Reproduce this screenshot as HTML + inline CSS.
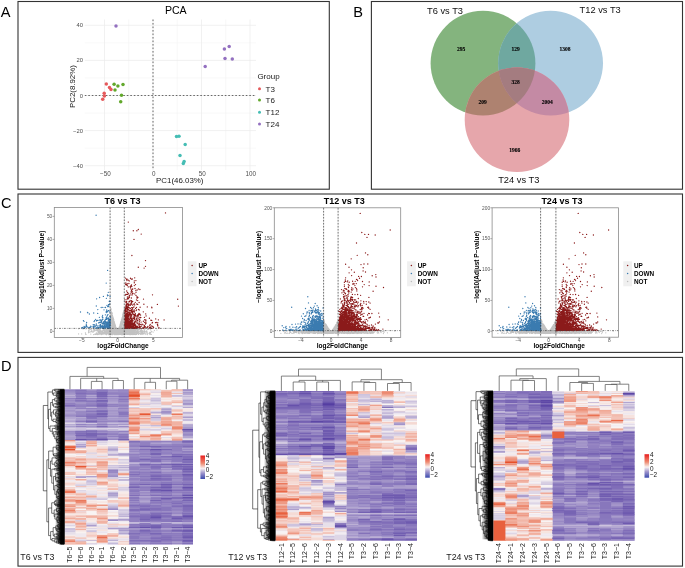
<!DOCTYPE html><html><head><meta charset="utf-8"><style>html,body{margin:0;padding:0;background:#fff;overflow:hidden}svg{display:block;will-change:transform}</style></head><body>
<svg width="685" height="568" viewBox="0 0 685 568">
<rect width="685" height="568" fill="#fff"/>
<line x1="128.75" y1="19.5" x2="128.75" y2="170" stroke="#F3F3F3" stroke-width="0.6"/>
<line x1="177.25" y1="19.5" x2="177.25" y2="170" stroke="#F3F3F3" stroke-width="0.6"/>
<line x1="225.75" y1="19.5" x2="225.75" y2="170" stroke="#F3F3F3" stroke-width="0.6"/>
<line x1="84.8" y1="148.15" x2="256" y2="148.15" stroke="#F3F3F3" stroke-width="0.6"/>
<line x1="84.8" y1="113.05" x2="256" y2="113.05" stroke="#F3F3F3" stroke-width="0.6"/>
<line x1="84.8" y1="77.95" x2="256" y2="77.95" stroke="#F3F3F3" stroke-width="0.6"/>
<line x1="84.8" y1="42.85" x2="256" y2="42.85" stroke="#F3F3F3" stroke-width="0.6"/>
<line x1="104.50" y1="19.5" x2="104.50" y2="170" stroke="#EBEBEB" stroke-width="0.7"/>
<line x1="153.00" y1="19.5" x2="153.00" y2="170" stroke="#EBEBEB" stroke-width="0.7"/>
<line x1="201.50" y1="19.5" x2="201.50" y2="170" stroke="#EBEBEB" stroke-width="0.7"/>
<line x1="250.00" y1="19.5" x2="250.00" y2="170" stroke="#EBEBEB" stroke-width="0.7"/>
<line x1="84.8" y1="165.70" x2="256" y2="165.70" stroke="#EBEBEB" stroke-width="0.7"/>
<line x1="84.8" y1="130.60" x2="256" y2="130.60" stroke="#EBEBEB" stroke-width="0.7"/>
<line x1="84.8" y1="95.50" x2="256" y2="95.50" stroke="#EBEBEB" stroke-width="0.7"/>
<line x1="84.8" y1="60.40" x2="256" y2="60.40" stroke="#EBEBEB" stroke-width="0.7"/>
<line x1="84.8" y1="25.30" x2="256" y2="25.30" stroke="#EBEBEB" stroke-width="0.7"/>
<line x1="153.00" y1="19.5" x2="153.00" y2="170" stroke="#444" stroke-width="0.8" stroke-dasharray="1.6,1.9"/>
<line x1="84.8" y1="95.50" x2="256" y2="95.50" stroke="#444" stroke-width="0.8" stroke-dasharray="1.6,1.9"/>
<text x="82.90" y="167.70" font-family="Liberation Sans" font-size="5.8" text-anchor="end" fill="#4D4D4D" >&#8722;40</text>
<text x="82.90" y="132.60" font-family="Liberation Sans" font-size="5.8" text-anchor="end" fill="#4D4D4D" >&#8722;20</text>
<text x="82.90" y="97.50" font-family="Liberation Sans" font-size="5.8" text-anchor="end" fill="#4D4D4D" >0</text>
<text x="82.90" y="62.40" font-family="Liberation Sans" font-size="5.8" text-anchor="end" fill="#4D4D4D" >20</text>
<text x="82.90" y="27.30" font-family="Liberation Sans" font-size="5.8" text-anchor="end" fill="#4D4D4D" >40</text>
<text x="105.30" y="176.10" font-family="Liberation Sans" font-size="6.3" text-anchor="middle" fill="#4D4D4D" >&#8722;50</text>
<text x="153.80" y="176.10" font-family="Liberation Sans" font-size="6.3" text-anchor="middle" fill="#4D4D4D" >0</text>
<text x="202.30" y="176.10" font-family="Liberation Sans" font-size="6.3" text-anchor="middle" fill="#4D4D4D" >50</text>
<text x="250.80" y="176.10" font-family="Liberation Sans" font-size="6.3" text-anchor="middle" fill="#4D4D4D" >100</text>
<text x="179.80" y="182.60" font-family="Liberation Sans" font-size="7.9" text-anchor="middle" fill="#1A1A1A" >PC1(46.03%)</text>
<text x="0" y="0" font-family="Liberation Sans" font-size="7.9" text-anchor="middle" fill="#1A1A1A" transform="translate(75.4,86.6) rotate(-90)">PC2(8.92%)</text>
<text x="175.80" y="13.60" font-family="Liberation Sans" font-size="10.6" text-anchor="middle" fill="#000" >PCA</text>
<circle cx="106.3" cy="84" r="1.75" fill="#E5595B"/>
<circle cx="109.5" cy="87.6" r="1.75" fill="#E5595B"/>
<circle cx="111" cy="89.5" r="1.75" fill="#E5595B"/>
<circle cx="104.2" cy="93.3" r="1.75" fill="#E5595B"/>
<circle cx="104.4" cy="96" r="1.75" fill="#E5595B"/>
<circle cx="102.7" cy="99.2" r="1.75" fill="#E5595B"/>
<circle cx="114.1" cy="84.2" r="1.75" fill="#62A82C"/>
<circle cx="117.9" cy="85.9" r="1.75" fill="#62A82C"/>
<circle cx="123" cy="84.4" r="1.75" fill="#62A82C"/>
<circle cx="115" cy="89.9" r="1.75" fill="#62A82C"/>
<circle cx="121.5" cy="95.2" r="1.75" fill="#62A82C"/>
<circle cx="120.7" cy="101.7" r="1.75" fill="#62A82C"/>
<circle cx="176.5" cy="136.6" r="1.75" fill="#45BDB4"/>
<circle cx="179" cy="136.2" r="1.75" fill="#45BDB4"/>
<circle cx="185.2" cy="144.5" r="1.75" fill="#45BDB4"/>
<circle cx="180" cy="155.5" r="1.75" fill="#45BDB4"/>
<circle cx="184.1" cy="161.6" r="1.75" fill="#45BDB4"/>
<circle cx="183.3" cy="163.5" r="1.75" fill="#45BDB4"/>
<circle cx="116" cy="26" r="1.75" fill="#9370C0"/>
<circle cx="224.4" cy="48.9" r="1.75" fill="#9370C0"/>
<circle cx="229.2" cy="46.4" r="1.75" fill="#9370C0"/>
<circle cx="225" cy="58.5" r="1.75" fill="#9370C0"/>
<circle cx="232.3" cy="59" r="1.75" fill="#9370C0"/>
<circle cx="205.2" cy="66.6" r="1.75" fill="#9370C0"/>
<text x="257.40" y="78.60" font-family="Liberation Sans" font-size="8.0" text-anchor="start" fill="#1A1A1A" >Group</text>
<circle cx="259.5" cy="88.7" r="1.5" fill="#E5595B"/>
<text x="265.60" y="91.60" font-family="Liberation Sans" font-size="8.0" text-anchor="start" fill="#1A1A1A" >T3</text>
<circle cx="259.5" cy="100.1" r="1.5" fill="#62A82C"/>
<text x="265.60" y="103.00" font-family="Liberation Sans" font-size="8.0" text-anchor="start" fill="#1A1A1A" >T6</text>
<circle cx="259.5" cy="112.3" r="1.5" fill="#45BDB4"/>
<text x="265.60" y="115.20" font-family="Liberation Sans" font-size="8.0" text-anchor="start" fill="#1A1A1A" >T12</text>
<circle cx="259.5" cy="124.1" r="1.5" fill="#9370C0"/>
<text x="265.60" y="127.00" font-family="Liberation Sans" font-size="8.0" text-anchor="start" fill="#1A1A1A" >T24</text>
<defs><clipPath id="cg"><circle cx="483" cy="63.2" r="52.4"/></clipPath><clipPath id="cb"><circle cx="550.6" cy="63.2" r="52.4"/></clipPath><clipPath id="cgb" clip-path="url(#cg)"><circle cx="550.6" cy="63.2" r="52.4"/></clipPath></defs>
<circle cx="483" cy="63.2" r="52.4" fill="#84B47E"/>
<circle cx="550.6" cy="63.2" r="52.4" fill="#AECDE1"/>
<circle cx="550.6" cy="63.2" r="52.4" fill="#6FA8A0" clip-path="url(#cg)"/>
<circle cx="517" cy="119.8" r="52.3" fill="#E6A6AB"/>
<circle cx="517" cy="119.8" r="52.3" fill="#AE8270" clip-path="url(#cg)"/>
<circle cx="517" cy="119.8" r="52.3" fill="#C48AA4" clip-path="url(#cb)"/>
<circle cx="517" cy="119.8" r="52.3" fill="#A47C80" clip-path="url(#cgb)"/>
<text x="461.20" y="51.40" font-family="Liberation Serif" font-size="5.5" text-anchor="middle" fill="#000" font-weight="bold" stroke="#000" stroke-width="0.12">295</text>
<text x="515.50" y="51.10" font-family="Liberation Serif" font-size="5.5" text-anchor="middle" fill="#000" font-weight="bold" stroke="#000" stroke-width="0.12">129</text>
<text x="565.00" y="51.10" font-family="Liberation Serif" font-size="5.5" text-anchor="middle" fill="#000" font-weight="bold" stroke="#000" stroke-width="0.12">1308</text>
<text x="515.70" y="84.00" font-family="Liberation Serif" font-size="5.5" text-anchor="middle" fill="#000" font-weight="bold" stroke="#000" stroke-width="0.12">328</text>
<text x="482.70" y="103.70" font-family="Liberation Serif" font-size="5.5" text-anchor="middle" fill="#000" font-weight="bold" stroke="#000" stroke-width="0.12">209</text>
<text x="547.30" y="103.70" font-family="Liberation Serif" font-size="5.5" text-anchor="middle" fill="#000" font-weight="bold" stroke="#000" stroke-width="0.12">2004</text>
<text x="514.80" y="151.50" font-family="Liberation Serif" font-size="5.5" text-anchor="middle" fill="#000" font-weight="bold" stroke="#000" stroke-width="0.12">1966</text>
<text x="427.00" y="13.90" font-family="Liberation Sans" font-size="9.3" text-anchor="start" fill="#111" >T6 vs T3</text>
<text x="579.60" y="12.90" font-family="Liberation Sans" font-size="9.3" text-anchor="start" fill="#111" >T12 vs T3</text>
<text x="498.20" y="182.90" font-family="Liberation Sans" font-size="9.3" text-anchor="start" fill="#111" >T24 vs T3</text>
<path d="M116.4 329.1h0M112.5 322.3h0M115.2 330.6h0M121.5 320.6h0M116.4 328.5h0M121 322.7h0M112.7 318.4h0M116.6 329.2h0M113.2 318.6h0M124 319.2h0M113.6 325.4h0M120.2 327.4h0M115.9 330.5h0M121.2 328.5h0M114.5 324.5h0M122.7 318h0M123.1 317.8h0M112.4 320.3h0M112 327.2h0M123.4 322.4h0M123 314.2h0M115.5 325.9h0M113.2 326.1h0M120.7 327.2h0M118.3 331h0M112.9 324.6h0M118.8 329.8h0M112.5 325.3h0M121.7 319.4h0M118.3 331.2h0M120.9 326.3h0M121.8 329.8h0M115.6 328.9h0M124.3 312.5h0M124.4 327.6h0M118.5 330h0M122.9 320.1h0M120.9 325h0M123.7 319.4h0M124.3 315.3h0M121.4 327.3h0M112.9 326.1h0M114.7 324.4h0M122.6 327.4h0M124.7 309.9h0M114.9 324.3h0M117.3 331h0M124.6 322.5h0M117.3 331.1h0M122.7 321.5h0M122 320.9h0M114.4 322.4h0M124.3 319.6h0M118.7 330.7h0M119.6 329.3h0M123.6 311.6h0M117.7 331.4h0M115.5 329.4h0M119 331.2h0M114.3 324.7h0M112.2 321.4h0M124.4 310.8h0M119.6 327.5h0M117.7 331.2h0M123.1 317.9h0M124.2 319.2h0M117.8 331.3h0M113 330.8h0M122.1 324.5h0M113.4 331h0M112.9 327h0M119.9 328.5h0M124.1 318.1h0M119.4 329.1h0M110.8 324.4h0M124.4 312.3h0M111.5 323.1h0M120.6 327.5h0M124.4 324.2h0M115.8 330.8h0M113.8 322h0M113.7 325h0M116.4 329.5h0M110.5 309.1h0M119.1 327.8h0M121.3 324h0M116.8 329.7h0M115.3 327.5h0M111.6 312.7h0M112.6 322.3h0M114.7 328.5h0M112.8 322.3h0M119.1 330.5h0M112.7 323.9h0M111.2 324.5h0M117.4 331.3h0M120 330.4h0M115.5 328.4h0M116.8 330.2h0M124.2 308.6h0M122.7 314.5h0M113 320.7h0M122.2 323.5h0M112.6 318.3h0M115.3 325.3h0M119.3 328.1h0M116.9 331h0M116.3 329.1h0M115.9 328.9h0M111.8 312.9h0M120.2 326h0M120.6 322.6h0M123 329.8h0M124.5 313.1h0M118.5 330.8h0M113.2 323.7h0M114.3 322.8h0M119.1 327.4h0M114.9 329h0M123.3 314.2h0M115.4 330.2h0M121.8 326.2h0M114.1 328.2h0M117.4 331.1h0M111.4 327.8h0M111.3 313.3h0M111.5 319h0M121 323.5h0M120.9 330h0M112.6 322.5h0M124.7 315.9h0M113.8 327h0M115.2 326.5h0M121.3 329.9h0M121.9 329.6h0M112.9 320.5h0M110.8 323.2h0M122 319h0M123.6 318.4h0M114 321.2h0M121.1 322h0M111.1 314.2h0M115.3 325h0M115.2 329.1h0M113.4 323.1h0M118.6 330.9h0M116.2 328.7h0M113.7 320.8h0M112.8 317.1h0M110.6 316.5h0M116.6 329.1h0M118 331h0M122.7 324h0M111.1 313.8h0M116.8 329.6h0M115.2 330.5h0M122.7 321.7h0M122.4 323.2h0M123.9 330h0M112.7 328.6h0M124.4 311h0M120 325h0M123.1 319.6h0M113.2 326.8h0M114.5 322.3h0M122.9 322.5h0M123.7 327.2h0M113.2 319.8h0M112.3 318.1h0M120.8 324.2h0M111.4 321.4h0M114.6 328.1h0M112.9 326.7h0M122.1 321.8h0M121.5 326.5h0M124.2 313.5h0M112.4 315.3h0M113.2 318.9h0M112.3 330.2h0M122.8 319.1h0M115 330.7h0M120.1 328.6h0M113 325.8h0M116.4 329.5h0M123.5 329.8h0M112 325.5h0M112.8 316.6h0M120.3 330.9h0M110.6 320.9h0M123.1 321h0M123.9 327.8h0M122.9 324.8h0M113.4 322.1h0M119.9 328.7h0M116.1 328.9h0M123.6 312h0M122.3 329.1h0M115.6 327.5h0M115.9 331.2h0M121.3 325.9h0M122.4 319.5h0M123.2 313.2h0M121.3 325.2h0M119.7 327.5h0M112.6 322.1h0M116.5 330.9h0M119.1 330.8h0M114.7 326h0M121.9 319.2h0M117.8 331.3h0M118.8 329.1h0M122.8 319.4h0M120.8 327.3h0M121.1 323.8h0M121.2 330.2h0M116.1 330.1h0M124.5 320.1h0M124.3 315.1h0M112.9 330.3h0M116.8 331.2h0M112.5 315.5h0M123.5 319.3h0M120.3 324.3h0M116.3 328.1h0M123 327.1h0M112.8 324.3h0M114.5 322.3h0M115.2 331.3h0M110.9 308.4h0M118.4 329.6h0M115.1 325.7h0M113.9 326h0M122 320.9h0M115.5 331.1h0M113.1 325.1h0M118.6 331.2h0M121.6 324.9h0M118.4 330.1h0M114.5 331h0M122.9 315.3h0M115.9 330.8h0M116.3 330.4h0M124.5 319.9h0M114.3 329.6h0M118.1 330.5h0M120.9 324h0M119.8 327.3h0M111.6 321h0M124 316.9h0M112 322.8h0M122.6 319.5h0M113.3 318.8h0M118.2 330.5h0M112.7 324.3h0M120.6 323.2h0M119.9 328.9h0M113.3 321.4h0M119.6 327.1h0M124.7 319.1h0M122.1 318.5h0M123.1 313.3h0M116.6 331h0M117.2 331.3h0M116.1 330h0M119.2 331.2h0M113.4 318.3h0M122.5 325.8h0M111.1 326.3h0M116.7 330.1h0M121.4 319.9h0M122.5 316.9h0M120.8 322.6h0M118.3 331h0M118.5 330.7h0M117.5 331.4h0M115 325.8h0M119 329.9h0M110.8 314.2h0M122.3 330.4h0M116.7 329.8h0M122.6 328.2h0M113.7 319.4h0M123.6 324.2h0M116 329h0M114.8 324.5h0M113.8 323.3h0M121.5 329.8h0M116.4 328.5h0M111.6 315.2h0M119 328.7h0M114 325h0M113.3 328.2h0M121 324h0M114.9 328.3h0M122.9 316h0M113.6 326.2h0M122.7 319.2h0M112 319.8h0M124.3 326.2h0M121.4 322.7h0M114.3 321.8h0M111 329h0M124.5 315.5h0M111.3 316h0M115.9 327.5h0M124.2 322.3h0M122.4 317.8h0M121.6 321.5h0M118.8 330.6h0M119 328.6h0M111.3 320h0M119.9 329.5h0M121.3 327.8h0M120.9 327.2h0M120.6 324.3h0M120.9 329.2h0M115.3 326.9h0M111.1 312.2h0M113.7 324.1h0M115.2 325.2h0M115.8 327.8h0M111.7 319.7h0M111.8 312.3h0M111.6 318.7h0M122.1 328.3h0M115 329.2h0M119.4 327.3h0M120.5 323.7h0M116.8 330.5h0M115.4 328.6h0M114.8 329.1h0M118.6 329.2h0M116.3 328.1h0M116.5 329h0M114.5 326.6h0M110.9 310.1h0M110.7 324.7h0M118.5 331.1h0M113.1 322.3h0M117.7 331.4h0M112.6 322.3h0M112.9 329.5h0M121.5 328.4h0M115.3 327.8h0M114 325h0M118 330.8h0M122.5 318.8h0M111.9 322.4h0M116.8 330.5h0M110.5 322.2h0M116.1 330.5h0M124.2 320.3h0M110.6 315.4h0M120.9 321.4h0M123.7 314.9h0M121.9 319.9h0M119.8 326.1h0M112.5 315.4h0M114.8 323.6h0M116.3 330.6h0M123.3 323.8h0M119.2 329.9h0M110.9 311.7h0M119.3 328.9h0M115 324.3h0M123.5 318.6h0M111.5 330.2h0M114.5 328.4h0M122.2 324.2h0M110.8 326.6h0M120 327.2h0M115.4 330.9h0M118.5 330.7h0M122.7 330.9h0M122.7 328.3h0M118.7 329.4h0M112.3 321.2h0M119.9 325h0M121.5 329h0M113.3 327.8h0M122 329.9h0M121.8 327.7h0M114.5 327.9h0M122.8 322.6h0M119.4 329.9h0M111.3 326.1h0M114.6 327.2h0M111.9 329.6h0M122.2 318.7h0M121.1 324.6h0M113.9 324.8h0M121.6 324.5h0M120.9 325.2h0M121.9 317.9h0M121.3 326.1h0M123.7 318h0M119.7 329.7h0M123.1 322.6h0M114.4 329.9h0M123.8 312.5h0M111.6 316.2h0M118.3 330.1h0M124.3 312.6h0M123.5 327.4h0M122.5 320.2h0M116 330.5h0M111.5 317.3h0M113.1 328.5h0M115.7 330.2h0M112.8 328.5h0M118.7 329.8h0M112.4 328.3h0M119.2 329.5h0M115.1 327.9h0M117.8 331h0M114.7 324.2h0M122.2 321.8h0M122.5 318.9h0M120.8 331.1h0M115.3 328.5h0M118.5 330.7h0M114.8 325.4h0M123.3 327.6h0M110.9 309h0M111 322h0M116.8 329.8h0M118.7 329h0M114.7 326.7h0M121.8 331.3h0M117.1 331.2h0M116.8 330.5h0M111.6 315.3h0M110.5 317.5h0M121 321.5h0M123.4 313.2h0M112.4 324.4h0M123.2 312.5h0M120.9 325.4h0M124.3 328.5h0M118.7 331.2h0M115.4 328.7h0M122.4 323.7h0M115.5 330h0M111.5 312.2h0M111.6 323.4h0M123.4 315.5h0M111.2 324.9h0M112.8 323.4h0M119.1 329.5h0M120.2 325.2h0M117.5 331.4h0M114.5 328.6h0M112.8 317.9h0M112.4 319.3h0M122.9 327.1h0M119.7 329.5h0M110.9 327.8h0M113.5 320.1h0M115.9 329.1h0M124.3 311.1h0M122.6 320.7h0M112.5 317.5h0M113 319.6h0M117.6 331.4h0M113.4 326.9h0M112.3 323h0M122.6 321.6h0M119.4 326.6h0M113.9 327.2h0M112.3 317.4h0M124.1 323.8h0M115.7 327.8h0M121.9 320.6h0M117 331.4h0M119.1 328.4h0M114.6 323.5h0M117.4 331.1h0M120.4 324h0M123.9 321.3h0M115.2 329.9h0M116.3 330h0M116.7 329.4h0M121.8 321.7h0M120.8 325.9h0M112.9 331.1h0M114.5 330.2h0M121.6 323.5h0M114.4 322.9h0M119.9 327h0M117.5 331.3h0M119.9 331.3h0M123.1 326.1h0M114.9 326h0M123.3 324.2h0M118 330.9h0M122.8 330.1h0M123.6 318.8h0M119.6 328.4h0M114.6 331h0M115.4 326.3h0M114.2 322.9h0M124.2 327.3h0M122.8 319.6h0M116.7 329.4h0M110.5 316.6h0M112.5 318.1h0M111.7 327.6h0M111.5 329.2h0M124.2 324.1h0M111.9 315.8h0M115.4 329.1h0M123.1 315.3h0M122.6 329.5h0M120.9 325.9h0M111.3 320.2h0M117.7 331.2h0M121.5 322.6h0M124 313.9h0M121.7 322.8h0M120.6 329.4h0M118.6 329.6h0M119.2 328.2h0M119.8 326.7h0M124.7 317.9h0M121.8 324.7h0M115.1 329.9h0M111.2 312.5h0M122.2 323.8h0M120 324.9h0M122.5 325.8h0M117.3 331.1h0M113.6 326h0M121.6 322.9h0M118.2 330h0M112.7 326.5h0M117.8 331.2h0M119.2 329.8h0M123.1 328.6h0M120.7 330.7h0M112.3 313.7h0M113.5 326h0M114 323h0M113.1 319.6h0M117.8 331.1h0M117.6 331.4h0M124.3 314.2h0M112.5 315.5h0M116 329.2h0M122.7 315.9h0M124.3 310.7h0M111.5 314.4h0M112.8 319.7h0M113.6 319.2h0M122.3 322.7h0M116.1 327.6h0M114.1 329.9h0M123.9 314.7h0M120.5 329.9h0M119.8 328.6h0M113.6 323.3h0M111.7 316.3h0M124 315.1h0M110.5 325h0M110.7 327.9h0M116.6 330.9h0M114.1 324h0M121.8 328h0M122.6 315.9h0M118.6 329.7h0M120.5 328.1h0M114.6 325.3h0M113 329.6h0M120.5 325.6h0M120.1 329.8h0M119.2 328.5h0M112.7 325.6h0M120.1 327h0M119.3 328h0M124.2 324.6h0M120.6 330.5h0M119.9 330h0M118.4 329.8h0M113.6 319.4h0M114.9 326.3h0M113.2 329.4h0M120.1 326.6h0M121.2 326.7h0M116.5 330.7h0M118.2 330.4h0M124.3 310.5h0M123 320.4h0M120.9 325h0M115.9 327.2h0M122.5 331.3h0M122.1 318.5h0M112.9 317.1h0M124.6 309.7h0M114.8 326.3h0M124.3 310.1h0M114.2 325.5h0M110.6 320.3h0M110.6 317.3h0M120.8 330.6h0M113.8 330.7h0M111.1 318.1h0M124.1 316.7h0M116.7 331.2h0M113.7 321.7h0M118.5 330.9h0M111.4 325.3h0M119.8 328h0M115 325.2h0M120.2 327.2h0M122.9 315.1h0M115 325.4h0M114.2 324.8h0M123.9 311.9h0M114.2 326.9h0M124.2 316.5h0M124.2 315.2h0M121.1 329.8h0M119.5 329.6h0M124.4 308.1h0M121.8 326.2h0M120.4 323.7h0M117 331.3h0M114 327.8h0M117.3 331.2h0M112.9 331.3h0M114.5 324.2h0M120 329.3h0M115.8 328.2h0M112 328.5h0M111.1 316.9h0M117.7 331.3h0M113.6 324.4h0M116.9 330.1h0M118 331.1h0M110.6 312.4h0M120.1 325.3h0M113.5 327.3h0M111.1 322.8h0M122.4 320.8h0M120.4 329.3h0M112.4 331.1h0M111.9 318.4h0M112.8 319.5h0M120.6 329.9h0M112 319.5h0M120.5 326.6h0M120.5 326.5h0M115.3 325.3h0M124.6 329.4h0M116.5 330.7h0M118.1 331.3h0M120 326.8h0M116.5 329.1h0M114.7 326.2h0M124.4 329.9h0M124.4 317.6h0M115.7 330.5h0M120 330.4h0M120.7 327.8h0M110.8 310.4h0M115.4 326.9h0M112 312.8h0M112.8 322.7h0M111.2 325.7h0M115.3 328.6h0M124.3 328.2h0M124.7 319.3h0M114.5 325.2h0M110.9 314.6h0M112.2 313.8h0M115.7 329.1h0M114.2 329.9h0M115.5 326.3h0M111.1 325.8h0M115.7 329.3h0M124 326.8h0M115.3 326.6h0M124.1 311.2h0M123.4 325.7h0M123 319.7h0M119.8 331.1h0M112.3 318.4h0M122.3 328.1h0M120.4 328.2h0M124.7 315.9h0M124.5 318.4h0M122.5 318.4h0M111 329.9h0M114.9 329.2h0M116.1 330.4h0M114.9 327.8h0M113.3 319.3h0M111.1 309.4h0M123.7 311.1h0M119.6 330h0M123.6 325.7h0M111.2 323.2h0M122 322.1h0M113.8 321.1h0M121.2 324.9h0M119.3 331.1h0M115.5 327.1h0M113.7 323.1h0M113.7 325.8h0M113.6 323.6h0M121.1 328h0M111.4 323.3h0M119 329h0M119.1 329.6h0M124.3 321.5h0M113.2 328.4h0M122.2 317.9h0M121.2 324.8h0M120.9 322.4h0M114.8 326h0M113.5 329.8h0M111.6 330h0M117.2 331.2h0M110.8 320.7h0M116 330.4h0M113.8 326.4h0M111.6 312.2h0M116.4 331.3h0M122.5 329.4h0M113 320.2h0M121.8 321h0M123.6 324.4h0M116.5 331h0M119.4 329.3h0M111 314.3h0M110.8 322.9h0M116.5 329.9h0M112.6 322.9h0M116.7 329.5h0M110.9 315.4h0M110.8 321.2h0M112.5 323.3h0M121.3 329.2h0M122.5 318.1h0M113.4 327.8h0M123.6 327.8h0M111.5 322.9h0M123.8 315.9h0M123.7 318.9h0M119.4 331.3h0M119.3 328.4h0M112.4 317.9h0M121.8 321h0M110.7 324.5h0M118.1 331.3h0M114.4 327.1h0M111.3 325.1h0M114.1 321.1h0M116.4 329.3h0M120.2 328.5h0M110.7 310.6h0M111.9 318.7h0M123.7 329.8h0M119.7 329.7h0M123.5 324.7h0M117.7 331.3h0M115.8 328h0M112.9 327.4h0M122.5 317.3h0M114.1 326.3h0M124.5 307.4h0M120.5 326h0M119.8 331.2h0M119.3 329.2h0M112.1 318h0M123.6 321h0M111.6 316.7h0M112.9 329.1h0M117.9 331.4h0M120.8 329.9h0M116.2 328.8h0M119.9 329.5h0M117.3 331h0M122.7 317.3h0M119.7 330.3h0M121.9 330h0M124.5 313.8h0M115.7 327.4h0M115.3 325.5h0M115.5 328.9h0M118.2 331.3h0M113.3 320.4h0M113.4 322.6h0M113.1 317.4h0M124.5 322h0M113.2 331.1h0M113 329.9h0M124 311.2h0M111.3 321.9h0M113.6 329.8h0M122.2 330.5h0M123.1 334.5h0M140.8 333.5h0M147.3 334h0M131.7 334.1h0M129.2 333h0M128.2 333h0M122.1 333.9h0M112.3 333.9h0M86 334.4h0M130.8 331.7h0M128.5 334.2h0M121.2 330.6h0M122.5 329h0M133.6 333.3h0M132.9 333.3h0M123.3 330h0M117.5 331.2h0M128.7 334.3h0M131.3 328.8h0M149.9 334.4h0M108.8 331.2h0M127.3 333.4h0M109.1 329.9h0M114.8 333.7h0M151.8 331.3h0M115.3 331.7h0M119.1 332h0M113.1 331.7h0M132.1 331.9h0M115.2 332.9h0M98.7 331.7h0M122.6 333.7h0M131.6 333.8h0M120.4 331.1h0M122.8 331.7h0M111.5 331h0M108.3 331.3h0M120.7 330.9h0M105.6 332.9h0M114.8 328.5h0M107.5 333h0M117.5 333.1h0M131.1 332.9h0M120.1 334.4h0M135.5 328.5h0M125.3 329.4h0M118.8 328.6h0M108.5 331.8h0M121.8 329.5h0M105.1 329.7h0M130.4 333.3h0M102.6 331.3h0M102 334.2h0M109.1 329.6h0M98.2 332.4h0M121.7 329.5h0M110.1 330.8h0M114.2 331.1h0M128.5 332.9h0M91.1 329.7h0M117 333.3h0M125 333.8h0M133.8 332.7h0M122 330.4h0M111.4 330.1h0M132.6 334.1h0M132.5 328.9h0M149.6 333.4h0M148.7 329.1h0M117.6 331.2h0M138.4 328.5h0M123.1 334.1h0M106.9 331h0M129.7 331.6h0M137.6 333.4h0M89.2 330h0M137.9 331.7h0M109.4 329.3h0M141.6 329.4h0M123.4 333.2h0M122.3 332.6h0M138.8 333h0M115.9 330h0M148 329.4h0M107.6 329.7h0M112.4 334.6h0M105.9 330.9h0M127.4 334.4h0M119.3 328.5h0M130.8 329.1h0M134.7 332.4h0M130.7 332.5h0M134.5 333.9h0M134.6 331.2h0M119 330.6h0M110.4 330.1h0M107.1 333.7h0M129.9 331.2h0M113 330.3h0M107.2 329.5h0M108.9 334.5h0M117.1 331.6h0M123 332.8h0M116.6 331.2h0M106.3 331.3h0M127 332.2h0M90.3 328.7h0M115.5 330.7h0M133.4 332.6h0M123.2 328.8h0M135.3 332.5h0M121 329.8h0M127.2 330h0M120.1 333.8h0M113.8 332.5h0M124.5 333.2h0M132.3 328.7h0M93.4 331.9h0M108.6 329.1h0M91.6 330.8h0M106.9 329.9h0M102.2 333.2h0M112.8 332.3h0M115.2 329.5h0M131.7 330.2h0M135.3 328.9h0M108.4 329.8h0M112.4 330.5h0M127.1 330.4h0M110.4 332.9h0M113.5 333.7h0M94.5 330.9h0M128.5 330.9h0M122.3 329.2h0M106.2 333.1h0M101.4 333.1h0M104.8 328.9h0M124.6 331.6h0M112.5 331.6h0M102.8 330.6h0M114.5 334.6h0M130.2 333.5h0M135.4 329h0M136.6 333.8h0M120.7 328.9h0M122.5 328.9h0M123 334.2h0M128 331.4h0M127 332.8h0M106.6 330.5h0M109.6 328.8h0M114.2 332.7h0M128.6 333.8h0M112.6 328.8h0M109.2 329.8h0M132.7 332.3h0M138.5 329.3h0M107.4 331.4h0M117.5 334h0M134.5 332.3h0M114.1 330h0M131.4 332.7h0M100.7 330.6h0M116.5 333.5h0M128 329.8h0M139.4 333.3h0M131.8 332.5h0M98.1 329.8h0M99.2 333.4h0M107.9 331.8h0M130.2 329.6h0M128.9 330.6h0M133.5 334.1h0M128.4 334h0M111.8 329.8h0M114.3 334.3h0M107.6 333.6h0M130.2 334.2h0M102.7 333.4h0M120.1 330.8h0M122.5 332.7h0M135.4 334.5h0M109.2 330.6h0M124.5 331h0M106.1 331.2h0M132.7 330.9h0M114.5 330.7h0M115.2 333.4h0M106.8 334.5h0M111.3 332.2h0M110.8 334.5h0M111.2 332h0M134.5 329.5h0M106.3 333.9h0M122.4 330.4h0M130.2 330.8h0M104.4 329.4h0M91.1 331.4h0M125.4 330.4h0M97.6 329.9h0M109.1 330.8h0M118 333.3h0M122.9 328.8h0M115.8 331.7h0M110.1 333.3h0M132.3 329.4h0M122.2 330.7h0M144.5 332.3h0M107.5 330h0M118.1 331.7h0M118.7 330.5h0M126.4 329.2h0M122.3 334.5h0M119.6 329.9h0M144.9 328.9h0M117.2 329.5h0M125.1 328.4h0M121.8 332h0M111.4 333.1h0M129.1 332.4h0M95 334.4h0M134.3 330.6h0M99 333.8h0M115.2 329.3h0M120.7 328.4h0M112.9 332h0M112.5 330h0M135 332.9h0M150.6 328.5h0M133 328.9h0M121.5 330.5h0M111.2 331.3h0M109.3 334.5h0M135.2 328.6h0M131 334.6h0M136.6 328.9h0M132.5 331.6h0M136.7 328.5h0M111.5 332.2h0M109.1 332.5h0M106.1 330.7h0M119 330.1h0M116.8 331h0M120.8 334.4h0M103.6 333.5h0M121.6 332.1h0M129.8 332.6h0M120.3 330.6h0M84.2 328.6h0M119 330.7h0M114.6 331h0M131.2 334.2h0M117.2 332.8h0M127.6 329.6h0M114.3 329.5h0M123.6 333.6h0M132 330.3h0M115.8 329.3h0M123.3 328.9h0M121.4 331.7h0M127.3 332.2h0M117.8 334.2h0M125.5 332.8h0M95.5 334.1h0M116.3 331.3h0M130 333.3h0M128 329.1h0M106.8 333.5h0M108.9 334.3h0M124.4 329h0M123.9 330.8h0M125.3 330.9h0M120.1 330.6h0M120.7 334.3h0M132.7 334.2h0M107.2 332.6h0M101.3 331.9h0M132.4 331.5h0M109.4 330.1h0M128.2 331h0M110.5 331.6h0M105 329.7h0M139.2 331.2h0M118.3 334.3h0M101 331.5h0M116.4 332.4h0M117 332.4h0M116.5 333.4h0M121.3 330.3h0M104.3 333.3h0M115.5 333.8h0M124.9 330.5h0M127.1 329.6h0M120.2 329h0M108.7 333.2h0M93.6 334.6h0M138 331.3h0M104.6 328.5h0M113.3 333.2h0M119.3 332.4h0M124.9 329h0M118.8 330.5h0M108.6 330.9h0M118.6 330.1h0M145.9 333.6h0M151.4 331.8h0M116.3 333.3h0M127.5 330.9h0M96.6 330.6h0M121.9 331.4h0M128.4 329.9h0M115.3 333.7h0M142.7 331.7h0M130.5 334.6h0M127.1 333.1h0M85.5 334h0M111.3 332.8h0M128.4 329h0M112.9 329h0M96.5 332.8h0M111.8 331.2h0M138.9 332.9h0M128 333.1h0M130.5 331.6h0M121.8 328.8h0M140.1 329h0M83.1 329.1h0M103.9 328.8h0M144.1 329.3h0M132.9 333.7h0M122.5 334.5h0M114.9 332.6h0M96 334.3h0M113.8 333.2h0M117.5 333.4h0M107.4 331.5h0M137.1 328.8h0M132.7 330.4h0M115.7 330.3h0M131 331.7h0M118.8 329.3h0M122.9 330.5h0M113.2 328.6h0M151.4 334.3h0M100 332.5h0M117.5 330.6h0M132.8 332.5h0M132.7 332.3h0M98.4 332.3h0M107.2 329.5h0M118.2 333.2h0M109.1 330.1h0M110.8 333.3h0M116.2 330.7h0M117.4 331h0M133.7 333.4h0M97.4 330.9h0M133.1 333.6h0M116.5 331.1h0M127 330.3h0M114.9 333h0M149.8 333.1h0M96.2 333h0M134.8 334.4h0M113.7 331.1h0M116.5 330.8h0M137.8 328.9h0M116.9 334h0M131.2 332.6h0M138.3 328.6h0M111.8 331.2h0M145.7 331.7h0M135.9 331.9h0M116.7 331.3h0M122.5 329.8h0M110.4 334.3h0M123.4 331.7h0M130.9 334.2h0M132.6 334h0M122.6 332.2h0M113 333.6h0M111.3 333.4h0M107.3 331.8h0M116 329.2h0M127.4 328.7h0M112.1 331.6h0M110.8 333.1h0M106 331.2h0M127 332.5h0M116.3 329.4h0M98.7 328.7h0M133.9 334.5h0M133.3 334.4h0M119.9 330.2h0M115.1 328.6h0M119.2 333h0M107.7 330.7h0M132.6 334.5h0M137.5 330h0M132.9 331.5h0M122.7 328.5h0M122.6 328.8h0M126.5 333.9h0M141.7 333.4h0M109.3 330.8h0M119.4 333.7h0M110.7 330.9h0M104 329.8h0M123.9 331.3h0M134.2 331.9h0M106 328.5h0M132.3 329.2h0M128.3 330h0M125.6 330.6h0M137.2 333.6h0M111.1 333.3h0M140.4 330.6h0M115 330h0M126.6 332.6h0M99.7 331.3h0M132.2 332.7h0M120 329.2h0M112.3 331.7h0M106.3 332.9h0M122.2 329.5h0M136.7 332.1h0M126.4 330h0M115.2 333.1h0M109.7 331h0M106 332.3h0M115.3 333.4h0M98.9 330.5h0M114.7 330h0M133.6 330.9h0M118.7 331.7h0M117.5 330h0M111.7 333.9h0M128.7 334.4h0M127.6 333.3h0M137.8 330.1h0M110.5 331.2h0M105.1 332.7h0M111.6 330.4h0M103.5 332.4h0M118.7 332.5h0M113.8 329.8h0M108.3 328.6h0M118.7 328.5h0M132.3 332.9h0M128.6 330.9h0M111.2 333.2h0M119.8 333.5h0M123.3 333.2h0M127.8 330.1h0M114.9 329.9h0M102.7 331.9h0M123.7 332.7h0M106.8 332.7h0M114.5 332.5h0M115.8 329.6h0M131.1 332.1h0M113.2 333.2h0M121.4 329.4h0M116.5 333.6h0M112.2 328.8h0M130.6 332.1h0M113.3 329.7h0M125.4 331.4h0M122.9 330.3h0M95.4 330.5h0M98 331h0M78.7 328.8h0M123 331.2h0M122.6 331.2h0M112.5 329.8h0M112.5 331.8h0M115.1 332.3h0M111.2 330.6h0M118.8 331.9h0M118.8 333.5h0M107.8 331h0M137.6 332.5h0M132.2 331.4h0M114 329.4h0M147.2 328.6h0M150.8 328.4h0M135.2 334.1h0M134.7 329h0M111.8 328.6h0M115.3 332h0M99 332.3h0M114 331.7h0M131.9 334h0M114.1 330.4h0M97.8 333.1h0M140 333.3h0M144.7 331.8h0M138.9 329.5h0M99.7 334.2h0M130 331.2h0M108.7 328.9h0M117.6 329.2h0M128.4 333.7h0M139.1 332.9h0M111.4 334.4h0M114.9 329.8h0M103.2 334.2h0M119.5 330.8h0M106.9 329.4h0M113 330.4h0M129.2 329.4h0M119.3 330.8h0M121 334.3h0M123.1 333.5h0M129.8 329.1h0M137.3 333.8h0M104.4 332.4h0M98.7 332h0M126.1 330.1h0M128.4 328.4h0M137.4 329.8h0M129.6 333.8h0M141.8 334.2h0M126.1 331.6h0M111.3 333.7h0M132.4 332.2h0M108 330.8h0M110.6 331.5h0M124.7 332.4h0M116.2 332.1h0M131.5 328.4h0M114.6 329.8h0M143.1 333.9h0M106.3 331.7h0M128.6 330.1h0M113.5 328.6h0M137.8 332.7h0M112.1 329.6h0M129.4 330h0M78.6 333.9h0M110 334.4h0M140.9 334.2h0M122.1 334h0M120.7 330.3h0M131.1 334.4h0M150.7 329.9h0M105.4 331h0M118.6 328.9h0M113.7 332.8h0M128.7 329.1h0M110.5 328.8h0M99.4 331.6h0M99.9 332.2h0M128.2 331.3h0M122.4 329.5h0M130.8 329.2h0M99 330.7h0M108 333.4h0M112.6 334.5h0M130.7 329.5h0M125.4 329.7h0M117.5 332.5h0M106.7 332.8h0M122.2 329.3h0M113.6 332.3h0M131.2 333.7h0M142.3 330.6h0M121.3 328.5h0M105.2 330.8h0M150.5 334.2h0M128 333.4h0M126.7 332.6h0M121.3 328.5h0M122 333.3h0M121 332.7h0M123.2 334.3h0M100.4 332.7h0M110.6 329.3h0M118.6 332.8h0M121.7 330h0M122.4 328.5h0M125.4 333.8h0M96.3 333h0M107.3 332.3h0M111.2 334.5h0M121.5 334.4h0M117.3 328.9h0M145.4 328.5h0M114.9 331.9h0M116.7 328.9h0M99.8 333.3h0M143.4 332.1h0M120.9 330.4h0M118.4 332.8h0M111.5 330.5h0M121 330.9h0M115.3 328.6h0M135.6 329.5h0M109.4 332.5h0M114.2 331h0M113 331.6h0M127.5 331.4h0M124.2 331.3h0M132.6 331.8h0M126.9 334.4h0M127.3 333.7h0M120.6 333.1h0M131.6 328.7h0M126.2 328.9h0M124.2 330.5h0M99.2 329h0M113.9 329.7h0M111 330.8h0M96.4 333h0M136.8 333.5h0M138.6 334.4h0M133.9 328.8h0M127.3 332.6h0M139.1 328.5h0M98.2 334.4h0M136.3 331.3h0M93.6 328.7h0M121.9 334.3h0M121.4 328.4h0M126.4 329.9h0M128.3 332.8h0M129 328.6h0M110.7 329.7h0M111 332.9h0M109 328.9h0M121.4 333.1h0M115.3 329.3h0M99.2 329.4h0M132.2 330.5h0M105 331.4h0M113.4 332.7h0M110.1 333.6h0M110.1 332h0M127.2 333.7h0M110.8 331.3h0M101.2 330.9h0M111.1 330h0M106.4 332.2h0M99.8 331.9h0M131.5 330.1h0M134.6 332.3h0M101.1 334h0M139.9 329.1h0M143.3 333.7h0M101.8 334.3h0M125.1 333.1h0M116.1 329.4h0M130.4 329.9h0M81.7 333.9h0M127.7 330.6h0M114.9 329.2h0M125.8 328.8h0M131.1 331.3h0M89.2 329.2h0M119 332.4h0M119.6 334.4h0M127.4 333.7h0M134.3 333h0M129.4 334.4h0M109.7 328.6h0M128.8 328.4h0M109.9 329.1h0M129.6 331.3h0M117.4 331.9h0M117.4 332.6h0M121.4 331.1h0M99.1 333.8h0M115.6 329.8h0M104.3 332.5h0M131.6 329.6h0M136.1 334h0M101 332.9h0M90.7 329.5h0M122.8 329.7h0M112.3 330.5h0M107.6 331.1h0M149.2 328.5h0M114.3 330.5h0M106.4 332.7h0M116.1 333.4h0M123.4 331.9h0M140 328.8h0M123.6 333.6h0M103.5 329.2h0M113.3 329.9h0M143.4 333.6h0M97.2 334.5h0M119.1 334.2h0M134.9 331.4h0M123.1 333.1h0M116.9 330.2h0M108.3 331.2h0M121.8 332.2h0M126.5 331.2h0M122.6 330.1h0M132.9 330.2h0M122.4 333.8h0M136.4 333h0M121.6 333.4h0M131.5 330.9h0M115.6 328.7h0M142.3 331.7h0M136 334.3h0M128.7 332.2h0M107 332.8h0M122.3 331.8h0M81.9 328.6h0M115.1 328.6h0M121.9 331.2h0M108.6 330.1h0M121.9 334.5h0M128.4 331h0M143.2 330.8h0M120.1 329.4h0M99.7 331.9h0M89.6 332h0M117.8 329.3h0M131.5 333.8h0M134.4 328.7h0M121.2 330.3h0M111.4 329.2h0M110.8 329.2h0M118.1 332.2h0M121.1 328.9h0M127.6 330.1h0M121.5 330.7h0M145.9 333.8h0M122 331.5h0M126.3 331.1h0M133.5 333.7h0M132.2 332.5h0M111.6 331.6h0M99.1 333.2h0M103.2 333.1h0M124.8 332.1h0M127.7 333.8h0M124.5 332.7h0M130.2 332.1h0M136.8 333h0M110.1 333.2h0M153.1 332h0M154.4 330.5h0M129.9 334.3h0M117.9 332.6h0M123.4 332.9h0M102 331h0M120.5 334h0M109.6 333.9h0M118.9 328.8h0M116 331.2h0M146.8 330.9h0M109 333.6h0M124.2 334.5h0M114.9 334.1h0M140.6 334.3h0M133.9 332.4h0M100.5 333.1h0M107.5 328.7h0M123.8 334.4h0M112.2 334.6h0M126 334.1h0M121.2 334.6h0M106.2 331.6h0M116.3 332.1h0M126.3 332.7h0M119.2 328.6h0M122 330h0M125 333.4h0M118.6 334h0M137.6 329.1h0M103.8 329.3h0M126.3 334.1h0M113.5 329.4h0M125.4 330.8h0M131.1 329.8h0M128.4 330.1h0M128.9 332.6h0M130 329.3h0M127.1 334.4h0M117.2 328.8h0M129.7 334.3h0M132.8 330.5h0M131.4 331.7h0M123.8 330.7h0M123.8 328.8h0M94.5 330.1h0M109.6 331.5h0M117.6 330.4h0M133.1 332.3h0M135.6 333.7h0M122 333.8h0M105.6 333h0M126.4 329h0M132.9 331.9h0M130 330.3h0M111.1 332.5h0M106.2 329.5h0M108.5 330.7h0M106.2 333.1h0M133 334.3h0M124.1 329.8h0M148 333.5h0M141.4 329.9h0M133.1 333.7h0M111.2 329.6h0M128.6 330.3h0M125.9 333.5h0M101.9 331.8h0M103.7 330.5h0M110.5 333.5h0M136.3 333.4h0M115 333.5h0M102.1 334.2h0M121.1 328.7h0M127.8 333.3h0M104.3 331.2h0M144.7 333.5h0M110.3 332.9h0M133.7 329.1h0M128.8 333.4h0M110.5 334.2h0M118.4 329.4h0M120.2 331.5h0M115.3 331.8h0M129.7 328.8h0M120.7 332.4h0M97.5 329.8h0M121.1 332.1h0M105 331.9h0M116.9 330.1h0M122.9 332.2h0M118.4 334.5h0M133.1 333h0M118.9 329.2h0M113.1 332.6h0M141.2 330.9h0M129.4 330.9h0M118.1 329.7h0M120 332.3h0M114.7 330.5h0M120.9 332.3h0M107.4 333h0M142.7 334.2h0M135.8 329.6h0M90.8 334.1h0M107.4 332.3h0M119.2 330.6h0M111.4 332.9h0M92.2 331.5h0M128.8 329.5h0M104.4 330h0M128.7 332.5h0M125.7 329h0M139.5 329.3h0M108.2 329.6h0M143.4 333.3h0M103.9 332.1h0M139.2 328.4h0M133.6 330.9h0M125.5 333.1h0M105.7 331.8h0M140.8 332.3h0M130.3 331.1h0M98.3 332.7h0M86.2 328.7h0M111.2 331.5h0M108.7 331.6h0M129.1 334.4h0M121.6 333.2h0M124 333.4h0M113.2 332h0M132.2 334.2h0M112.4 332.7h0M100.2 329.4h0M88.6 331.5h0M126.6 329h0M111.9 332.1h0M97.6 331h0M108.4 329.3h0M114.7 332.3h0M128.8 331.7h0M92.2 332h0M114.6 331.3h0M129.5 332.9h0M126.1 330.1h0M130.6 333.3h0M145.7 334.2h0M108.9 333.8h0M112.2 333.6h0M134 331.5h0M141.1 329.8h0M124.6 332h0M116 333.6h0M105.2 334h0M128.3 329.9h0M124.8 332.2h0M106.4 334.5h0M113.5 330.3h0M107.6 329.5h0M127.9 328.7h0M118.5 329.2h0M136.5 334.4h0M137.9 330.4h0M124.7 331.1h0M135.9 332.3h0M134.1 333.9h0M140 333.7h0M114.4 329.8h0M128.8 332.6h0M144.6 330.7h0M129.3 331h0M115.3 330.1h0M124 330.2h0M150.6 332.3h0M115.8 333.7h0M112.7 331.5h0M132.7 333h0M116 330h0M100.5 331.1h0M100.4 331h0M121.1 330.1h0M112.8 330.2h0M140 331.7h0M113.1 329.5h0M102.9 329.8h0M110.9 329.7h0M104.9 334h0M136.2 329.7h0M110.8 331.2h0M140.6 331.7h0M128.4 329.8h0M147.5 329.2h0M119.7 329.5h0M132 334.3h0M93.8 329.2h0M114.9 333.5h0M111.3 331.2h0M136.1 328.9h0M119.4 333.3h0M129.8 330.4h0M111.7 332.5h0M104.2 333.6h0M120 329.3h0M138.1 329.7h0M120.4 328.9h0M141.6 334.2h0M116.8 333.4h0M116.5 334.1h0M116.5 334.2h0M117.7 331.6h0M112.1 329.5h0M118 329.5h0M110.5 334.6h0M107.6 332.6h0M141 332.6h0M132.6 328.7h0M117.2 332.9h0M113.2 329.9h0M100.7 333.6h0M128.8 333.4h0M112.3 330.6h0M146.3 331.1h0M98.4 331.1h0M125.6 333.6h0M137 329.4h0M114.2 329.4h0M147.7 333.1h0M134.3 331.1h0M134.1 332.6h0M110 333.4h0M134.6 328.8h0M134.4 331.2h0M123 334h0M144.8 331.9h0M125.7 333h0M91.7 328.6h0M125.8 332.9h0M144.2 331.7h0M113.4 332.6h0M131.1 333.9h0M113 329.1h0M121.3 330.2h0M85.9 328.9h0M97.7 329.3h0M117.4 330.9h0M113.7 331h0M96.8 330.3h0M130.5 332.2h0M125.8 330.1h0M109.7 333.8h0M94.1 331h0M128.7 330.3h0M114.6 333.8h0M130.6 334.3h0M135.8 332.1h0M116.4 329.8h0M117.9 332.7h0M130.8 333.6h0M117.4 330.3h0M94.8 330.1h0M128.6 332.9h0M124.7 333.6h0M113 331.9h0M127.2 333.5h0M115.4 334.5h0M114.9 329.5h0M130.7 331.4h0M102.1 333.5h0M98.9 332.8h0M118.1 332.6h0M102.7 331.9h0M131.3 328.8h0M110.3 329.6h0M97.3 333.9h0M114.7 330.2h0M90.7 331.8h0M137.9 333h0M119.6 334.2h0M128.9 330.7h0M126.7 328.6h0M122.6 334.4h0M106.3 329h0M130.2 329.3h0M115.6 332.6h0M109.9 330.2h0M93.2 330.2h0M136.7 330.3h0M116.8 330.7h0M114.5 329.6h0M94.9 329.3h0M132.2 333.1h0M118.5 331.5h0M133.2 329h0M119.5 334h0M108.8 331.2h0M127.4 329.7h0M99.4 329h0M99.6 330.5h0M119 331.4h0M129.7 331.5h0M134.5 333h0M118.7 332.5h0M118.4 330.3h0M122.6 329.1h0M117.2 328.7h0M113.4 328.9h0M126.5 333h0M113.3 333.1h0M117.1 334.1h0M135.6 329h0M122.8 331.1h0M113.2 332.6h0M129 330.6h0M118.1 329.5h0M128.8 330.1h0M108.7 333.4h0M109.8 331.1h0M101.3 334.5h0M134.6 332.9h0M138.2 331.1h0M135.4 330.6h0M124.5 333.3h0M122.5 330.4h0M116.8 332.4h0M127.5 334.2h0M117.5 328.5h0M106.7 331.1h0M132.8 330.9h0M131.5 333.6h0M126.7 329.9h0M119 334.2h0M114.9 333.6h0M121 329.4h0M122.5 329.9h0M104.7 331.9h0M113.9 333.6h0M106.1 331.6h0M134.2 332.9h0M102.3 332.3h0M104.1 333.5h0M108.3 329h0M121.8 329.5h0M107.7 328.5h0M142.4 332.5h0M129.2 331.9h0M88.7 330.4h0M122.6 328.9h0M124.2 333.8h0M103.3 333.8h0M118.5 334.2h0M120.7 334.3h0M111.3 333.3h0M118.3 332.8h0M124 331.8h0M113 330.4h0M118.8 330h0M104 329h0M127.7 329.7h0M111.3 332.7h0M135.3 328.5h0M146.2 332.5h0M141.3 333.8h0M113.6 329.1h0M125.1 328.9h0M116.2 332h0M125.5 333.4h0M108.8 332.7h0M106.4 328.8h0M118.9 334h0M109.2 330.1h0M135.4 334.4h0M128.9 330.6h0M123.9 329.6h0M117.6 330.9h0M117.3 334.6h0M132.1 334.2h0M120.5 331.6h0M119.7 329.9h0M143.8 333.8h0M121.4 332.2h0M116.2 328.7h0M116.6 334.6h0M136.1 328.5h0M113.2 333.4h0M113.4 333.4h0M133.8 329.3h0M134.7 328.6h0M137.8 330h0M108.5 334.6h0M125.3 333.6h0M112.3 328.6h0M125 331.2h0M99.2 329.7h0M117.1 329.6h0M133.6 331.1h0M122.3 333.2h0M88.5 332.7h0M132.6 329.3h0M124.4 328.6h0M116.2 333.3h0M119.6 330.4h0M115.5 329.8h0M134.6 333.5h0M119.3 331h0M99 330.5h0M108.7 332.2h0M140.8 332.3h0M134.3 332.6h0M130.1 330h0M109.5 329.1h0M126.8 330.9h0M133.1 334h0M121.1 330h0M129.2 332.3h0M134.5 328.9h0M133.2 331.8h0M125.7 330.9h0M125.9 330.9h0M103.9 329.1h0M116.1 330.4h0M130.7 331.2h0M142 331h0M122.3 330.8h0M134 330.2h0M120.1 328.9h0M107.4 332.1h0M125.5 331.6h0M125.9 330h0M108.4 329.2h0M108.8 329.5h0M120.6 330.2h0M113.4 331h0M126.5 333.8h0M102.4 334.2h0M130.5 333.9h0M112 329.9h0M124.5 334.3h0M99.8 333.2h0M132.1 330.6h0M122.6 332.1h0M147.3 334.5h0M98.5 328.7h0M96.3 329.2h0M129.3 334.6h0M131.5 331h0M96.9 328.9h0M126.9 333.9h0M132.1 331.6h0M138.2 332.3h0M121.7 328.4h0M100 334.2h0M94.9 334.2h0M147.1 331.9h0M125.3 331.7h0M132.7 332.2h0M115.8 330.9h0M117 332.9h0M117.3 330h0M107.9 331.9h0M116.2 328.5h0M105.6 334.1h0M114.6 330.7h0M134.4 333.4h0M120.3 330.7h0M111.3 331.3h0M142.4 333h0M136.9 332.2h0M120.6 331.4h0M97.5 330.7h0M136.8 329h0M137 331h0M112.4 329.1h0M138.5 331h0M109.3 331.1h0M116.6 333.7h0M114.1 330.4h0M122.4 328.4h0M118.3 333.3h0M138.6 329.6h0M115.5 330.8h0M125.8 334.1h0M120.6 333.2h0M123.2 331.6h0M109.4 333.9h0M119.6 334.1h0M138 332.3h0M130.7 328.6h0M104.9 333h0M114.8 328.6h0M107 333.5h0M110.7 332.1h0M111.7 329.2h0M104.2 332.1h0M126 329.2h0M131.8 331.1h0M122 331h0M113.9 329.6h0M122.1 329.8h0M110.2 333.8h0M133.5 331.2h0M150.3 328.8h0M85.4 332.8h0M125 333.7h0M120.7 328.9h0M122.6 330.5h0M116.5 329.8h0M100.6 330.7h0M119 333.9h0M114.8 329h0M118.1 333.3h0M119.4 329.4h0M113.5 331.5h0M149.6 332.3h0M103.9 333.2h0M115 329h0M103.5 329.4h0M117.9 333.7h0M140 328.6h0M119.4 333.4h0M109.2 328.6h0M102.8 330.8h0M127 331.4h0M110.8 330h0M128.1 329.4h0M111 332.1h0M113.1 329.3h0M119.2 329.2h0M98.8 332h0M135.5 330h0M105.2 330.7h0M121.9 331h0M125.7 331h0M150.4 333.6h0M126.1 329.3h0M130.8 330.5h0M113.4 334h0M118.1 331.3h0M119.8 333.3h0M133.7 331.8h0M107.1 329.9h0M125.2 334.3h0M156.9 330h0M107.5 332.1h0M96.2 334h0M113.2 334h0M118.2 328.6h0M141.5 332h0M126.3 332.9h0M134.8 329.9h0M110.8 334.6h0M119.5 328.7h0M123.8 331.2h0M109.1 334.2h0M123.7 331.1h0M116.4 329.3h0" stroke="#C2C2C2" stroke-width="1.25" stroke-linecap="round" fill="none"/>
<path d="M109.3 324.2h0M105.4 328.1h0M108.4 328.3h0M104.4 324.6h0M102.6 315.3h0M94.1 321.5h0M108.3 323.3h0M87.5 312.3h0M104.5 326.6h0M107.5 314.8h0M104.2 326.3h0M100.1 327.6h0M109.5 327.9h0M107.7 327.1h0M108.7 322.1h0M110.2 317.2h0M110.1 324.9h0M110.4 325.3h0M103.6 322h0M100.4 325.4h0M97.4 327.9h0M109.8 312h0M108.8 324.2h0M106.3 325.1h0M104.4 323h0M109.6 322.8h0M108.2 320.8h0M104.7 327.1h0M100.6 326.3h0M108.6 325.1h0M108.7 305.3h0M107.9 323.1h0M106 326.7h0M105.3 322h0M107.5 294.8h0M103.6 328.2h0M107.5 295.7h0M108.8 323.8h0M106.7 309.9h0M97.7 320.4h0M108.2 326.1h0M110.3 325.1h0M109.7 325.7h0M109 327.9h0M106.7 319h0M106.2 317.6h0M96.3 306h0M103.4 328.4h0M109.7 326.9h0M106.9 327.3h0M110.3 323.9h0M109.9 316.2h0M101.9 325.8h0M108.7 324.1h0M110.1 322.3h0M106.7 311.1h0M108.1 318.5h0M98.9 328.1h0M107.8 327.1h0M108.5 326.1h0M106.1 322.9h0M107.8 322.8h0M108.3 326.3h0M107.2 325.4h0M100.7 328.1h0M107.6 311.8h0M108.4 325.5h0M105.6 323.1h0M107.3 322.5h0M104.7 320.3h0M109.4 322h0M96.3 323.9h0M105.5 321.1h0M108.6 328.2h0M102.8 307.4h0M97.2 328h0M106.7 322.8h0M107.3 325.9h0M97.8 309.6h0M109.8 327.8h0M103.7 326h0M108.9 327.8h0M107.2 327.4h0M106.7 322.7h0M89.4 314h0M102.9 317.7h0M105.5 319.6h0M107.5 325.7h0M109.2 328.1h0M103.4 322.5h0M108.9 319.9h0M107.1 318.1h0M100.6 324.7h0M102.1 319.6h0M104.5 326h0M105.7 326.8h0M108.9 328.4h0M108 328.3h0M83.4 320.6h0M110.4 323.5h0M110.2 327.7h0M106.9 323.8h0M108.9 325.6h0M106.2 311.6h0M101.1 326.1h0M109.3 301.5h0M106.7 319.4h0M110.2 322h0M94.3 324.6h0M106 318.1h0M109.8 303.8h0M105.8 327.3h0M103.4 326.9h0M108.7 324.2h0M109 321.2h0M101.9 320.1h0M107.8 325.8h0M106.5 317.8h0M110.4 320.6h0M107.7 325.7h0M98.7 322.9h0M93.2 324.7h0M104.6 325h0M108.7 310.7h0M107.6 306.6h0M100.2 324.6h0M110.1 320.3h0M106.8 322.9h0M86.6 322.5h0M105.1 307.4h0M100.2 319.6h0M102.2 325.9h0M105.8 324.2h0M106.8 316.6h0M104 324.2h0M102.7 319.5h0M97.7 313.4h0M107.5 324.7h0M101.5 321.6h0M106.4 322.3h0M104.3 321.4h0M93.5 327.5h0M106.9 323.7h0M102.8 319.5h0M108.7 326.7h0M94 326.9h0M109.4 319.2h0M109 324.7h0M107 305.4h0M109.8 327.2h0M100.1 326.9h0M108.3 318.5h0M102.6 323.9h0M108.5 304.6h0M98 320.4h0M106.3 319h0M98.8 322.9h0M101.8 321.1h0M108.4 325.3h0M101.2 307.5h0M102.8 323.7h0M108.4 306.5h0M109.9 316.1h0M107.5 326.8h0M109.8 321.8h0M108.4 317.9h0M106.6 326.6h0M100 320.5h0M109.3 324h0M109.2 304.4h0M106.7 324h0M103 326.9h0M101 321h0M95.5 319.3h0M107.4 327.9h0M103.7 323.4h0M107.1 326h0M106.6 322.2h0M107.3 315.6h0M100.2 322.3h0M105.7 327h0M102.5 317.4h0M109.2 328.2h0M106.6 312.1h0M96.5 320.9h0M105.5 322.5h0M109.7 322.4h0M108 325.2h0M105.4 314.8h0M94 327.5h0M107.2 322h0M102.3 327.5h0M104.7 323.2h0M106.5 325.9h0M109.2 325h0M110.1 319.4h0M109.6 326.9h0M108.1 295.4h0M109.2 321.1h0M107.5 328.2h0M101.9 322.8h0M103.4 326.8h0M109 328.1h0M110.1 327.4h0M110.2 323.2h0M108.3 326h0M109.8 326h0M107.7 325.5h0M108.1 324.5h0M109.1 323.7h0M104.9 325h0M99.9 319.8h0M107.6 323.5h0M110.2 326.1h0M109.7 319.8h0M107.4 328.2h0M108.5 324.3h0M107.5 322.1h0M105.5 321.2h0M109.5 325.4h0M109.9 325.9h0M109.1 321.3h0M104.5 325.1h0M98.1 325.8h0M80.5 312h0M109.2 327h0M87.8 312.7h0M106.9 327.2h0M98.8 328.1h0M108.2 319h0M102.4 325.7h0M109.8 323.7h0M110.2 320.4h0M99.4 317.3h0M105.7 322.4h0M101 322.7h0M110.3 317.5h0M103.1 323.1h0M100.9 325.7h0M107.1 327.3h0M101.2 326.5h0M109.3 327.5h0M106.2 312.6h0M108.1 323.6h0M109.5 325.2h0M108.9 323.1h0M99.5 322.3h0M109.5 328h0M109.5 323.9h0M102.3 316.7h0M109.6 323.9h0M93.7 313h0M99.2 327.8h0M110 326.1h0M102.9 317.8h0M95.3 326.2h0M106.4 325.5h0M108 314.6h0M110.4 319.4h0M108.5 324.4h0M96 328.1h0M98.6 327.8h0M89.4 327.5h0M94.2 325.8h0M100.6 327.1h0M84.3 328.1h0M105.8 325.9h0M85.9 326.1h0M85.2 327.4h0M103.9 324.1h0M105.7 326.1h0M90.4 327.3h0M92 326.8h0M102 327.7h0M95.6 328.1h0M103.8 328.3h0M96.1 327.8h0M93.4 326.7h0M84.4 326.9h0M97 328.3h0M102.3 326.3h0M83 328.2h0M90.7 326.2h0M102.9 328.1h0M104.7 326.8h0M96.9 327.6h0M100.3 327.8h0M97.2 326.1h0M99.6 325.8h0M84 321.3h0M86.4 326.7h0M89.9 327.3h0M104 328h0M86.9 326.5h0M96.5 320.5h0M85 327.5h0M104.9 328.2h0M102.6 328.3h0M103 327.2h0M86.3 324.2h0M83 328h0M88 327.5h0M98.7 327.4h0M104.9 327.8h0M82.7 327.3h0M102 327.1h0M86.5 325.3h0M94.7 320.6h0M97.9 327.6h0M96.2 325.2h0M107 311.5h0M108.8 306.3h0M99.6 297.5h0M105.5 307.5h0M110.1 296.4h0M108.2 310.6h0M109.4 301.2h0M104 309.8h0M110 301.4h0M106.4 298.3h0M103.4 296.4h0M96.6 298.8h0M96.1 215.2h0M107.6 270.4h0M106.2 283.1h0M84 326.3h0M81.8 327.7h0M108.3 292.3h0" stroke="#3A7BB0" stroke-width="1.35" stroke-linecap="round" fill="none"/>
<path d="M128.8 323.1h0M136.2 310.5h0M127.6 318.7h0M131.5 309.9h0M132.6 327.3h0M139.3 326.6h0M132.2 320.6h0M127.3 325.4h0M133.1 310.9h0M128.1 316.9h0M126.1 301.9h0M130.5 321.2h0M124.9 319.5h0M127.1 284.2h0M125.2 312.6h0M133.6 323.8h0M126.4 315.8h0M132.4 311h0M131.4 319.5h0M127.9 320.6h0M130.3 327.3h0M135.1 315.7h0M126.5 328h0M125 310.1h0M131.3 323.6h0M137.6 326.3h0M131.9 320.6h0M134.1 319h0M131.8 319.2h0M125 311.9h0M127.7 324.5h0M127.1 327.6h0M130.3 308.5h0M131.7 327.8h0M131.1 320.7h0M135 326.9h0M128 321.5h0M136.5 307.4h0M125.1 326.1h0M130.9 303.5h0M125.8 326h0M125.4 325h0M136.8 327.4h0M127.6 321.6h0M129.8 321.4h0M144.2 326.2h0M126.8 323.2h0M139.4 321.6h0M126.3 311.2h0M128.6 315.4h0M126.4 326h0M130.1 326.6h0M127.8 319.7h0M127 327.2h0M128 326.9h0M137.1 317.1h0M145.3 326.6h0M127.1 323.7h0M137 323.1h0M126.2 324.2h0M131.7 315h0M127.7 320.1h0M129.5 314.6h0M128.8 326.8h0M127.2 325.6h0M124.8 319.2h0M132.9 328.3h0M131.6 324.9h0M137 296.7h0M134.5 323.8h0M126.5 325.1h0M127 307.6h0M126.8 315h0M129.8 308h0M124.9 318.8h0M129.7 327.8h0M131.6 318.7h0M126.4 327.6h0M132.7 309h0M145.5 324h0M130.5 325.4h0M131.5 328.1h0M129.6 328.4h0M125.2 321.9h0M135.4 315.6h0M129.2 322.9h0M131.8 309.5h0M130.1 322.4h0M129.1 325.4h0M128 318.5h0M130.5 325.3h0M131.6 323.2h0M133.6 325.5h0M126.4 322.8h0M126.8 308.5h0M126.8 322.4h0M126.1 325.6h0M128.9 309.9h0M128.7 321.5h0M141.6 326.1h0M131 321h0M125.2 317h0M134.4 323.6h0M129.9 314.4h0M129 316.9h0M130.2 326.5h0M131.9 323.9h0M132.9 293.5h0M125.7 319.8h0M140.5 324.3h0M126.9 325.2h0M127.1 327.1h0M129.1 322h0M129.5 328.2h0M126.5 323.1h0M125.2 320.6h0M133.1 320.7h0M128.6 316.2h0M127.7 327.3h0M129.3 320.8h0M127.2 316.2h0M131.5 311.2h0M125.2 325.3h0M127.9 314.8h0M134.3 324.6h0M127.2 328.3h0M134 306.9h0M134.7 318.1h0M132.6 313.3h0M133 328h0M124.8 325.2h0M131.7 316h0M130.4 316.7h0M139 313.5h0M131.1 321.5h0M125.5 317.9h0M130.3 325.7h0M131.7 324.4h0M124.9 315.5h0M129.9 323.5h0M129.4 319.3h0M130.9 317.3h0M135.8 315.3h0M130 318.5h0M125.7 322.8h0M138.9 327.5h0M127.6 307.2h0M127 324.9h0M126.5 325.9h0M125.1 325.1h0M126.9 313.8h0M127.8 310.2h0M129.3 325.8h0M130.6 325.4h0M125.4 309.2h0M127.5 322.5h0M124.9 326.1h0M130.9 327.4h0M139.9 320.6h0M129.4 324.4h0M126.3 316.9h0M128.5 327h0M133.3 324h0M126.3 321.1h0M126.1 321h0M128 324.2h0M133.9 328.3h0M129.5 314.3h0M130.3 323.1h0M131.3 323.2h0M136.6 327.3h0M128.4 321.5h0M126.8 294.4h0M131.5 324.2h0M134.7 304.9h0M130.4 326.5h0M127.8 325.5h0M137.9 323.2h0M124.8 313.8h0M128.8 311.9h0M128.2 322.9h0M125.2 321.3h0M127.1 326.8h0M130.9 310.9h0M130.1 325.7h0M132.7 312.5h0M126.8 328.4h0M141.1 322.1h0M134.3 310h0M126.8 320.6h0M129.2 312.4h0M131.8 323.5h0M126.7 323.3h0M139.6 319.4h0M130.8 320.9h0M130.7 325h0M130.4 324.7h0M130.3 317.2h0M130.4 326.7h0M131.4 298h0M126.2 318.7h0M127.8 325.8h0M128.5 316h0M138.2 324.8h0M136.5 318.7h0M128.2 316.8h0M127.6 325.8h0M129.2 322.4h0M128.5 305.1h0M129.4 319.4h0M125.4 308.9h0M128.4 327h0M132.6 324.4h0M126.5 318.3h0M128 314.3h0M136.8 321.9h0M126.3 308h0M125.2 318.9h0M133.9 304.5h0M127.1 317.6h0M134.8 325.2h0M127.1 323.3h0M130.8 318.4h0M127.5 323.4h0M140.5 326.9h0M127.9 321.2h0M124.9 312h0M125.7 325.6h0M132.4 324h0M127.9 322.8h0M132.4 326.5h0M126.4 325.4h0M132.5 326h0M133.9 311.1h0M129.7 307.9h0M132.9 320.8h0M129.1 328.2h0M125.5 327.4h0M127.2 308.8h0M128.3 323.4h0M130.1 321.3h0M134.8 323.2h0M130.3 326.1h0M127.5 303.6h0M129.6 310.7h0M132.5 312.7h0M129.8 328.4h0M125.8 307.5h0M130.3 310.3h0M126.3 326.9h0M132.9 323.2h0M134.7 327.6h0M128.2 326.6h0M128.5 323h0M125.5 326.2h0M126.3 328.1h0M125 318.9h0M131.7 321h0M134.9 319.5h0M125.1 301.8h0M127.1 321.1h0M135.3 324.6h0M128.6 314.4h0M125.9 322.3h0M126.1 320.8h0M130.3 326.8h0M135 288.5h0M126.8 317.3h0M125.3 323.3h0M134.5 322h0M135 327.7h0M127.9 322.8h0M127.3 318.2h0M137 318.2h0M126.7 302.1h0M131.7 323.5h0M129.4 321.5h0M129.4 323.6h0M125.3 318.1h0M126 327.9h0M125.8 326.1h0M140.6 315.1h0M136.6 309.8h0M125.6 325.9h0M125.9 317.1h0M125.6 321.5h0M131.6 324.2h0M132.9 325.5h0M126.2 322h0M125 326.3h0M125 328.1h0M125 310.8h0M130.5 318.3h0M126.7 324.8h0M129.2 327.1h0M131.8 311.9h0M125.5 320.6h0M130.3 327.8h0M139.7 314.6h0M125.9 306.5h0M128.9 322.4h0M138.7 318.1h0M130.2 320.6h0M136.7 319.8h0M135.4 313.7h0M129.3 321.2h0M128 316.3h0M139.9 317.5h0M128.2 298.8h0M136 295.4h0M128.5 327.6h0M131.3 327.9h0M127.1 326.2h0M127.3 326.5h0M128.3 323.5h0M128.6 305.8h0M147.3 327.2h0M130.1 327.4h0M125.5 325h0M149.6 327.5h0M136 328h0M139.9 314.1h0M124.8 323.9h0M129.5 319.1h0M135.3 325.7h0M135.4 328h0M126.3 303.1h0M133.3 327.7h0M133.4 325.3h0M133 314.2h0M127.2 324.5h0M129.7 322.9h0M127.7 323.6h0M132.2 322.7h0M140.8 317.5h0M125.6 324.2h0M140.2 328.2h0M126 328.4h0M126.5 323.4h0M139.2 310h0M129.3 325.2h0M128.4 326.3h0M133.5 323.8h0M129.1 322.3h0M130.7 315.1h0M144.5 322.3h0M125.7 318.7h0M126 322.4h0M130.2 323.4h0M126.3 327.9h0M126.7 307h0M126.4 327.6h0M144.4 317.3h0M138.5 315h0M128.1 327.1h0M130.9 322.6h0M134.1 325.8h0M136 326.6h0M125.7 310.6h0M129.4 313.3h0M127.5 327.4h0M134.3 314.3h0M129 323.5h0M128 328.3h0M125.2 316.2h0M125.9 319.5h0M126.7 315.9h0M132.6 319.9h0M126.5 327.1h0M127.1 324.8h0M129.2 304.6h0M127.5 323.7h0M129.6 328.2h0M139.7 327.5h0M126.8 319.7h0M129.7 327h0M126.7 305.7h0M129.5 328.2h0M126 326.1h0M125.6 327.3h0M131.1 317.2h0M132.3 327.5h0M125.8 283h0M125.5 325.6h0M125.3 310.4h0M126.5 320.8h0M150.2 324.4h0M125.5 327h0M135.7 325h0M125.2 308.7h0M135.4 326.9h0M126.2 328.2h0M136 316.2h0M127.3 306.1h0M146.1 315.9h0M134 316.7h0M132.1 320.8h0M129.9 324.7h0M125.4 327.7h0M127.4 307.1h0M132.3 323.5h0M125.9 315.3h0M128.2 322.3h0M126 328.1h0M131.1 321.3h0M145.8 320h0M127.9 317.2h0M131.1 324.8h0M126.9 320.5h0M129.6 301.5h0M125.6 322h0M134.2 315.1h0M131.1 301.8h0M151.7 307.2h0M134.7 324.9h0M128.9 322h0M134.7 317.6h0M130.1 300.3h0M129.1 326.8h0M135.3 302.3h0M125 320.2h0M125 319.4h0M128.8 301.9h0M129.9 322.2h0M129.8 322.3h0M128.5 322.8h0M134.7 317.7h0M131.3 324.7h0M129.8 326.7h0M145.7 313.9h0M129.9 308.3h0M131.8 320.3h0M130.8 314.5h0M125.2 316.6h0M125.5 327h0M125.6 322.6h0M128.5 318.4h0M131.6 307.6h0M137.8 320.3h0M124.8 312h0M127.7 318.8h0M145.8 322.2h0M150.4 327.9h0M133.3 326.3h0M149.6 327.9h0M127.1 322.1h0M125.3 327.2h0M128.3 307.2h0M130.4 325.7h0M137.1 290h0M133.7 325h0M130.5 327.3h0M128.9 327.1h0M129 323.7h0M125.2 316.1h0M126.1 319.3h0M126.7 325.9h0M133.4 326.2h0M132.7 328h0M129.1 325.7h0M125.3 326h0M129.1 326.8h0M138 320h0M133.5 317.9h0M132.5 305.1h0M127.3 326.5h0M126.3 313.4h0M130.6 320.4h0M136.9 297.9h0M128 327.1h0M131.4 311.3h0M137.4 315.2h0M126.4 325.9h0M127.8 308.5h0M125.2 324.6h0M126 322.1h0M124.9 326.3h0M128.1 317.8h0M135.3 314.9h0M131.2 326.1h0M129.6 319.3h0M131.2 325.6h0M125.3 314.2h0M130.7 304.8h0M126.7 312.8h0M126.7 328h0M128 325.5h0M126.1 320.3h0M129 324.2h0M147.3 306.9h0M129.2 325.9h0M127.4 323.4h0M131.5 328h0M130.5 321.9h0M124.9 323.1h0M147.9 326.5h0M128.5 312.7h0M125.4 326.1h0M133.4 318.2h0M132.7 320.3h0M149 328.1h0M125.3 325.5h0M138 316.4h0M134.8 327.4h0M125.5 327.6h0M139.3 323.7h0M127.1 325.9h0M125.6 315.8h0M131.6 319.2h0M125.2 323.3h0M128.8 320.1h0M128.6 325.5h0M131.7 304h0M129.7 314.1h0M130.5 314.7h0M124.8 324.7h0M127.7 323.8h0M128.1 319.4h0M129.6 325h0M127.1 327.8h0M142.1 324.1h0M127.4 322.3h0M130.5 313.8h0M132.8 313.2h0M130 315.4h0M125.8 322.8h0M127.4 313.7h0M130 313.2h0M126.4 322.5h0M132.5 322.6h0M129.7 326.8h0M129.6 321.8h0M125.3 322.6h0M128 325h0M127.2 328.2h0M132.3 324.1h0M126.7 328h0M127.6 321.9h0M127.4 311.7h0M134.1 315.9h0M125.9 326.2h0M126.6 301.5h0M125.6 326.6h0M132.3 318.1h0M126 322.4h0M129.2 323.6h0M133.2 314.2h0M125.4 325.8h0M130 324.4h0M130.1 328.3h0M127.5 323.7h0M134.6 312h0M127.8 317.6h0M136.8 304h0M150.3 327.1h0M137.2 320.8h0M125.3 316.8h0M131.7 312h0M131.6 323.4h0M127.1 318.9h0M127.7 321.8h0M127.2 304.4h0M125 327.2h0M131.2 312.1h0M128.2 326.1h0M139.3 327.3h0M133.6 323.5h0M127.1 326h0M126.1 302h0M132.5 327h0M128.4 322.3h0M124.9 328.3h0M126.2 325.2h0M126.1 327.3h0M126.9 313.2h0M131.3 314.2h0M133 293.5h0M137.7 327.9h0M127.4 292.3h0M132.7 301.5h0M129.2 325.5h0M126.6 307.6h0M130.5 327.1h0M132.5 324h0M128.1 324.1h0M127.4 315.8h0M125.6 324.8h0M125.7 328.1h0M127.2 326.3h0M126.8 305.5h0M130.1 321.1h0M128.7 324.7h0M128.5 326.2h0M131 323.3h0M126.4 326.8h0M127.1 313.9h0M132.3 307.9h0M125.2 320.2h0M131.7 326.5h0M126 318h0M133.2 307.3h0M144.7 319.7h0M126.8 317.6h0M131.1 320.6h0M128.8 297h0M132.6 321h0M125.3 328.2h0M129.8 321.6h0M131.2 324h0M131.3 327.7h0M125.3 325.9h0M137.6 327.5h0M128.5 314.6h0M138 315.9h0M130.2 312.9h0M126.3 328.3h0M126.1 310h0M128.1 328.1h0M124.8 326.3h0M130.1 305.4h0M127.2 322.4h0M132.2 321.6h0M126.2 325.1h0M127.4 312.8h0M125.2 320.2h0M126 314.1h0M128.2 328.1h0M127.2 321.3h0M125.9 308.4h0M126.3 322.9h0M128.5 322.2h0M125.2 321.3h0M139.6 325h0M127.9 303.8h0M135.6 308.4h0M128.9 324.8h0M133.6 326.2h0M130.5 325.2h0M135.1 322h0M134.9 324.6h0M131.4 302.4h0M125.5 295h0M131.5 284.8h0M138.3 314.3h0M131.9 292.3h0M127.2 283.6h0M130.3 293.9h0M137.7 300.6h0M129.5 297.2h0M129.3 295.7h0M132.2 291.5h0M143.3 311.8h0M131 285.4h0M127.8 294.3h0M137.7 304.4h0M134.3 280.9h0M136.5 299.9h0M131 286.1h0M134.2 303.7h0M125.9 294.4h0M128.5 307.6h0M126.4 304.5h0M139.1 302.5h0M138.5 309.3h0M131.9 286.6h0M137.3 298h0M132.3 301.8h0M128 293.1h0M127.4 306.1h0M127.4 298.5h0M128.3 293.7h0M131 291.9h0M143.5 299.1h0M130.5 287.3h0M134.3 282.7h0M127.1 279.2h0M132.1 294h0M126.5 279.1h0M128.3 280.1h0M131.5 290.5h0M127.2 309.7h0M126.7 291h0M132 295.1h0M130.7 288.8h0M130.5 304.6h0M125.5 278.1h0M126.7 301.9h0M134.7 277.8h0M157.4 304.4h0M127.4 297h0M139.9 289.5h0M125.8 305.1h0M126.9 299.6h0M135.8 290.3h0M128.3 286.9h0M129.3 280.9h0M126.8 294.3h0M126.5 279.2h0M143.9 304.2h0M136 292.2h0M130.1 286.7h0M125.8 311.5h0M127.4 285.6h0M125.7 284.5h0M134.8 293.9h0M126.9 280.6h0M138.5 288.9h0M131.6 301.1h0M126.4 284.9h0M129.8 295.5h0M132 289.5h0M130.5 278.2h0M132.7 289h0M131.3 286h0M135.5 284.6h0M140.1 307.2h0M128.1 313.2h0M133.1 311.8h0M137.9 297.5h0M131.3 279.1h0M128.6 298.2h0M135.9 280.6h0M128.7 303.8h0M128.1 309.4h0M125 299.7h0M128.9 283.5h0M132.3 279h0M152.5 294.8h0M131.4 300.6h0M134.3 285.6h0M142.6 327.9h0M139.1 327.1h0M152.1 328.3h0M132.8 320.5h0M152.7 312.8h0M157.8 325.9h0M133.4 326.7h0M152.8 326.4h0M131.1 319.7h0M134 317.6h0M138.8 324.8h0M159.1 327.9h0M132 328.3h0M143.5 328.2h0M143.1 324.8h0M135.5 321.7h0M158.4 319.8h0M137.2 327.4h0M156.3 322.5h0M146 323.2h0M150.9 320.2h0M151.7 320.4h0M149.8 325.5h0M153.6 327.3h0M155.7 318.9h0M134.5 327.2h0M133 328.3h0M143.4 321.2h0M133.5 327.7h0M147.4 327.2h0M157.4 324.3h0M145.2 327.6h0M135.3 320.8h0M133.8 325.8h0M145.7 323.6h0M151.7 325.9h0M153.5 327.6h0M152.1 323h0M143.8 327.4h0M155.5 322.6h0M145.9 320.8h0M150 327.2h0M130.5 318.1h0M144.5 325.3h0M133 326.4h0M136.5 327.3h0M139.1 324.6h0M146.9 327.4h0M132.7 327.7h0M150.8 327.1h0M141.8 324.6h0M136.7 328.3h0M157.8 322.7h0M149.4 318.2h0M140.1 326.3h0M134 323h0M144.5 327h0M152.5 322.4h0M145.1 326.9h0M139.3 321.9h0M133.7 326.2h0M136.9 326.5h0M153.1 326.8h0M135 328.4h0M158.5 327.9h0M151.3 328.2h0M142 328.3h0M135.9 325.8h0M143.8 328.1h0M157.7 324.9h0M165.5 212.9h0M128.3 222.1h0M133.3 230.7h0M136.9 230.7h0M138.3 229.5h0M141.2 234.1h0M134 239.4h0M131.9 255.5h0M145.5 260.6h0M138.3 267.2h0M144.1 268.1h0M145.5 266.3h0M177.7 299.2h0M178.4 306.1h0M164.1 319.9h0M151.9 307.7h0" stroke="#8B1A1A" stroke-width="1.35" stroke-linecap="round" fill="none"/>
<line x1="110.1" y1="207.4" x2="110.1" y2="337.4" stroke="#333" stroke-width="0.7" stroke-dasharray="1.8,1.2"/>
<line x1="124.3" y1="207.4" x2="124.3" y2="337.4" stroke="#333" stroke-width="0.7" stroke-dasharray="1.8,1.2"/>
<line x1="54.3" y1="328.4" x2="182.5" y2="328.4" stroke="#444" stroke-width="0.7" stroke-dasharray="1.8,1.2,0.6,1.2"/>
<rect x="54.3" y="207.4" width="128.20" height="130.00" fill="none" stroke="#8A8A8A" stroke-width="0.8"/>
<line x1="52.5" y1="331.40" x2="54.3" y2="331.40" stroke="#777" stroke-width="0.6"/>
<text x="52.30" y="333.10" font-family="Liberation Sans" font-size="4.8" text-anchor="end" fill="#555" >0</text>
<line x1="52.5" y1="308.40" x2="54.3" y2="308.40" stroke="#777" stroke-width="0.6"/>
<text x="52.30" y="310.10" font-family="Liberation Sans" font-size="4.8" text-anchor="end" fill="#555" >10</text>
<line x1="52.5" y1="285.40" x2="54.3" y2="285.40" stroke="#777" stroke-width="0.6"/>
<text x="52.30" y="287.10" font-family="Liberation Sans" font-size="4.8" text-anchor="end" fill="#555" >20</text>
<line x1="52.5" y1="262.40" x2="54.3" y2="262.40" stroke="#777" stroke-width="0.6"/>
<text x="52.30" y="264.10" font-family="Liberation Sans" font-size="4.8" text-anchor="end" fill="#555" >30</text>
<line x1="52.5" y1="239.40" x2="54.3" y2="239.40" stroke="#777" stroke-width="0.6"/>
<text x="52.30" y="241.10" font-family="Liberation Sans" font-size="4.8" text-anchor="end" fill="#555" >40</text>
<line x1="52.5" y1="216.40" x2="54.3" y2="216.40" stroke="#777" stroke-width="0.6"/>
<text x="52.30" y="218.10" font-family="Liberation Sans" font-size="4.8" text-anchor="end" fill="#555" >50</text>
<line x1="81.85" y1="337.4" x2="81.85" y2="339.2" stroke="#777" stroke-width="0.6"/>
<text x="81.85" y="342.40" font-family="Liberation Sans" font-size="4.8" text-anchor="middle" fill="#555" >&#8722;5</text>
<line x1="117.60" y1="337.4" x2="117.60" y2="339.2" stroke="#777" stroke-width="0.6"/>
<text x="117.60" y="342.40" font-family="Liberation Sans" font-size="4.8" text-anchor="middle" fill="#555" >0</text>
<line x1="153.35" y1="337.4" x2="153.35" y2="339.2" stroke="#777" stroke-width="0.6"/>
<text x="153.35" y="342.40" font-family="Liberation Sans" font-size="4.8" text-anchor="middle" fill="#555" >5</text>
<text x="122.60" y="204.20" font-family="Liberation Sans" font-size="9.0" text-anchor="middle" fill="#000" font-weight="bold" >T6 vs T3</text>
<text x="123.00" y="347.60" font-family="Liberation Sans" font-size="6.55" text-anchor="middle" fill="#000" font-weight="bold" >log2FoldChange</text>
<text x="0" y="0" font-family="Liberation Sans" font-size="6.5" font-weight="bold" text-anchor="middle" fill="#000" transform="translate(43.8,266.60) rotate(-90)">&#8722;log10(Adjust P&#8722;value)</text>
<rect x="187.8" y="261.3" width="8.7" height="25" fill="#F0F0F0"/>
<circle cx="192.10000000000002" cy="265.40" r="0.75" fill="#8B1A1A"/>
<text x="198.40" y="267.70" font-family="Liberation Sans" font-size="6.4" text-anchor="start" fill="#000" font-weight="bold" >UP</text>
<circle cx="192.10000000000002" cy="273.50" r="0.75" fill="#3A7BB0"/>
<text x="198.40" y="275.80" font-family="Liberation Sans" font-size="6.4" text-anchor="start" fill="#000" font-weight="bold" >DOWN</text>
<circle cx="192.10000000000002" cy="281.60" r="0.75" fill="#BDBDBD"/>
<text x="198.40" y="283.90" font-family="Liberation Sans" font-size="6.4" text-anchor="start" fill="#000" font-weight="bold" >NOT</text>
<path d="M329.8 330.4h0M334.4 328.2h0M335.2 329.7h0M336.7 322.7h0M328.2 328.9h0M328.9 330h0M334.3 328h0M334.5 329.2h0M329.9 330.6h0M331.5 331h0M326.8 327.5h0M331.3 331.2h0M338 322.1h0M335 327h0M336.8 326.2h0M336 326.4h0M327.5 327.6h0M323.6 327.6h0M332.8 329.7h0M324.8 326.5h0M334 328.1h0M330.7 331.2h0M324.6 325.6h0M324.3 329.9h0M337.9 321.3h0M325.5 328.1h0M325.4 328.4h0M326.9 326h0M335.2 326.7h0M328 329.7h0M337.9 331.1h0M334.2 328.9h0M324.8 326.4h0M328 327.6h0M328.7 330h0M324.6 326.5h0M327.2 329.9h0M324.7 329.2h0M337.2 326.6h0M329.4 331.2h0M336.4 324.4h0M337 322.1h0M326.8 329.6h0M325.4 324.5h0M336.7 326.2h0M334.7 327.6h0M327.2 327.5h0M323.9 321.8h0M334.2 327.2h0M329.5 330.8h0M325.6 323.8h0M329.7 330.8h0M324 327.9h0M336.4 329.2h0M323.8 321.4h0M331.7 330.8h0M328.6 329.6h0M336.7 327.7h0M334.4 329.5h0M323.8 330.8h0M335.4 325.6h0M325.3 326.6h0M332.4 330.7h0M334.9 328.6h0M324.4 321.2h0M328.2 328.6h0M331.9 330.9h0M331.4 331.2h0M338.3 329h0M326.6 329.6h0M328.7 328.6h0M323.7 319.7h0M329.9 330.5h0M337.9 325.4h0M328.1 330.1h0M334.2 327.8h0M334.7 329.3h0M332.7 330.8h0M326.2 327.2h0M326.5 325h0M327.6 328.9h0M329.6 330.3h0M327.7 329h0M337.8 326.1h0M332.7 330h0M327.7 328.7h0M336.8 322.8h0M332.1 331h0M324.3 321.1h0M333.3 330.1h0M334 327.8h0M334.2 330.7h0M330.2 331.3h0M335.4 329.8h0M331.6 331h0M326.6 326.2h0M334.7 328.4h0M338.5 328h0M329 329.1h0M325.2 329.3h0M326.3 325.6h0M329.9 331.2h0M326.6 331h0M332.4 330.1h0M337.5 322.3h0M326.3 325.3h0M331.8 330.6h0M325.7 329.9h0M326.8 328.8h0M336.4 327.2h0M337.9 326.4h0M334.4 327.4h0M324 325.9h0M333.6 328.8h0M323.8 323.1h0M332.5 329.7h0M327.1 326.8h0M334.2 329.4h0M332.3 330.4h0M325.2 328.9h0M332.8 331.1h0M326.5 330.3h0M327 329.3h0M338.1 329.2h0M335.8 327h0M326.3 326.7h0M330 330.7h0M328.5 331h0M329.8 330.2h0M337.1 324.2h0M329.5 329.8h0M328.6 329h0M329.3 331.2h0M325.3 330.3h0M326.9 328.7h0M326.3 325h0M332.2 330.7h0M334.6 329.9h0M324.2 325.7h0M335.8 328.5h0M337.6 326h0M334 329h0M337.1 325.8h0M325.7 327.2h0M324.1 329.2h0M333.4 330.5h0M333.3 328.8h0M328.5 329.7h0M335 327.9h0M326.8 327.3h0M331.9 330.7h0M334.7 328.6h0M333 329.8h0M330.3 330.7h0M337.8 323.2h0M328.9 329.9h0M327.7 329.8h0M324.1 320.6h0M328.3 328.6h0M337 324h0M324.4 322.9h0M333.2 329.9h0M330.1 331.1h0M333.2 328.9h0M328.2 328.9h0M325.4 329.9h0M336.2 325.3h0M327.7 330.8h0M330.4 331.2h0M333.6 330.3h0M333.9 331h0M332.6 330.7h0M327.3 326.6h0M333.1 329.5h0M334.1 327.8h0M327 327.3h0M330.4 331h0M327.1 326.2h0M335.6 325.7h0M337.1 324.3h0M327.8 328.4h0M329 329.5h0M334 329.4h0M329.9 330.4h0M325.4 324.3h0M327.1 328.8h0M337.9 326.9h0M328.6 329.7h0M336.9 326h0M325.1 328h0M334.6 328.3h0M330.1 330.5h0M323.5 325.5h0M324.2 322.9h0M324.8 328.8h0M337.5 324.2h0M337.1 323.8h0M328.1 329.6h0M334.6 329.6h0M323.9 321.1h0M334.2 327.8h0M326.9 327.2h0M326.5 328.5h0M335.8 324.5h0M336.7 327.3h0M335.5 325.7h0M336.2 330.7h0M329.7 330.1h0M328.4 329.4h0M335.2 328.6h0M325.2 323.9h0M329.1 330.4h0M337.5 322.2h0M335.1 330.1h0M326.8 330.8h0M330 330.8h0M334.7 329.1h0M332.8 330.3h0M335 326.7h0M324.7 326.1h0M324.5 324.6h0M334.1 328.6h0M323.8 322.9h0M336 330.3h0M327.3 329.3h0M324.7 326h0M326.1 324.9h0M337.4 324h0M326.2 326.3h0M326.6 328.4h0M337.9 327.7h0M335.8 329h0M337.3 328.7h0M335.6 329.2h0M324.9 323.5h0M324.5 328.1h0M336.2 327.1h0M327.4 328.5h0M334.4 330.4h0M327.1 326.8h0M338 320.4h0M328 329.4h0M324.6 328h0M325.8 324.8h0M329.5 330.3h0M336.7 324.1h0M331.1 331.2h0M330.5 331h0M337.1 325.5h0M329.2 329.8h0M326.6 327.2h0M326.5 328.9h0M326.4 325.5h0M330.8 331.2h0M335.9 326.4h0M337.7 321.6h0M334.6 328h0M327.2 330.9h0M327.5 327.2h0M335.7 325.2h0M335.6 325.9h0M333.7 328.3h0M334.7 330.5h0M327.6 328h0M329.2 330.4h0M334.4 327.7h0M325.3 325.2h0M324.1 322.1h0M323.6 323.1h0M325.9 328.3h0M326.1 328.5h0M328 327.9h0M338.4 324.6h0M324.4 324h0M325.7 324.1h0M325 326.9h0M334.9 330.6h0M334.8 327.7h0M332.3 330.3h0M336.6 327.8h0M333.2 329.9h0M327.1 329.2h0M335.6 327.2h0M326.2 331.1h0M331.8 330.7h0M327.5 330.5h0M324.8 329.9h0M333.2 330.4h0M336.4 324.5h0M327.9 327.7h0M333.4 328.6h0M323.6 326.5h0M336.3 326.9h0M332 331.1h0M326.6 329.4h0M326.3 325.7h0M337.3 330h0M326.3 330.5h0M328 328h0M324.6 325.8h0M334.3 329h0M334.7 327.9h0M338.5 327h0M331.6 330.9h0M327.7 327.3h0M337.1 323.5h0M334 330.2h0M336 328.3h0M328.1 330.5h0M327.9 329.7h0M325.9 325.3h0M327.1 326.2h0M336.8 324.3h0M327.5 329.7h0M326.4 326.8h0M333.5 331.1h0M328.3 330.1h0M337.4 322.9h0M335.5 326h0M324.3 322.1h0M326.6 328.4h0M336.1 326.6h0M325.8 330.2h0M337.1 323.4h0M334.6 328.1h0M337.2 325.2h0M328.6 329.7h0M332.2 330.9h0M337.7 321.5h0M328.5 330.4h0M336.4 324.9h0M338.4 320.3h0M328.7 329.6h0M335.5 328.3h0M332.9 329.8h0M328.6 329.4h0M327 326.3h0M329.7 330.1h0M335.7 327.7h0M338.1 326.5h0M337 325.9h0M325.3 325.8h0M324.6 326.7h0M338.5 321.1h0M328.9 329h0M336 328.4h0M336.4 325.2h0M327.6 327.1h0M327.4 329.2h0M334 327.8h0M334 329.7h0M329.9 330.7h0M325.4 325.2h0M327.4 327.5h0M330.5 331h0M330.1 330.9h0M332.8 329.8h0M327.6 328.3h0M329.2 330h0M326.1 326h0M325.9 324.3h0M335.3 328.4h0M338.1 326.8h0M337.6 324h0M333.7 328.4h0M327.9 329.2h0M336.8 323.2h0M329.4 329.7h0M337.3 322.2h0M329.6 330h0M335 329.1h0M333.1 331.1h0M330 330.8h0M327.5 331h0M324.6 324.8h0M326.2 324.5h0M335.1 328.9h0M335 326.2h0M334 329.2h0M326.8 328h0M320.8 332.4h0M343.4 332.5h0M328.5 332.9h0M333.3 330.8h0M373.1 331.6h0M387.4 332.8h0M289.7 332.5h0M312 331.5h0M341.1 330.5h0M332.1 330.9h0M306.9 331.9h0M328 332.7h0M316.7 332.6h0M331.1 330.6h0M341.8 333.3h0M350.2 332.7h0M312.3 332.2h0M320.5 332.9h0M325.3 332.6h0M377.1 332h0M343.7 333.1h0M353.3 332.8h0M361.8 331.4h0M331.7 332.7h0M310.5 331.9h0M335.7 332.4h0M358.2 333.3h0M344.4 332.2h0M295.1 331.2h0M329.9 331.6h0M369.9 332.4h0M319.6 333.1h0M333.6 331.2h0M346.2 332.1h0M280.9 333.3h0M354.7 332.5h0M334.4 332.3h0M339.7 332h0M330.8 331.9h0M342.3 332.5h0M344.3 332.3h0M338 333h0M317.2 332.9h0M337.5 330.6h0M327.5 332.1h0M343.3 331.7h0M306.3 331.9h0M325.1 332.4h0M348.3 331.7h0M317 333.1h0M352.2 333.3h0M321.6 332.4h0M305.4 330.5h0M316.9 331.5h0M319.8 332.1h0M337.1 332.5h0M328.5 331.2h0M309.9 330.7h0M344.8 333.1h0M337.3 333.4h0M306.5 331.5h0M345.8 332.7h0M337.9 332.8h0M331.8 332.9h0M321 331.1h0M311.9 331.5h0M379.7 330.8h0M324 333.4h0M331.5 331.5h0M351.1 332.9h0M329.2 331.7h0M347.7 333.2h0M309.4 331.7h0M313.8 330.6h0M341.2 330.7h0M308.4 331.5h0M321.3 330.8h0M305.7 331.1h0M308.6 332h0M335.3 331.9h0M369.5 330.8h0M338.3 333h0M305 330.6h0M343.4 332.9h0M329.5 332.2h0M345.8 330.6h0M320 333.3h0M297.7 330.9h0M365.6 331.5h0M323.7 332.6h0M345.2 332h0M330.1 333.3h0M323.9 332.9h0M329.1 331.4h0M344.7 331.2h0M342.2 330.8h0M337.8 330.6h0M333.3 332.9h0M349 331.3h0M285.2 332.1h0M325.4 331.7h0M328.7 331.9h0M319.4 330.9h0M301.9 331.9h0M328 331h0M325 332.1h0M346.7 332.4h0M330.8 332.8h0M342.8 332.6h0M359.9 333.2h0M314.8 333.3h0M310.5 332.5h0M343.4 332.4h0M321.8 333.4h0M339.6 332.9h0M344.1 330.6h0M343.1 331.6h0M332.1 332.3h0M306.8 331.4h0M348.4 333.4h0M339.9 331.5h0M329.8 332.5h0M332.6 332h0M348.9 331.9h0M333.4 333.2h0M341.6 331.4h0M380.8 331.7h0M301.8 332.1h0M328 331h0M318 331.8h0M314.4 330.9h0M336.5 333.3h0M358.1 332.2h0M331.3 330.7h0M349.4 333.2h0M333.2 331.5h0M327.9 331.2h0M330.6 332.8h0M373.3 333.1h0M328.4 331.7h0M307.1 332.1h0M324.8 331.3h0M340.7 330.6h0M351.1 332.5h0M321.1 333.3h0M338.7 330.7h0M308.9 331.4h0M322.3 331.7h0M352 331.1h0M370.5 333.4h0M319.3 331.5h0M343.6 331.5h0M295.6 331h0M321.4 332.2h0M304.7 330.7h0M318.8 330.6h0M346.7 331.8h0M303.1 333.3h0M357.4 333.1h0M349.9 330.7h0M366.2 331h0M342.4 331h0M323.5 331.7h0M337.5 333h0M321.2 333.2h0M338 331.7h0M359 331.9h0M338.7 330.8h0M350.2 331.6h0M360.3 332.3h0M328.8 330.6h0M362.1 333.1h0M357.8 331.1h0M333.6 333h0M345.1 331h0M344.9 330.7h0M331.3 331.5h0M336.5 331h0M312 333h0M319.4 331.5h0M336 330.7h0M310.4 330.8h0M337.5 331h0M358 332.8h0M309.7 331.6h0M353.7 332.6h0M302.1 330.9h0M344.4 331.4h0M310.9 332h0M338.7 330.6h0M331.1 332h0M354.8 332.9h0M349.6 331.5h0M341.8 330.7h0M317 331.2h0M309.2 331.2h0M347.1 332.4h0M342.8 331.6h0M354.1 331h0M359.1 330.6h0M317.7 331.5h0M361.6 330.7h0M367 330.6h0M331.3 332.4h0M334.5 330.7h0M360.6 331.1h0M322.3 330.6h0M313.2 332.2h0M337.3 333.4h0M331.3 330.7h0M317.8 333.4h0M326.8 332.8h0M315.5 331h0M329.4 332h0M380.6 331.7h0M334.3 332.8h0M356 331.8h0M338.6 333.4h0M342.5 332.3h0M371.8 333.3h0M318.7 332.5h0M301.1 333h0M326.2 333.4h0M292.8 333.4h0M330.4 332.6h0M327.4 331.6h0M305.5 332.7h0M347 332.7h0M355.8 332.1h0M333.4 330.8h0M346.2 331.4h0M357.5 332.1h0M372.8 332.6h0M345.2 330.9h0M291.4 333.1h0M366.5 333h0M309.5 331.2h0M299.2 330.7h0M327.6 333.5h0M360.4 331.8h0M344.8 330.6h0M302.6 330.9h0M317.5 331.4h0M360.5 331.6h0M354.4 331h0M343.8 331.6h0M319.1 332.6h0M311.9 333.1h0M368 333.3h0M338.4 331h0M354.6 332.6h0M332.8 332.7h0M331.6 333.1h0M296.7 332.5h0M340.6 332h0M351.8 331.4h0M331.4 332.5h0M321 331.7h0M324.9 332.2h0M337.3 331.1h0M336.6 332.4h0M325.9 330.5h0M322.3 332.9h0M329.7 332.1h0M347.3 332.3h0M333.4 333h0M318.6 331.6h0M346.2 330.6h0M320.9 332.8h0M348.1 330.8h0M335.8 332.8h0M346.7 333.2h0M316.7 331.4h0M351.2 332.4h0M355.2 333.2h0M338.9 332.9h0M325.2 330.8h0M296.3 332h0M328.7 333.3h0M321.7 330.8h0M349.4 333.1h0M339.7 330.8h0M328.2 333h0M333.5 331.3h0M326.7 331.1h0M349.3 331.5h0M329.5 333.4h0M306 331h0M338.7 331.2h0M317.2 333h0M326 332.5h0M382.3 331.4h0M331.6 330.5h0M345.7 330.5h0M331.6 330.5h0M347.8 331.5h0M326.6 330.6h0M366.5 332.8h0M347.7 331.5h0M364.2 333.1h0M332 332.6h0M345.6 331.6h0M337.6 330.5h0M304.3 332.3h0M352.2 330.8h0M319.4 330.7h0M334.7 331.1h0M334.2 330.7h0M337.8 331.9h0M339.6 331.5h0M351.1 331.2h0M356.7 333.3h0M335.6 332h0M335.1 330.8h0M321 331h0M325.9 333.4h0M351.6 332.8h0M349.4 332.7h0M308.3 331.4h0M330.8 332.8h0M331.3 331.4h0M355.6 333.1h0M320.3 330.6h0M319.1 330.6h0M349.6 332.2h0M331.2 332.8h0M319.7 332.3h0M328.4 331.7h0M351.8 332.8h0M326.6 331.9h0M310 332.9h0M336.3 331.1h0M301.8 331.7h0M346.7 333.3h0M328.6 332.9h0M315.3 332.7h0M321.2 332.5h0M333.9 330.6h0M361.2 333.1h0M303.8 331.9h0M351.1 330.9h0M348 333.4h0M327.1 330.8h0M361.7 333.2h0M360.3 331.2h0M334.1 331h0M333.3 332.9h0M345.6 330.9h0M339.3 330.9h0M367.1 330.8h0M317.7 330.8h0M339.2 332.7h0M357.3 331.9h0M317.4 332.9h0M346.1 332.9h0M320.8 332.7h0M344.6 333.4h0M346.3 331.1h0M329.8 332.3h0M358.5 331.6h0M343 331.2h0M354.3 333h0M340.2 331.8h0M315.6 330.8h0M323.4 332.4h0M346.9 332.4h0M335.5 330.5h0M333.6 331.8h0M332.5 331.9h0M383.9 331.7h0M299.9 330.7h0M338.3 332.2h0M289.2 333.3h0M298.8 333h0M338.2 330.5h0M337.5 332.1h0M334.2 333.1h0M336.1 331.8h0M336.5 331.2h0M324.8 332.8h0M349 331.8h0M299.2 333.5h0M357.8 330.8h0M347.7 330.8h0M318 331.5h0M328.2 330.5h0M361.1 332.4h0M308 330.6h0M307.5 331h0M341.4 330.9h0M342.5 332.5h0M327.6 332.6h0M352.6 332.5h0M339.1 330.9h0M312.2 332.3h0M354.4 331.1h0M348.5 333.2h0M293.5 332.7h0M336.4 330.6h0M349.5 332.1h0M289.9 331.4h0M304.1 331.2h0M348.5 333.4h0M314.8 331h0M318.4 332.5h0M330.3 333.1h0M323.5 330.9h0M326.5 330.7h0M346.4 331.2h0M348.6 331.9h0M363.3 332h0M333.5 331.3h0M365.4 332.1h0M283.7 331.4h0M320.5 331.4h0M336.7 333.3h0M310.6 332.5h0M319.6 331.6h0M314.7 332.9h0M348.6 333.2h0M342.2 332h0M328.7 333.4h0M314.6 331.5h0M316.1 331.8h0M308.4 331.6h0M361.4 331.1h0M325 333.2h0M340.7 331.4h0M352.7 333h0M320.5 332.3h0M305.5 333h0M329.6 331.6h0M319.3 332.6h0M309.1 332.8h0M378.3 332h0M314.4 332.6h0M353.1 332.7h0M346.1 330.8h0M367 332h0M328.2 332.7h0M318.3 331.7h0M346.2 331.8h0M316.9 331.4h0M334.7 331.8h0M342.3 333.1h0M321.6 333.3h0M346 331.3h0M308.8 331.8h0M318.9 331.9h0M383.7 331.6h0M354.7 330.9h0M301.1 331.6h0M320.6 331.4h0M304.7 333.4h0M294.2 332.9h0M343.1 332.2h0M342.6 333.1h0M302.7 331h0M284.4 333.1h0M339.6 332.4h0M331.2 331h0M377.5 331.4h0M298.5 332.1h0M333.1 333.1h0M323.5 332.4h0M325.6 333.1h0M333.9 330.9h0M322.2 331.5h0M329.9 333.4h0M327 332.1h0M330 331.6h0M331.3 332.1h0M340.2 332h0M316.4 332.1h0M330.4 331.3h0M298.3 331.9h0M321.2 330.8h0M317.2 330.7h0M330.4 331.3h0M330 333.1h0M346.8 333.4h0M353.9 331.9h0M308.8 332.1h0M331.3 332.4h0M357.3 333.2h0M346.2 331.5h0M302.3 333.5h0M341.1 331.6h0M338.8 333h0M341.2 332.9h0M304.4 331.2h0M293 331.3h0M363 332.4h0M339.6 332h0M374.8 330.8h0M324.9 333h0M321.5 331.1h0M342 332.1h0M321.6 332.5h0M318.7 333h0M340 332h0M336.9 333h0M338.8 330.9h0M333.6 331.2h0M342.4 331.6h0M369.6 331.9h0M347.5 332.7h0M322.9 332.8h0M308 331.3h0M311.9 332.5h0M351.9 331.2h0M336.3 331h0M334 332.1h0M335.8 331.2h0M351.7 332.7h0M328.3 332.8h0M330.7 332.5h0M353.8 333h0M332.5 331.2h0M337 331.6h0M315.1 332.5h0M333.2 332.2h0M347.1 332.3h0M322.6 331.5h0M334.5 330.7h0M317.2 332.7h0M321.2 332.7h0M331.4 330.8h0M343.9 333.4h0M337.7 332.6h0M354.1 331.3h0M348.3 330.8h0M366.2 333.1h0M329.5 333.2h0M321.9 332.4h0M302.7 332.5h0M329 333.3h0M293.9 331.8h0M365.6 333.2h0M325.6 331.8h0M310.4 330.7h0M355.1 330.9h0M355.7 331.9h0M336.9 331h0M351.6 332.9h0M372.4 331.9h0M341.6 332.7h0M328.8 330.9h0M308.5 333.2h0M357.8 330.6h0M312 330.7h0M338.9 331.9h0M336.8 333.4h0M358.5 331.7h0M346.5 332.7h0M325.3 330.7h0M341.1 330.9h0M327.1 331.1h0M331.3 332h0M361.4 330.6h0M303.1 332.5h0M317.5 332.5h0M330.6 330.7h0M346.1 330.7h0M320 331.4h0M359.3 332.9h0M348.1 333.1h0M327 330.6h0M308.6 332.8h0M348.7 332.1h0M299.1 330.9h0M336.1 330.8h0M336.5 332.9h0M339.1 332.3h0M307.2 330.9h0M295.6 331.9h0M358 333.3h0M357 333.5h0M340.2 331.9h0M324.2 333.3h0M332.6 332.9h0M322.3 331.4h0M350.7 333.4h0M352.3 330.5h0M326.4 333h0M333.8 332.2h0M334.2 332.8h0M338 331.4h0M314.8 332.6h0M349 331.8h0M347.4 331.1h0M359.1 332.7h0M344.3 332.8h0M367.4 333.3h0M325.4 331.7h0M325.2 331.8h0M337.4 331.2h0M363.6 331.8h0M363.9 330.6h0M348.5 333.3h0M358.2 332.3h0M347.4 330.6h0M356.9 331.7h0M320.5 332.6h0M312.3 330.5h0M341.9 331.3h0M346.5 333.2h0M331.5 331.7h0M330.7 330.7h0M344.1 332.8h0M318.3 332h0M294.8 332.3h0M335.8 332.6h0M327.4 331.8h0M337.1 332.7h0M340.1 332.9h0M370.2 332.8h0M347 332h0M319.7 332.2h0M332.5 331.6h0M353.8 331h0M323.9 332.8h0M334.2 330.6h0M332.8 333.4h0M315.4 333.4h0M345.7 333h0M371.7 332.2h0M350.6 333.3h0M319.5 331.6h0M327 333.1h0M337.8 331.1h0M342 332.7h0M333.7 331.3h0M327 331.4h0M310.8 332.2h0M352.8 333.1h0M323.9 331.4h0M359 330.8h0M331.6 331.1h0M341.9 330.5h0M347.8 332.5h0M344.7 331.9h0M359 333h0M340.7 331.1h0M340.4 332.6h0M364.9 333.1h0M359 331h0M320.1 330.9h0M296.7 331.4h0M343.2 332.7h0M335.3 332.8h0M342.6 332h0M333.3 331.6h0M329 332.4h0M290.5 332.4h0M315 333.1h0M317.8 332.5h0M358.1 332.8h0M336.8 331.2h0M356.4 331.2h0M361.5 331.4h0M310.5 331.8h0M313.8 333.3h0M324.9 332.6h0M370 333.4h0M361.5 331.5h0M324.4 331.5h0M334.9 332.9h0M349.2 331.9h0M362.8 332.4h0M349.9 331.2h0M316.2 332.3h0M340.7 332.9h0M383.9 332.2h0M361.5 332.6h0M325.6 331.3h0M330.5 332.3h0M298.2 330.8h0M331.2 331.6h0M371.4 331.1h0M331.6 331.6h0M348.8 331.4h0M358 332.1h0M368.2 331h0M351.7 331h0M341.7 333.2h0M319.6 331.8h0M330.6 331.5h0M326.2 332h0M308.4 330.8h0M314.7 332.5h0M318 332h0M323 332.4h0M325.3 332.7h0M348.9 333h0M328.8 331.1h0M303.1 331.5h0M334.6 331.9h0M374.3 332h0M346.9 332.9h0M331.2 333.4h0M342.1 330.7h0M330.2 330.6h0M331.2 331h0M309.4 333.2h0M347.3 333.1h0M323.3 330.6h0M334.1 333.2h0M343.7 331.8h0M336.7 331.7h0M328.9 331.7h0M351.7 332.7h0M340.8 332.7h0M346.8 332.1h0M356.6 331.3h0M345.7 332.4h0M327.5 332.9h0M333.8 331.5h0M345.6 331.5h0M342.1 331.5h0M307.7 331.8h0M346.4 330.7h0M331.9 332.6h0M317.1 333h0M308.7 333.4h0M374.8 331.3h0M300 332.6h0M361.2 331.5h0M366.5 331.4h0M346.7 333.2h0M325.2 332.7h0M312.3 331.4h0M357 332.3h0M347.3 333.5h0M354.3 331.9h0M328.3 332.6h0M314.7 333.3h0M343.7 333h0M330.9 331.6h0M348.7 332.2h0M330.8 332.9h0M314.4 332.4h0M307.5 331h0M335 331.2h0M338.6 332.1h0M319 332.4h0M342.4 331.3h0M342.4 331.2h0M327.7 331h0M319.7 332.7h0M306.8 332.9h0M356.7 330.9h0M308.2 331.7h0M341.3 332.6h0M358.7 332.6h0M362.1 330.6h0M340.9 331.2h0M342.8 332.9h0M303.8 332.5h0M347.4 333.3h0M323.4 333.2h0M299.9 331.8h0M324.5 332.9h0M323 331h0M326.8 332h0M336 331.6h0M354.3 332.2h0M312.9 331.3h0M311.6 331.4h0M343.1 332.3h0M331.5 331.8h0M378.4 332.2h0M295.4 331.1h0M308.9 331.3h0M319 332.8h0M344.6 330.8h0M317.5 333.3h0M368.7 332.9h0M352.2 332.6h0M327.7 331.6h0M355.2 332h0M324.7 332.4h0M357.3 331.2h0M336.2 333.3h0M357.8 333.3h0M375.4 330.7h0M345.9 332.8h0M311.9 330.7h0M309 331.9h0M314.5 331h0M279.6 330.8h0M362.7 330.9h0M343.4 332.6h0M332.8 333.2h0M329.2 332.5h0M313.1 331.9h0M331 330.8h0M374.6 330.8h0M331.1 331.3h0M338 331.8h0M343.1 331.9h0M367.5 331.1h0M321.5 333.4h0M350.9 332h0M346.1 330.8h0M298.6 332.3h0M326.6 331.9h0M360.7 333.2h0M332.6 333.4h0M343.4 330.8h0M357.3 331.6h0M330.6 332h0M330.2 330.7h0M343.7 330.7h0M349.9 333.5h0M332.8 332.5h0M311.7 331.5h0M339.5 332.3h0M327.8 332.5h0M305.7 330.8h0M338.7 333.1h0M320.9 331.1h0M320.6 332.2h0M357 332.4h0M318.3 331.7h0M361.5 331.1h0M313.2 330.7h0M366.5 332.8h0M306.1 332.9h0M332.1 331.2h0M352.6 331.9h0M345.3 332.8h0M366.6 330.8h0M318.6 331.6h0M315.2 331.7h0M356.2 331.7h0M350.5 331.9h0M363 332.6h0M333.1 331h0M306.3 333h0M324 330.5h0M314.8 331.5h0M326.3 331.8h0M340.2 332.5h0M349.7 332.9h0M343.5 332.6h0M316.5 332.4h0M319.3 330.6h0M336.3 331.6h0M316.9 332.1h0M305.5 331h0M348.6 330.5h0M338.5 333.2h0M309.6 333.3h0M346.6 333.3h0M342 331.8h0M327.3 330.5h0M347.6 333.2h0M342.2 331.2h0M372.4 333.2h0M333.4 333.3h0M321.9 330.7h0M303.4 332.6h0M316.9 331.2h0M323.3 332.4h0M329.2 332.8h0M321.2 332.6h0M373.9 332.3h0M377.4 333h0M327.3 331.1h0M363.9 332.8h0M353.6 333.1h0M318.5 332.4h0M341.5 333.3h0M317.8 332.7h0M367.7 330.8h0M325.5 333.4h0M307.5 332.9h0M352.3 332.3h0M333 332.2h0M298.4 332.8h0M320.6 330.7h0M317.6 332.4h0M354.8 332.6h0M302.3 332.4h0M317.7 333.4h0M314.8 330.9h0M324.7 331.8h0M384 332.3h0M337.4 332.6h0M363.5 331.4h0M335.8 332.5h0M347.4 333h0M314.8 331.2h0M308.9 332.4h0M339.2 330.5h0M350.5 332.9h0M298.2 333h0M350.3 333.1h0M329.6 331h0M339.2 333.3h0M365.9 331.8h0M360.4 331.8h0M323.7 331.1h0M337.3 330.6h0M343.4 333.1h0M363.6 331.3h0M315.9 330.8h0M356.1 332.2h0M316.6 332.5h0M344.6 331.7h0M359.2 331.9h0M336.4 332.8h0M336.3 331h0M352.9 332.7h0M321.1 332.6h0M285.3 332.6h0M347.1 331.6h0M369 330.8h0M349.1 332.1h0M333.3 330.5h0M361.7 332.6h0M316.9 332.9h0M321.2 332h0M308.2 332.9h0M341.4 331.6h0M330.2 330.6h0M341.5 331.7h0M323.2 331.5h0M308.7 330.5h0M357.4 332.5h0M289.4 333.3h0M333.7 331.2h0M350.7 333.1h0M327.8 331.2h0M351.7 332.5h0M298.5 332.3h0M367 331.3h0M326.5 333.1h0M342.3 331.6h0M325.5 332.4h0M351.1 331h0M372.5 331h0M316.6 331.3h0M351.7 331.9h0M330.8 331.2h0M325.1 330.7h0M339.8 333.1h0M335.3 332.2h0M347.6 331.4h0M323 330.5h0M358.8 332.7h0M304.7 333.3h0M349.8 330.9h0M328.3 331.3h0M301.7 332.3h0M311 330.8h0M329.1 330.6h0M306.1 333h0M353.4 332.3h0M355.7 332.2h0M356.9 331.6h0M350.5 333.3h0M371 332.5h0M340.5 331h0M335.8 332.8h0M371.8 330.5h0M325.3 333.2h0M315.3 332.2h0M310 331.9h0M340 331.3h0M347.8 330.7h0M335.3 333.3h0M360 331.2h0M338.1 332.7h0M322.8 332.9h0M356.2 331.6h0M333 333.2h0M346.8 331.6h0M329.3 330.8h0M348.4 331h0M368.1 333.2h0M322.9 331.8h0M353.6 332.3h0M353.8 333.4h0M334.4 330.6h0M318.5 331.1h0M341 331.9h0M340.9 331.2h0M360.4 332.9h0M360 331.3h0M334.2 331.7h0M318.1 331.9h0M346.6 330.9h0M302.3 332.9h0M349.5 331.8h0M332.3 333.3h0M315.5 331.5h0M368.2 333.2h0M381.1 332.5h0M317.9 331.7h0M286.8 331.5h0M354.4 331h0M294.6 331.5h0M356.3 332.8h0M313.5 332h0M338.8 333.4h0M323.7 331.4h0M321.9 332.2h0M328.6 331.1h0M334 332.6h0M364 333.3h0M351.5 333.1h0M326.7 333.3h0M326.1 332.7h0M356.5 331.6h0M344.9 331.7h0M356.4 332.8h0M336.9 331h0M331.8 331.3h0M364.3 331.7h0M338.5 332.4h0M337.8 330.6h0M331.1 333.4h0M335.2 330.8h0M328.5 330.8h0M331.6 333.3h0M314.5 332.2h0M346.9 333.4h0M326.9 331.6h0M315 333.1h0M330.5 333.3h0M342 331.6h0M313.6 333.4h0M326.4 331.4h0M336.3 332.1h0M332.1 331.4h0M339.3 332.7h0M286.2 333.4h0M333.8 332.9h0M342.5 331.5h0M328.3 330.7h0M353.4 333.4h0M320.6 330.6h0M309.9 333.2h0M347.8 331.3h0M328.4 333.3h0M331.2 331.8h0M370.2 331.6h0M332 331.1h0M302.6 332.3h0M324.7 332.2h0M325.9 331.6h0M348.3 332.4h0M342.1 331h0M351.8 331.9h0M300 331.2h0M323.4 332.9h0M317.5 331.3h0M338 333.3h0M345.3 330.5h0M318.6 331.3h0M372 332.2h0M322.3 332.7h0M354.4 331.5h0M349.8 331h0M359.3 332.3h0M328.9 331.1h0M319.9 333.3h0M361.3 333.4h0M352.4 333.3h0M335.3 333.1h0M335.9 332h0M306.4 331.2h0M314.4 331.3h0M353.4 330.8h0M305.8 332.7h0M302 331.2h0M327.9 331.9h0M332.9 332.6h0M350.8 332.2h0M309.6 333.1h0M326.5 331.1h0M354.7 330.7h0M330.1 332h0M324.8 332.3h0M342.7 332.7h0M320 332.1h0M313.2 332.1h0M325.5 332.9h0M367.6 332.6h0M332.5 331.2h0M336.3 331.6h0M328.3 332.8h0M338.4 332.7h0M337.2 332.6h0M348.4 332.7h0M359.4 331.4h0M330.1 331.4h0M319.2 330.6h0M368.7 331h0M332.2 331.4h0M353.5 331.7h0M317.3 332.1h0M339.7 331.1h0M325.7 332.9h0M348.8 332.1h0M312.2 333.3h0M303.2 331.6h0M324.8 331.5h0M351 332.8h0M331.8 331.9h0M350.4 332.2h0M341.6 333.2h0M318.5 333.3h0M305.4 332.2h0M333.1 330.9h0M313.4 332.6h0M359 333.1h0M333.3 331.9h0M344.9 332.3h0M287.7 333.2h0M318.1 332.1h0M336.9 331.7h0M313.6 331h0M335.9 332.5h0M333.1 332.8h0M322.4 331.2h0M335.4 332.5h0M332 331.8h0M383.4 333.5h0M380.1 330.9h0M316.1 332.2h0M356.9 331.9h0M313.3 330.7h0M342.5 332.1h0M327.9 332.7h0M361.6 331.5h0M348.7 332.8h0M344.9 331.4h0M326.7 332.2h0M346.7 332.9h0M332.9 332.2h0M337.9 333.3h0M352.8 332.2h0M344.3 332.7h0M317.7 333.2h0M350.5 331h0M343.6 330.9h0M353.7 332.3h0M330.2 332.2h0M332.3 332.1h0M309.7 332.2h0M344.5 330.9h0M328.5 331.2h0M364.2 330.7h0M339.2 331.4h0M329.1 333h0M326.9 330.9h0M323.3 333.3h0M329.2 332h0M319.7 330.9h0M320.4 332.9h0M360 331.2h0M311.7 330.8h0M325.5 332.3h0M338.4 332.1h0M335.6 331h0M322.1 332.5h0M321.4 330.5h0M308.3 332.4h0M350.3 332h0M331.5 332.1h0M301.2 331.5h0M328.8 331.5h0M371.5 332.3h0M308.9 333.1h0M330.1 333.2h0M332.6 333.4h0M293 333.3h0M340 333.1h0M320.1 331.8h0M352.1 330.6h0M345.2 332.8h0M294.3 331h0M351.4 331.2h0M345.9 331.8h0M333.2 331.5h0M351.3 331.4h0M296.3 332.6h0M332.4 332.6h0M317.3 331.8h0M350.3 331.6h0M341.9 331.8h0M321.3 332h0M341.1 333.1h0M362.1 331.4h0M360.8 332.4h0M357.8 331.9h0M343.1 330.9h0M343.8 333.4h0M352.3 331.3h0M327.6 333h0M313.9 331.3h0M347 331.6h0M373 332.1h0M318.4 331.6h0M341.6 332.6h0M351.4 331.9h0M344.6 331h0M344.2 330.8h0M335.2 332.8h0M327.5 331.3h0M309.9 332.7h0M338.5 331.5h0M332.9 333.2h0M324.7 331.4h0M329.6 331.2h0M354.8 333h0M295.7 332.4h0M322.9 331.7h0M324.9 332.2h0M338.3 330.6h0M319.7 332.6h0M314.3 332h0M333.3 331.9h0M350.8 331.7h0M325.5 330.5h0M363.3 332.3h0M341.6 330.7h0M332.9 331.6h0M341.2 330.6h0M321.6 332.5h0M340.8 331.2h0M360.5 333.1h0M329.8 331.3h0M302.6 333.3h0M361.2 332h0M328.6 332.3h0M345.7 332.9h0M343.6 333.2h0M352.2 332.8h0M318.9 332.8h0M333.7 331.6h0M356 331.7h0M337.2 332.4h0M310.9 330.7h0M359.9 331h0M322.5 330.9h0M360.1 332.7h0M394.8 331.1h0M340.2 331.3h0M319.4 331.4h0M330.1 331.1h0M312 330.9h0M307.6 333.3h0M342.2 331.8h0M344.6 333.3h0M342.6 330.5h0M324.8 331.4h0M355.3 333.2h0M321.6 332.5h0M302.5 332.7h0M353.6 333.1h0M364.2 331.8h0M365.3 330.9h0M312.2 331h0M314.9 332.7h0M378.8 333h0M315.7 330.9h0M323.2 332.1h0M327.5 332.7h0M303.8 331.4h0M345.3 332.5h0M327.7 333h0M358.7 331.9h0M350.1 331.9h0M315.1 332.6h0M331.1 332.7h0M341.2 331.7h0M355.7 331.6h0M352.8 332.2h0M327.2 333.1h0M327.3 330.9h0M355.4 332.3h0M328.3 333.2h0M336.9 332h0M318.5 330.9h0M335 332.6h0M319.1 331.3h0M334.5 331.4h0M341.6 333h0M295.2 331.3h0M342.1 332.4h0M316.4 331.6h0M350.9 333.1h0M317.7 333.5h0M323.5 333.3h0" stroke="#C2C2C2" stroke-width="1.25" stroke-linecap="round" fill="none"/>
<path d="M319.8 325.1h0M316.1 326.1h0M323.4 329.5h0M318.7 328.7h0M301.5 321.8h0M316.6 329h0M314.7 324.6h0M317.3 324.9h0M319.4 329.3h0M320.3 330.1h0M321.9 329.4h0M323.3 325.4h0M319.8 329h0M315.7 322.8h0M319.1 326.4h0M313.5 329.8h0M316.5 322.2h0M318 318h0M319.7 316.3h0M309.9 326.8h0M322 326.2h0M313 318.9h0M320 328.5h0M308 326h0M315.9 322.3h0M312.9 330.1h0M320.7 328h0M321.7 328.4h0M321.2 326.9h0M320.4 326.5h0M318.5 327.6h0M311.3 325.8h0M323.2 329.9h0M320.9 325h0M318.4 328.4h0M319.3 321.8h0M322.7 314.9h0M308.4 324.7h0M305.6 329.8h0M315.1 325.9h0M317.3 328.3h0M319.6 319.7h0M315.1 320.7h0M311.3 330.3h0M319.1 329.6h0M313.8 327.7h0M312 324.7h0M322.5 327.6h0M320.5 322.4h0M321 322.4h0M310.9 330.5h0M322.1 327.3h0M311.4 324.7h0M321.9 327.1h0M311.1 321h0M321.6 329.2h0M318.5 325.3h0M314.8 329.1h0M322.4 329.1h0M298.2 328.2h0M316.7 316.1h0M302.5 326.9h0M314.7 322.8h0M313 326h0M312.2 321h0M314.1 329.2h0M314.9 322.5h0M306.9 327.8h0M321.2 327.8h0M319.4 323.9h0M317.8 328.5h0M317.5 329.8h0M318.9 325.5h0M317.8 329.8h0M317.8 327.9h0M313.8 324.8h0M318.6 321.1h0M320.8 330h0M322.9 322.1h0M318.4 325.9h0M307.1 325.4h0M308.6 319h0M316.4 328.3h0M320.4 330.1h0M318.8 328.7h0M312.8 320h0M308.7 324.1h0M307.1 328.2h0M318.6 326.4h0M313.2 317.1h0M320.8 329.2h0M312.5 316.4h0M320.2 327h0M317.1 305.7h0M321.5 330.1h0M320 325.3h0M322.5 329.7h0M323.4 328.8h0M320.2 328.3h0M315.7 329.4h0M314.9 324.2h0M318.5 327.6h0M315.9 324.9h0M303.2 321.9h0M312.8 323.8h0M315 322.9h0M302.9 326.2h0M321.8 329.8h0M318.6 325h0M321.4 330.4h0M315.6 327.1h0M318.6 330.2h0M316 324h0M320.1 327.1h0M322.6 330.4h0M317.9 327.6h0M319.5 324.8h0M319.3 312.4h0M316.4 323.2h0M322 324.5h0M318.6 330.3h0M321.9 322.9h0M301.5 316.1h0M317.6 330.3h0M321.8 328.4h0M322.1 327.1h0M311.8 312.8h0M319.1 325h0M310.4 329.3h0M316.1 329.3h0M321.1 329.8h0M320.7 311h0M311.8 329.1h0M318.3 307.4h0M321.3 325.2h0M319.3 323.4h0M313.4 320.4h0M320.8 327.9h0M322.6 325.1h0M317.4 327.8h0M308.2 328.9h0M317.6 328.3h0M318.4 325.3h0M320.6 330.1h0M303.8 329.5h0M322.8 327h0M300.3 323.9h0M314.5 311.1h0M323.2 329.9h0M314 322h0M321 329.6h0M319.2 324.8h0M322 326.9h0M321.8 325.3h0M322.1 325.5h0M313.9 323.1h0M319 327.2h0M322 329.9h0M319.1 330.1h0M315.6 329.5h0M309 316.4h0M319.7 328.5h0M318.5 321.5h0M304.7 328h0M320.7 325.9h0M318.9 324.7h0M315.1 327.6h0M318.5 326.3h0M319.6 329.3h0M323.4 330.2h0M322.5 327.1h0M308.3 319.2h0M321.7 330.1h0M311 323.4h0M295.5 324.1h0M315.7 325.5h0M296.5 327h0M318.3 312.7h0M307.8 319h0M317.1 316.6h0M303.3 327.5h0M319.2 321.5h0M318.1 326.4h0M317.3 330.1h0M320.2 328.2h0M307.4 323.5h0M320.2 327.2h0M320.2 329.8h0M322.6 320.8h0M319.7 328.7h0M317.1 329.4h0M322.9 329.2h0M321.1 330.4h0M314.1 324h0M322.2 322.3h0M314.9 328.1h0M316.2 329.7h0M319.2 329.2h0M322.7 324.2h0M307.5 328.7h0M310.2 327.9h0M301.3 322.6h0M316.2 313.6h0M317.2 323.6h0M323.1 316.9h0M318.2 328.1h0M312.6 329.4h0M299.3 327.5h0M321.4 323.6h0M315.6 329.1h0M322.1 322.7h0M313.9 325.6h0M314.7 330h0M318.3 325.1h0M315.1 329.3h0M319.3 326.6h0M321.4 329.4h0M318.8 319h0M321.8 323.3h0M318.7 327.9h0M312.4 329.5h0M319.7 329.5h0M321.8 328.1h0M319.9 328.5h0M313.7 329.9h0M322.7 330.4h0M318.7 327.2h0M309.2 327.5h0M323.2 325.9h0M321.1 328.2h0M319.4 323.3h0M313.6 324h0M320.1 326.9h0M313.8 324.8h0M321.5 329.9h0M316.3 322.9h0M318.1 330.1h0M322.5 330.4h0M321.7 324h0M308.1 325.5h0M319.7 328.2h0M314.5 328.8h0M322.2 326.7h0M313.4 328.6h0M306.8 312.1h0M308.4 321.6h0M321.7 325.9h0M322.5 326.3h0M321.1 329.7h0M313.8 329.9h0M305.2 324.9h0M316.5 329.7h0M321.4 328.4h0M313.8 325.4h0M317.7 328.8h0M311.3 313.4h0M323 325.7h0M320.6 329.4h0M314.1 328.6h0M317.8 319.3h0M320.2 328.5h0M322.2 327.8h0M322.1 324.3h0M319 320.3h0M321.6 326.7h0M314.1 325.3h0M316.8 329.7h0M320.7 314.3h0M317.7 328.8h0M321 325.7h0M323.3 323.3h0M309.8 325.6h0M316.1 324.2h0M319 317.3h0M318.1 330.1h0M314 326h0M311 325.3h0M315.1 325.6h0M313.7 326.9h0M316.8 325.8h0M315.2 328.1h0M322.4 323.5h0M314.8 324.5h0M322.1 330h0M308.2 322.4h0M322.9 328.9h0M319.5 330h0M319 329.1h0M311.4 320.5h0M321.3 329.1h0M313.5 307.7h0M322.9 328.7h0M311.1 330.4h0M317.6 326.7h0M318.8 325.9h0M319.3 328.3h0M320.6 330.1h0M316.2 328.2h0M318.9 330.5h0M321.7 327.7h0M314.1 330.1h0M321 326.8h0M321.7 327.6h0M308 330.2h0M310 323.9h0M310.6 328h0M311.9 326.2h0M318.6 328.2h0M321.3 320.3h0M320.4 326.2h0M319.2 329.1h0M313.2 329.5h0M318.9 329.6h0M318.8 329.7h0M318 329.7h0M322.7 329.7h0M316 330.4h0M320.7 325.1h0M308.2 328.6h0M305.6 328.9h0M319.7 327.2h0M320.4 322.8h0M318.4 313.9h0M317 323h0M321.2 328h0M316.7 330.1h0M314.4 330.5h0M312.2 323.5h0M312.2 327.3h0M318.7 322h0M316.8 328.7h0M313.8 330.3h0M321.2 327.1h0M320.2 326.5h0M314.8 311.7h0M315.1 328.2h0M314 321.9h0M318.8 320.8h0M320.6 327.9h0M317 327.9h0M319.3 330.4h0M310.7 325.5h0M315.4 328.2h0M320.3 326.7h0M304.8 316.4h0M316.6 330.1h0M318.8 312.2h0M318.6 328.8h0M320.4 329.5h0M317.8 326.7h0M314.5 318.9h0M313.7 329.1h0M318.4 327.6h0M321.2 329.9h0M320.3 329.7h0M316 316.7h0M319.7 316h0M321.2 325.6h0M316.5 312.4h0M317.6 329h0M310.7 310.8h0M316.9 310.2h0M305.3 326.7h0M321.1 330.4h0M319 319.3h0M320.2 319.6h0M320.7 318.4h0M322.2 324.2h0M319.3 325.1h0M320.3 330.1h0M318 318.4h0M311.8 327.3h0M313.9 326.6h0M309.4 315.5h0M309.8 327.4h0M299.6 327.1h0M323.5 330.4h0M315.1 323.7h0M320.2 325.2h0M314.9 316.3h0M316 326.9h0M319.6 313.9h0M320 329.2h0M319.5 323.2h0M313.5 329.5h0M315.7 327.3h0M314.5 321.2h0M322.2 330.5h0M315 327.9h0M321.4 329.5h0M319.4 327.4h0M319.9 329.1h0M319.1 329.9h0M321.1 323.3h0M311.9 330.1h0M321.2 327.4h0M321.9 329.1h0M291.7 307.2h0M315.2 317.5h0M310.4 317.5h0M313 328h0M318.2 328.6h0M304.5 326.5h0M317.5 329.4h0M308.6 329.1h0M319.8 330.4h0M321.2 326.8h0M321.8 315.1h0M318.4 329.9h0M313.6 327.2h0M321.4 327.2h0M317.6 322h0M317.2 330.4h0M310.6 307.5h0M320.9 328.8h0M316.7 318.6h0M319.6 326.5h0M317 325.2h0M316.2 330.3h0M302.2 328.1h0M309.5 326h0M314.9 327.8h0M310.6 328.1h0M317 315.8h0M322.4 327.8h0M321.6 328.3h0M321.3 329.6h0M315.5 328.4h0M305.3 324.3h0M315.8 329h0M321.5 329.6h0M313.7 330.2h0M322.3 328.9h0M320.3 319.4h0M319.2 329.2h0M311.7 324.9h0M322.5 330.2h0M322 324.7h0M317.1 329.1h0M312 329.4h0M318.3 330.2h0M315.8 321.3h0M315 323.4h0M322.7 329.3h0M319.5 323.4h0M322.7 327.1h0M321 330.4h0M313.3 319.5h0M320.5 326.9h0M307 328.6h0M311.9 322.1h0M314.2 329.6h0M318.6 322.8h0M320.6 319.1h0M319.2 326.4h0M314.8 328h0M316.9 328.4h0M314.3 328.9h0M318.7 329.2h0M317.5 328h0M322.1 330.1h0M318.5 329.9h0M307.8 312h0M321.2 329.3h0M320.8 328.4h0M319 327.9h0M310.3 330.4h0M321.7 327.2h0M308 329.6h0M311.1 324.8h0M305.6 323.1h0M314.5 325.5h0M312.9 329.6h0M320.1 329.4h0M317.6 328h0M306.8 313.8h0M312.7 311.5h0M309.3 320.6h0M318.3 330h0M321.4 326.4h0M304.7 326.1h0M309.2 319.5h0M317 317h0M320.2 324.3h0M318.5 319.5h0M301.1 324.3h0M314.3 329.7h0M310.2 330h0M312.1 330.3h0M302.3 328.1h0M320.4 330.5h0M316.8 329.7h0M312.2 317.8h0M321.8 330.5h0M322.6 323h0M315.9 329.2h0M321.6 329.4h0M305.9 315.7h0M320.5 328.4h0M320 321.2h0M320.6 317.9h0M320 323.8h0M314.2 326.3h0M317.1 329.7h0M320.2 326.5h0M320.3 329.5h0M322.3 329.7h0M314.7 326.8h0M320.4 317.1h0M310.8 326.8h0M309.4 330.5h0M316.3 326.8h0M314.8 329.6h0M320.4 322.2h0M320.2 330h0M319.2 314.5h0M319.8 325.8h0M311.1 324.9h0M319.6 330.2h0M310.5 321.8h0M318 329.8h0M314.7 327h0M320.4 320.3h0M320.5 330h0M311.9 312.3h0M319.1 328.8h0M315.6 327.3h0M321.9 322.7h0M320.6 327.2h0M315.8 319.6h0M317.6 324.3h0M320.2 329.6h0M320.9 328.9h0M312.8 316.8h0M314.3 319.5h0M316 327.6h0M321.9 327.9h0M315.7 330.2h0M321.5 322.5h0M318.5 326.2h0M304.3 319.5h0M319.9 326.4h0M319.9 328.7h0M317.9 329h0M321.3 329.1h0M319.8 328.8h0M321.6 329.4h0M317.9 329.7h0M318.6 329.3h0M318.3 328.9h0M321.7 329.1h0M310.5 323.8h0M318.7 329.4h0M318.8 330h0M316.5 327.1h0M316.2 324.7h0M317 325.8h0M322.7 330.2h0M319.1 326h0M319.6 329h0M322.5 326.7h0M319.7 327.7h0M315.2 327.4h0M306.4 329.1h0M318.8 326.8h0M320.4 330h0M320.3 327.2h0M314.9 327h0M321.3 330.3h0M320.9 326.2h0M316 322.1h0M323.1 330.5h0M321.3 328.9h0M317 320.9h0M318.1 323.3h0M319.2 328.3h0M313.9 322.2h0M323.1 328.2h0M316.2 329.8h0M308.3 329.2h0M315 330.3h0M320 329.8h0M322.5 326.5h0M319.2 321.6h0M308.6 318.1h0M312.1 326.2h0M311.9 318.7h0M319.7 327.8h0M309.4 312.3h0M303.4 326.3h0M317.5 328.6h0M320.5 328.5h0M318.8 322.6h0M317.9 311.9h0M317.5 330.3h0M320.1 327.2h0M315.1 323.4h0M319.5 321h0M307.3 328.4h0M317.5 311.6h0M318.5 326.6h0M322.6 325.7h0M306.6 327.5h0M316.1 330.1h0M319.3 322.3h0M316.1 310.7h0M313.7 326.7h0M316.3 323.1h0M322.4 327.2h0M322.7 326.1h0M315.7 328.7h0M318 316.4h0M317.4 321.7h0M311.8 324.6h0M315.1 319.6h0M322 330h0M312.6 319.8h0M320.6 329.4h0M319.1 326.1h0M322.9 318.6h0M317.6 330.4h0M321.2 321.8h0M310.4 328.4h0M323 313.4h0M320.5 320.5h0M322.5 329h0M303.3 313.7h0M319.1 326.9h0M323 318.4h0M312.8 322.2h0M319.9 329.6h0M317.8 325.9h0M315.7 325.8h0M320.5 329.4h0M320.4 330h0M316.7 322.5h0M319.2 328.9h0M322.3 320.7h0M315.3 325.7h0M323.1 329.5h0M316.5 322h0M320.4 323.9h0M322.3 324.9h0M322 329.6h0M317.3 324.4h0M322.5 324.4h0M318.2 329.7h0M322.1 327.2h0M313.9 327h0M321 315.7h0M323.3 323.2h0M319.2 328.8h0M316.2 327.5h0M315.4 325.3h0M319.6 323.7h0M322.3 326.7h0M310 326.5h0M320.5 323.2h0M321.9 328.4h0M310.9 327.6h0M319.8 330h0M318.4 311.9h0M316.1 326.8h0M314.8 321.9h0M315.6 327.2h0M315.5 325.1h0M322.5 322h0M309.1 324.6h0M313.8 329.5h0M319.2 316.9h0M308.6 319.6h0M309 319.3h0M321.3 329.6h0M320.4 327.1h0M316.3 326.8h0M318.4 313.2h0M321.3 327h0M312.1 321.6h0M317.9 326.4h0M316.7 316.8h0M319.8 327.9h0M311.1 328.1h0M308.9 328.2h0M308.7 326.4h0M319.5 318.1h0M307.1 328.4h0M322.2 326.9h0M322.9 330.4h0M320.1 330.4h0M322.1 329.1h0M322.4 328.1h0M318.7 327.3h0M314.8 330.3h0M323.2 320.9h0M310.6 321.9h0M314.3 329.9h0M310.3 328.9h0M319.2 328.5h0M321.8 326.4h0M322.4 327.5h0M316.8 329.7h0M318.6 323.6h0M317.9 328.5h0M314.3 306.1h0M313.5 318.8h0M306.3 326.4h0M315 320.6h0M306.5 325.2h0M317.5 330.4h0M311.4 322.8h0M318.4 327.7h0M318 328.4h0M317.5 321.3h0M316.9 328.4h0M320.3 323.4h0M322.6 328.9h0M317.8 327.1h0M319.6 328.9h0M317.7 326.1h0M320.1 327.6h0M316.8 319.8h0M319.1 329.4h0M322.1 329.8h0M317.9 329h0M318 326.1h0M318.6 329.3h0M318.5 327.5h0M317.2 330.4h0M322.1 330.1h0M323.2 330.3h0M319.1 325.4h0M316.8 328.7h0M309.4 313.7h0M316.5 330.1h0M319.5 325.3h0M320.4 327h0M314.1 325.8h0M322 329.6h0M314.1 321h0M318.9 327.6h0M309 325.8h0M308.2 322.2h0M311.2 313.9h0M307.5 328.6h0M312.8 312.2h0M310.9 328.2h0M318.1 330.1h0M317.2 329.4h0M318.8 327.9h0M314.6 327.9h0M315.1 329.9h0M321.3 326.2h0M313.4 327.8h0M321.7 330.1h0M310.5 327.5h0M319.3 330.1h0M319.4 327.3h0M307 328.8h0M317.6 329.7h0M320.3 325.2h0M316.1 326.3h0M304.2 320.6h0M313 309.9h0M315.6 323h0M317.8 319.6h0M303 325.7h0M323.2 329.7h0M317.2 322.9h0M322.5 330.3h0M312.2 327.5h0M319.2 329.8h0M319.7 322.3h0M318.1 326.4h0M319.2 313.6h0M310.2 323.4h0M320 327.4h0M318 328h0M319.2 321.1h0M323.1 325.9h0M311.5 322.2h0M313.8 321.4h0M321.5 325h0M321.1 324.6h0M323.1 322h0M321.6 329.2h0M322.1 329.6h0M318.9 330.3h0M320.4 323.3h0M321.2 330.3h0M322.2 322.5h0M314 328h0M322.1 329.7h0M321.7 328.7h0M319.9 326.1h0M318.7 323.7h0M316 315.7h0M317.6 327.7h0M321.1 329.2h0M322.2 329.1h0M320.7 330.5h0M316.9 326.2h0M317.1 329.2h0M309.2 328.3h0M315.3 327.1h0M313 317.1h0M317.7 328.3h0M320 323.9h0M321.6 328.3h0M315.4 327.5h0M317.2 329.2h0M318.9 322.4h0M313.8 326.6h0M316.6 320.5h0M300.4 326.5h0M311.7 318.9h0M323.3 330.3h0M316.8 328.6h0M322.5 324.4h0M322.9 327h0M314.8 320.4h0M317.5 330.2h0M317.9 330.5h0M317.7 328.1h0M315.3 322h0M317.7 325.5h0M319 322.3h0M315 327h0M313.1 326.4h0M320.1 325.9h0M317.4 321.5h0M319.7 328.3h0M317.2 328.5h0M322.3 329.3h0M319.7 327.3h0M308.9 329.6h0M322.3 325.1h0M318.5 309.1h0M321.3 313.4h0M311.7 308.3h0M318.4 328.2h0M314.2 327h0M303.9 330.1h0M319.3 328h0M319.1 327.5h0M321.9 327.1h0M304.8 322.4h0M312 325.6h0M322.3 328.9h0M318.8 324.1h0M317.2 329.7h0M320.6 325.5h0M312.8 325.3h0M306.1 320.5h0M313.4 328.3h0M318 324.8h0M320.6 327.6h0M317.8 324.3h0M303.1 325.9h0M319.3 328.1h0M321.4 322.9h0M318.2 327.8h0M316.9 328.4h0M322.1 329.9h0M314.2 324.6h0M312.4 320.2h0M319.4 330.4h0M317.6 326.7h0M320.3 320.2h0M319.6 329.2h0M318.7 325.6h0M321.5 328.9h0M309.5 327.9h0M316.9 324.7h0M322.9 329.7h0M322.2 330.3h0M319.5 328.6h0M321.4 330.2h0M316.2 324.6h0M315.6 324.1h0M319.2 328.2h0M314.5 329.8h0M321.7 328.8h0M323 308h0M323.4 323.9h0M312 328.4h0M322.7 327.2h0M313.8 319.9h0M316.4 320.1h0M321.2 321h0M317.3 324.3h0M319 317.8h0M315.8 324.1h0M307.3 328.1h0M319 323.1h0M312.7 319.8h0M319.4 316.2h0M313.2 324.8h0M322.8 329.2h0M312.6 320.7h0M322.1 329.2h0M283.4 330.3h0M311.1 330h0M299 330.4h0M290.5 329.4h0M313.9 329.8h0M296.7 330.2h0M312.6 330.2h0M303.8 330.1h0M315.2 330h0M290.7 330h0M292.4 329.9h0M286.7 328.6h0M283.1 330.3h0M285.8 330.1h0M290.4 329.9h0M302.7 329.9h0M289.7 330.3h0M304.3 326.8h0M293.2 329.8h0M308.7 329.3h0M296.1 328.9h0M292.9 327.2h0M295.1 327.3h0M315.2 329.7h0M291.5 330h0M292.5 330.1h0M309.8 329.7h0M289.1 330.3h0M304.2 329.5h0M299.9 329.9h0M307.9 330.1h0M285.7 327.7h0M295.1 330h0M303.4 330.4h0M305.7 330.4h0M293 330.4h0M290.1 330.5h0M308.8 329h0M296.6 326.7h0M286.2 330.4h0M305.9 330h0M304 330h0M289.1 329.5h0M300.2 330.4h0M308.2 327.9h0M282.8 329.8h0M298.2 330.3h0M297 330h0M293.1 329.8h0M309 330.2h0M314.1 330.1h0M290 330.2h0M291 329.1h0M300.2 330.4h0M306.3 330.3h0M300.2 329.9h0M307.1 330.1h0M292.7 330.4h0M303.4 329.6h0M303.2 330.3h0M319.8 317.1h0M309.2 318.9h0M315.3 310.5h0M312.8 310.7h0M311.6 310.4h0M318.9 310.6h0M313.3 315.5h0M317.8 309.7h0M315.5 308.8h0M318.7 318.9h0M317.8 312.8h0M315.6 309.6h0M315.3 312.6h0M302.6 318.5h0M315.8 312.5h0M317.9 311.9h0M309.1 310.3h0M316.8 316.8h0M307.8 296.7h0M308.5 302.9h0M315.2 303.5h0M305.5 308.5h0M311.5 312.2h0M282.2 325.7h0M286 326.4h0M292 324.5h0M298 323.9h0M289.8 327h0M283.8 327.6h0" stroke="#3A7BB0" stroke-width="1.35" stroke-linecap="round" fill="none"/>
<path d="M348.6 327.9h0M344.5 325.9h0M347.7 316.5h0M351.7 323h0M351 317.4h0M346.7 317.2h0M343.2 330.1h0M342 327.7h0M341.4 329.7h0M343.2 330.3h0M343.2 308.8h0M341.8 329.4h0M339.8 328.2h0M355.9 328.3h0M344.5 329.1h0M340.6 329.9h0M342.6 327.3h0M365.7 323.3h0M348.7 315.2h0M342 317.2h0M352.9 328.8h0M346.7 328.4h0M363.2 325.5h0M340.2 319.4h0M353 312.7h0M342.8 327.9h0M339.3 326.7h0M339.2 328.9h0M342.1 313.5h0M345.5 327.2h0M344.3 326.8h0M344.2 317.6h0M354.5 306.5h0M369.4 313.6h0M342 318.5h0M339.8 329.4h0M340.9 325.6h0M349.1 272.8h0M342.9 315.8h0M344 326.2h0M339.1 325.3h0M342.3 328.6h0M340.5 327.5h0M338.5 323.8h0M359.8 319.2h0M350.8 297.7h0M339.5 329.4h0M342.5 330.4h0M341.3 317.3h0M342.4 321.6h0M341.3 328.1h0M353.1 283.5h0M345 316.3h0M342.1 313.7h0M342.2 329.3h0M339.6 328.5h0M342.8 326.1h0M345.9 327.1h0M347.8 310.1h0M342 317.9h0M362.1 322.9h0M341.8 325.9h0M356.3 321.8h0M351.8 318.3h0M349.2 328.3h0M351 327.2h0M345.7 317.2h0M344.7 327.1h0M354.2 299.6h0M339.9 325.2h0M346.7 314h0M339.7 328.8h0M375.4 324.1h0M345.2 315.1h0M342.7 327.4h0M345.8 328.1h0M342.7 329.9h0M347.2 321.1h0M347.3 326.1h0M356.2 323.4h0M344.6 327.1h0M340.3 328.2h0M339.4 327.5h0M339.8 325.3h0M345.5 323.3h0M338.9 328.3h0M351.3 319.1h0M342.3 317.4h0M352 326.1h0M346.5 311.2h0M341.3 330.4h0M350.8 328.7h0M343.1 325.6h0M351.4 323.4h0M343.6 325.5h0M345.7 311.9h0M342.3 326.7h0M339 330.4h0M339.2 329.6h0M342.6 329.7h0M341.1 329.5h0M349.4 322h0M340.6 330.2h0M345.5 329.1h0M343.9 323.4h0M344.5 328.3h0M340.9 324.7h0M344.5 322.4h0M355.1 323.1h0M346.1 323.5h0M352.8 327.6h0M346.6 330.3h0M354.1 317.3h0M349.7 322.9h0M351.1 319.1h0M342.5 322.9h0M342.7 329.4h0M340.3 323.6h0M341.8 319.6h0M347.3 329.8h0M346.5 322.7h0M360.9 300.8h0M353 318.5h0M354 324.2h0M343.5 330h0M344.7 328.6h0M350 327.4h0M340.2 327.3h0M341 321.6h0M338.8 330.4h0M347.5 326.8h0M346.9 321.5h0M351.2 292.1h0M349.2 282.2h0M340.1 330.3h0M342 327.8h0M358.2 319.6h0M358.5 318.4h0M344.5 322.5h0M341.8 329.5h0M357.3 315.6h0M339.9 329.5h0M351 296.9h0M340.8 325.4h0M356.9 328.1h0M345.5 325.8h0M342.9 330.3h0M340.8 325.2h0M367.6 315h0M349.1 309.1h0M352.2 308.3h0M349.9 321h0M342.3 326h0M338.5 323.9h0M341.1 329.6h0M344.3 325.8h0M342.4 329.5h0M346 310.2h0M341.4 329.5h0M346.4 319.7h0M344 322.1h0M345.5 330.1h0M342.5 329h0M360.5 317.7h0M341.3 329.1h0M338.7 325.9h0M345 326.7h0M341.2 326h0M346.9 327.7h0M347.3 329.8h0M344.2 327.4h0M340.3 329.1h0M345.6 325.9h0M341.7 323.1h0M341.6 326h0M350.6 328.4h0M348.8 322.3h0M346.1 328.9h0M338.9 327.9h0M345.3 313.9h0M350.9 319.6h0M340.8 328.6h0M345.2 330h0M339.8 328.3h0M349.2 324h0M339.9 329h0M343.2 326.1h0M356 310h0M340.1 322.9h0M352.8 328.8h0M341.4 327.3h0M345.3 312.4h0M339.5 327.3h0M348.9 318.3h0M347.3 317.7h0M347.7 325.9h0M349.5 321.7h0M340.5 324.8h0M344.8 325.4h0M350.9 328.7h0M342.2 330.5h0M339.2 328.8h0M344.6 329.6h0M352 290.3h0M388.2 319.8h0M340.1 325h0M347 327.8h0M340.8 329.9h0M346.5 325.8h0M351.2 327.1h0M355.2 328.9h0M349.9 323.5h0M350.2 318h0M373.1 291.2h0M358.6 323.9h0M359.2 318.1h0M348.1 325.5h0M339.9 329.5h0M347.7 315.7h0M343.5 319.2h0M343 321.3h0M355.1 317.9h0M348.9 319.2h0M342.7 329.1h0M346.4 324.3h0M344.3 328.4h0M348.9 325.1h0M340.7 329.2h0M362.8 328.7h0M347.2 330.1h0M350.3 328.5h0M345.6 328.4h0M339.2 326h0M361.2 330.4h0M341.7 327.3h0M346.4 322.3h0M348.8 323.3h0M345.3 308.5h0M342.9 330.4h0M349.2 291.2h0M339.7 330h0M348.1 294.7h0M349.1 323.5h0M342.2 313.3h0M346.3 326.8h0M353.3 317h0M346.2 329.8h0M341.1 319.2h0M352.1 325.6h0M343.8 320.9h0M341.9 328.5h0M342.8 329.8h0M340.2 326.8h0M341.8 329.7h0M342.8 327.8h0M352.4 327.1h0M351.3 324.1h0M339.5 327.2h0M343.1 328.5h0M352.1 330.3h0M341.7 329.9h0M352.9 289h0M379.4 321.9h0M339.3 329.2h0M340.2 317.1h0M341.9 316.3h0M344.8 320.3h0M338.9 326.1h0M349.8 330.1h0M351.9 313.3h0M351.4 324.5h0M341.4 329.5h0M359.5 318.5h0M352 330.2h0M348.8 325.4h0M355 324.4h0M341.6 325.3h0M345.6 319.9h0M348.2 326.5h0M353.7 320.4h0M346 329.7h0M346.1 314.8h0M349.9 322.4h0M355 320.9h0M339.6 327.3h0M348.8 325.3h0M339.9 327.7h0M353.1 319.2h0M345.3 326.2h0M359.9 328.3h0M340.9 322.7h0M349.2 324.7h0M341.9 327.2h0M352.3 327.7h0M351.1 330.3h0M340.6 323.4h0M344.6 321h0M339.2 329.8h0M342.2 329.7h0M357 322.4h0M348.1 322.6h0M340.1 328.2h0M342.9 307h0M340.8 329.6h0M344.8 319.2h0M353.4 312.7h0M344 327.4h0M349.6 322.6h0M340.7 328.2h0M343.4 330h0M341.1 327.8h0M341 322.8h0M339.6 329.9h0M341.2 328.4h0M347.6 325.5h0M338.8 324.5h0M350.9 329.5h0M352.8 326h0M350.2 312.7h0M353 284.4h0M340.8 324.8h0M375.8 274.6h0M340.8 323.9h0M343.3 321.8h0M344.4 316.1h0M339.7 324.9h0M348 328.1h0M349.7 307.8h0M354.7 315.9h0M339.4 327.4h0M340.5 316h0M341.3 323.8h0M364 323.3h0M351.4 314.2h0M356.6 301.4h0M351.2 315.1h0M349.2 322.8h0M343.8 324.7h0M339.7 330.4h0M342 324.2h0M350.1 315.3h0M343.7 326.1h0M352.6 297.6h0M359.3 326.5h0M348.4 322.5h0M343.9 320.7h0M354.7 322.8h0M340.2 328.4h0M345.1 329.8h0M341.6 329.4h0M349.1 327.1h0M341.4 329.3h0M352.4 329.6h0M347.4 330h0M347.4 319.1h0M344.1 325.8h0M348.8 322.7h0M340 325.3h0M339.6 327.4h0M346 328.2h0M340.9 327.3h0M343.6 319.6h0M340 330h0M342.2 327.8h0M345.9 329.5h0M351 319h0M340.9 329.4h0M345.3 328.9h0M356.7 326.8h0M350.1 321.4h0M341.8 329.6h0M348.2 323.5h0M341.5 326.4h0M347.2 329.1h0M344.2 319.2h0M341.2 313.9h0M348.7 311.3h0M344.7 325.8h0M341.4 318.7h0M339.7 324.8h0M343.1 323h0M360 320.5h0M351.1 307.5h0M348.2 321.9h0M339.9 324.9h0M340.3 326.7h0M353 303.9h0M340 325.8h0M340 328h0M345.7 309.6h0M349.9 324.7h0M342.5 318.2h0M354.3 272.2h0M342.4 300.9h0M340 320.5h0M340.3 330h0M343.2 321.7h0M349 267.2h0M341.1 330.4h0M343.9 329.4h0M347.2 329.6h0M348.4 327.6h0M339.6 320h0M347.4 324.7h0M344.4 330.5h0M341.3 330.2h0M349 327.2h0M339.6 327.5h0M346.3 324.7h0M342.1 329.9h0M342.3 322.5h0M340.9 328h0M342.2 308.7h0M342.5 316.9h0M345.9 320.6h0M341 328.7h0M340 328.7h0M346.5 315.1h0M344.8 320.8h0M342.2 329.3h0M341.2 325.8h0M368.8 302h0M343.3 328.8h0M340.7 321.3h0M344.8 325.7h0M344 323.3h0M349.7 307.8h0M349.9 320.7h0M342.6 327.6h0M348.2 323.9h0M350.2 327.7h0M344.8 325.6h0M351.5 269.8h0M338.6 328.2h0M341.7 326.5h0M345.2 325.2h0M352.5 325.3h0M340.8 326.6h0M339.8 309.3h0M342.5 330.2h0M359.9 329.2h0M343.7 313.9h0M338.8 328.6h0M341.4 328.4h0M339.6 327.4h0M343.2 317.5h0M341.6 330.2h0M356.3 283.6h0M341.6 328.9h0M340.3 329.6h0M347.5 323.8h0M353.6 315.9h0M356.2 329.9h0M341.1 316.7h0M346.3 307.7h0M360.8 303.5h0M345.9 328.7h0M341.2 323.7h0M355 309.6h0M340.2 319.3h0M347.7 309.5h0M348.3 322.7h0M353 315.6h0M352.2 315.9h0M342.2 325.5h0M340.1 327.5h0M346.8 321.3h0M339.9 327.8h0M349.2 325.8h0M357.9 323.2h0M348.9 322.2h0M344.4 311.2h0M342.7 324.5h0M340.6 330.2h0M341.7 325.6h0M344 320.9h0M347.3 329.1h0M339 324.5h0M345.4 324.1h0M346 329.1h0M356.5 322.1h0M341.7 329.9h0M342.4 329h0M345.4 327.3h0M343.5 322.5h0M346.4 322.7h0M351.6 306.5h0M363 329.3h0M344.9 318h0M354.3 316.7h0M342.8 328.7h0M343.6 330.4h0M340.6 328.5h0M344.6 323.5h0M345.1 327.1h0M355.4 287.6h0M346.6 327.2h0M345.4 326.3h0M340.1 330h0M352.8 326.6h0M344.3 325.9h0M338.7 325.6h0M356.9 317.3h0M351.9 316.7h0M345 320.3h0M342.4 325.5h0M350 328.3h0M342.1 330.3h0M350.4 329.9h0M339.8 330h0M346.3 329.7h0M344.5 326.5h0M350.5 318.9h0M339.9 328.7h0M346.2 321.8h0M340.5 327.7h0M345.2 327.9h0M340.8 327.4h0M345.5 311.4h0M359 312.7h0M344.6 323h0M342.5 324.3h0M343.5 330h0M347.6 327.5h0M345.1 310.4h0M341.6 330h0M338.9 327h0M339.2 327.4h0M341.5 327.6h0M358.9 311.5h0M342.4 327.8h0M345.1 326.8h0M353.9 319.7h0M344.8 326.2h0M351.7 318.1h0M344.6 320.6h0M347.1 324.4h0M340.6 328.8h0M339.6 327h0M361.4 314.3h0M346.9 323.9h0M350.7 330.3h0M340.2 329.2h0M347.6 325.8h0M349.1 312.2h0M349.9 314.2h0M342 329.9h0M340.2 320.6h0M360.7 321.4h0M339.4 330.3h0M343.1 329.7h0M346.6 325.3h0M341.8 317.8h0M344.1 329.1h0M344 326h0M347.6 294.8h0M346.2 323.8h0M354.9 304.9h0M360.2 325.8h0M351.2 319.1h0M340.5 330.4h0M348.4 313.5h0M348.6 328.3h0M343.6 328.8h0M342.8 330.5h0M354.8 324.7h0M348.2 322.3h0M345.6 329.8h0M344.8 323.1h0M349 312.3h0M354.8 316.4h0M342.9 324.8h0M339.4 320.3h0M340 328h0M355.9 327.8h0M345 329.4h0M344.5 326.6h0M347.8 324.6h0M341.6 330.1h0M350.1 315.2h0M339.1 328.6h0M338.8 311.2h0M339.1 328.1h0M353.1 327h0M346.5 319.1h0M350.4 319.1h0M340.1 327.2h0M339.3 329.7h0M346.9 320.1h0M347.1 297.5h0M370.1 303.1h0M347.6 324.4h0M345.2 327.4h0M343 326.4h0M345.5 326.7h0M354.9 315h0M356.7 323.7h0M340.7 330.4h0M341.6 326.5h0M345.1 317.8h0M354.4 323h0M342.6 327.2h0M344.4 315.7h0M355.2 281.3h0M350.5 323.5h0M347.3 328.4h0M344.2 327.7h0M352.7 327.5h0M346.9 329.3h0M350.3 330h0M339.1 328.9h0M341.6 329.9h0M340 322.1h0M355.3 302.2h0M339.5 322.7h0M343.5 319.2h0M344.4 327.7h0M339.7 326.8h0M349.9 327.4h0M344.5 325.1h0M339.7 328.4h0M347.8 319.5h0M340.5 325.7h0M351.8 296.9h0M358.3 328.8h0M339.3 329.3h0M345.7 314.5h0M348.2 327.2h0M349 321.9h0M342.2 326.4h0M355.8 328.7h0M347.1 308.4h0M343.7 328h0M345.2 323.1h0M351.7 313.5h0M345.7 328h0M349.5 325.6h0M340.7 327.9h0M340.5 327.9h0M341.3 330.4h0M338.7 330.4h0M355 316.5h0M339.7 329.2h0M366.6 319.4h0M351.4 330.3h0M342 329.4h0M345.9 329.6h0M342 328.5h0M341.2 323h0M342 321.5h0M339.6 324.3h0M361.4 276.5h0M342.4 327.7h0M342.2 325.4h0M346.4 313.1h0M350.3 317.5h0M350.7 324.2h0M352.4 322.8h0M354.4 325.2h0M349.5 327.2h0M345.9 321.4h0M349.4 328.6h0M344.6 312.7h0M343 322.6h0M342.4 318.1h0M354.9 322.2h0M340.1 322.8h0M339.5 322.2h0M344.3 330h0M352.7 323.7h0M347.5 302.8h0M347.2 322.2h0M368.5 307.1h0M344 305.6h0M348.2 313.2h0M348.1 328.8h0M343.7 329.8h0M364.2 284.6h0M342.7 319.8h0M343.9 307.1h0M350.8 318.5h0M342.8 328.7h0M343.6 324h0M340.7 327.9h0M352.5 315.8h0M357.9 321.1h0M342.7 321h0M341.1 327h0M353.8 313.4h0M344.5 320.1h0M360.6 295.3h0M344.8 324.7h0M339.5 328.1h0M340.4 312.3h0M343 324.4h0M344.8 329.9h0M347.3 329.6h0M349 320.7h0M345.6 328.1h0M356.5 288.3h0M339.5 329.4h0M342.9 330.2h0M341.6 328.6h0M348.2 330.5h0M340.2 327.5h0M349.8 322.3h0M356.9 326.6h0M358.8 325h0M352.6 327.7h0M348 317.4h0M344.6 329.4h0M341.7 320.7h0M340.7 322.1h0M342 326.7h0M347.3 325.2h0M340.8 323.1h0M343.7 328.8h0M346.5 328.6h0M344.9 318.5h0M342.7 326.9h0M342.6 325.1h0M342.3 329.2h0M345.5 329.9h0M352.4 317.7h0M346.5 329.3h0M347 325.3h0M344.1 316.7h0M342.1 323.6h0M340.6 315.7h0M348.8 326.9h0M347.2 329.8h0M344.3 321.2h0M349.2 330h0M352.8 329.7h0M345.5 328.1h0M360.4 327.2h0M353.7 318.5h0M347.5 324.2h0M351.6 303.9h0M348 301h0M353.3 326.9h0M357.5 326.7h0M356.8 289.3h0M342.1 328.8h0M341.8 328.5h0M338.6 328.8h0M341.3 321h0M350.5 321.2h0M354.1 313.2h0M344.4 315.4h0M355.5 306.8h0M343.4 326.6h0M342.7 328.6h0M343.3 291.9h0M357 323.9h0M342.1 320.7h0M339.2 328h0M340.2 329.3h0M339.9 330.2h0M342.2 329.4h0M347.1 329.6h0M343.2 323h0M341.4 326.3h0M343.2 325.6h0M347 326h0M344 329.4h0M348.5 326.5h0M346.5 327.7h0M348.8 293h0M341.6 327.3h0M344.1 321.8h0M342.5 322.1h0M342.9 324.7h0M340.6 324.7h0M354.3 283.8h0M349.9 325.1h0M353.1 304.6h0M352.1 326.6h0M340 325.9h0M352.2 306.6h0M343.5 325.8h0M338.7 329h0M344.5 329.7h0M348.4 318.7h0M351.3 316.2h0M346.7 289.4h0M357.2 328.8h0M355.6 326h0M343.9 329h0M342 318.8h0M346.1 315.8h0M346.4 319.6h0M343.3 327h0M344.2 318h0M340.9 328.7h0M339.3 327h0M342.6 330.2h0M348 319.2h0M344.8 329.2h0M342.3 325.2h0M343.6 330.3h0M361.7 311.1h0M347.4 300.9h0M359.7 321h0M358.3 322.3h0M344.5 326.9h0M349.8 324.3h0M345.6 311.4h0M341.8 327.7h0M343 329.1h0M344.4 329.9h0M347.8 328.4h0M347 328.9h0M342.8 321.4h0M339.2 329.9h0M341.5 330.3h0M344.7 312h0M350.3 312.6h0M342 318.7h0M339.6 321.5h0M349.4 329.8h0M353 316.1h0M342.1 328.2h0M340.8 325.4h0M348.4 329.7h0M357.6 294.5h0M345.5 327.1h0M351.5 327.8h0M342.6 325.6h0M340.9 329.8h0M351.6 323.2h0M347.4 323.6h0M341.4 327.6h0M350.9 310.7h0M350.3 330.4h0M340.8 328.9h0M344.7 320.6h0M340.1 320.2h0M344.1 322.2h0M343.9 322.9h0M339.6 329.7h0M343.6 329.1h0M338.6 328.6h0M342.6 328.5h0M349.6 317.7h0M343.4 327.6h0M339.3 330.2h0M357.6 325.1h0M351.8 313h0M351.8 330h0M345.5 329.8h0M350.4 325.5h0M347.4 324.7h0M341.6 318.9h0M345 328.4h0M340.2 330.2h0M352.6 325.6h0M340.9 326.8h0M342.2 327.8h0M350.9 323.5h0M345.6 319.8h0M341.2 328.6h0M361.3 328.1h0M341.2 327.8h0M339.6 330.4h0M345.8 323.6h0M342.9 320.9h0M339.4 317.6h0M352.8 306.8h0M348.4 317.8h0M343.5 327.2h0M347.5 325.5h0M346.6 329.1h0M343.9 324.1h0M339.6 317.8h0M364.2 322.4h0M358.6 276.4h0M346.2 328.6h0M342.1 329.8h0M342.5 320.4h0M348.1 317.9h0M341.1 310.9h0M344.6 316.5h0M343.1 319.6h0M342.8 317.1h0M360.3 304.5h0M344.7 322.4h0M345.8 329.2h0M359 323.6h0M343.4 312.2h0M343.9 297.8h0M342.6 330.1h0M344.1 327h0M339.1 330.5h0M350.4 329.6h0M350 324.8h0M348.7 326h0M345.2 322.9h0M355.6 320.9h0M339.2 330.5h0M350.8 298.1h0M347.9 322.6h0M347.4 306h0M360.7 329.7h0M340.5 314.4h0M344.6 321.3h0M357.9 306.7h0M370.1 309.3h0M347.8 326.9h0M339.6 328.4h0M342.4 320h0M340.8 329.9h0M340.9 328.6h0M374.7 327.8h0M355 294.6h0M343.6 311.7h0M349.7 326.3h0M341.5 329h0M349.6 329.5h0M343.2 325.6h0M344.4 327.4h0M362 309.5h0M341.5 328h0M344.4 323.7h0M342.1 327.1h0M339.3 329.9h0M339.6 329.6h0M347.9 324.4h0M346 327.2h0M345.9 322.5h0M345.2 321.3h0M341.3 329.1h0M352.7 317.4h0M347.6 298.8h0M344.7 328.2h0M341.6 328h0M339.7 328.4h0M341 329.8h0M344.5 316.4h0M341.2 322.8h0M345.3 330.4h0M342.3 321.8h0M345.3 322.7h0M344.1 325.3h0M347.4 299.9h0M346.5 320.3h0M341.4 322.6h0M342.2 323.6h0M363.2 321.3h0M341.1 327.6h0M358.3 298.5h0M357 323.6h0M344.8 328.9h0M345.2 325.3h0M342.6 328.6h0M340.1 330.5h0M344.1 320.1h0M341.8 314.3h0M354.3 314.1h0M339.4 326.9h0M340.5 320.9h0M349.4 302.3h0M344.2 317.3h0M342.3 330.4h0M340.4 327.4h0M340.7 320.8h0M343.8 323.6h0M348.4 290.3h0M348.6 327h0M341.2 328.8h0M343.6 328.3h0M344.2 326.8h0M347.1 319.2h0M351.3 314.1h0M352.5 319.9h0M351.6 275.6h0M343 317.9h0M346.3 328.5h0M351.1 315.1h0M354.1 314.6h0M356 324.2h0M344.3 315.3h0M344 330.4h0M364 322.4h0M344.2 329.5h0M338.6 320.6h0M338.8 327.4h0M357.8 322.3h0M340.2 329.5h0M338.7 329.9h0M346.3 311.9h0M342.4 327.5h0M342.4 329.2h0M342.7 312.4h0M338.6 330.1h0M347.4 328.7h0M349.1 329.1h0M341 325.1h0M346.9 326.3h0M342.3 323.7h0M338.7 330.5h0M361 311.9h0M349.1 285.5h0M341.4 327.4h0M349.3 329h0M361.7 308.1h0M345.7 321.7h0M340.7 330.1h0M342.6 328.2h0M350.3 307.9h0M342.8 325.6h0M363.8 321.9h0M347.5 328.9h0M369.5 327.3h0M342 328.1h0M346.1 321h0M345.5 324h0M348 330.4h0M346.3 302.7h0M340.8 321.4h0M343 322h0M345 327.2h0M352.1 314.1h0M340.3 323.3h0M362.1 305.5h0M362.1 322.1h0M345.5 330.4h0M348.9 327.3h0M357.9 321.1h0M344.8 328.5h0M348.8 316.8h0M351.3 312.3h0M349.4 318.6h0M341.8 325.1h0M340.8 328.7h0M352.4 322.8h0M357.6 325.2h0M339.8 326.8h0M344.6 300h0M342.4 320.2h0M339.9 326.3h0M350 316.3h0M341.3 326.4h0M349.1 326.3h0M349.6 328.6h0M346.2 321h0M344.6 303.8h0M345.1 307.7h0M345.1 322.5h0M338.7 330.3h0M341.1 329.6h0M342.6 315.6h0M339.7 329.9h0M343.6 318.4h0M357.3 329.7h0M343.5 323.7h0M341.4 319.7h0M347.1 326.2h0M345.5 315.2h0M342.5 321.8h0M350.1 327.9h0M341.9 320.6h0M339.2 327.6h0M339.9 329.3h0M343.9 325.2h0M342.1 327.3h0M339.3 323.9h0M348.8 328.9h0M342.3 327.7h0M342.8 317.2h0M340.4 314.2h0M341.6 330.4h0M353.8 321.8h0M351.6 299.6h0M350 311.3h0M353.9 325.8h0M347 317.7h0M350.8 329.8h0M345.5 322.5h0M343.5 328.5h0M344.5 313.7h0M343.1 325.1h0M342.1 321.6h0M345.3 328.5h0M341.6 323.4h0M342.3 321.6h0M344.9 329.7h0M338.8 328.4h0M339.3 325.9h0M343.9 326.6h0M356.3 330.2h0M355.2 324.9h0M343.9 328.9h0M342.7 330.3h0M364 313.3h0M344.7 320.5h0M343.5 329.3h0M362.5 314.1h0M346.1 327.2h0M365.5 326.1h0M343.4 325.7h0M350.7 306.9h0M349.9 327.8h0M343.9 325.7h0M342.8 326.8h0M351.8 319.5h0M348.5 330.5h0M343.9 327.6h0M345.3 318.7h0M359.2 329h0M347.5 325.5h0M340.1 326.3h0M363.7 301.5h0M361.7 325.8h0M343.4 327.8h0M352.8 324.9h0M345.9 327.5h0M342.3 328.5h0M341.1 312.9h0M348.9 327.7h0M344.6 326.9h0M347.2 330.1h0M343.3 314.8h0M344.9 327.3h0M342.6 326.7h0M341.2 318.3h0M344.5 329.7h0M342.5 329.9h0M343.6 311.8h0M343.1 312.8h0M341.1 330h0M356.5 314.8h0M339.4 327.4h0M346 327.7h0M346.7 325.1h0M339.6 325.6h0M339.5 328.8h0M348.5 307.2h0M345.1 327.8h0M342.1 319.1h0M352.5 316.9h0M345.3 330.1h0M339 325.9h0M355.5 324.8h0M351 318.3h0M345.5 330.2h0M342 329.2h0M340.6 328.1h0M342.6 319.9h0M354.3 318.8h0M343.8 325.8h0M340.3 328.5h0M358.6 305.6h0M342.6 327.4h0M351.4 324.3h0M342.2 328.9h0M341.2 324.6h0M343.2 328h0M341.4 327.6h0M346.3 328.9h0M340.7 326.1h0M346.3 319h0M341.8 325.5h0M340.6 312.4h0M352.6 313.2h0M353.1 324.5h0M348 321.6h0M352 321.8h0M343.3 325.4h0M340 323.9h0M346.2 309.2h0M345.4 322.9h0M340.1 328.7h0M346.7 328.4h0M346.3 318.8h0M339.4 328.7h0M343.7 328.3h0M348.2 325.7h0M347.4 328.2h0M341.8 325h0M343.9 330.4h0M349.9 327.8h0M345.3 329.6h0M357.5 327.6h0M349.7 328.5h0M347.3 310.3h0M344 319.7h0M347.3 281.8h0M343.8 321h0M343.4 325.3h0M342.8 318.3h0M339.4 325.2h0M339.2 329.5h0M342.4 326.3h0M344.9 310.5h0M342.5 327.2h0M341 328.9h0M354.9 285.6h0M348.2 316h0M347.1 305.4h0M352.3 329.6h0M339.9 324.1h0M341.2 319.9h0M339 329h0M350.7 330.1h0M343.6 326.1h0M349.3 323.1h0M343.5 327.2h0M345.2 326.4h0M347.4 320.2h0M350.1 316.3h0M349.8 310.7h0M343.5 329.1h0M350.4 324.6h0M355.9 317.8h0M343.2 314.3h0M339.8 328.8h0M344.3 327.9h0M346 330h0M342.3 327.3h0M354.1 329.4h0M350 324.7h0M356.8 305.5h0M357.1 317.8h0M340.4 328h0M358.1 302.2h0M344.8 326.1h0M352.3 310.9h0M361.1 319.1h0M368.6 313.3h0M340.2 329.4h0M344.7 328.1h0M357.2 320.6h0M340.3 327.5h0M351.1 319.4h0M339.6 328.9h0M346.7 316.9h0M340.4 329h0M342.2 322.2h0M369.2 327.3h0M346 329.8h0M360.2 327.2h0M342.9 329h0M341.7 329.2h0M365.7 326.3h0M343.9 328.4h0M339 329.6h0M353.3 314.8h0M340 329.6h0M362.7 307.7h0M344.9 325.2h0M342.7 305.2h0M346.4 324.8h0M343.7 313h0M341.5 330h0M344.4 302.2h0M347.3 321.5h0M343.2 317.4h0M339.3 330.3h0M352.6 324.7h0M342.8 326.4h0M340.3 321.1h0M343.2 325.8h0M350.9 320.8h0M354.5 320.6h0M341.6 328.8h0M351.8 297.6h0M347.8 328h0M355.8 321.5h0M348.7 324.3h0M367.7 320.8h0M349.1 315.4h0M344.6 327.2h0M341.1 326.9h0M345.7 325.7h0M342.5 324.7h0M352.4 319.1h0M356.5 302.2h0M354.2 326.2h0M344.2 300.5h0M343.7 329.1h0M340.9 326.7h0M350.7 327.8h0M343.3 327.3h0M342.7 330.4h0M344 325h0M343 324.2h0M340 330.3h0M352.5 330.1h0M347.1 329.4h0M354.8 328.1h0M339.8 324.8h0M362.1 329.2h0M347.4 319.2h0M342.3 329.6h0M341.6 326.5h0M347.9 323.5h0M341.3 328.6h0M345.8 323.5h0M340.9 330.4h0M360.5 305.7h0M349 327.8h0M344.3 319.6h0M347.2 322.2h0M343 329.5h0M345.1 329.9h0M342.2 323.2h0M344.8 316.6h0M340 317.8h0M344.9 319.9h0M338.7 328.7h0M351.6 328.1h0M349.4 310.4h0M347.8 324.2h0M352.9 303.3h0M341.5 325.7h0M355 305.4h0M352.9 328.4h0M341.3 315.4h0M345 327.3h0M346.7 325.1h0M345.5 328.9h0M341.3 322.8h0M341.4 323.9h0M355.4 320.4h0M346.6 318.4h0M352 320.6h0M340.7 327.3h0M354.7 324.3h0M341.1 330.4h0M341.5 327.1h0M345.9 319.7h0M353.2 326.9h0M341.5 328.2h0M349.9 314.5h0M346.7 327.9h0M341.7 328.2h0M344.6 329.4h0M341.8 317.6h0M346.4 327.2h0M342.5 330.4h0M346 326.8h0M344.7 328.6h0M357.4 318.7h0M359.3 325h0M350.1 326.9h0M342.1 325.6h0M342 329.5h0M346.1 325.4h0M342.2 326.4h0M348.7 315.4h0M347.8 316h0M345.6 317h0M344.7 292.7h0M343 326.8h0M351.8 287.6h0M354.1 324.3h0M352.5 330.3h0M370.4 317.2h0M355.2 329h0M345.3 324h0M344.6 319.6h0M343.3 329.6h0M356.8 290.9h0M345 325h0M354.6 316.3h0M339.6 328.3h0M342.4 326.2h0M344.9 321.3h0M339.6 330.3h0M340.7 329.5h0M350.6 328.8h0M347.7 328.7h0M339.9 326.6h0M351.6 330.5h0M346.5 327.2h0M341.1 320.6h0M345.3 326.5h0M339.4 328.7h0M341.9 323.8h0M341.6 322.7h0M353.9 325.1h0M345.6 326.8h0M341.2 329.3h0M339.8 326.4h0M353.6 327.2h0M346.1 310.4h0M347.2 318.2h0M340.5 329.2h0M345 327.2h0M338.9 329.9h0M340.8 324.9h0M356.7 329.9h0M350.9 328.3h0M339.8 330h0M344.8 330.3h0M346.3 316.9h0M344.6 318.7h0M379.5 316.9h0M339.9 326.8h0M344.9 296h0M345.7 325h0M345.4 293.7h0M348.6 327.9h0M355.9 326.2h0M347.6 325.4h0M340.3 328.9h0M358.3 330.3h0M356.4 315.9h0M344.4 304.6h0M345.5 327.4h0M341.6 329.8h0M344.2 324.4h0M340.3 325.5h0M350 329.7h0M353.9 316.2h0M344.8 329.7h0M338.8 328.4h0M360.6 315.1h0M353.1 330h0M346.8 324.3h0M345.2 329.3h0M348.2 325.2h0M356.6 329.1h0M346.2 310h0M348 312h0M346 323.4h0M341.6 321.9h0M343.6 325.9h0M356.4 314.5h0M338.8 326.5h0M345.2 324.2h0M350.9 303.9h0M345.3 330.1h0M351.3 319.4h0M341.1 323.2h0M344.2 328.5h0M346.5 327.8h0M339.4 328.8h0M362.5 281.5h0M363.9 303.1h0M356 316.5h0M339.2 326.3h0M350.1 327.9h0M340.8 322.6h0M347.6 329.2h0M342 330.2h0M342.3 329.4h0M345 323.5h0M344 318.1h0M372.6 327.6h0M347.2 319.8h0M344 330.4h0M341.7 319h0M349.6 329.7h0M341.4 329.2h0M352.8 323.9h0M341.1 329.9h0M343.2 316.2h0M351.7 328.3h0M339.4 322.8h0M351.2 258.8h0M345.5 293.6h0M354.2 328.6h0M370 317.5h0M343.7 322.7h0M357.5 328.9h0M348.1 320.6h0M340.7 328.7h0M348 312.8h0M351.1 325.9h0M364.3 326.4h0M346 327h0M339.9 325h0M340 326.8h0M348.4 287h0M345.2 314.4h0M348 291.2h0M345.3 328.6h0M340.8 325.9h0M354.8 330h0M344.7 329.7h0M339.9 329.3h0M339.3 330.3h0M362.3 329.1h0M347.1 325.1h0M345.4 317.5h0M346.5 328.7h0M349.6 326.4h0M347 327.1h0M352 329.6h0M350.6 326.1h0M349.8 327h0M348.6 326.3h0M350.8 329.2h0M342.3 324.6h0M339.8 329.2h0M349.4 317.8h0M353.1 328.4h0M360.2 330.4h0M353.3 329.9h0M373.4 330.2h0M343.8 329.3h0M343.3 329h0M357.8 325.8h0M348.8 326.8h0M361.7 328.2h0M365.8 328.2h0M338.8 329.3h0M342.5 329.3h0M339.7 326.4h0M351.2 325h0M355.3 330h0M347.8 322.2h0M355.9 328.6h0M355.7 329.4h0M355 329.4h0M342.6 325.6h0M348 329.7h0M357.2 329.7h0M339.8 330.5h0M349.7 329h0M348.5 328.7h0M348.6 330.3h0M351 330.2h0M355.4 330.5h0M348.8 328.7h0M368.7 330.3h0M346.8 328.7h0M351 328.1h0M339.5 328.8h0M343.3 329.4h0M347.4 329h0M340 329.4h0M364.9 330h0M347.2 327.9h0M339.4 328.5h0M342.5 328.3h0M354.4 330.3h0M355.9 330.5h0M365.9 327.2h0M348.8 329.8h0M374.9 329h0M344.4 330.3h0M348.6 330.5h0M342.1 330.1h0M341.8 329.5h0M342.8 329h0M377.3 330.4h0M362.7 329.2h0M338.6 330.3h0M340.9 329.2h0M352.1 326.4h0M364.8 330.1h0M340.3 329.3h0M371.5 325h0M346.2 328.1h0M346 329.7h0M347.7 327h0M345.4 330h0M347.4 329.6h0M346.5 328.8h0M342.4 327h0M347.6 330.4h0M358.3 330.1h0M360.5 327.9h0M340.2 329.7h0M347.7 328.8h0M354.3 330.1h0M363.1 330.1h0M356.6 323.9h0M355 330.3h0M358.4 327.3h0M344.1 329.3h0M343.1 327.7h0M352.1 329h0M339.4 327.6h0M356.5 329.7h0M338.8 329.8h0M366.2 329.9h0M366.3 330.2h0M342.1 330.2h0M365.4 322.2h0M346 330.2h0M341.7 329.3h0M338.7 329.2h0M339.3 330.2h0M351.3 329.1h0M365.4 327h0M353.2 328h0M374.8 330.2h0M350.4 329.5h0M342.8 326.5h0M347.4 329.6h0M344.9 328.4h0M367.3 326.1h0M342.8 328.4h0M358.4 328.9h0M364.7 329.3h0M342.6 327.6h0M374 329.7h0M346.3 329h0M362.3 328.8h0M342.7 326.6h0M360.3 329.9h0M371.5 330.4h0M361.1 330.1h0M349.9 327.9h0M355.2 330.3h0M343.2 330.2h0M369.9 327.3h0M374.9 327.3h0M365.4 327h0M354.6 322h0M358.8 330.1h0M342.4 328.8h0M347.6 330.4h0M351 329.9h0M353.8 329h0M362.5 324.7h0M360.5 330.2h0M355.1 323h0M352 327.6h0M362.3 330.3h0M352.4 330.3h0M350.1 330.4h0M358.8 329h0M363.6 329.7h0M370.7 330.2h0M365.7 329.9h0M370.9 329.6h0M351.9 329.6h0M354.8 329.5h0M372.8 328.7h0M340.6 330.4h0M350.9 327.6h0M339.5 325.9h0M351.7 324.1h0M352.2 330.2h0M342.3 328.7h0M371.7 330.1h0M339.9 327.7h0M351.5 328.9h0M342.5 330.1h0M345.8 330.1h0M370.8 329.8h0M339.8 326.9h0M342.5 330.4h0M341.6 328.9h0M358.3 329.2h0M359.9 328.7h0M355.3 329h0M362 328.1h0M351.2 326.7h0M364.2 330.2h0M356.3 329.9h0M378.6 329.6h0M339.1 326.7h0M355.1 326.9h0M360.9 328.7h0M341.6 328.7h0M353.6 329.4h0M341.3 330.1h0M342 326.1h0M346.8 330.3h0M345.6 327.9h0M353.5 328.8h0M346 330h0M356.4 330.4h0M351.3 330.4h0M341.4 328.9h0M340.5 327.9h0M345.6 328.7h0M367.2 325.8h0M362.5 329.7h0M338.8 329.5h0M343.2 329.2h0M373 327h0M349.8 330.1h0M357.5 329.6h0M366.5 326.9h0M371.8 327.4h0M339 327.2h0M352.4 327.1h0M353.7 328.2h0M343.1 328.7h0M364.9 330.4h0M351.5 327.1h0M370.9 330h0M354.4 329.6h0M344 330.3h0M339.1 328.8h0M348.7 329.7h0M359.4 330.4h0M365.1 329.7h0M350 329.6h0M357.1 327.1h0M346.4 329.7h0M351.8 330.2h0M357.8 329.9h0M361.7 328.5h0M374.8 329.9h0M345.2 330.2h0M355.4 330.2h0M365 325.6h0M349.4 330.4h0M356.2 329.3h0M339.5 329.8h0M350.7 326.8h0M352.2 329.8h0M366.1 329.9h0M352.4 330.3h0M340.1 330h0M367.8 327.6h0M370.5 329.2h0M343.4 327.6h0M356.5 330.4h0M350.6 325.9h0M367 328.4h0M344.5 329.9h0M355.3 326.1h0M338.8 328.2h0M369.1 325.3h0M361.2 329.6h0M348.1 329.5h0M361.3 322.4h0M341.7 330.1h0M356.6 328.3h0M364.8 328.8h0M369.6 330.3h0M374 329.1h0M357.6 330.1h0M364.3 329.6h0M358.4 329.3h0M358.6 329.9h0M349.7 329.8h0M343.8 328.5h0M347.5 329.8h0M360.3 325.2h0M338.9 330.4h0M351.7 329.4h0M340.1 328.1h0M338.8 329.6h0M347.4 330.2h0M361.5 329.2h0M340.1 326.1h0M343.3 327.7h0M354.6 329.4h0M350.3 330.3h0M376.8 329.4h0M355.2 329.2h0M353.7 330.3h0M340.5 319.1h0M343.4 329.8h0M345.7 328.4h0M358 329.7h0M363.9 328.7h0M338.5 329.9h0M349.3 330.1h0M366.1 329.9h0M341 326.8h0M361.5 330.3h0M361.4 325.5h0M371.7 328.9h0M342.1 327.8h0M354.5 330.3h0M340.1 329.7h0M373.1 325.9h0M363.9 327.6h0M371.4 329.7h0M351 330.4h0M348.4 330.2h0M343.6 328.6h0M352 330.2h0M360.4 330.1h0M359.8 329.6h0M341.5 330.3h0M339.3 329h0M358.4 330.5h0M358.5 330.4h0M346.6 326.4h0M339.2 330.1h0M358.1 329.5h0M351.3 329.1h0M340.2 327.6h0M339 325.2h0M356.3 329.7h0M358 329.9h0M345.9 330.3h0M344 321.6h0M346.2 330.4h0M369.6 328.8h0M348.2 328.4h0M341.4 329.8h0M353.3 330h0M367.1 324.4h0M358.6 328.2h0M352.8 329.8h0M368.5 328.6h0M355.8 328h0M354.4 328h0M350.3 328.4h0M349.4 327.8h0M358.5 329h0M357.8 329.5h0M339.2 329.9h0M358.1 329.8h0M343.2 329.1h0M350.8 330h0M354.8 330.4h0M359.9 329.8h0M365.4 329.1h0M382.9 329.1h0M340.5 329.2h0M365.2 325.9h0M369.3 328.2h0M341.4 328h0M338.7 329.7h0M341.9 330.1h0M358.5 325.8h0M344.5 329.5h0M339.1 328.6h0M339.2 327.1h0M346.4 329.7h0M342.8 328.3h0M346.8 329.5h0M354.6 329.9h0M348.1 329.5h0M358.1 330.3h0M343.3 330.3h0M343.2 330.1h0M351.4 328.9h0M361.3 327.9h0M366 329.7h0M341 329.8h0M356.4 328.1h0M353.8 329.8h0M377.2 330.4h0M365.1 328.6h0M339.6 330.4h0M349.6 329.9h0M347.5 329.6h0M357.9 325.9h0M363.2 326.9h0M341 327.4h0M379 330.4h0M350.3 330.1h0M350.5 330.4h0M344 329.6h0M368.6 327.5h0M367.8 328.3h0M374.9 329.1h0M350.4 329h0M352.1 326.5h0M345.9 329.4h0M345.5 329.1h0M377.7 322.9h0M339.1 328.1h0M363.1 329.2h0M339.3 323.8h0M362.4 330h0M345.1 330.2h0M370.6 329.2h0M348.8 330.4h0M339.8 329.7h0M341.2 328.9h0M341.1 325.6h0M343.1 330.1h0M366 328.8h0M375.8 330.4h0M343.9 325.9h0M358.3 329.9h0M354.2 330.5h0M339.3 325.3h0M353.9 329.4h0M346 329.1h0M358.2 330.2h0M347.2 329.5h0M353.4 330.2h0M351.5 289.2h0M357.6 280.6h0M352.6 281.2h0M356.5 279.3h0M348.3 284.3h0M344.4 290.8h0M348.5 287.5h0M345.4 288.9h0M369.1 285.6h0M343.3 290.2h0M347.1 303.3h0M347.7 280.8h0M346.3 301.8h0M346.2 288.6h0M341.5 289.6h0M344.4 286.3h0M344 296.8h0M344.8 288.3h0M345.6 277.8h0M348.5 306.6h0M343.5 294.6h0M348.1 291.5h0M345.6 264.2h0M344.4 282.2h0M345.3 280h0M352.4 294.4h0M366.2 301.6h0M349 300.5h0M368.9 297.4h0M357 279.6h0M345.6 281.4h0M341.9 292.8h0M344.4 284.8h0M352.5 300.4h0M363.1 270.9h0M342 307.3h0M341.2 318.1h0M341 308.3h0M340.4 298.9h0M347.1 316.2h0M343.8 307h0M342.3 307h0M349.6 318.3h0M345 325h0M345.7 308.3h0M356.9 316.7h0M344.4 325.1h0M351.3 305.4h0M340.2 324.2h0M343.1 305.7h0M348.9 315.2h0M357.6 312.2h0M353.1 310.3h0M360.4 319.4h0M344.3 298.5h0M354.2 323.8h0M351 306.9h0M358.5 316.6h0M355.6 299.9h0M345 309.5h0M347.1 321h0M343.3 305.6h0M358.9 313.4h0M340.2 323h0M347.5 320.4h0M344.9 319.2h0M351.5 314.4h0M360.5 313h0M350.8 310h0M345.5 312.6h0M349.2 325.2h0M359.1 319.2h0M347.3 314.2h0M352.5 321.1h0M363.1 316.2h0M346.5 319.4h0M352.6 317.1h0M348.1 296.3h0M351.9 303.6h0M362.3 307.7h0M347.1 324.5h0M349.2 310.8h0M357.2 315h0M345.1 310.3h0M346.3 301.5h0M343.8 312.9h0M345.8 323.2h0M339.4 319h0M345.2 323.8h0M357.3 314.5h0M349.1 317.5h0M354 319.9h0M349.8 309.3h0M342.2 323h0M360.2 309.6h0M352 312.4h0M350.1 303.9h0M349.6 317h0M346.2 302.7h0M351.8 314.6h0M342.4 323.8h0M343.3 309.3h0M349.6 310.5h0M354.4 300h0M343.8 322.3h0M347.8 306.5h0M345.6 316.7h0M346.2 305.4h0M340 316.1h0M355.7 306.6h0M343.9 322.6h0M350.5 320.2h0M353.8 308.2h0M350.6 299h0M350.5 308.1h0M354.5 308.1h0M354.1 302.7h0M346 314.3h0M347.5 306.6h0M348.1 317.4h0M341.4 313.7h0M343.5 296.7h0M365 319.8h0M342 322.8h0M356.9 312.7h0M351.5 309.9h0M346.4 313.8h0M343.6 318.6h0M348.2 304.5h0M339.8 318.9h0M348.5 301.2h0M345 310.8h0M342 314.5h0M346.6 318.7h0M365.4 321.9h0M359.5 312.8h0M344.2 317.1h0M352.8 320.5h0M356.3 316h0M348.1 310.4h0M344.1 305.6h0M360.8 315h0M349.1 323.6h0M346.6 310.2h0M378.5 323h0M345.1 316.2h0M353 323.7h0M352.1 313.2h0M345.6 307.6h0M346.8 305.5h0M351.2 312.9h0M341.6 311.4h0M342.9 304.3h0M347.2 309.8h0M355.1 312h0M342.7 322.8h0M344.9 317.1h0M345.2 317.6h0M343.7 316.3h0M346.1 298.3h0M347.6 304.8h0M341 316.5h0M355.5 323.3h0M349.4 302.7h0M345.2 308.1h0M349.3 318.6h0M342.7 317.4h0M354.3 318.9h0M368.9 318h0M342.4 320.8h0M378.7 313.1h0M346.6 314.9h0M357.3 314.2h0M349.1 313.6h0M342.9 317.3h0M343.6 324.4h0M339.8 323.9h0M346.7 314.4h0M349.2 318.6h0M350.4 325.1h0M356 319.2h0M349.7 317.4h0M351.8 323.6h0M345 319.1h0M361.3 319.4h0M340.1 323h0M340.9 322.9h0M339.5 323.6h0M367.7 307.3h0M357.2 311.2h0M339.9 311.7h0M343.8 309.3h0M340.8 324.5h0M342.1 310.2h0M350.8 325.9h0M365.8 323.6h0M348.7 307.4h0M345.8 316.5h0M350.2 299.9h0M348.1 323.3h0M344.9 308.3h0M342.9 322.7h0M356.1 322.4h0M353.6 301.7h0M348.2 318h0M349.4 322.9h0M342.7 314.4h0M343.7 316.5h0M340 322h0M341.1 302.9h0M341.5 301.5h0M341.7 320.5h0M347.2 315.8h0M356.2 306h0M346.5 322.8h0M352.2 300.5h0M341.2 315.6h0M346.1 319.6h0M349.2 308.7h0M347.8 321h0M350.3 312.3h0M345.3 313.2h0M352 318.2h0M348.3 309.1h0M341.9 311.5h0M342.2 325.1h0M357.4 320.1h0M351.9 313.9h0M342.7 308.3h0M343.8 320.8h0M342.3 311.8h0M351.8 314.5h0M341.3 317.3h0M341.8 319.6h0M352.8 318.8h0M348.9 317.7h0M353.1 312.1h0M347 321.4h0M363 308.2h0M355.6 317.8h0M345.9 310.8h0M348.7 312.9h0M344.2 321.6h0M344.1 306.2h0M346.8 310.5h0M361.8 307.4h0M345.9 321.2h0M349.3 312.3h0M351.2 311.1h0M342.7 318.4h0M351.8 325.7h0M344.3 299.5h0M344.5 303.2h0M349.2 319.6h0M344.9 319.3h0M351.8 322.1h0M355.1 325.2h0M346.3 295.7h0M347.9 317.7h0M344.1 320.3h0M347.5 325.7h0M347.1 314.6h0M347.3 320.1h0M350.4 300.2h0M339.8 317.3h0M355.2 322.5h0M352.5 299.5h0M341.7 307.8h0M363.6 316.4h0M354.6 323h0M344.1 315h0M348.3 317.4h0M343.8 319h0M342.7 318.4h0M352 304h0M357.6 303.8h0M344 305.6h0M346.8 314.7h0M344.7 315.8h0M350.8 301.4h0M346 318.8h0M343.4 323.1h0M351 325.1h0M344.5 313.1h0M339.5 314.2h0M350 313.3h0M350.9 312.5h0M341.9 314h0M356.5 319.4h0M353.8 315.4h0M350.1 319.4h0M366.3 304.2h0M343.8 309.6h0M345.6 311.2h0M346.7 312.7h0M348.6 318.8h0M347.5 309.1h0M344.2 318.2h0M350.3 321.2h0M368.8 308.2h0M343.7 314.5h0M361.3 308.9h0M352.6 319.1h0M371.9 313.5h0M347 317.4h0M358.7 321.8h0M346.8 313.6h0M342.7 303.8h0M350.5 326.6h0M346 314.5h0M356.5 322.3h0M350.3 325.7h0M345.2 300.2h0M356.5 317.9h0M342.6 320h0M360.2 213.4h0M390.2 230h0M361.8 232.5h0M364.8 234.4h0M368.5 234.4h0M367 237.4h0M375.2 235h0M356.5 243h0M357.2 255.3h0M365.5 252.9h0M367.8 254.7h0M364 264h0M361 264.6h0M367.8 264h0M363.2 267.7h0M365.5 272h0M376 277h0M376 286.2h0M383.5 287.5h0M369.2 281.9h0M362.5 286.8h0M359.5 278.2h0M372.2 275.7h0" stroke="#8B1A1A" stroke-width="1.35" stroke-linecap="round" fill="none"/>
<line x1="323.6" y1="207.8" x2="323.6" y2="337.4" stroke="#333" stroke-width="0.7" stroke-dasharray="1.8,1.2"/>
<line x1="338.1" y1="207.8" x2="338.1" y2="337.4" stroke="#333" stroke-width="0.7" stroke-dasharray="1.8,1.2"/>
<line x1="274.3" y1="330.6" x2="400.7" y2="330.6" stroke="#444" stroke-width="0.7" stroke-dasharray="1.8,1.2,0.6,1.2"/>
<rect x="274.3" y="207.8" width="126.40" height="129.60" fill="none" stroke="#8A8A8A" stroke-width="0.8"/>
<line x1="272.5" y1="331.30" x2="274.3" y2="331.30" stroke="#777" stroke-width="0.6"/>
<text x="272.30" y="333.00" font-family="Liberation Sans" font-size="4.8" text-anchor="end" fill="#555" >0</text>
<line x1="272.5" y1="300.43" x2="274.3" y2="300.43" stroke="#777" stroke-width="0.6"/>
<text x="272.30" y="302.12" font-family="Liberation Sans" font-size="4.8" text-anchor="end" fill="#555" >50</text>
<line x1="272.5" y1="269.55" x2="274.3" y2="269.55" stroke="#777" stroke-width="0.6"/>
<text x="272.30" y="271.25" font-family="Liberation Sans" font-size="4.8" text-anchor="end" fill="#555" >100</text>
<line x1="272.5" y1="238.68" x2="274.3" y2="238.68" stroke="#777" stroke-width="0.6"/>
<text x="272.30" y="240.38" font-family="Liberation Sans" font-size="4.8" text-anchor="end" fill="#555" >150</text>
<line x1="272.5" y1="207.80" x2="274.3" y2="207.80" stroke="#777" stroke-width="0.6"/>
<text x="272.30" y="209.50" font-family="Liberation Sans" font-size="4.8" text-anchor="end" fill="#555" >200</text>
<line x1="301.00" y1="337.4" x2="301.00" y2="339.2" stroke="#777" stroke-width="0.6"/>
<text x="301.00" y="342.40" font-family="Liberation Sans" font-size="4.8" text-anchor="middle" fill="#555" >&#8722;4</text>
<line x1="331.00" y1="337.4" x2="331.00" y2="339.2" stroke="#777" stroke-width="0.6"/>
<text x="331.00" y="342.40" font-family="Liberation Sans" font-size="4.8" text-anchor="middle" fill="#555" >0</text>
<line x1="361.00" y1="337.4" x2="361.00" y2="339.2" stroke="#777" stroke-width="0.6"/>
<text x="361.00" y="342.40" font-family="Liberation Sans" font-size="4.8" text-anchor="middle" fill="#555" >4</text>
<line x1="391.00" y1="337.4" x2="391.00" y2="339.2" stroke="#777" stroke-width="0.6"/>
<text x="391.00" y="342.40" font-family="Liberation Sans" font-size="4.8" text-anchor="middle" fill="#555" >8</text>
<text x="344.30" y="204.20" font-family="Liberation Sans" font-size="9.0" text-anchor="middle" fill="#000" font-weight="bold" >T12 vs T3</text>
<text x="342.30" y="347.60" font-family="Liberation Sans" font-size="6.55" text-anchor="middle" fill="#000" font-weight="bold" >log2FoldChange</text>
<text x="0" y="0" font-family="Liberation Sans" font-size="6.5" font-weight="bold" text-anchor="middle" fill="#000" transform="translate(261.2,266.80) rotate(-90)">&#8722;log10(Adjust P&#8722;value)</text>
<rect x="407.1" y="261.3" width="8.7" height="25" fill="#F0F0F0"/>
<circle cx="411.40000000000003" cy="265.40" r="0.75" fill="#8B1A1A"/>
<text x="417.70" y="267.70" font-family="Liberation Sans" font-size="6.4" text-anchor="start" fill="#000" font-weight="bold" >UP</text>
<circle cx="411.40000000000003" cy="273.50" r="0.75" fill="#3A7BB0"/>
<text x="417.70" y="275.80" font-family="Liberation Sans" font-size="6.4" text-anchor="start" fill="#000" font-weight="bold" >DOWN</text>
<circle cx="411.40000000000003" cy="281.60" r="0.75" fill="#BDBDBD"/>
<text x="417.70" y="283.90" font-family="Liberation Sans" font-size="6.4" text-anchor="start" fill="#000" font-weight="bold" >NOT</text>
<path d="M547.4 330.4h0M552.1 328.2h0M552.9 329.7h0M554.4 322.7h0M545.8 328.9h0M546.5 330h0M551.9 328h0M552.2 329.2h0M547.4 330.6h0M549.1 331h0M544.3 327.5h0M548.9 331.2h0M555.6 322.1h0M552.6 327h0M554.4 326.2h0M553.7 326.4h0M545 327.6h0M541.1 327.6h0M550.4 329.7h0M542.3 326.5h0M551.6 328.1h0M548.3 331.2h0M542.1 325.6h0M541.8 329.9h0M555.6 321.3h0M543 328.1h0M542.9 328.4h0M544.5 326h0M552.9 326.7h0M545.6 329.7h0M555.6 331.1h0M551.9 328.9h0M542.3 326.4h0M545.6 327.6h0M546.2 330h0M542.1 326.5h0M544.7 329.9h0M542.2 329.2h0M554.9 326.6h0M547 331.2h0M554 324.4h0M554.7 322.1h0M544.3 329.6h0M543 324.5h0M554.3 326.2h0M552.3 327.6h0M544.8 327.5h0M541.4 321.8h0M551.9 327.2h0M547.1 330.8h0M543.1 323.8h0M547.3 330.8h0M541.5 327.9h0M554 329.2h0M541.3 321.4h0M549.3 330.8h0M546.1 329.6h0M554.4 327.7h0M552 329.5h0M541.3 330.8h0M553 325.6h0M542.8 326.6h0M550 330.7h0M552.6 328.6h0M542 321.2h0M545.7 328.6h0M549.5 330.9h0M549 331.2h0M556 329h0M544.1 329.6h0M546.2 328.6h0M541.2 319.7h0M547.4 330.5h0M555.6 325.4h0M545.6 330.1h0M551.8 327.8h0M552.3 329.3h0M550.3 330.8h0M543.7 327.2h0M544 325h0M545.2 328.9h0M547.2 330.3h0M545.3 329h0M555.5 326.1h0M550.3 330h0M545.3 328.7h0M554.5 322.8h0M549.7 331h0M541.8 321.1h0M551 330.1h0M551.6 327.8h0M551.8 330.7h0M547.8 331.3h0M553 329.8h0M549.2 331h0M544.1 326.2h0M552.4 328.4h0M556.2 328h0M546.5 329.1h0M542.8 329.3h0M543.8 325.6h0M547.5 331.2h0M544.1 331h0M550 330.1h0M555.1 322.3h0M543.8 325.3h0M549.4 330.6h0M543.2 329.9h0M544.3 328.8h0M554.1 327.2h0M555.6 326.4h0M552 327.4h0M541.5 325.9h0M551.2 328.8h0M541.3 323.1h0M550.2 329.7h0M544.6 326.8h0M551.9 329.4h0M549.9 330.4h0M542.7 328.9h0M550.4 331.1h0M544 330.3h0M544.6 329.3h0M555.8 329.2h0M553.4 327h0M543.9 326.7h0M547.6 330.7h0M546.1 331h0M547.4 330.2h0M554.8 324.2h0M547.1 329.8h0M546.2 329h0M546.8 331.2h0M542.8 330.3h0M544.4 328.7h0M543.9 325h0M549.8 330.7h0M552.3 329.9h0M541.7 325.7h0M553.5 328.5h0M555.3 326h0M551.6 329h0M554.8 325.8h0M543.2 327.2h0M541.6 329.2h0M551.1 330.5h0M550.9 328.8h0M546 329.7h0M552.6 327.9h0M544.3 327.3h0M549.5 330.7h0M552.4 328.6h0M550.6 329.8h0M547.8 330.7h0M555.5 323.2h0M546.5 329.9h0M545.3 329.8h0M541.6 320.6h0M545.9 328.6h0M554.7 324h0M541.9 322.9h0M550.8 329.9h0M547.7 331.1h0M550.9 328.9h0M545.8 328.9h0M542.9 329.9h0M553.8 325.3h0M545.3 330.8h0M547.9 331.2h0M551.3 330.3h0M551.5 331h0M550.2 330.7h0M544.9 326.6h0M550.7 329.5h0M551.7 327.8h0M544.5 327.3h0M548 331h0M544.7 326.2h0M553.2 325.7h0M554.8 324.3h0M545.3 328.4h0M546.6 329.5h0M551.7 329.4h0M547.5 330.4h0M542.9 324.3h0M544.6 328.8h0M555.6 326.9h0M546.2 329.7h0M554.5 326h0M542.6 328h0M552.3 328.3h0M547.6 330.5h0M541 325.5h0M541.7 322.9h0M542.3 328.8h0M555.2 324.2h0M554.8 323.8h0M545.6 329.6h0M552.3 329.6h0M541.4 321.1h0M551.8 327.8h0M544.5 327.2h0M544 328.5h0M553.5 324.5h0M554.3 327.3h0M553.2 325.7h0M553.9 330.7h0M547.2 330.1h0M546 329.4h0M552.8 328.6h0M542.7 323.9h0M546.7 330.4h0M555.2 322.2h0M552.8 330.1h0M544.3 330.8h0M547.6 330.8h0M552.3 329.1h0M550.4 330.3h0M552.6 326.7h0M542.2 326.1h0M542 324.6h0M551.7 328.6h0M541.3 322.9h0M553.6 330.3h0M544.9 329.3h0M542.2 326h0M543.6 324.9h0M555.1 324h0M543.8 326.3h0M544.1 328.4h0M555.6 327.7h0M553.5 329h0M555 328.7h0M553.2 329.2h0M542.4 323.5h0M542 328.1h0M553.9 327.1h0M544.9 328.5h0M552 330.4h0M544.7 326.8h0M555.7 320.4h0M545.6 329.4h0M542.1 328h0M543.3 324.8h0M547.1 330.3h0M554.4 324.1h0M548.7 331.2h0M548.1 331h0M554.8 325.5h0M546.8 329.8h0M544.1 327.2h0M544 328.9h0M543.9 325.5h0M548.4 331.2h0M553.5 326.4h0M555.4 321.6h0M552.2 328h0M544.7 330.9h0M545.1 327.2h0M553.3 325.2h0M553.3 325.9h0M551.4 328.3h0M552.4 330.5h0M545.1 328h0M546.8 330.4h0M552 327.7h0M542.9 325.2h0M541.6 322.1h0M541.1 323.1h0M543.4 328.3h0M543.6 328.5h0M545.5 327.9h0M556.1 324.6h0M541.9 324h0M543.2 324.1h0M542.5 326.9h0M552.6 330.6h0M552.4 327.7h0M549.9 330.3h0M554.3 327.8h0M550.8 329.9h0M544.7 329.2h0M553.2 327.2h0M543.7 331.1h0M549.4 330.7h0M545.1 330.5h0M542.4 329.9h0M550.8 330.4h0M554.1 324.5h0M545.4 327.7h0M551 328.6h0M541.1 326.5h0M554 326.9h0M549.6 331.1h0M544.2 329.4h0M543.8 325.7h0M555 330h0M543.9 330.5h0M545.5 328h0M542.1 325.8h0M551.9 329h0M552.3 327.9h0M556.2 327h0M549.2 330.9h0M545.2 327.3h0M554.8 323.5h0M551.7 330.2h0M553.7 328.3h0M545.7 330.5h0M545.5 329.7h0M543.4 325.3h0M544.6 326.2h0M554.5 324.3h0M545 329.7h0M543.9 326.8h0M551.1 331.1h0M545.8 330.1h0M555.1 322.9h0M553.2 326h0M541.8 322.1h0M544.1 328.4h0M553.8 326.6h0M543.3 330.2h0M554.8 323.4h0M552.2 328.1h0M554.9 325.2h0M546.1 329.7h0M549.8 330.9h0M555.4 321.5h0M546.1 330.4h0M554.1 324.9h0M556.1 320.3h0M546.3 329.6h0M553.2 328.3h0M550.5 329.8h0M546.1 329.4h0M544.5 326.3h0M547.3 330.1h0M553.4 327.7h0M555.8 326.5h0M554.7 325.9h0M542.9 325.8h0M542.1 326.7h0M556.2 321.1h0M546.4 329h0M553.6 328.4h0M554.1 325.2h0M545.1 327.1h0M545 329.2h0M551.6 327.8h0M551.6 329.7h0M547.4 330.7h0M542.9 325.2h0M544.9 327.5h0M548.1 331h0M547.7 330.9h0M550.4 329.8h0M545.1 328.3h0M546.7 330h0M543.6 326h0M543.4 324.3h0M553 328.4h0M555.8 326.8h0M555.3 324h0M551.3 328.4h0M545.5 329.2h0M554.5 323.2h0M546.9 329.7h0M555 322.2h0M547.2 330h0M552.7 329.1h0M550.7 331.1h0M547.6 330.8h0M545.1 331h0M542.1 324.8h0M543.7 324.5h0M552.7 328.9h0M552.7 326.2h0M551.6 329.2h0M544.4 328h0M538.3 332.4h0M561.2 332.5h0M546.1 332.9h0M550.9 330.8h0M591.3 331.6h0M605.8 332.8h0M506.7 332.5h0M529.3 331.5h0M558.8 330.5h0M549.7 330.9h0M524.2 331.9h0M545.6 332.7h0M534.1 332.6h0M548.7 330.6h0M559.5 333.3h0M568.1 332.7h0M529.7 332.2h0M538 332.9h0M542.8 332.6h0M595.3 332h0M561.5 333.1h0M571.1 332.8h0M579.8 331.4h0M549.3 332.7h0M527.8 331.9h0M553.3 332.4h0M576.2 333.3h0M562.2 332.2h0M512.3 331.2h0M547.5 331.6h0M588 332.4h0M537 333.1h0M551.2 331.2h0M564 332.1h0M497.9 333.3h0M572.6 332.5h0M552.1 332.3h0M557.4 332h0M548.4 331.9h0M560.1 332.5h0M562.1 332.3h0M555.7 333h0M534.6 332.9h0M555.2 330.6h0M545.1 332.1h0M561.1 331.7h0M523.5 331.9h0M542.7 332.4h0M566.1 331.7h0M534.4 333.1h0M570 333.3h0M539.1 332.4h0M522.7 330.5h0M534.4 331.5h0M537.2 332.1h0M554.8 332.5h0M546.1 331.2h0M527.3 330.7h0M562.6 333.1h0M555 333.4h0M523.7 331.5h0M563.6 332.7h0M555.6 332.8h0M549.4 332.9h0M538.4 331.1h0M529.2 331.5h0M598 330.8h0M541.5 333.4h0M549.1 331.5h0M568.9 332.9h0M546.7 331.7h0M565.5 333.2h0M526.7 331.7h0M531.1 330.6h0M559 330.7h0M525.7 331.5h0M538.8 330.8h0M523 331.1h0M525.9 332h0M552.9 331.9h0M587.6 330.8h0M556 333h0M522.3 330.6h0M561.1 332.9h0M547.1 332.2h0M563.6 330.6h0M537.4 333.3h0M514.9 330.9h0M583.7 331.5h0M541.2 332.6h0M563 332h0M547.7 333.3h0M541.4 332.9h0M546.7 331.4h0M562.5 331.2h0M560 330.8h0M555.5 330.6h0M550.9 332.9h0M566.8 331.3h0M502.2 332.1h0M542.9 331.7h0M546.3 331.9h0M536.8 330.9h0M519.1 331.9h0M545.5 331h0M542.5 332.1h0M564.5 332.4h0M548.4 332.8h0M560.5 332.6h0M577.9 333.2h0M532.1 333.3h0M527.9 332.5h0M561.1 332.4h0M539.3 333.4h0M557.3 332.9h0M561.9 330.6h0M560.8 331.6h0M549.7 332.3h0M524.1 331.4h0M566.2 333.4h0M557.6 331.5h0M547.4 332.5h0M550.3 332h0M566.8 331.9h0M551.1 333.2h0M559.4 331.4h0M599 331.7h0M519 332.1h0M545.5 331h0M535.4 331.8h0M531.8 330.9h0M554.2 333.3h0M576 332.2h0M548.9 330.7h0M567.2 333.2h0M550.8 331.5h0M545.5 331.2h0M548.2 332.8h0M591.5 333.1h0M545.9 331.7h0M524.4 332.1h0M542.3 331.3h0M558.5 330.6h0M569 332.5h0M538.6 333.3h0M556.4 330.7h0M526.2 331.4h0M539.7 331.7h0M569.8 331.1h0M588.6 333.4h0M536.8 331.5h0M561.4 331.5h0M512.7 331h0M538.9 332.2h0M521.9 330.7h0M536.2 330.6h0M564.6 331.8h0M520.3 333.3h0M575.3 333.1h0M567.7 330.7h0M584.3 331h0M560.2 331h0M541 331.7h0M555.1 333h0M538.6 333.2h0M555.6 331.7h0M576.9 331.9h0M556.4 330.8h0M568 331.6h0M578.3 332.3h0M546.4 330.6h0M580.1 333.1h0M575.7 331.1h0M551.2 333h0M562.9 331h0M562.7 330.7h0M548.9 331.5h0M554.2 331h0M529.3 333h0M536.8 331.5h0M553.7 330.7h0M527.7 330.8h0M555.2 331h0M576 332.8h0M527 331.6h0M571.6 332.6h0M519.3 330.9h0M562.2 331.4h0M528.3 332h0M556.4 330.6h0M548.7 332h0M572.7 332.9h0M567.4 331.5h0M559.5 330.7h0M534.4 331.2h0M526.5 331.2h0M564.9 332.4h0M560.6 331.6h0M572 331h0M577.1 330.6h0M535.1 331.5h0M579.6 330.7h0M585.1 330.6h0M548.9 332.4h0M552.2 330.7h0M578.6 331.1h0M539.8 330.6h0M530.6 332.2h0M554.9 333.4h0M548.9 330.7h0M535.3 333.4h0M544.4 332.8h0M532.9 331h0M547 332h0M598.9 331.7h0M552 332.8h0M574 331.8h0M556.3 333.4h0M560.3 332.3h0M590 333.3h0M536.1 332.5h0M518.3 333h0M543.7 333.4h0M509.9 333.4h0M547.9 332.6h0M545 331.6h0M522.8 332.7h0M564.8 332.7h0M573.7 332.1h0M551 330.8h0M564 331.4h0M575.4 332.1h0M591 332.6h0M563 330.9h0M508.5 333.1h0M584.6 333h0M526.8 331.2h0M516.4 330.7h0M545.2 333.5h0M578.4 331.8h0M562.6 330.6h0M519.8 330.9h0M534.9 331.4h0M578.5 331.6h0M572.3 331h0M561.5 331.6h0M536.5 332.6h0M529.3 333.1h0M586.1 333.3h0M556.1 331h0M572.6 332.6h0M550.4 332.7h0M549.2 333.1h0M513.8 332.5h0M558.4 332h0M569.6 331.4h0M549 332.5h0M538.5 331.7h0M542.4 332.2h0M555 331.1h0M554.3 332.4h0M543.4 330.5h0M539.7 332.9h0M547.3 332.1h0M565.1 332.3h0M551.1 333h0M536.1 331.6h0M564 330.6h0M538.3 332.8h0M565.9 330.8h0M553.5 332.8h0M564.5 333.2h0M534.1 331.4h0M569 332.4h0M573.2 333.2h0M556.6 332.9h0M542.8 330.8h0M513.4 332h0M546.2 333.3h0M539.1 330.8h0M567.3 333.1h0M557.4 330.8h0M545.7 333h0M551.1 331.3h0M544.2 331.1h0M567.2 331.5h0M547.1 333.4h0M523.2 331h0M556.4 331.2h0M534.6 333h0M543.5 332.5h0M600.6 331.4h0M549.2 330.5h0M563.5 330.5h0M549.2 330.5h0M565.7 331.5h0M544.1 330.6h0M584.6 332.8h0M565.5 331.5h0M582.2 333.1h0M549.6 332.6h0M563.3 331.6h0M555.3 330.5h0M521.6 332.3h0M570.1 330.8h0M536.9 330.7h0M552.3 331.1h0M551.9 330.7h0M555.5 331.9h0M557.3 331.5h0M568.9 331.2h0M574.6 333.3h0M553.3 332h0M552.7 330.8h0M538.4 331h0M543.5 333.4h0M569.5 332.8h0M567.2 332.7h0M525.6 331.4h0M548.4 332.8h0M548.9 331.4h0M573.6 333.1h0M537.8 330.6h0M536.5 330.6h0M567.4 332.2h0M548.8 332.8h0M537.2 332.3h0M545.9 331.7h0M569.7 332.8h0M544.1 331.9h0M527.3 332.9h0M554 331.1h0M519 331.7h0M564.5 333.3h0M546.1 332.9h0M532.7 332.7h0M538.6 332.5h0M551.6 330.6h0M579.2 333.1h0M521 331.9h0M569 330.9h0M565.8 333.4h0M544.6 330.8h0M579.7 333.2h0M578.3 331.2h0M551.8 331h0M550.9 332.9h0M563.4 330.9h0M557 330.9h0M585.2 330.8h0M535.1 330.8h0M556.9 332.7h0M575.2 331.9h0M534.8 332.9h0M563.9 332.9h0M538.3 332.7h0M562.4 333.4h0M564.1 331.1h0M547.4 332.3h0M576.4 331.6h0M560.7 331.2h0M572.2 333h0M557.9 331.8h0M533 330.8h0M540.9 332.4h0M564.7 332.4h0M553.1 330.5h0M551.2 331.8h0M550.1 331.9h0M602.2 331.7h0M517.1 330.7h0M556 332.2h0M506.2 333.3h0M516 333h0M555.9 330.5h0M555.2 332.1h0M551.8 333.1h0M553.8 331.8h0M554.1 331.2h0M542.4 332.8h0M566.8 331.8h0M516.4 333.5h0M575.8 330.8h0M565.5 330.8h0M535.4 331.5h0M545.7 330.5h0M579.1 332.4h0M525.3 330.6h0M524.8 331h0M559.2 330.9h0M560.3 332.5h0M545.2 332.6h0M570.5 332.5h0M556.8 330.9h0M529.6 332.3h0M572.3 331.1h0M566.4 333.2h0M510.6 332.7h0M554.1 330.6h0M567.3 332.1h0M507 331.4h0M521.4 331.2h0M566.3 333.4h0M532.2 331h0M535.9 332.5h0M547.9 333.1h0M541 330.9h0M544.1 330.7h0M564.2 331.2h0M566.4 331.9h0M581.3 332h0M551.1 331.3h0M583.4 332.1h0M500.7 331.4h0M538 331.4h0M554.4 333.3h0M527.9 332.5h0M537.1 331.6h0M532.1 332.9h0M566.5 333.2h0M560 332h0M546.3 333.4h0M532 331.5h0M533.5 331.8h0M525.7 331.6h0M579.4 331.1h0M542.5 333.2h0M558.5 331.4h0M570.5 333h0M538 332.3h0M522.8 333h0M547.2 331.6h0M536.8 332.6h0M526.4 332.8h0M596.5 332h0M531.7 332.6h0M571 332.7h0M563.9 330.8h0M585.1 332h0M545.8 332.7h0M535.8 331.7h0M564 331.8h0M534.3 331.4h0M552.3 331.8h0M560.1 333.1h0M539.1 333.3h0M563.8 331.3h0M526.1 331.8h0M536.4 331.9h0M602 331.6h0M572.6 330.9h0M518.3 331.6h0M538.1 331.4h0M521.9 333.4h0M511.3 332.9h0M560.9 332.2h0M560.3 333.1h0M519.9 331h0M501.4 333.1h0M557.3 332.4h0M548.8 331h0M595.8 331.4h0M515.6 332.1h0M550.8 333.1h0M541 332.4h0M543.2 333.1h0M551.5 330.9h0M539.7 331.5h0M547.5 333.4h0M544.6 332.1h0M547.6 331.6h0M548.9 332.1h0M558 332h0M533.8 332.1h0M548 331.3h0M515.5 331.9h0M538.7 330.8h0M534.6 330.7h0M548 331.3h0M547.6 333.1h0M564.6 333.4h0M571.8 331.9h0M526.1 332.1h0M548.9 332.4h0M575.2 333.2h0M564 331.5h0M519.5 333.5h0M558.8 331.6h0M556.5 333h0M558.9 332.9h0M521.7 331.2h0M510.1 331.3h0M581.1 332.4h0M557.4 332h0M592.9 330.8h0M542.4 333h0M539 331.1h0M559.7 332.1h0M539.1 332.5h0M536.1 333h0M557.7 332h0M554.6 333h0M556.5 330.9h0M551.2 331.2h0M560.1 331.6h0M587.7 331.9h0M565.4 332.7h0M540.4 332.8h0M525.3 331.3h0M529.2 332.5h0M569.7 331.2h0M554 331h0M551.7 332.1h0M553.4 331.2h0M569.6 332.7h0M545.9 332.8h0M548.3 332.5h0M571.7 333h0M550.1 331.2h0M554.7 331.6h0M532.5 332.5h0M550.8 332.2h0M565 332.3h0M540.1 331.5h0M552.1 330.7h0M534.6 332.7h0M538.7 332.7h0M549 330.8h0M561.7 333.4h0M555.4 332.6h0M572 331.3h0M566.1 330.8h0M584.3 333.1h0M547.1 333.2h0M539.4 332.4h0M519.9 332.5h0M546.6 333.3h0M511 331.8h0M583.7 333.2h0M543.1 331.8h0M527.7 330.7h0M573 330.9h0M573.6 331.9h0M554.6 331h0M569.5 332.9h0M590.6 331.9h0M559.3 332.7h0M546.3 330.9h0M525.8 333.2h0M575.7 330.6h0M529.3 330.7h0M556.6 331.9h0M554.5 333.4h0M576.5 331.7h0M564.3 332.7h0M542.8 330.7h0M558.8 330.9h0M544.6 331.1h0M548.9 332h0M579.4 330.6h0M520.3 332.5h0M534.9 332.5h0M548.2 330.7h0M563.9 330.7h0M537.4 331.4h0M577.2 332.9h0M565.9 333.1h0M544.5 330.6h0M525.9 332.8h0M566.6 332.1h0M516.3 330.9h0M553.8 330.8h0M554.2 332.9h0M556.8 332.3h0M524.5 330.9h0M512.7 331.9h0M576 333.3h0M574.9 333.5h0M558 331.9h0M541.7 333.3h0M550.3 332.9h0M539.8 331.4h0M568.5 333.4h0M570.2 330.5h0M544 333h0M551.5 332.2h0M551.8 332.8h0M555.7 331.4h0M532.2 332.6h0M566.9 331.8h0M565.2 331.1h0M577.1 332.7h0M562.1 332.8h0M585.5 333.3h0M543 331.7h0M542.7 331.8h0M555.1 331.2h0M581.7 331.8h0M581.9 330.6h0M566.3 333.3h0M576.2 332.3h0M565.2 330.6h0M574.8 331.7h0M537.9 332.6h0M529.7 330.5h0M559.7 331.3h0M564.3 333.2h0M549.1 331.7h0M548.3 330.7h0M561.9 332.8h0M535.7 332h0M511.9 332.3h0M553.5 332.6h0M545 331.8h0M554.7 332.7h0M557.8 332.9h0M588.3 332.8h0M564.8 332h0M537.1 332.2h0M550.1 331.6h0M571.7 331h0M541.4 332.8h0M551.9 330.6h0M550.4 333.4h0M532.8 333.4h0M563.5 333h0M589.8 332.2h0M568.5 333.3h0M536.9 331.6h0M544.6 333.1h0M555.5 331.1h0M559.8 332.7h0M551.4 331.3h0M544.5 331.4h0M528.1 332.2h0M570.7 333.1h0M541.4 331.4h0M577 330.8h0M549.2 331.1h0M559.6 330.5h0M565.6 332.5h0M562.5 331.9h0M576.9 333h0M558.4 331.1h0M558.1 332.6h0M583 333.1h0M576.9 331h0M537.5 330.9h0M513.8 331.4h0M561 332.7h0M552.9 332.8h0M560.3 332h0M551 331.6h0M546.6 332.4h0M507.6 332.4h0M532.4 333.1h0M535.2 332.5h0M576.1 332.8h0M554.5 331.2h0M574.3 331.2h0M579.5 331.4h0M527.8 331.8h0M531.2 333.3h0M542.4 332.6h0M588.2 333.4h0M579.5 331.5h0M541.9 331.5h0M552.6 332.9h0M567 331.9h0M580.8 332.4h0M567.8 331.2h0M533.6 332.3h0M558.4 332.9h0M602.2 332.2h0M579.5 332.6h0M543.1 331.3h0M548.1 332.3h0M515.4 330.8h0M548.8 331.6h0M589.6 331.1h0M549.2 331.6h0M566.6 331.4h0M575.9 332.1h0M586.3 331h0M569.6 331h0M559.5 333.2h0M537.1 331.8h0M548.2 331.5h0M543.7 332h0M525.7 330.8h0M532.1 332.5h0M535.4 332h0M540.5 332.4h0M542.8 332.7h0M566.8 333h0M546.3 331.1h0M520.3 331.5h0M552.2 331.9h0M592.4 332h0M564.7 332.9h0M548.8 333.4h0M559.9 330.7h0M547.7 330.6h0M548.8 331h0M526.7 333.2h0M565.1 333.1h0M540.8 330.6h0M551.7 333.2h0M561.5 331.8h0M554.4 331.7h0M546.5 331.7h0M569.6 332.7h0M558.6 332.7h0M564.6 332.1h0M574.5 331.3h0M563.5 332.4h0M545.1 332.9h0M551.5 331.5h0M563.4 331.5h0M559.9 331.5h0M525 331.8h0M564.2 330.7h0M549.5 332.6h0M534.5 333h0M526 333.4h0M592.9 331.3h0M517.2 332.6h0M579.2 331.5h0M584.6 331.4h0M564.5 333.2h0M542.8 332.7h0M529.6 331.4h0M574.9 332.3h0M565.1 333.5h0M572.2 331.9h0M545.9 332.6h0M532.1 333.3h0M561.4 333h0M548.5 331.6h0M566.6 332.2h0M548.4 332.9h0M531.8 332.4h0M524.8 331h0M552.7 331.2h0M556.3 332.1h0M536.4 332.4h0M560.2 331.3h0M560.2 331.2h0M545.3 331h0M537.2 332.7h0M524 332.9h0M574.6 330.9h0M525.5 331.7h0M559 332.6h0M576.7 332.6h0M580.1 330.6h0M558.7 331.2h0M560.6 332.9h0M521 332.5h0M565.2 333.3h0M540.9 333.2h0M517.1 331.8h0M542 332.9h0M540.5 331h0M544.3 332h0M553.6 331.6h0M572.3 332.2h0M530.3 331.3h0M529 331.4h0M560.8 332.3h0M549.1 331.8h0M596.7 332.2h0M512.5 331.1h0M526.2 331.3h0M536.4 332.8h0M562.4 330.8h0M535 333.3h0M586.8 332.9h0M570.1 332.6h0M545.2 331.6h0M573.1 332h0M542.2 332.4h0M575.3 331.2h0M553.9 333.3h0M575.8 333.3h0M593.6 330.7h0M563.7 332.8h0M529.2 330.7h0M526.3 331.9h0M531.9 331h0M496.5 330.8h0M580.8 330.9h0M561.2 332.6h0M550.5 333.2h0M546.8 332.5h0M530.4 331.9h0M548.6 330.8h0M592.8 330.8h0M548.7 331.3h0M555.7 331.8h0M560.9 331.9h0M585.6 331.1h0M539 333.4h0M568.7 332h0M563.9 330.8h0M515.7 332.3h0M544.1 331.9h0M578.7 333.2h0M550.2 333.4h0M561.1 330.8h0M575.3 331.6h0M548.2 332h0M547.8 330.7h0M561.5 330.7h0M567.7 333.5h0M550.4 332.5h0M529 331.5h0M557.2 332.3h0M545.3 332.5h0M523 330.8h0M556.4 333.1h0M538.4 331.1h0M538.1 332.2h0M574.9 332.4h0M535.8 331.7h0M579.5 331.1h0M530.6 330.7h0M584.6 332.8h0M523.4 332.9h0M549.7 331.2h0M570.5 331.9h0M563.1 332.8h0M584.6 330.8h0M536.1 331.6h0M532.6 331.7h0M574.1 331.7h0M568.4 331.9h0M581 332.6h0M550.8 331h0M523.6 333h0M541.5 330.5h0M532.2 331.5h0M543.9 331.8h0M557.9 332.5h0M567.6 332.9h0M561.3 332.6h0M533.9 332.4h0M536.8 330.6h0M554 331.6h0M534.3 332.1h0M522.8 331h0M566.5 330.5h0M556.2 333.2h0M526.9 333.3h0M564.4 333.3h0M559.8 331.8h0M544.9 330.5h0M565.4 333.2h0M560 331.2h0M590.5 333.2h0M551 333.3h0M539.4 330.7h0M520.7 332.6h0M534.3 331.2h0M540.8 332.4h0M546.8 332.8h0M538.7 332.6h0M592.1 332.3h0M595.6 333h0M544.9 331.1h0M581.9 332.8h0M571.5 333.1h0M535.9 332.4h0M559.2 333.3h0M535.3 332.7h0M585.7 330.8h0M543 333.4h0M524.8 332.9h0M570.2 332.3h0M550.6 332.2h0M515.5 332.8h0M538.1 330.7h0M535 332.4h0M572.7 332.6h0M519.6 332.4h0M535.1 333.4h0M532.2 330.9h0M542.3 331.8h0M602.3 332.3h0M555.1 332.6h0M581.6 331.4h0M553.5 332.5h0M565.2 333h0M532.2 331.2h0M526.2 332.4h0M556.9 330.5h0M568.4 332.9h0M515.4 333h0M568.1 333.1h0M547.1 331h0M556.9 333.3h0M584 331.8h0M578.4 331.8h0M541.2 331.1h0M554.9 330.6h0M561.2 333.1h0M581.6 331.3h0M533.3 330.8h0M574.1 332.2h0M534 332.5h0M562.4 331.7h0M577.1 331.9h0M554 332.8h0M554 331h0M570.8 332.7h0M538.6 332.6h0M502.3 332.6h0M564.9 331.6h0M587.1 330.8h0M566.9 332.1h0M550.9 330.5h0M579.7 332.6h0M534.3 332.9h0M538.7 332h0M525.5 332.9h0M559.1 331.6h0M547.8 330.6h0M559.2 331.7h0M540.7 331.5h0M526 330.5h0M575.3 332.5h0M506.4 333.3h0M551.4 331.2h0M568.5 333.1h0M545.3 331.2h0M569.5 332.5h0M515.7 332.3h0M585 331.3h0M544.1 333.1h0M560 331.6h0M543.1 332.4h0M569 331h0M590.6 331h0M534 331.3h0M569.6 331.9h0M548.4 331.2h0M542.7 330.7h0M557.6 333.1h0M552.9 332.2h0M565.5 331.4h0M540.5 330.5h0M576.8 332.7h0M521.9 333.3h0M567.6 330.9h0M545.8 331.3h0M518.9 332.3h0M528.3 330.8h0M546.7 330.6h0M523.3 333h0M571.3 332.3h0M573.6 332.2h0M574.8 331.6h0M568.4 333.3h0M589.2 332.5h0M558.3 331h0M553.5 332.8h0M589.9 330.5h0M542.8 333.2h0M532.7 332.2h0M527.3 331.9h0M557.7 331.3h0M565.7 330.7h0M552.9 333.3h0M578 331.2h0M555.8 332.7h0M540.3 332.9h0M574.1 331.6h0M550.6 333.2h0M564.6 331.6h0M546.8 330.8h0M566.2 331h0M586.2 333.2h0M540.4 331.8h0M571.6 332.3h0M571.7 333.4h0M552 330.6h0M536 331.1h0M558.8 331.9h0M558.6 331.2h0M578.4 332.9h0M578 331.3h0M551.8 331.7h0M535.5 331.9h0M564.4 330.9h0M519.5 332.9h0M567.4 331.8h0M549.9 333.3h0M532.9 331.5h0M586.3 333.2h0M599.3 332.5h0M535.3 331.7h0M503.8 331.5h0M572.3 331h0M511.7 331.5h0M574.3 332.8h0M530.8 332h0M556.5 333.4h0M541.2 331.4h0M539.4 332.2h0M546.2 331.1h0M551.7 332.6h0M582 333.3h0M569.3 333.1h0M544.3 333.3h0M543.6 332.7h0M574.4 331.6h0M562.7 331.7h0M574.4 332.8h0M554.5 331h0M549.4 331.3h0M582.3 331.7h0M556.2 332.4h0M555.5 330.6h0M548.7 333.4h0M552.9 330.8h0M546.1 330.8h0M549.2 333.3h0M531.9 332.2h0M564.7 333.4h0M544.4 331.6h0M532.4 333.1h0M548.1 333.3h0M559.7 331.6h0M531 333.4h0M543.9 331.4h0M554 332.1h0M549.7 331.4h0M557 332.7h0M503.2 333.4h0M551.4 332.9h0M560.2 331.5h0M545.8 330.7h0M571.3 333.4h0M538.1 330.6h0M527.2 333.2h0M565.6 331.3h0M546 333.3h0M548.8 331.8h0M588.3 331.6h0M549.6 331.1h0M519.9 332.3h0M542.2 332.2h0M543.4 331.6h0M566.1 332.4h0M559.8 331h0M569.7 331.9h0M517.2 331.2h0M540.9 332.9h0M535 331.3h0M555.7 333.3h0M563.1 330.5h0M536.1 331.3h0M590.1 332.2h0M539.8 332.7h0M572.3 331.5h0M567.6 331h0M577.3 332.3h0M546.5 331.1h0M537.4 333.3h0M579.3 333.4h0M570.2 333.3h0M552.9 333.1h0M553.6 332h0M523.6 331.2h0M531.8 331.3h0M571.3 330.8h0M523.1 332.7h0M519.2 331.2h0M545.5 331.9h0M550.5 332.6h0M568.6 332.2h0M526.9 333.1h0M544 331.1h0M572.7 330.7h0M547.7 332h0M542.3 332.3h0M560.5 332.7h0M537.4 332.1h0M530.6 332.1h0M543 332.9h0M585.6 332.6h0M550.1 331.2h0M554 331.6h0M545.8 332.8h0M556.1 332.7h0M554.9 332.6h0M566.3 332.7h0M577.3 331.4h0M547.7 331.4h0M536.6 330.6h0M586.8 331h0M549.9 331.4h0M571.4 331.7h0M534.7 332.1h0M557.4 331.1h0M543.2 332.9h0M566.6 332.1h0M529.6 333.3h0M520.5 331.6h0M542.3 331.5h0M568.8 332.8h0M549.4 331.9h0M568.3 332.2h0M559.3 333.2h0M536 333.3h0M522.7 332.2h0M550.7 330.9h0M530.8 332.6h0M577 333.1h0M550.9 331.9h0M562.7 332.3h0M504.7 333.2h0M535.5 332.1h0M554.5 331.7h0M530.9 331h0M553.5 332.5h0M550.7 332.8h0M539.9 331.2h0M553 332.5h0M549.7 331.8h0M601.7 333.5h0M598.4 330.9h0M533.5 332.2h0M574.8 331.9h0M530.6 330.7h0M560.2 332.1h0M545.5 332.7h0M579.6 331.5h0M566.5 332.8h0M562.7 331.4h0M544.3 332.2h0M564.6 332.9h0M550.5 332.2h0M555.6 333.3h0M570.7 332.2h0M562.1 332.7h0M535.2 333.2h0M568.4 331h0M561.4 330.9h0M571.6 332.3h0M547.8 332.2h0M549.9 332.1h0M527 332.2h0M562.2 330.9h0M546.1 331.2h0M582.2 330.7h0M556.9 331.4h0M546.6 333h0M544.5 330.9h0M540.8 333.3h0M546.8 332h0M537.1 330.9h0M537.9 332.9h0M578 331.2h0M529.1 330.8h0M543.1 332.3h0M556.1 332.1h0M553.2 331h0M539.5 332.5h0M538.9 330.5h0M525.6 332.4h0M568.1 332h0M549.1 332.1h0M518.4 331.5h0M546.4 331.5h0M589.7 332.3h0M526.2 333.1h0M547.7 333.2h0M550.3 333.4h0M510.1 333.3h0M557.7 333.1h0M537.5 331.8h0M570 330.6h0M563 332.8h0M511.5 331h0M569.3 331.2h0M563.7 331.8h0M550.8 331.5h0M569.2 331.4h0M513.5 332.6h0M550 332.6h0M534.7 331.8h0M568.2 331.6h0M559.6 331.8h0M538.7 332h0M558.8 333.1h0M580.1 331.4h0M578.8 332.4h0M575.7 331.9h0M560.9 330.9h0M561.6 333.4h0M570.2 331.3h0M545.1 333h0M531.3 331.3h0M564.9 331.6h0M591.2 332.1h0M535.8 331.6h0M559.3 332.6h0M569.2 331.9h0M562.4 331h0M562 330.8h0M552.9 332.8h0M545 331.3h0M527.3 332.7h0M556.2 331.5h0M550.5 333.2h0M542.2 331.4h0M547.2 331.2h0M572.7 333h0M512.8 332.4h0M540.4 331.7h0M542.5 332.2h0M556 330.6h0M537.1 332.6h0M531.7 332h0M550.9 331.9h0M568.7 331.7h0M543 330.5h0M581.3 332.3h0M559.3 330.7h0M550.5 331.6h0M559 330.6h0M539.1 332.5h0M558.6 331.2h0M578.5 333.1h0M547.4 331.3h0M519.8 333.3h0M579.2 332h0M546.1 332.3h0M563.5 332.9h0M561.4 333.2h0M570.1 332.8h0M536.3 332.8h0M551.3 331.6h0M573.9 331.7h0M554.9 332.4h0M528.3 330.7h0M577.9 331h0M539.9 330.9h0M578.1 332.7h0M613.2 331.1h0M558 331.3h0M536.8 331.4h0M547.7 331.1h0M529.3 330.9h0M524.9 333.3h0M560 331.8h0M562.4 333.3h0M560.4 330.5h0M542.3 331.4h0M573.3 333.2h0M539.1 332.5h0M519.7 332.7h0M571.5 333.1h0M582.3 331.8h0M583.3 330.9h0M529.6 331h0M532.3 332.7h0M597 333h0M533.1 330.9h0M540.7 332.1h0M545.1 332.7h0M521.1 331.4h0M563.1 332.5h0M545.3 333h0M576.7 331.9h0M568 331.9h0M532.5 332.6h0M548.7 332.7h0M559 331.7h0M573.6 331.6h0M570.7 332.2h0M544.7 333.1h0M544.9 330.9h0M573.4 332.3h0M545.8 333.2h0M554.6 332h0M535.9 330.9h0M552.6 332.6h0M536.6 331.3h0M552.2 331.4h0M559.3 333h0M512.3 331.3h0M559.8 332.4h0M533.8 331.6h0M568.7 333.1h0M535.1 333.5h0M541 333.3h0" stroke="#C2C2C2" stroke-width="1.25" stroke-linecap="round" fill="none"/>
<path d="M537.2 325.1h0M533.5 326.1h0M540.9 329.5h0M536.2 328.7h0M518.7 321.8h0M534 329h0M532.1 324.6h0M534.7 324.9h0M536.8 329.3h0M537.8 330.1h0M539.4 329.4h0M540.8 325.4h0M537.2 329h0M533.1 322.8h0M536.5 326.4h0M530.9 329.8h0M533.9 322.2h0M535.5 318h0M537.1 316.3h0M527.2 326.8h0M539.5 326.2h0M530.4 318.9h0M537.4 328.5h0M525.3 326h0M533.3 322.3h0M530.2 330.1h0M538.1 328h0M539.1 328.4h0M538.6 326.9h0M537.9 326.5h0M535.9 327.6h0M528.7 325.8h0M540.7 329.9h0M538.4 325h0M535.8 328.4h0M536.7 321.8h0M540.2 314.9h0M525.7 324.7h0M522.9 329.8h0M532.5 325.9h0M534.7 328.3h0M537 319.7h0M532.5 320.7h0M528.7 330.3h0M536.5 329.6h0M531.2 327.7h0M529.4 324.7h0M540 327.6h0M537.9 322.4h0M538.4 322.4h0M528.2 330.5h0M539.5 327.3h0M528.7 324.7h0M539.4 327.1h0M528.4 321h0M539.1 329.2h0M536 325.3h0M532.2 329.1h0M539.9 329.1h0M515.4 328.2h0M534.1 316.1h0M519.7 326.9h0M532.1 322.8h0M530.3 326h0M529.5 321h0M531.5 329.2h0M532.3 322.5h0M524.2 327.8h0M538.7 327.8h0M536.8 323.9h0M535.3 328.5h0M534.9 329.8h0M536.4 325.5h0M535.2 329.8h0M535.2 327.9h0M531.2 324.8h0M536 321.1h0M538.2 330h0M540.4 322.1h0M535.9 325.9h0M524.4 325.4h0M525.9 319h0M533.8 328.3h0M537.8 330.1h0M536.3 328.7h0M530.2 320h0M526 324.1h0M524.4 328.2h0M536 326.4h0M530.6 317.1h0M538.3 329.2h0M529.8 316.4h0M537.7 327h0M534.5 305.7h0M539 330.1h0M537.4 325.3h0M540 329.7h0M540.9 328.8h0M537.7 328.3h0M533.1 329.4h0M532.2 324.2h0M535.9 327.6h0M533.3 324.9h0M520.5 321.9h0M530.2 323.8h0M532.4 322.9h0M520.1 326.2h0M539.3 329.8h0M536 325h0M538.8 330.4h0M533 327.1h0M536 330.2h0M533.4 324h0M537.5 327.1h0M540.1 330.4h0M535.4 327.6h0M537 324.8h0M536.8 312.4h0M533.9 323.2h0M539.5 324.5h0M536 330.3h0M539.4 322.9h0M518.7 316.1h0M535 330.3h0M539.3 328.4h0M539.6 327.1h0M529.2 312.8h0M536.6 325h0M527.8 329.3h0M533.5 329.3h0M538.5 329.8h0M538.2 311h0M529.2 329.1h0M535.8 307.4h0M538.7 325.2h0M536.7 323.4h0M530.8 320.4h0M538.2 327.9h0M540.1 325.1h0M534.8 327.8h0M525.5 328.9h0M535.1 328.3h0M535.8 325.3h0M538.1 330.1h0M521 329.5h0M540.3 327h0M517.5 323.9h0M531.9 311.1h0M540.7 329.9h0M531.4 322h0M538.5 329.6h0M536.7 324.8h0M539.4 326.9h0M539.3 325.3h0M539.6 325.5h0M531.2 323.1h0M536.4 327.2h0M539.5 329.9h0M536.5 330.1h0M533 329.5h0M526.3 316.4h0M537.2 328.5h0M536 321.5h0M521.9 328h0M538.2 325.9h0M536.3 324.7h0M532.5 327.6h0M535.9 326.3h0M537.1 329.3h0M540.9 330.2h0M539.9 327.1h0M525.6 319.2h0M539.2 330.1h0M528.3 323.4h0M512.7 324.1h0M533.1 325.5h0M513.7 327h0M535.8 312.7h0M525.1 319h0M534.5 316.6h0M520.5 327.5h0M536.6 321.5h0M535.5 326.4h0M534.8 330.1h0M537.6 328.2h0M524.7 323.5h0M537.6 327.2h0M537.7 329.8h0M540.1 320.8h0M537.1 328.7h0M534.5 329.4h0M540.4 329.2h0M538.6 330.4h0M531.5 324h0M539.7 322.3h0M532.3 328.1h0M533.6 329.7h0M536.6 329.2h0M540.2 324.2h0M524.8 328.7h0M527.5 327.9h0M518.5 322.6h0M533.6 313.6h0M534.6 323.6h0M540.6 316.9h0M535.7 328.1h0M529.9 329.4h0M516.5 327.5h0M538.9 323.6h0M533 329.1h0M539.6 322.7h0M531.2 325.6h0M532.1 330h0M535.7 325.1h0M532.5 329.3h0M536.7 326.6h0M538.9 329.4h0M536.3 319h0M539.3 323.3h0M536.1 327.9h0M529.8 329.5h0M537.1 329.5h0M539.2 328.1h0M537.4 328.5h0M531.1 329.9h0M540.2 330.4h0M536.1 327.2h0M526.5 327.5h0M540.7 325.9h0M538.6 328.2h0M536.8 323.3h0M531 324h0M537.6 326.9h0M531.2 324.8h0M538.9 329.9h0M533.7 322.9h0M535.5 330.1h0M539.9 330.4h0M539.1 324h0M525.4 325.5h0M537.1 328.2h0M531.9 328.8h0M539.7 326.7h0M530.7 328.6h0M524.1 312.1h0M525.7 321.6h0M539.2 325.9h0M540 326.3h0M538.6 329.7h0M531.2 329.9h0M522.5 324.9h0M533.9 329.7h0M538.9 328.4h0M531.1 325.4h0M535.1 328.8h0M528.7 313.4h0M540.5 325.7h0M538 329.4h0M531.5 328.6h0M535.2 319.3h0M537.6 328.5h0M539.7 327.8h0M539.6 324.3h0M536.4 320.3h0M539.1 326.7h0M531.4 325.3h0M534.2 329.7h0M538.2 314.3h0M535.1 328.8h0M538.5 325.7h0M540.8 323.3h0M527.1 325.6h0M533.5 324.2h0M536.4 317.3h0M535.5 330.1h0M531.4 326h0M528.3 325.3h0M532.5 325.6h0M531 326.9h0M534.2 325.8h0M532.6 328.1h0M539.9 323.5h0M532.2 324.5h0M539.6 330h0M525.5 322.4h0M540.4 328.9h0M537 330h0M536.4 329.1h0M528.7 320.5h0M538.8 329.1h0M530.8 307.7h0M540.4 328.7h0M528.5 330.4h0M535 326.7h0M536.2 325.9h0M536.7 328.3h0M538.1 330.1h0M533.6 328.2h0M536.3 330.5h0M539.1 327.7h0M531.5 330.1h0M538.5 326.8h0M539.2 327.6h0M525.3 330.2h0M527.3 323.9h0M527.9 328h0M529.3 326.2h0M536 328.2h0M538.8 320.3h0M537.8 326.2h0M536.7 329.1h0M530.5 329.5h0M536.3 329.6h0M536.3 329.7h0M535.4 329.7h0M540.2 329.7h0M533.4 330.4h0M538.1 325.1h0M525.5 328.6h0M522.9 328.9h0M537.1 327.2h0M537.9 322.8h0M535.9 313.9h0M534.4 323h0M538.7 328h0M534.1 330.1h0M531.8 330.5h0M529.6 323.5h0M529.5 327.3h0M536.1 322h0M534.2 328.7h0M531.2 330.3h0M538.6 327.1h0M537.6 326.5h0M532.2 311.7h0M532.5 328.2h0M531.4 321.9h0M536.2 320.8h0M538.1 327.9h0M534.5 327.9h0M536.8 330.4h0M528 325.5h0M532.8 328.2h0M537.8 326.7h0M522.1 316.4h0M534 330.1h0M536.2 312.2h0M536 328.8h0M537.8 329.5h0M535.2 326.7h0M531.9 318.9h0M531.1 329.1h0M535.8 327.6h0M538.7 329.9h0M537.8 329.7h0M533.4 316.7h0M537.2 316h0M538.7 325.6h0M533.9 312.4h0M535 329h0M528 310.8h0M534.3 310.2h0M522.6 326.7h0M538.5 330.4h0M536.5 319.3h0M537.6 319.6h0M538.1 318.4h0M539.6 324.2h0M536.8 325.1h0M537.8 330.1h0M535.4 318.4h0M529.2 327.3h0M531.2 326.6h0M526.7 315.5h0M527.2 327.4h0M516.8 327.1h0M541 330.4h0M532.5 323.7h0M537.7 325.2h0M532.3 316.3h0M533.4 326.9h0M537 313.9h0M537.5 329.2h0M536.9 323.2h0M530.9 329.5h0M533.1 327.3h0M531.9 321.2h0M539.7 330.5h0M532.4 327.9h0M538.9 329.5h0M536.9 327.4h0M537.4 329.1h0M536.5 329.9h0M538.5 323.3h0M529.3 330.1h0M538.7 327.4h0M539.4 329.1h0M508.8 307.2h0M532.5 317.5h0M527.7 317.5h0M530.4 328h0M535.6 328.6h0M521.8 326.5h0M534.9 329.4h0M525.9 329.1h0M537.2 330.4h0M538.6 326.8h0M539.3 315.1h0M535.8 329.9h0M530.9 327.2h0M538.8 327.2h0M535 322h0M534.6 330.4h0M527.9 307.5h0M538.4 328.8h0M534.1 318.6h0M537 326.5h0M534.4 325.2h0M533.6 330.3h0M519.4 328.1h0M526.8 326h0M532.3 327.8h0M527.9 328.1h0M534.4 315.8h0M539.8 327.8h0M539 328.3h0M538.8 329.6h0M532.9 328.4h0M522.6 324.3h0M533.2 329h0M539 329.6h0M531.1 330.2h0M539.8 328.9h0M537.8 319.4h0M536.7 329.2h0M529.1 324.9h0M540 330.2h0M539.4 324.7h0M534.5 329.1h0M529.4 329.4h0M535.8 330.2h0M533.2 321.3h0M532.3 323.4h0M540.2 329.3h0M536.9 323.4h0M540.2 327.1h0M538.5 330.4h0M530.7 319.5h0M538 326.9h0M524.3 328.6h0M529.3 322.1h0M531.6 329.6h0M536.1 322.8h0M538.1 319.1h0M536.6 326.4h0M532.2 328h0M534.3 328.4h0M531.7 328.9h0M536.1 329.2h0M534.9 328h0M539.6 330.1h0M535.9 329.9h0M525 312h0M538.7 329.3h0M538.2 328.4h0M536.4 327.9h0M527.7 330.4h0M539.2 327.2h0M525.3 329.6h0M528.4 324.8h0M522.8 323.1h0M531.8 325.5h0M530.2 329.6h0M537.5 329.4h0M535 328h0M524.1 313.8h0M530 311.5h0M526.6 320.6h0M535.8 330h0M538.8 326.4h0M521.9 326.1h0M526.5 319.5h0M534.4 317h0M537.6 324.3h0M535.9 319.5h0M518.3 324.3h0M531.7 329.7h0M527.5 330h0M529.4 330.3h0M519.5 328.1h0M537.9 330.5h0M534.2 329.7h0M529.6 317.8h0M539.3 330.5h0M540.1 323h0M533.3 329.2h0M539.1 329.4h0M523.2 315.7h0M537.9 328.4h0M537.5 321.2h0M538 317.9h0M537.4 323.8h0M531.6 326.3h0M534.5 329.7h0M537.7 326.5h0M537.7 329.5h0M539.8 329.7h0M532.1 326.8h0M537.9 317.1h0M528.2 326.8h0M526.7 330.5h0M533.7 326.8h0M532.2 329.6h0M537.8 322.2h0M537.7 330h0M536.7 314.5h0M537.2 325.8h0M528.4 324.9h0M537.1 330.2h0M527.8 321.8h0M535.4 329.8h0M532.1 327h0M537.8 320.3h0M537.9 330h0M529.3 312.3h0M536.6 328.8h0M533 327.3h0M539.3 322.7h0M538.1 327.2h0M533.2 319.6h0M535 324.3h0M537.6 329.6h0M538.3 328.9h0M530.2 316.8h0M531.7 319.5h0M533.4 327.6h0M539.4 327.9h0M533.1 330.2h0M539 322.5h0M535.9 326.2h0M521.5 319.5h0M537.3 326.4h0M537.3 328.7h0M535.3 329h0M538.8 329.1h0M537.2 328.8h0M539.1 329.4h0M535.4 329.7h0M536 329.3h0M535.7 328.9h0M539.2 329.1h0M527.8 323.8h0M536.2 329.4h0M536.3 330h0M533.9 327.1h0M533.6 324.7h0M534.4 325.8h0M540.2 330.2h0M536.6 326h0M537.1 329h0M540 326.7h0M537.2 327.7h0M532.6 327.4h0M523.7 329.1h0M536.2 326.8h0M537.8 330h0M537.8 327.2h0M532.3 327h0M538.8 330.3h0M538.4 326.2h0M533.4 322.1h0M540.6 330.5h0M538.8 328.9h0M534.4 320.9h0M535.5 323.3h0M536.7 328.3h0M531.3 322.2h0M540.5 328.2h0M533.6 329.8h0M525.6 329.2h0M532.4 330.3h0M537.4 329.8h0M540 326.5h0M536.6 321.6h0M525.9 318.1h0M529.4 326.2h0M529.3 318.7h0M537.2 327.8h0M526.8 312.3h0M520.7 326.3h0M535 328.6h0M538 328.5h0M536.2 322.6h0M535.3 311.9h0M534.9 330.3h0M537.5 327.2h0M532.5 323.4h0M537 321h0M524.6 328.4h0M534.9 311.6h0M535.9 326.6h0M540.1 325.7h0M523.9 327.5h0M533.5 330.1h0M536.7 322.3h0M533.5 310.7h0M531.1 326.7h0M533.7 323.1h0M539.9 327.2h0M540.2 326.1h0M533.1 328.7h0M535.4 316.4h0M534.8 321.7h0M529.1 324.6h0M532.5 319.6h0M539.5 330h0M530 319.8h0M538 329.4h0M536.6 326.1h0M540.4 318.6h0M535 330.4h0M538.7 321.8h0M527.8 328.4h0M540.5 313.4h0M538 320.5h0M540 329h0M520.5 313.7h0M536.5 326.9h0M540.5 318.4h0M530.1 322.2h0M537.4 329.6h0M535.2 325.9h0M533.1 325.8h0M538 329.4h0M537.9 330h0M534.2 322.5h0M536.6 328.9h0M539.8 320.7h0M532.7 325.7h0M540.6 329.5h0M533.9 322h0M537.8 323.9h0M539.8 324.9h0M539.5 329.6h0M534.7 324.4h0M540 324.4h0M535.6 329.7h0M539.5 327.2h0M531.3 327h0M538.5 315.7h0M540.7 323.2h0M536.7 328.8h0M533.6 327.5h0M532.8 325.3h0M537 323.7h0M539.7 326.7h0M527.3 326.5h0M538 323.2h0M539.4 328.4h0M528.2 327.6h0M537.2 330h0M535.9 311.9h0M533.5 326.8h0M532.1 321.9h0M533 327.2h0M532.9 325.1h0M540 322h0M526.4 324.6h0M531.1 329.5h0M536.7 316.9h0M525.9 319.6h0M526.3 319.3h0M538.8 329.6h0M537.8 327.1h0M533.7 326.8h0M535.8 313.2h0M538.8 327h0M529.5 321.6h0M535.3 326.4h0M534.1 316.8h0M537.2 327.9h0M528.5 328.1h0M526.2 328.2h0M526 326.4h0M536.9 318.1h0M524.3 328.4h0M539.7 326.9h0M540.4 330.4h0M537.6 330.4h0M539.6 329.1h0M539.8 328.1h0M536.1 327.3h0M532.2 330.3h0M540.7 320.9h0M527.9 321.9h0M531.7 329.9h0M527.6 328.9h0M536.6 328.5h0M539.3 326.4h0M539.9 327.5h0M534.2 329.7h0M536 323.6h0M535.3 328.5h0M531.7 306.1h0M530.9 318.8h0M523.6 326.4h0M532.4 320.6h0M523.8 325.2h0M534.9 330.4h0M528.7 322.8h0M535.8 327.7h0M535.4 328.4h0M534.9 321.3h0M534.3 328.4h0M537.8 323.4h0M540.1 328.9h0M535.2 327.1h0M537 328.9h0M535.1 326.1h0M537.5 327.6h0M534.2 319.8h0M536.5 329.4h0M539.6 329.8h0M535.3 329h0M535.4 326.1h0M536 329.3h0M535.9 327.5h0M534.6 330.4h0M539.6 330.1h0M540.7 330.3h0M536.5 325.4h0M534.2 328.7h0M526.7 313.7h0M533.9 330.1h0M537 325.3h0M537.9 327h0M531.4 325.8h0M539.5 329.6h0M531.5 321h0M536.4 327.6h0M526.3 325.8h0M525.5 322.2h0M528.5 313.9h0M524.8 328.6h0M530.2 312.2h0M528.2 328.2h0M535.6 330.1h0M534.6 329.4h0M536.3 327.9h0M531.9 327.9h0M532.5 329.9h0M538.8 326.2h0M530.7 327.8h0M539.1 330.1h0M527.9 327.5h0M536.8 330.1h0M536.8 327.3h0M524.2 328.8h0M535 329.7h0M537.7 325.2h0M533.5 326.3h0M521.4 320.6h0M530.4 309.9h0M533 323h0M535.2 319.6h0M520.2 325.7h0M540.7 329.7h0M534.6 322.9h0M540 330.3h0M529.6 327.5h0M536.6 329.8h0M537.1 322.3h0M535.6 326.4h0M536.6 313.6h0M527.5 323.4h0M537.4 327.4h0M535.5 328h0M536.6 321.1h0M540.6 325.9h0M528.9 322.2h0M531.2 321.4h0M539 325h0M538.5 324.6h0M540.5 322h0M539 329.2h0M539.5 329.6h0M536.4 330.3h0M537.8 323.3h0M538.7 330.3h0M539.7 322.5h0M531.4 328h0M539.6 329.7h0M539.2 328.7h0M537.3 326.1h0M536.1 323.7h0M533.4 315.7h0M535 327.7h0M538.5 329.2h0M539.7 329.1h0M538.2 330.5h0M534.3 326.2h0M534.6 329.2h0M526.5 328.3h0M532.7 327.1h0M530.3 317.1h0M535.1 328.3h0M537.4 323.9h0M539.1 328.3h0M532.8 327.5h0M534.6 329.2h0M536.3 322.4h0M531.2 326.6h0M534.1 320.5h0M517.5 326.5h0M529.1 318.9h0M540.8 330.3h0M534.2 328.6h0M540 324.4h0M540.4 327h0M532.2 320.4h0M534.9 330.2h0M535.3 330.5h0M535.1 328.1h0M532.7 322h0M535.1 325.5h0M536.5 322.3h0M532.4 327h0M530.4 326.4h0M537.5 325.9h0M534.8 321.5h0M537.1 328.3h0M534.6 328.5h0M539.7 329.3h0M537.2 327.3h0M526.2 329.6h0M539.8 325.1h0M535.9 309.1h0M538.8 313.4h0M529 308.3h0M535.8 328.2h0M531.6 327h0M521.1 330.1h0M536.7 328h0M536.5 327.5h0M539.3 327.1h0M522.1 322.4h0M529.4 325.6h0M539.8 328.9h0M536.3 324.1h0M534.7 329.7h0M538 325.5h0M530.2 325.3h0M523.4 320.5h0M530.7 328.3h0M535.4 324.8h0M538.1 327.6h0M535.2 324.3h0M520.4 325.9h0M536.8 328.1h0M538.8 322.9h0M535.6 327.8h0M534.3 328.4h0M539.6 329.9h0M531.6 324.6h0M529.7 320.2h0M536.8 330.4h0M535 326.7h0M537.8 320.2h0M537 329.2h0M536.1 325.6h0M539 328.9h0M526.8 327.9h0M534.3 324.7h0M540.4 329.7h0M539.7 330.3h0M536.9 328.6h0M538.9 330.2h0M533.6 324.6h0M533 324.1h0M536.7 328.2h0M531.9 329.8h0M539.1 328.8h0M540.5 308h0M540.9 323.9h0M529.4 328.4h0M540.2 327.2h0M531.2 319.9h0M533.9 320.1h0M538.7 321h0M534.7 324.3h0M536.5 317.8h0M533.2 324.1h0M524.6 328.1h0M536.5 323.1h0M530.1 319.8h0M536.8 316.2h0M530.6 324.8h0M540.3 329.2h0M530 320.7h0M539.6 329.2h0M500.3 330.3h0M528.4 330h0M516.2 330.4h0M507.6 329.4h0M531.3 329.8h0M513.8 330.2h0M530 330.2h0M521 330.1h0M532.6 330h0M507.7 330h0M509.5 329.9h0M503.7 328.6h0M500.1 330.3h0M502.8 330.1h0M507.4 329.9h0M520 329.9h0M506.8 330.3h0M521.5 326.8h0M510.3 329.8h0M526 329.3h0M513.3 328.9h0M510 327.2h0M512.3 327.3h0M532.6 329.7h0M508.6 330h0M509.6 330.1h0M527.2 329.7h0M506.1 330.3h0M521.4 329.5h0M517.1 329.9h0M525.2 330.1h0M502.7 327.7h0M512.2 330h0M520.6 330.4h0M522.9 330.4h0M510.1 330.4h0M507.2 330.5h0M526.1 329h0M513.8 326.7h0M503.2 330.4h0M523.1 330h0M521.2 330h0M506.1 329.5h0M517.4 330.4h0M525.5 327.9h0M499.7 329.8h0M515.3 330.3h0M514.2 330h0M510.2 329.8h0M526.3 330.2h0M531.5 330.1h0M507 330.2h0M508 329.1h0M517.4 330.4h0M523.6 330.3h0M517.3 329.9h0M524.4 330.1h0M509.8 330.4h0M520.6 329.6h0M520.4 330.3h0M537.3 317.1h0M526.5 318.9h0M532.7 310.5h0M530.2 310.7h0M528.9 310.4h0M536.4 310.6h0M530.6 315.5h0M535.3 309.7h0M532.9 308.8h0M536.1 318.9h0M535.3 312.8h0M533 309.6h0M532.7 312.6h0M519.8 318.5h0M533.2 312.5h0M535.3 311.9h0M526.4 310.3h0M534.2 316.8h0M525 296.7h0M525.8 302.9h0M532.6 303.5h0M522.8 308.5h0M528.8 312.2h0M499.2 325.7h0M503 326.4h0M509.1 324.5h0M515.2 323.9h0M506.8 327h0M500.7 327.6h0" stroke="#3A7BB0" stroke-width="1.35" stroke-linecap="round" fill="none"/>
<path d="M566.4 327.9h0M562.2 325.9h0M565.5 316.5h0M569.6 323h0M568.9 317.4h0M564.5 317.2h0M560.9 330.1h0M559.7 327.7h0M559.2 329.7h0M560.9 330.3h0M561 308.8h0M559.6 329.4h0M557.5 328.2h0M573.9 328.3h0M562.3 329.1h0M558.3 329.9h0M560.4 327.3h0M583.7 323.3h0M566.6 315.2h0M559.7 317.2h0M570.8 328.8h0M564.5 328.4h0M581.2 325.5h0M557.9 319.4h0M570.9 312.7h0M560.5 327.9h0M557 326.7h0M556.9 328.9h0M559.8 313.5h0M563.3 327.2h0M562.1 326.8h0M562 317.6h0M572.4 306.5h0M587.5 313.6h0M559.7 318.5h0M557.6 329.4h0M558.7 325.6h0M566.9 272.8h0M560.7 315.8h0M561.8 326.2h0M556.8 325.3h0M560 328.6h0M558.2 327.5h0M556.2 323.8h0M577.8 319.2h0M568.6 297.7h0M557.2 329.4h0M560.3 330.4h0M559 317.3h0M560.2 321.6h0M559 328.1h0M571 283.5h0M562.7 316.3h0M559.9 313.7h0M559.9 329.3h0M557.3 328.5h0M560.5 326.1h0M563.7 327.1h0M565.6 310.1h0M559.7 317.9h0M580.1 322.9h0M559.6 325.9h0M574.2 321.8h0M569.7 318.3h0M567.1 328.3h0M568.9 327.2h0M563.5 317.2h0M562.4 327.1h0M572.1 299.6h0M557.7 325.2h0M564.5 314h0M557.5 328.8h0M593.6 324.1h0M563 315.1h0M560.4 327.4h0M563.6 328.1h0M560.4 329.9h0M565 321.1h0M565.2 326.1h0M574.1 323.4h0M562.3 327.1h0M558 328.2h0M557.1 327.5h0M557.5 325.3h0M563.3 323.3h0M556.6 328.3h0M569.2 319.1h0M560 317.4h0M569.9 326.1h0M564.3 311.2h0M559 330.4h0M568.7 328.7h0M560.8 325.6h0M569.3 323.4h0M561.4 325.5h0M563.5 311.9h0M560 326.7h0M556.7 330.4h0M556.9 329.6h0M560.4 329.7h0M558.8 329.5h0M567.2 322h0M558.3 330.2h0M563.3 329.1h0M561.7 323.4h0M562.3 328.3h0M558.6 324.7h0M562.3 322.4h0M573 323.1h0M563.9 323.5h0M570.7 327.6h0M564.5 330.3h0M572 317.3h0M567.6 322.9h0M569 319.1h0M560.3 322.9h0M560.5 329.4h0M558 323.6h0M559.6 319.6h0M565.1 329.8h0M564.3 322.7h0M578.9 300.8h0M570.9 318.5h0M571.9 324.2h0M561.3 330h0M562.5 328.6h0M567.8 327.4h0M557.9 327.3h0M558.7 321.6h0M556.5 330.4h0M565.3 326.8h0M564.7 321.5h0M569.1 292.1h0M567.1 282.2h0M557.8 330.3h0M559.7 327.8h0M576.1 319.6h0M576.5 318.4h0M562.2 322.5h0M559.5 329.5h0M575.3 315.6h0M557.6 329.5h0M568.9 296.9h0M558.5 325.4h0M574.8 328.1h0M563.3 325.8h0M560.6 330.3h0M558.6 325.2h0M585.6 315h0M566.9 309.1h0M570.1 308.3h0M567.7 321h0M560.1 326h0M556.2 323.9h0M558.9 329.6h0M562.1 325.8h0M560.1 329.5h0M563.8 310.2h0M559.1 329.5h0M564.2 319.7h0M561.8 322.1h0M563.3 330.1h0M560.3 329h0M578.5 317.7h0M559 329.1h0M556.4 325.9h0M562.8 326.7h0M559 326h0M564.7 327.7h0M565.1 329.8h0M561.9 327.4h0M558.1 329.1h0M563.4 325.9h0M559.4 323.1h0M559.4 326h0M568.5 328.4h0M566.6 322.3h0M563.9 328.9h0M556.6 327.9h0M563.1 313.9h0M568.8 319.6h0M558.6 328.6h0M563 330h0M557.5 328.3h0M567.1 324h0M557.6 329h0M561 326.1h0M573.9 310h0M557.8 322.9h0M570.7 328.8h0M559.1 327.3h0M563.1 312.4h0M557.2 327.3h0M566.7 318.3h0M565.1 317.7h0M565.5 325.9h0M567.3 321.7h0M558.2 324.8h0M562.6 325.4h0M568.8 328.7h0M559.9 330.5h0M556.9 328.8h0M562.4 329.6h0M569.9 290.3h0M606.5 319.8h0M557.8 325h0M564.8 327.8h0M558.5 329.9h0M564.3 325.8h0M569 327.1h0M573.2 328.9h0M567.8 323.5h0M568.1 318h0M591.3 291.2h0M576.6 323.9h0M577.2 318.1h0M566 325.5h0M557.7 329.5h0M565.6 315.7h0M561.2 319.2h0M560.8 321.3h0M573 317.9h0M566.7 319.2h0M560.4 329.1h0M564.2 324.3h0M562.1 328.4h0M566.7 325.1h0M558.5 329.2h0M580.8 328.7h0M565 330.1h0M568.2 328.5h0M563.4 328.4h0M557 326h0M579.2 330.4h0M559.5 327.3h0M564.2 322.3h0M566.6 323.3h0M563.1 308.5h0M560.7 330.4h0M567.1 291.2h0M557.4 330h0M566 294.7h0M567 323.5h0M559.9 313.3h0M564.1 326.8h0M571.2 317h0M564 329.8h0M558.8 319.2h0M570 325.6h0M561.6 320.9h0M559.6 328.5h0M560.5 329.8h0M558 326.8h0M559.6 329.7h0M560.5 327.8h0M570.3 327.1h0M569.2 324.1h0M557.2 327.2h0M560.8 328.5h0M570 330.3h0M559.5 329.9h0M570.8 289h0M597.7 321.9h0M557 329.2h0M557.9 317.1h0M559.7 316.3h0M562.6 320.3h0M556.6 326.1h0M567.7 330.1h0M569.8 313.3h0M569.3 324.5h0M559.1 329.5h0M577.5 318.5h0M569.8 330.2h0M566.7 325.4h0M572.9 324.4h0M559.3 325.3h0M563.4 319.9h0M566 326.5h0M571.6 320.4h0M563.8 329.7h0M563.9 314.8h0M567.7 322.4h0M572.9 320.9h0M557.3 327.3h0M566.7 325.3h0M557.6 327.7h0M571 319.2h0M563.1 326.2h0M577.9 328.3h0M558.6 322.7h0M567 324.7h0M559.6 327.2h0M570.2 327.7h0M568.9 330.3h0M558.4 323.4h0M562.4 321h0M556.9 329.8h0M560 329.7h0M574.9 322.4h0M566 322.6h0M557.8 328.2h0M560.6 307h0M558.5 329.6h0M562.5 319.2h0M571.3 312.7h0M561.7 327.4h0M567.4 322.6h0M558.4 328.2h0M561.2 330h0M558.9 327.8h0M558.8 322.8h0M557.3 329.9h0M559 328.4h0M565.5 325.5h0M556.5 324.5h0M568.8 329.5h0M570.7 326h0M568 312.7h0M570.9 284.4h0M558.5 324.8h0M594 274.6h0M558.5 323.9h0M561 321.8h0M562.2 316.1h0M557.4 324.9h0M565.8 328.1h0M567.6 307.8h0M572.7 315.9h0M557.1 327.4h0M558.2 316h0M559.1 323.8h0M582 323.3h0M569.3 314.2h0M574.6 301.4h0M569 315.1h0M567 322.8h0M561.6 324.7h0M557.4 330.4h0M559.8 324.2h0M568 315.3h0M561.5 326.1h0M570.5 297.6h0M577.3 326.5h0M566.3 322.5h0M561.6 320.7h0M572.6 322.8h0M557.9 328.4h0M562.9 329.8h0M559.3 329.4h0M567 327.1h0M559.1 329.3h0M570.3 329.6h0M565.2 330h0M565.2 319.1h0M561.9 325.8h0M566.6 322.7h0M557.7 325.3h0M557.3 327.4h0M563.8 328.2h0M558.6 327.3h0M561.4 319.6h0M557.7 330h0M560 327.8h0M563.7 329.5h0M568.9 319h0M558.6 329.4h0M563.1 328.9h0M574.6 326.8h0M567.9 321.4h0M559.6 329.6h0M566.1 323.5h0M559.3 326.4h0M565.1 329.1h0M562 319.2h0M558.9 313.9h0M566.5 311.3h0M562.5 325.8h0M559.2 318.7h0M557.5 324.8h0M560.9 323h0M578 320.5h0M569 307.5h0M566 321.9h0M557.6 324.9h0M558 326.7h0M570.9 303.9h0M557.8 325.8h0M557.8 328h0M563.5 309.6h0M567.8 324.7h0M560.3 318.2h0M572.2 272.2h0M560.1 300.9h0M557.7 320.5h0M558 330h0M561 321.7h0M566.9 267.2h0M558.8 330.4h0M561.6 329.4h0M565.1 329.6h0M566.3 327.6h0M557.3 320h0M565.2 324.7h0M562.2 330.5h0M559 330.2h0M566.8 327.2h0M557.4 327.5h0M564.1 324.7h0M559.9 329.9h0M560.1 322.5h0M558.6 328h0M559.9 308.7h0M560.3 316.9h0M563.7 320.6h0M558.7 328.7h0M557.8 328.7h0M564.3 315.1h0M562.6 320.8h0M559.9 329.3h0M558.9 325.8h0M586.9 302h0M561 328.8h0M558.4 321.3h0M562.6 325.7h0M561.8 323.3h0M567.5 307.8h0M567.8 320.7h0M560.3 327.6h0M566 323.9h0M568 327.7h0M562.6 325.6h0M569.4 269.8h0M556.3 328.2h0M559.5 326.5h0M563 325.2h0M570.4 325.3h0M558.5 326.6h0M557.5 309.3h0M560.3 330.2h0M577.9 329.2h0M561.4 313.9h0M556.5 328.6h0M559.1 328.4h0M557.3 327.4h0M561 317.5h0M559.3 330.2h0M574.2 283.6h0M559.4 328.9h0M558.1 329.6h0M565.4 323.8h0M571.5 315.9h0M574.2 329.9h0M558.8 316.7h0M564.1 307.7h0M578.8 303.5h0M563.7 328.7h0M559 323.7h0M572.9 309.6h0M557.9 319.3h0M565.5 309.5h0M566.1 322.7h0M570.9 315.6h0M570.1 315.9h0M559.9 325.5h0M557.8 327.5h0M564.7 321.3h0M557.6 327.8h0M567.1 325.8h0M575.8 323.2h0M566.7 322.2h0M562.2 311.2h0M560.5 324.5h0M558.3 330.2h0M559.4 325.6h0M561.7 320.9h0M565.1 329.1h0M556.7 324.5h0M563.2 324.1h0M563.8 329.1h0M574.4 322.1h0M559.4 329.9h0M560.2 329h0M563.2 327.3h0M561.2 322.5h0M564.2 322.7h0M569.5 306.5h0M581.1 329.3h0M562.7 318h0M572.2 316.7h0M560.6 328.7h0M561.4 330.4h0M558.3 328.5h0M562.4 323.5h0M562.9 327.1h0M573.4 287.6h0M564.4 327.2h0M563.2 326.3h0M557.8 330h0M570.7 326.6h0M562.1 325.9h0M556.4 325.6h0M574.8 317.3h0M569.8 316.7h0M562.8 320.3h0M560.1 325.5h0M567.8 328.3h0M559.9 330.3h0M568.2 329.9h0M557.5 330h0M564.1 329.7h0M562.3 326.5h0M568.3 318.9h0M557.6 328.7h0M564 321.8h0M558.2 327.7h0M563 327.9h0M558.5 327.4h0M563.3 311.4h0M577 312.7h0M562.3 323h0M560.2 324.3h0M561.3 330h0M565.4 327.5h0M562.8 310.4h0M559.3 330h0M556.6 327h0M556.9 327.4h0M559.2 327.6h0M576.9 311.5h0M560.2 327.8h0M562.8 326.8h0M571.8 319.7h0M562.6 326.2h0M569.6 318.1h0M562.4 320.6h0M564.9 324.4h0M558.3 328.8h0M557.3 327h0M579.4 314.3h0M564.7 323.9h0M568.5 330.3h0M557.9 329.2h0M565.4 325.8h0M567 312.2h0M567.7 314.2h0M559.8 329.9h0M557.9 320.6h0M578.7 321.4h0M557.1 330.3h0M560.9 329.7h0M564.4 325.3h0M559.6 317.8h0M561.9 329.1h0M561.8 326h0M565.4 294.8h0M564 323.8h0M572.9 304.9h0M578.2 325.8h0M569.1 319.1h0M558.3 330.4h0M566.3 313.5h0M566.5 328.3h0M561.4 328.8h0M560.6 330.5h0M572.7 324.7h0M566 322.3h0M563.4 329.8h0M562.6 323.1h0M566.8 312.3h0M572.7 316.4h0M560.7 324.8h0M557.1 320.3h0M557.7 328h0M573.8 327.8h0M562.8 329.4h0M562.3 326.6h0M565.6 324.6h0M559.4 330.1h0M567.9 315.2h0M556.8 328.6h0M556.5 311.2h0M556.8 328.1h0M571 327h0M564.3 319.1h0M568.3 319.1h0M557.9 327.2h0M557 329.7h0M564.7 320.1h0M565 297.5h0M588.2 303.1h0M565.4 324.4h0M563 327.4h0M560.8 326.4h0M563.3 326.7h0M572.8 315h0M574.7 323.7h0M558.4 330.4h0M559.3 326.5h0M562.9 317.8h0M572.3 323h0M560.4 327.2h0M562.2 315.7h0M573.1 281.3h0M568.3 323.5h0M565.1 328.4h0M562 327.7h0M570.5 327.5h0M564.7 329.3h0M568.2 330h0M556.8 328.9h0M559.3 329.9h0M557.7 322.1h0M573.2 302.2h0M557.2 322.7h0M561.3 319.2h0M562.2 327.7h0M557.4 326.8h0M567.8 327.4h0M562.3 325.1h0M557.4 328.4h0M565.6 319.5h0M558.2 325.7h0M569.6 296.9h0M576.3 328.8h0M557 329.3h0M563.5 314.5h0M566 327.2h0M566.8 321.9h0M560 326.4h0M573.8 328.7h0M564.9 308.4h0M561.5 328h0M563 323.1h0M569.5 313.5h0M563.5 328h0M567.3 325.6h0M558.5 327.9h0M558.2 327.9h0M559.1 330.4h0M556.4 330.4h0M572.9 316.5h0M557.4 329.2h0M584.7 319.4h0M569.2 330.3h0M559.7 329.4h0M563.7 329.6h0M559.7 328.5h0M559 323h0M559.8 321.5h0M557.3 324.3h0M579.4 276.5h0M560.2 327.7h0M560 325.4h0M564.2 313.1h0M568.2 317.5h0M568.6 324.2h0M570.3 322.8h0M572.3 325.2h0M567.3 327.2h0M563.7 321.4h0M567.2 328.6h0M562.4 312.7h0M560.7 322.6h0M560.1 318.1h0M572.8 322.2h0M557.8 322.8h0M557.2 322.2h0M562.1 330h0M570.6 323.7h0M565.3 302.8h0M565 322.2h0M586.6 307.1h0M561.7 305.6h0M566.1 313.2h0M565.9 328.8h0M561.5 329.8h0M582.2 284.6h0M560.4 319.8h0M561.7 307.1h0M568.7 318.5h0M560.5 328.7h0M561.4 324h0M558.5 327.9h0M570.4 315.8h0M575.8 321.1h0M560.4 321h0M558.9 327h0M571.7 313.4h0M562.3 320.1h0M578.6 295.3h0M562.6 324.7h0M557.3 328.1h0M558.1 312.3h0M560.8 324.4h0M562.5 329.9h0M565.1 329.6h0M566.9 320.7h0M563.4 328.1h0M574.5 288.3h0M557.2 329.4h0M560.7 330.2h0M559.3 328.6h0M566 330.5h0M557.9 327.5h0M567.6 322.3h0M574.8 326.6h0M576.7 325h0M570.5 327.7h0M565.8 317.4h0M562.3 329.4h0M559.4 320.7h0M558.5 322.1h0M559.8 326.7h0M565.1 325.2h0M558.5 323.1h0M561.5 328.8h0M564.3 328.6h0M562.7 318.5h0M560.5 326.9h0M560.4 325.1h0M560.1 329.2h0M563.3 329.9h0M570.3 317.7h0M564.3 329.3h0M564.8 325.3h0M561.9 316.7h0M559.8 323.6h0M558.4 315.7h0M566.6 326.9h0M565 329.8h0M562.1 321.2h0M567 330h0M570.7 329.7h0M563.3 328.1h0M578.4 327.2h0M571.6 318.5h0M565.4 324.2h0M569.5 303.9h0M565.8 301h0M571.2 326.9h0M575.4 326.7h0M574.8 289.3h0M559.8 328.8h0M559.6 328.5h0M556.3 328.8h0M559.1 321h0M568.3 321.2h0M572 313.2h0M562.2 315.4h0M573.4 306.8h0M561.2 326.6h0M560.4 328.6h0M561.1 291.9h0M575 323.9h0M559.9 320.7h0M556.9 328h0M557.9 329.3h0M557.6 330.2h0M560 329.4h0M564.9 329.6h0M560.9 323h0M559.2 326.3h0M561 325.6h0M564.8 326h0M561.7 329.4h0M566.3 326.5h0M564.3 327.7h0M566.6 293h0M559.3 327.3h0M561.8 321.8h0M560.3 322.1h0M560.7 324.7h0M558.3 324.7h0M572.3 283.8h0M567.8 325.1h0M571 304.6h0M570 326.6h0M557.8 325.9h0M570 306.6h0M561.3 325.8h0M556.4 329h0M562.2 329.7h0M566.2 318.7h0M569.1 316.2h0M564.5 289.4h0M575.1 328.8h0M573.5 326h0M561.7 329h0M559.8 318.8h0M563.9 315.8h0M564.3 319.6h0M561 327h0M561.9 318h0M558.7 328.7h0M557 327h0M560.4 330.2h0M565.8 319.2h0M562.6 329.2h0M560.1 325.2h0M561.4 330.3h0M579.7 311.1h0M565.2 300.9h0M577.7 321h0M576.2 322.3h0M562.3 326.9h0M567.7 324.3h0M563.4 311.4h0M559.6 327.7h0M560.8 329.1h0M562.1 329.9h0M565.6 328.4h0M564.8 328.9h0M560.5 321.4h0M556.9 329.9h0M559.2 330.3h0M562.5 312h0M568.2 312.6h0M559.8 318.7h0M557.4 321.5h0M567.3 329.8h0M570.9 316.1h0M559.9 328.2h0M558.5 325.4h0M566.3 329.7h0M575.6 294.5h0M563.3 327.1h0M569.4 327.8h0M560.3 325.6h0M558.6 329.8h0M569.5 323.2h0M565.2 323.6h0M559.2 327.6h0M568.7 310.7h0M568.2 330.4h0M558.5 328.9h0M562.5 320.6h0M557.8 320.2h0M561.9 322.2h0M561.7 322.9h0M557.3 329.7h0M561.3 329.1h0M556.3 328.6h0M560.3 328.5h0M567.4 317.7h0M561.2 327.6h0M557 330.2h0M575.5 325.1h0M569.7 313h0M569.7 330h0M563.3 329.8h0M568.3 325.5h0M565.2 324.7h0M559.3 318.9h0M562.7 328.4h0M557.9 330.2h0M570.5 325.6h0M558.6 326.8h0M560 327.8h0M568.7 323.5h0M563.4 319.8h0M558.9 328.6h0M579.4 328.1h0M559 327.8h0M557.3 330.4h0M563.6 323.6h0M560.7 320.9h0M557.2 317.6h0M570.6 306.8h0M566.2 317.8h0M561.2 327.2h0M565.3 325.5h0M564.4 329.1h0M561.6 324.1h0M557.4 317.8h0M582.2 322.4h0M576.6 276.4h0M564 328.6h0M559.8 329.8h0M560.2 320.4h0M566 317.9h0M558.8 310.9h0M562.4 316.5h0M560.8 319.6h0M560.5 317.1h0M578.3 304.5h0M562.5 322.4h0M563.6 329.2h0M577 323.6h0M561.1 312.2h0M561.6 297.8h0M560.4 330.1h0M561.8 327h0M556.8 330.5h0M568.2 329.6h0M567.9 324.8h0M566.5 326h0M562.9 322.9h0M573.5 320.9h0M556.9 330.5h0M568.7 298.1h0M565.7 322.6h0M565.2 306h0M578.7 329.7h0M558.2 314.4h0M562.4 321.3h0M575.9 306.7h0M588.2 309.3h0M565.6 326.9h0M557.3 328.4h0M560.1 320h0M558.5 329.9h0M558.6 328.6h0M592.9 327.8h0M573 294.6h0M561.3 311.7h0M567.6 326.3h0M559.3 329h0M567.5 329.5h0M561 325.6h0M562.2 327.4h0M580 309.5h0M559.2 328h0M562.2 323.7h0M559.8 327.1h0M557 329.9h0M557.3 329.6h0M565.7 324.4h0M563.8 327.2h0M563.7 322.5h0M563 321.3h0M559.1 329.1h0M570.6 317.4h0M565.4 298.8h0M562.5 328.2h0M559.3 328h0M557.4 328.4h0M558.7 329.8h0M562.3 316.4h0M558.9 322.8h0M563.1 330.4h0M560 321.8h0M563.1 322.7h0M561.8 325.3h0M565.2 299.9h0M564.4 320.3h0M559.1 322.6h0M560 323.6h0M581.2 321.3h0M558.8 327.6h0M576.3 298.5h0M575 323.6h0M562.6 328.9h0M563 325.3h0M560.3 328.6h0M557.9 330.5h0M561.9 320.1h0M559.5 314.3h0M572.2 314.1h0M557.1 326.9h0M558.3 320.9h0M567.2 302.3h0M562 317.3h0M560 330.4h0M558.1 327.4h0M558.4 320.8h0M561.6 323.6h0M566.3 290.3h0M566.4 327h0M558.9 328.8h0M561.3 328.3h0M561.9 326.8h0M564.9 319.2h0M569.2 314.1h0M570.4 319.9h0M569.5 275.6h0M560.7 317.9h0M564.1 328.5h0M568.9 315.1h0M572 314.6h0M573.9 324.2h0M562.1 315.3h0M561.8 330.4h0M582 322.4h0M562 329.5h0M556.3 320.6h0M556.5 327.4h0M575.7 322.3h0M557.9 329.5h0M556.4 329.9h0M564.1 311.9h0M560.1 327.5h0M560.2 329.2h0M560.4 312.4h0M556.3 330.1h0M565.2 328.7h0M567 329.1h0M558.8 325.1h0M564.7 326.3h0M560 323.7h0M556.4 330.5h0M579 311.9h0M566.9 285.5h0M559.1 327.4h0M567.1 329h0M579.7 308.1h0M563.5 321.7h0M558.4 330.1h0M560.4 328.2h0M568.2 307.9h0M560.6 325.6h0M581.8 321.9h0M565.3 328.9h0M587.6 327.3h0M559.8 328.1h0M563.9 321h0M563.3 324h0M565.8 330.4h0M564.1 302.7h0M558.5 321.4h0M560.7 322h0M562.8 327.2h0M570 314.1h0M558 323.3h0M580.1 305.5h0M580.1 322.1h0M563.3 330.4h0M566.7 327.3h0M575.8 321.1h0M562.6 328.5h0M566.6 316.8h0M569.1 312.3h0M567.3 318.6h0M559.5 325.1h0M558.5 328.7h0M570.3 322.8h0M575.5 325.2h0M557.5 326.8h0M562.3 300h0M560.1 320.2h0M557.6 326.3h0M567.8 316.3h0M559 326.4h0M567 326.3h0M567.4 328.6h0M564 321h0M562.4 303.8h0M562.9 307.7h0M562.8 322.5h0M556.4 330.3h0M558.8 329.6h0M560.3 315.6h0M557.4 329.9h0M561.4 318.4h0M575.3 329.7h0M561.3 323.7h0M559.1 319.7h0M564.9 326.2h0M563.2 315.2h0M560.3 321.8h0M568 327.9h0M559.7 320.6h0M556.9 327.6h0M557.6 329.3h0M561.7 325.2h0M559.9 327.3h0M557 323.9h0M566.7 328.9h0M560.1 327.7h0M560.5 317.2h0M558.1 314.2h0M559.3 330.4h0M571.7 321.8h0M569.4 299.6h0M567.8 311.3h0M571.8 325.8h0M564.9 317.7h0M568.6 329.8h0M563.2 322.5h0M561.3 328.5h0M562.3 313.7h0M560.8 325.1h0M559.8 321.6h0M563.1 328.5h0M559.3 323.4h0M560 321.6h0M562.7 329.7h0M556.5 328.4h0M557 325.9h0M561.7 326.6h0M574.2 330.2h0M573.1 324.9h0M561.7 328.9h0M560.5 330.3h0M582.1 313.3h0M562.5 320.5h0M561.3 329.3h0M580.5 314.1h0M563.9 327.2h0M583.5 326.1h0M561.2 325.7h0M568.6 306.9h0M567.7 327.8h0M561.7 325.7h0M560.5 326.8h0M569.7 319.5h0M566.3 330.5h0M561.7 327.6h0M563.1 318.7h0M577.2 329h0M565.3 325.5h0M557.9 326.3h0M581.7 301.5h0M579.8 325.8h0M561.1 327.8h0M570.7 324.9h0M563.7 327.5h0M560 328.5h0M558.8 312.9h0M566.7 327.7h0M562.3 326.9h0M565 330.1h0M561.1 314.8h0M562.7 327.3h0M560.3 326.7h0M558.9 318.3h0M562.2 329.7h0M560.2 329.9h0M561.4 311.8h0M560.9 312.8h0M558.9 330h0M574.4 314.8h0M557.1 327.4h0M563.8 327.7h0M564.5 325.1h0M557.3 325.6h0M557.2 328.8h0M566.3 307.2h0M562.8 327.8h0M559.9 319.1h0M570.4 316.9h0M563.1 330.1h0M556.7 325.9h0M573.4 324.8h0M568.9 318.3h0M563.3 330.2h0M559.7 329.2h0M558.3 328.1h0M560.3 319.9h0M572.2 318.8h0M561.6 325.8h0M558.1 328.5h0M576.6 305.6h0M560.4 327.4h0M569.3 324.3h0M559.9 328.9h0M558.9 324.6h0M561 328h0M559.2 327.6h0M564.1 328.9h0M558.4 326.1h0M564.1 319h0M559.5 325.5h0M558.3 312.4h0M570.5 313.2h0M571 324.5h0M565.8 321.6h0M569.9 321.8h0M561 325.4h0M557.7 323.9h0M564 309.2h0M563.2 322.9h0M557.8 328.7h0M564.6 328.4h0M564.1 318.8h0M557.1 328.7h0M561.4 328.3h0M566 325.7h0M565.2 328.2h0M559.6 325h0M561.7 330.4h0M567.8 327.8h0M563.1 329.6h0M575.5 327.6h0M567.5 328.5h0M565.2 310.3h0M561.7 319.7h0M565.1 281.8h0M561.5 321h0M561.2 325.3h0M560.6 318.3h0M557.1 325.2h0M556.9 329.5h0M560.2 326.3h0M562.7 310.5h0M560.3 327.2h0M558.8 328.9h0M572.8 285.6h0M566 316h0M565 305.4h0M570.2 329.6h0M557.7 324.1h0M559 319.9h0M556.7 329h0M568.6 330.1h0M561.4 326.1h0M567.1 323.1h0M561.3 327.2h0M563 326.4h0M565.2 320.2h0M567.9 316.3h0M567.6 310.7h0M561.2 329.1h0M568.3 324.6h0M573.9 317.8h0M561 314.3h0M557.5 328.8h0M562.1 327.9h0M563.8 330h0M560 327.3h0M572 329.4h0M567.9 324.7h0M574.8 305.5h0M575.1 317.8h0M558.1 328h0M576.1 302.2h0M562.6 326.1h0M570.1 310.9h0M579.1 319.1h0M586.7 313.3h0M557.9 329.4h0M562.5 328.1h0M575.2 320.6h0M558 327.5h0M569 319.4h0M557.3 328.9h0M564.5 316.9h0M558.1 329h0M560 322.2h0M587.3 327.3h0M563.8 329.8h0M578.2 327.2h0M560.6 329h0M559.4 329.2h0M583.7 326.3h0M561.7 328.4h0M556.7 329.6h0M571.2 314.8h0M557.7 329.6h0M580.7 307.7h0M562.6 325.2h0M560.5 305.2h0M564.2 324.8h0M561.5 313h0M559.3 330h0M562.1 302.2h0M565.1 321.5h0M561 317.4h0M557 330.3h0M570.5 324.7h0M560.6 326.4h0M558 321.1h0M560.9 325.8h0M568.8 320.8h0M572.4 320.6h0M559.3 328.8h0M569.7 297.6h0M565.6 328h0M573.8 321.5h0M566.5 324.3h0M585.8 320.8h0M567 315.4h0M562.4 327.2h0M558.9 326.9h0M563.5 325.7h0M560.2 324.7h0M570.3 319.1h0M574.4 302.2h0M572.1 326.2h0M561.9 300.5h0M561.4 329.1h0M558.6 326.7h0M568.6 327.8h0M561.1 327.3h0M560.4 330.4h0M561.8 325h0M560.7 324.2h0M557.8 330.3h0M570.4 330.1h0M564.9 329.4h0M572.7 328.1h0M557.5 324.8h0M580.1 329.2h0M565.2 319.2h0M560.1 329.6h0M559.3 326.5h0M565.8 323.5h0M559 328.6h0M563.6 323.5h0M558.6 330.4h0M578.5 305.7h0M566.8 327.8h0M562.1 319.6h0M565 322.2h0M560.8 329.5h0M562.9 329.9h0M559.9 323.2h0M562.6 316.6h0M557.7 317.8h0M562.7 319.9h0M556.4 328.7h0M569.5 328.1h0M567.2 310.4h0M565.6 324.2h0M570.8 303.3h0M559.2 325.7h0M572.9 305.4h0M570.8 328.4h0M559.1 315.4h0M562.7 327.3h0M564.5 325.1h0M563.3 328.9h0M559.1 322.8h0M559.2 323.9h0M573.3 320.4h0M564.4 318.4h0M569.9 320.6h0M558.4 327.3h0M572.6 324.3h0M558.8 330.4h0M559.3 327.1h0M563.7 319.7h0M571.1 326.9h0M559.3 328.2h0M567.7 314.5h0M564.6 327.9h0M559.4 328.2h0M562.4 329.4h0M559.6 317.6h0M564.2 327.2h0M560.3 330.4h0M563.8 326.8h0M562.4 328.6h0M575.4 318.7h0M577.3 325h0M568 326.9h0M559.9 325.6h0M559.7 329.5h0M564 325.4h0M560 326.4h0M566.6 315.4h0M565.6 316h0M563.4 317h0M562.5 292.7h0M560.7 326.8h0M569.7 287.6h0M572.1 324.3h0M570.4 330.3h0M588.5 317.2h0M573.2 329h0M563.1 324h0M562.4 319.6h0M561.1 329.6h0M574.8 290.9h0M562.8 325h0M572.5 316.3h0M557.3 328.3h0M560.1 326.2h0M562.7 321.3h0M557.3 330.3h0M558.5 329.5h0M568.5 328.8h0M565.5 328.7h0M557.7 326.6h0M569.5 330.5h0M564.3 327.2h0M558.9 320.6h0M563.1 326.5h0M557.2 328.7h0M559.6 323.8h0M559.3 322.7h0M571.8 325.1h0M563.3 326.8h0M558.9 329.3h0M557.5 326.4h0M571.5 327.2h0M563.9 310.4h0M565.1 318.2h0M558.3 329.2h0M562.8 327.2h0M556.6 329.9h0M558.5 324.9h0M574.6 329.9h0M568.8 328.3h0M557.5 330h0M562.6 330.3h0M564.1 316.9h0M562.4 318.7h0M597.7 316.9h0M557.6 326.8h0M562.7 296h0M563.5 325h0M563.1 293.7h0M566.4 327.9h0M573.9 326.2h0M565.5 325.4h0M558 328.9h0M576.3 330.3h0M574.4 315.9h0M562.2 304.6h0M563.3 327.4h0M559.4 329.8h0M562 324.4h0M558 325.5h0M567.9 329.7h0M571.8 316.2h0M562.6 329.7h0M556.5 328.4h0M578.6 315.1h0M571 330h0M564.6 324.3h0M563 329.3h0M566 325.2h0M574.6 329.1h0M564 310h0M565.9 312h0M563.8 323.4h0M559.3 321.9h0M561.4 325.9h0M574.3 314.5h0M556.5 326.5h0M563 324.2h0M568.8 303.9h0M563.1 330.1h0M569.2 319.4h0M558.9 323.2h0M561.9 328.5h0M564.3 327.8h0M557.1 328.8h0M580.5 281.5h0M581.9 303.1h0M573.9 316.5h0M556.9 326.3h0M568 327.9h0M558.5 322.6h0M565.4 329.2h0M559.8 330.2h0M560 329.4h0M562.7 323.5h0M561.8 318.1h0M590.8 327.6h0M565.1 319.8h0M561.8 330.4h0M559.4 319h0M567.5 329.7h0M559.1 329.2h0M570.7 323.9h0M558.9 329.9h0M561 316.2h0M569.5 328.3h0M557.1 322.8h0M569 258.8h0M563.3 293.6h0M572.1 328.6h0M588.2 317.5h0M561.5 322.7h0M575.4 328.9h0M566 320.6h0M558.4 328.7h0M565.8 312.8h0M569 325.9h0M582.3 326.4h0M563.8 327h0M557.7 325h0M557.7 326.8h0M566.3 287h0M563 314.4h0M565.9 291.2h0M563.1 328.6h0M558.5 325.9h0M572.7 330h0M562.5 329.7h0M557.6 329.3h0M557 330.3h0M580.3 329.1h0M564.9 325.1h0M563.2 317.5h0M564.3 328.7h0M567.5 326.4h0M564.8 327.1h0M569.9 329.6h0M568.5 326.1h0M567.7 327h0M566.4 326.3h0M568.6 329.2h0M560.1 324.6h0M557.5 329.2h0M567.2 317.8h0M571 328.4h0M578.2 330.4h0M571.2 329.9h0M591.6 330.2h0M561.6 329.3h0M561.1 329h0M575.8 325.8h0M566.7 326.8h0M579.7 328.2h0M583.8 328.2h0M556.5 329.3h0M560.3 329.3h0M557.5 326.4h0M569.1 325h0M573.2 330h0M565.6 322.2h0M573.8 328.6h0M573.7 329.4h0M572.9 329.4h0M560.3 325.6h0M565.8 329.7h0M575.1 329.7h0M557.5 330.5h0M567.6 329h0M566.3 328.7h0M566.5 330.3h0M568.8 330.2h0M573.3 330.5h0M566.6 328.7h0M586.8 330.3h0M564.6 328.7h0M568.8 328.1h0M557.2 328.8h0M561.1 329.4h0M565.2 329h0M557.7 329.4h0M582.9 330h0M565 327.9h0M557.1 328.5h0M560.3 328.3h0M572.4 330.3h0M573.8 330.5h0M584 327.2h0M566.6 329.8h0M593.1 329h0M562.2 330.3h0M566.5 330.5h0M559.8 330.1h0M559.6 329.5h0M560.6 329h0M595.5 330.4h0M580.7 329.2h0M556.3 330.3h0M558.6 329.2h0M570 326.4h0M582.8 330.1h0M558 329.3h0M589.6 325h0M564 328.1h0M563.8 329.7h0M565.5 327h0M563.2 330h0M565.2 329.6h0M564.3 328.8h0M560.2 327h0M565.5 330.4h0M576.2 330.1h0M578.5 327.9h0M557.9 329.7h0M565.6 328.8h0M572.2 330.1h0M581.1 330.1h0M574.6 323.9h0M572.9 330.3h0M576.4 327.3h0M561.9 329.3h0M560.8 327.7h0M570 329h0M557.1 327.6h0M574.4 329.7h0M556.5 329.8h0M584.3 329.9h0M584.4 330.2h0M559.8 330.2h0M583.5 322.2h0M563.8 330.2h0M559.4 329.3h0M556.4 329.2h0M557 330.2h0M569.1 329.1h0M583.5 327h0M571.1 328h0M593 330.2h0M568.3 329.5h0M560.6 326.5h0M565.2 329.6h0M562.7 328.4h0M585.3 326.1h0M560.6 328.4h0M576.4 328.9h0M582.8 329.3h0M560.4 327.6h0M592.1 329.7h0M564.1 329h0M580.3 328.8h0M560.5 326.6h0M578.3 329.9h0M589.6 330.4h0M579.1 330.1h0M567.7 327.9h0M573.1 330.3h0M561 330.2h0M588 327.3h0M593.1 327.3h0M583.5 327h0M572.5 322h0M576.7 330.1h0M560.2 328.8h0M565.5 330.4h0M568.9 329.9h0M571.8 329h0M580.5 324.7h0M578.5 330.2h0M573 323h0M569.9 327.6h0M580.4 330.3h0M570.3 330.3h0M568 330.4h0M576.7 329h0M581.7 329.7h0M588.8 330.2h0M583.8 329.9h0M589 329.6h0M569.8 329.6h0M572.8 329.5h0M590.9 328.7h0M558.3 330.4h0M568.7 327.6h0M557.2 325.9h0M569.6 324.1h0M570.1 330.2h0M560.1 328.7h0M589.8 330.1h0M557.6 327.7h0M569.4 328.9h0M560.3 330.1h0M563.6 330.1h0M588.9 329.8h0M557.5 326.9h0M560.2 330.4h0M559.4 328.9h0M576.3 329.2h0M577.9 328.7h0M573.3 329h0M580 328.1h0M569.1 326.7h0M582.3 330.2h0M574.2 329.9h0M596.8 329.6h0M556.8 326.7h0M573 326.9h0M578.9 328.7h0M559.4 328.7h0M571.5 329.4h0M559 330.1h0M559.7 326.1h0M564.6 330.3h0M563.4 327.9h0M571.4 328.8h0M563.8 330h0M574.3 330.4h0M569.2 330.4h0M559.1 328.9h0M558.2 327.9h0M563.4 328.7h0M585.3 325.8h0M580.5 329.7h0M556.5 329.5h0M561 329.2h0M591.2 327h0M567.7 330.1h0M575.4 329.6h0M584.6 326.9h0M589.9 327.4h0M556.7 327.2h0M570.3 327.1h0M571.7 328.2h0M560.8 328.7h0M582.9 330.4h0M569.4 327.1h0M589.1 330h0M572.3 329.6h0M561.8 330.3h0M556.8 328.8h0M566.5 329.7h0M577.4 330.4h0M583.1 329.7h0M567.9 329.6h0M575 327.1h0M564.2 329.7h0M569.7 330.2h0M575.8 329.9h0M579.7 328.5h0M593 329.9h0M563 330.2h0M573.3 330.2h0M583 325.6h0M567.2 330.4h0M574.1 329.3h0M557.2 329.8h0M568.5 326.8h0M570.1 329.8h0M584.2 329.9h0M570.2 330.3h0M557.8 330h0M585.9 327.6h0M588.6 329.2h0M561.2 327.6h0M574.4 330.4h0M568.5 325.9h0M585.1 328.4h0M562.3 329.9h0M573.2 326.1h0M556.5 328.2h0M587.2 325.3h0M579.2 329.6h0M565.9 329.5h0M579.3 322.4h0M559.4 330.1h0M574.5 328.3h0M582.9 328.8h0M587.7 330.3h0M592.2 329.1h0M575.5 330.1h0M582.4 329.6h0M576.4 329.3h0M576.6 329.9h0M567.6 329.8h0M561.6 328.5h0M565.3 329.8h0M578.3 325.2h0M556.6 330.4h0M569.5 329.4h0M557.8 328.1h0M556.5 329.6h0M565.2 330.2h0M579.5 329.2h0M557.9 326.1h0M561.1 327.7h0M572.5 329.4h0M568.1 330.3h0M595 329.4h0M573.2 329.2h0M571.6 330.3h0M558.2 319.1h0M561.2 329.8h0M563.5 328.4h0M576 329.7h0M582 328.7h0M556.2 329.9h0M567.1 330.1h0M584.2 329.9h0M558.7 326.8h0M579.5 330.3h0M579.4 325.5h0M589.9 328.9h0M559.8 327.8h0M572.4 330.3h0M557.8 329.7h0M591.3 325.9h0M582 327.6h0M589.5 329.7h0M568.9 330.4h0M566.2 330.2h0M561.4 328.6h0M569.9 330.2h0M578.4 330.1h0M577.8 329.6h0M559.3 330.3h0M557 329h0M576.4 330.5h0M576.5 330.4h0M564.4 326.4h0M556.9 330.1h0M576 329.5h0M569.2 329.1h0M557.9 327.6h0M556.7 325.2h0M574.2 329.7h0M575.9 329.9h0M563.7 330.3h0M561.8 321.6h0M564 330.4h0M587.7 328.8h0M566 328.4h0M559.1 329.8h0M571.2 330h0M585.2 324.4h0M576.6 328.2h0M570.7 329.8h0M586.6 328.6h0M573.8 328h0M572.3 328h0M568.2 328.4h0M567.3 327.8h0M576.4 329h0M575.8 329.5h0M556.9 329.9h0M576.1 329.8h0M561 329.1h0M568.7 330h0M572.7 330.4h0M577.8 329.8h0M583.5 329.1h0M601.2 329.1h0M558.2 329.2h0M583.3 325.9h0M587.4 328.2h0M559.2 328h0M556.4 329.7h0M559.6 330.1h0M576.5 325.8h0M562.2 329.5h0M556.8 328.6h0M556.9 327.1h0M564.2 329.7h0M560.5 328.3h0M564.6 329.5h0M572.5 329.9h0M566 329.5h0M576.1 330.3h0M561 330.3h0M561 330.1h0M569.2 328.9h0M579.3 327.9h0M584.1 329.7h0M558.7 329.8h0M574.3 328.1h0M571.7 329.8h0M595.4 330.4h0M583.1 328.6h0M557.3 330.4h0M567.5 329.9h0M565.3 329.6h0M575.9 325.9h0M581.3 326.9h0M558.7 327.4h0M597.3 330.4h0M568.2 330.1h0M568.4 330.4h0M561.7 329.6h0M586.7 327.5h0M585.9 328.3h0M593.1 329.1h0M568.2 329h0M570 326.5h0M563.7 329.4h0M563.3 329.1h0M596 322.9h0M556.9 328.1h0M581.1 329.2h0M557 323.8h0M580.4 330h0M562.9 330.2h0M588.7 329.2h0M566.6 330.4h0M557.6 329.7h0M558.9 328.9h0M558.8 325.6h0M560.9 330.1h0M584 328.8h0M594 330.4h0M561.7 325.9h0M576.3 329.9h0M572.1 330.5h0M557 325.3h0M571.8 329.4h0M563.8 329.1h0M576.1 330.2h0M565 329.5h0M571.3 330.2h0M569.3 289.2h0M575.5 280.6h0M570.5 281.2h0M574.5 279.3h0M566.2 284.3h0M562.2 290.8h0M566.3 287.5h0M563.2 288.9h0M587.2 285.6h0M561 290.2h0M564.9 303.3h0M565.5 280.8h0M564.1 301.8h0M564 288.6h0M559.3 289.6h0M562.2 286.3h0M561.8 296.8h0M562.6 288.3h0M563.4 277.8h0M566.3 306.6h0M561.3 294.6h0M565.9 291.5h0M563.4 264.2h0M562.2 282.2h0M563.1 280h0M570.3 294.4h0M584.3 301.6h0M566.9 300.5h0M587.1 297.4h0M575 279.6h0M563.4 281.4h0M559.7 292.8h0M562.2 284.8h0M570.4 300.4h0M581.1 270.9h0M559.8 307.3h0M559 318.1h0M558.7 308.3h0M558.1 298.9h0M564.9 316.2h0M561.6 307h0M560 307h0M567.4 318.3h0M562.8 325h0M563.5 308.3h0M574.8 316.7h0M562.2 325.1h0M569.1 305.4h0M557.9 324.2h0M560.8 305.7h0M566.7 315.2h0M575.5 312.2h0M571 310.3h0M578.4 319.4h0M562 298.5h0M572.1 323.8h0M568.8 306.9h0M576.5 316.6h0M573.5 299.9h0M562.8 309.5h0M564.9 321h0M561.1 305.6h0M576.9 313.4h0M557.9 323h0M565.3 320.4h0M562.7 319.2h0M569.3 314.4h0M578.5 313h0M568.7 310h0M563.3 312.6h0M567 325.2h0M577.1 319.2h0M565.2 314.2h0M570.4 321.1h0M581.1 316.2h0M564.3 319.4h0M570.5 317.1h0M566 296.3h0M569.8 303.6h0M580.3 307.7h0M564.9 324.5h0M567.1 310.8h0M575.1 315h0M562.9 310.3h0M564.1 301.5h0M561.6 312.9h0M563.6 323.2h0M557.1 319h0M563 323.8h0M575.2 314.5h0M567 317.5h0M571.9 319.9h0M567.7 309.3h0M560 323h0M578.2 309.6h0M569.8 312.4h0M567.9 303.9h0M567.5 317h0M564 302.7h0M569.7 314.6h0M560.2 323.8h0M561.1 309.3h0M567.4 310.5h0M572.3 300h0M561.6 322.3h0M565.6 306.5h0M563.4 316.7h0M564 305.4h0M557.8 316.1h0M573.6 306.6h0M561.6 322.6h0M568.4 320.2h0M571.7 308.2h0M568.5 299h0M568.3 308.1h0M572.5 308.1h0M572 302.7h0M563.8 314.3h0M565.3 306.6h0M565.9 317.4h0M559.1 313.7h0M561.3 296.7h0M583.1 319.8h0M559.7 322.8h0M574.9 312.7h0M569.4 309.9h0M564.2 313.8h0M561.3 318.6h0M566.1 304.5h0M557.5 318.9h0M566.3 301.2h0M562.8 310.8h0M559.8 314.5h0M564.4 318.7h0M583.5 321.9h0M577.4 312.8h0M562 317.1h0M570.7 320.5h0M574.3 316h0M566 310.4h0M561.8 305.6h0M578.8 315h0M566.9 323.6h0M564.5 310.2h0M596.8 323h0M562.9 316.2h0M570.9 323.7h0M570 313.2h0M563.4 307.6h0M564.7 305.5h0M569.1 312.9h0M559.3 311.4h0M560.6 304.3h0M565 309.8h0M573 312h0M560.5 322.8h0M562.7 317.1h0M562.9 317.6h0M561.5 316.3h0M563.9 298.3h0M565.4 304.8h0M558.7 316.5h0M573.5 323.3h0M567.2 302.7h0M562.9 308.1h0M567.1 318.6h0M560.4 317.4h0M572.2 318.9h0M587 318h0M560.1 320.8h0M596.9 313.1h0M564.4 314.9h0M575.3 314.2h0M566.9 313.6h0M560.7 317.3h0M561.4 324.4h0M557.5 323.9h0M564.5 314.4h0M567.1 318.6h0M568.3 325.1h0M573.9 319.2h0M567.6 317.4h0M569.6 323.6h0M562.8 319.1h0M579.3 319.4h0M557.8 323h0M558.6 322.9h0M557.2 323.6h0M585.8 307.3h0M575.1 311.2h0M557.6 311.7h0M561.6 309.3h0M558.5 324.5h0M559.8 310.2h0M568.6 325.9h0M583.9 323.6h0M566.5 307.4h0M563.6 316.5h0M568.1 299.9h0M565.9 323.3h0M562.7 308.3h0M560.7 322.7h0M574 322.4h0M571.6 301.7h0M566 318h0M567.3 322.9h0M560.4 314.4h0M561.5 316.5h0M557.7 322h0M558.8 302.9h0M559.3 301.5h0M559.4 320.5h0M565 315.8h0M574.2 306h0M564.3 322.8h0M570.1 300.5h0M559 315.6h0M563.9 319.6h0M567.1 308.7h0M565.6 321h0M568.2 312.3h0M563.1 313.2h0M569.9 318.2h0M566.2 309.1h0M559.7 311.5h0M560 325.1h0M575.4 320.1h0M569.8 313.9h0M560.4 308.3h0M561.6 320.8h0M560.1 311.8h0M569.7 314.5h0M559.1 317.3h0M559.6 319.6h0M570.7 318.8h0M566.7 317.7h0M571 312.1h0M564.8 321.4h0M581 308.2h0M573.5 317.8h0M563.7 310.8h0M566.6 312.9h0M562 321.6h0M561.9 306.2h0M564.6 310.5h0M579.8 307.4h0M563.7 321.2h0M567.1 312.3h0M569 311.1h0M560.5 318.4h0M569.7 325.7h0M562.1 299.5h0M562.3 303.2h0M567 319.6h0M562.7 319.3h0M569.7 322.1h0M573 325.2h0M564.1 295.7h0M565.8 317.7h0M561.9 320.3h0M565.3 325.7h0M564.9 314.6h0M565.1 320.1h0M568.3 300.2h0M557.6 317.3h0M573.1 322.5h0M570.4 299.5h0M559.5 307.8h0M581.7 316.4h0M572.5 323h0M561.9 315h0M566.1 317.4h0M561.6 319h0M560.4 318.4h0M569.9 304h0M575.6 303.8h0M561.8 305.6h0M564.6 314.7h0M562.5 315.8h0M568.6 301.4h0M563.8 318.8h0M561.2 323.1h0M568.8 325.1h0M562.3 313.1h0M557.2 314.2h0M567.9 313.3h0M568.8 312.5h0M559.6 314h0M574.5 319.4h0M571.7 315.4h0M567.9 319.4h0M584.4 304.2h0M561.5 309.6h0M563.4 311.2h0M564.5 312.7h0M566.4 318.8h0M565.3 309.1h0M562 318.2h0M568.2 321.2h0M586.9 308.2h0M561.4 314.5h0M579.3 308.9h0M570.4 319.1h0M590.1 313.5h0M564.8 317.4h0M576.7 321.8h0M564.6 313.6h0M560.5 303.8h0M568.3 326.6h0M563.8 314.5h0M574.5 322.3h0M568.1 325.7h0M563 300.2h0M574.4 317.9h0M560.4 320h0M578.2 213.4h0M608.6 230h0M579.8 232.5h0M582.8 234.4h0M586.6 234.4h0M585.1 237.4h0M593.4 235h0M574.4 243h0M575.2 255.3h0M583.6 252.9h0M585.8 254.7h0M582 264h0M579 264.6h0M585.8 264h0M581.3 267.7h0M583.6 272h0M594.2 277h0M594.2 286.2h0M601.8 287.5h0M587.4 281.9h0M580.5 286.8h0M577.5 278.2h0M590.4 275.7h0" stroke="#8B1A1A" stroke-width="1.35" stroke-linecap="round" fill="none"/>
<line x1="540.6" y1="207.8" x2="540.6" y2="337.2" stroke="#333" stroke-width="0.7" stroke-dasharray="1.8,1.2"/>
<line x1="555.9" y1="207.8" x2="555.9" y2="337.2" stroke="#333" stroke-width="0.7" stroke-dasharray="1.8,1.2"/>
<line x1="492.1" y1="330.6" x2="618.4" y2="330.6" stroke="#444" stroke-width="0.7" stroke-dasharray="1.8,1.2,0.6,1.2"/>
<rect x="492.1" y="207.8" width="126.30" height="129.40" fill="none" stroke="#8A8A8A" stroke-width="0.8"/>
<line x1="490.3" y1="331.30" x2="492.1" y2="331.30" stroke="#777" stroke-width="0.6"/>
<text x="490.10" y="333.00" font-family="Liberation Sans" font-size="4.8" text-anchor="end" fill="#555" >0</text>
<line x1="490.3" y1="300.43" x2="492.1" y2="300.43" stroke="#777" stroke-width="0.6"/>
<text x="490.10" y="302.12" font-family="Liberation Sans" font-size="4.8" text-anchor="end" fill="#555" >50</text>
<line x1="490.3" y1="269.55" x2="492.1" y2="269.55" stroke="#777" stroke-width="0.6"/>
<text x="490.10" y="271.25" font-family="Liberation Sans" font-size="4.8" text-anchor="end" fill="#555" >100</text>
<line x1="490.3" y1="238.68" x2="492.1" y2="238.68" stroke="#777" stroke-width="0.6"/>
<text x="490.10" y="240.38" font-family="Liberation Sans" font-size="4.8" text-anchor="end" fill="#555" >150</text>
<line x1="490.3" y1="207.80" x2="492.1" y2="207.80" stroke="#777" stroke-width="0.6"/>
<text x="490.10" y="209.50" font-family="Liberation Sans" font-size="4.8" text-anchor="end" fill="#555" >200</text>
<line x1="518.20" y1="337.2" x2="518.20" y2="339.0" stroke="#777" stroke-width="0.6"/>
<text x="518.20" y="342.20" font-family="Liberation Sans" font-size="4.8" text-anchor="middle" fill="#555" >&#8722;4</text>
<line x1="548.60" y1="337.2" x2="548.60" y2="339.0" stroke="#777" stroke-width="0.6"/>
<text x="548.60" y="342.20" font-family="Liberation Sans" font-size="4.8" text-anchor="middle" fill="#555" >0</text>
<line x1="579.00" y1="337.2" x2="579.00" y2="339.0" stroke="#777" stroke-width="0.6"/>
<text x="579.00" y="342.20" font-family="Liberation Sans" font-size="4.8" text-anchor="middle" fill="#555" >4</text>
<line x1="609.40" y1="337.2" x2="609.40" y2="339.0" stroke="#777" stroke-width="0.6"/>
<text x="609.40" y="342.20" font-family="Liberation Sans" font-size="4.8" text-anchor="middle" fill="#555" >8</text>
<text x="561.90" y="204.20" font-family="Liberation Sans" font-size="9.0" text-anchor="middle" fill="#000" font-weight="bold" >T24 vs T3</text>
<text x="559.20" y="347.60" font-family="Liberation Sans" font-size="6.55" text-anchor="middle" fill="#000" font-weight="bold" >log2FoldChange</text>
<text x="0" y="0" font-family="Liberation Sans" font-size="6.5" font-weight="bold" text-anchor="middle" fill="#000" transform="translate(478.7,266.70) rotate(-90)">&#8722;log10(Adjust P&#8722;value)</text>
<rect x="623.3" y="261.3" width="8.7" height="25" fill="#F0F0F0"/>
<circle cx="627.5999999999999" cy="265.40" r="0.75" fill="#8B1A1A"/>
<text x="633.90" y="267.70" font-family="Liberation Sans" font-size="6.4" text-anchor="start" fill="#000" font-weight="bold" >UP</text>
<circle cx="627.5999999999999" cy="273.50" r="0.75" fill="#3A7BB0"/>
<text x="633.90" y="275.80" font-family="Liberation Sans" font-size="6.4" text-anchor="start" fill="#000" font-weight="bold" >DOWN</text>
<circle cx="627.5999999999999" cy="281.60" r="0.75" fill="#BDBDBD"/>
<text x="633.90" y="283.90" font-family="Liberation Sans" font-size="6.4" text-anchor="start" fill="#000" font-weight="bold" >NOT</text>
<path fill="#998ac4" d="M64.6 389.2h11.05v1.46h-11.05zM64.6 391.42h11.05v1.46h-11.05zM64.6 399.18h11.05v1.46h-11.05zM64.6 401.39h11.05v1.46h-11.05zM64.6 403.61h11.05v1.46h-11.05zM64.6 408.05h11.05v1.46h-11.05zM64.6 411.37h11.05v1.46h-11.05zM64.6 414.7h11.05v1.46h-11.05zM64.6 430.22h11.05v1.46h-11.05zM64.6 432.43h11.05v1.46h-11.05zM64.6 439.09h11.05v1.46h-11.05zM75.3 396.96h11.05v1.46h-11.05zM75.3 403.61h11.05v1.46h-11.05zM75.3 410.26h11.05v4.78h-11.05zM75.3 419.13h11.05v1.46h-11.05zM75.3 445.74h11.05v1.46h-11.05zM86 395.85h11.05v1.46h-11.05zM86 399.18h11.05v1.46h-11.05zM86 402.5h11.05v1.46h-11.05zM86 405.83h11.05v1.46h-11.05zM86 409.15h11.05v1.46h-11.05zM86 423.57h11.05v1.46h-11.05zM86 425.78h11.05v1.46h-11.05zM96.7 396.96h11.05v1.46h-11.05zM96.7 409.15h11.05v1.46h-11.05zM96.7 418.02h11.05v2.57h-11.05zM96.7 434.65h11.05v1.46h-11.05zM107.4 389.2h11.05v1.46h-11.05zM107.4 391.42h11.05v1.46h-11.05zM107.4 400.29h11.05v1.46h-11.05zM107.4 404.72h11.05v1.46h-11.05zM107.4 408.05h11.05v1.46h-11.05zM107.4 411.37h11.05v1.46h-11.05zM107.4 415.81h11.05v1.46h-11.05zM107.4 419.13h11.05v1.46h-11.05zM107.4 423.57h11.05v1.46h-11.05zM107.4 432.43h11.05v1.46h-11.05zM107.4 471.23h11.05v1.46h-11.05zM107.4 494.51h11.05v1.46h-11.05zM107.4 508.93h11.05v1.46h-11.05zM107.4 518.9h11.05v2.57h-11.05zM118.1 391.42h11.05v1.46h-11.05zM118.1 394.74h11.05v1.46h-11.05zM118.1 403.61h11.05v1.46h-11.05zM118.1 405.83h11.05v1.46h-11.05zM118.1 409.15h11.05v1.46h-11.05zM118.1 414.7h11.05v1.46h-11.05zM118.1 419.13h11.05v1.46h-11.05zM118.1 423.57h11.05v1.46h-11.05zM118.1 431.33h11.05v1.46h-11.05zM118.1 518.9h11.05v1.46h-11.05zM118.1 533.31h11.05v1.46h-11.05zM128.8 442.41h11.05v2.57h-11.05zM128.8 450.17h11.05v2.57h-11.05zM128.8 454.61h11.05v2.57h-11.05zM128.8 463.47h11.05v1.46h-11.05zM128.8 465.69h11.05v1.46h-11.05zM128.8 470.13h11.05v1.46h-11.05zM128.8 484.54h11.05v1.46h-11.05zM128.8 498.95h11.05v1.46h-11.05zM128.8 507.82h11.05v1.46h-11.05zM128.8 512.25h11.05v1.46h-11.05zM128.8 531.1h11.05v1.46h-11.05zM128.8 538.86h11.05v1.46h-11.05zM128.8 541.07h11.05v1.46h-11.05zM139.5 447.95h11.05v1.46h-11.05zM139.5 470.13h11.05v2.57h-11.05zM139.5 474.56h11.05v1.46h-11.05zM139.5 476.78h11.05v1.46h-11.05zM139.5 485.65h11.05v1.46h-11.05zM139.5 497.84h11.05v1.46h-11.05zM139.5 502.27h11.05v1.46h-11.05zM139.5 511.14h11.05v1.46h-11.05zM139.5 535.53h11.05v2.57h-11.05zM139.5 538.86h11.05v1.46h-11.05zM139.5 541.07h11.05v1.46h-11.05zM150.2 443.52h11.05v1.46h-11.05zM150.2 454.61h11.05v1.46h-11.05zM150.2 470.13h11.05v1.46h-11.05zM150.2 481.21h11.05v1.46h-11.05zM150.2 484.54h11.05v2.57h-11.05zM150.2 528.88h11.05v1.46h-11.05zM160.9 408.05h11.05v1.46h-11.05zM160.9 412.48h11.05v1.46h-11.05zM160.9 440.19h11.05v1.46h-11.05zM160.9 443.52h11.05v2.57h-11.05zM160.9 446.85h11.05v2.57h-11.05zM160.9 457.93h11.05v1.46h-11.05zM160.9 464.58h11.05v1.46h-11.05zM160.9 469.02h11.05v1.46h-11.05zM160.9 471.23h11.05v1.46h-11.05zM160.9 476.78h11.05v1.46h-11.05zM160.9 495.62h11.05v2.57h-11.05zM160.9 504.49h11.05v2.57h-11.05zM160.9 517.79h11.05v1.46h-11.05zM160.9 531.1h11.05v1.46h-11.05zM171.6 442.41h11.05v1.46h-11.05zM171.6 472.34h11.05v1.46h-11.05zM171.6 480.1h11.05v2.57h-11.05zM171.6 485.65h11.05v1.46h-11.05zM171.6 493.41h11.05v1.46h-11.05zM171.6 507.82h11.05v1.46h-11.05zM171.6 510.03h11.05v1.46h-11.05zM171.6 525.55h11.05v1.46h-11.05zM171.6 532.21h11.05v1.46h-11.05zM171.6 542.18h11.05v2.22h-11.05zM182.3 391.42h10.7v1.46h-10.7zM182.3 403.61h10.7v1.46h-10.7zM182.3 433.54h10.7v2.57h-10.7zM182.3 446.85h10.7v1.46h-10.7zM182.3 472.34h10.7v1.46h-10.7zM182.3 527.77h10.7v1.46h-10.7z"/>
<path fill="#8877bc" d="M64.6 390.31h11.05v1.46h-11.05zM75.3 393.63h11.05v1.46h-11.05zM75.3 395.85h11.05v1.46h-11.05zM75.3 415.81h11.05v1.46h-11.05zM75.3 423.57h11.05v1.46h-11.05zM75.3 425.78h11.05v1.46h-11.05zM75.3 430.22h11.05v1.46h-11.05zM75.3 433.54h11.05v1.46h-11.05zM75.3 435.76h11.05v1.46h-11.05zM86 392.53h11.05v2.57h-11.05zM86 400.29h11.05v2.57h-11.05zM86 404.72h11.05v1.46h-11.05zM86 410.26h11.05v2.57h-11.05zM86 413.59h11.05v2.57h-11.05zM86 416.91h11.05v2.57h-11.05zM86 436.87h11.05v1.46h-11.05zM96.7 389.2h11.05v1.46h-11.05zM96.7 402.5h11.05v1.46h-11.05zM96.7 408.05h11.05v1.46h-11.05zM96.7 411.37h11.05v1.46h-11.05zM96.7 414.7h11.05v1.46h-11.05zM96.7 432.43h11.05v1.46h-11.05zM96.7 436.87h11.05v1.46h-11.05zM107.4 395.85h11.05v1.46h-11.05zM107.4 421.35h11.05v1.46h-11.05zM107.4 435.76h11.05v1.46h-11.05zM107.4 439.09h11.05v1.46h-11.05zM107.4 475.67h11.05v1.46h-11.05zM118.1 390.31h11.05v1.46h-11.05zM118.1 398.07h11.05v2.57h-11.05zM118.1 411.37h11.05v3.68h-11.05zM118.1 420.24h11.05v2.57h-11.05zM118.1 425.78h11.05v1.46h-11.05zM118.1 430.22h11.05v1.46h-11.05zM118.1 433.54h11.05v1.46h-11.05zM118.1 435.76h11.05v2.57h-11.05zM128.8 445.74h11.05v1.46h-11.05zM128.8 459.04h11.05v3.68h-11.05zM128.8 475.67h11.05v1.46h-11.05zM128.8 482.32h11.05v1.46h-11.05zM128.8 485.65h11.05v1.46h-11.05zM128.8 488.97h11.05v3.68h-11.05zM128.8 496.73h11.05v2.57h-11.05zM128.8 500.06h11.05v1.46h-11.05zM128.8 503.38h11.05v1.46h-11.05zM128.8 505.6h11.05v1.46h-11.05zM128.8 511.14h11.05v1.46h-11.05zM128.8 516.69h11.05v1.46h-11.05zM128.8 523.34h11.05v2.57h-11.05zM128.8 529.99h11.05v1.46h-11.05zM128.8 535.53h11.05v3.68h-11.05zM128.8 542.18h11.05v1.46h-11.05zM139.5 440.19h11.05v1.46h-11.05zM139.5 451.28h11.05v1.46h-11.05zM139.5 461.26h11.05v1.46h-11.05zM139.5 464.58h11.05v1.46h-11.05zM139.5 469.02h11.05v1.46h-11.05zM139.5 475.67h11.05v1.46h-11.05zM139.5 478.99h11.05v2.57h-11.05zM139.5 486.75h11.05v1.46h-11.05zM139.5 490.08h11.05v1.46h-11.05zM139.5 504.49h11.05v1.46h-11.05zM139.5 513.36h11.05v2.57h-11.05zM139.5 520.01h11.05v2.57h-11.05zM139.5 525.55h11.05v1.46h-11.05zM139.5 531.1h11.05v2.57h-11.05zM139.5 543.29h11.05v1.11h-11.05zM150.2 451.28h11.05v1.46h-11.05zM150.2 456.82h11.05v1.46h-11.05zM150.2 467.91h11.05v1.46h-11.05zM150.2 480.1h11.05v1.46h-11.05zM150.2 482.32h11.05v1.46h-11.05zM150.2 492.3h11.05v1.46h-11.05zM150.2 497.84h11.05v1.46h-11.05zM150.2 504.49h11.05v2.57h-11.05zM150.2 511.14h11.05v1.46h-11.05zM150.2 520.01h11.05v1.46h-11.05zM150.2 523.34h11.05v1.46h-11.05zM150.2 527.77h11.05v1.46h-11.05zM150.2 529.99h11.05v2.57h-11.05zM150.2 536.64h11.05v1.46h-11.05zM150.2 542.18h11.05v1.46h-11.05zM160.9 441.3h11.05v1.46h-11.05zM160.9 445.74h11.05v1.46h-11.05zM160.9 451.28h11.05v1.46h-11.05zM160.9 453.5h11.05v1.46h-11.05zM160.9 459.04h11.05v1.46h-11.05zM160.9 461.26h11.05v1.46h-11.05zM160.9 466.8h11.05v1.46h-11.05zM160.9 473.45h11.05v2.57h-11.05zM160.9 481.21h11.05v2.57h-11.05zM160.9 487.86h11.05v1.46h-11.05zM160.9 498.95h11.05v1.46h-11.05zM160.9 506.71h11.05v4.78h-11.05zM160.9 514.47h11.05v1.46h-11.05zM160.9 516.69h11.05v1.46h-11.05zM160.9 518.9h11.05v3.68h-11.05zM160.9 524.45h11.05v1.46h-11.05zM160.9 529.99h11.05v1.46h-11.05zM160.9 534.42h11.05v2.57h-11.05zM160.9 537.75h11.05v1.46h-11.05zM160.9 539.97h11.05v1.46h-11.05zM160.9 542.18h11.05v1.46h-11.05zM171.6 445.74h11.05v1.46h-11.05zM171.6 451.28h11.05v1.46h-11.05zM171.6 457.93h11.05v2.57h-11.05zM171.6 464.58h11.05v1.46h-11.05zM171.6 466.8h11.05v1.46h-11.05zM171.6 469.02h11.05v1.46h-11.05zM171.6 473.45h11.05v1.46h-11.05zM171.6 482.32h11.05v1.46h-11.05zM171.6 500.06h11.05v2.57h-11.05zM171.6 512.25h11.05v1.46h-11.05zM171.6 518.9h11.05v2.57h-11.05zM171.6 524.45h11.05v1.46h-11.05zM171.6 534.42h11.05v1.46h-11.05zM171.6 536.64h11.05v1.46h-11.05zM171.6 538.86h11.05v2.57h-11.05zM182.3 431.33h10.7v1.46h-10.7zM182.3 442.41h10.7v1.46h-10.7zM182.3 449.06h10.7v1.46h-10.7zM182.3 476.78h10.7v1.46h-10.7zM182.3 484.54h10.7v1.46h-10.7zM182.3 493.41h10.7v1.46h-10.7zM182.3 498.95h10.7v1.46h-10.7zM182.3 501.17h10.7v2.57h-10.7zM182.3 510.03h10.7v2.57h-10.7zM182.3 518.9h10.7v1.46h-10.7zM182.3 521.12h10.7v1.46h-10.7zM182.3 523.34h10.7v1.46h-10.7zM182.3 528.88h10.7v1.46h-10.7zM182.3 532.21h10.7v1.46h-10.7zM182.3 538.86h10.7v1.46h-10.7zM182.3 542.18h10.7v1.46h-10.7z"/>
<path fill="#a294c8" d="M64.6 392.53h11.05v2.57h-11.05zM64.6 395.85h11.05v1.46h-11.05zM64.6 409.15h11.05v2.57h-11.05zM64.6 413.59h11.05v1.46h-11.05zM64.6 415.81h11.05v1.46h-11.05zM64.6 421.35h11.05v1.46h-11.05zM64.6 425.78h11.05v1.46h-11.05zM64.6 433.54h11.05v1.46h-11.05zM75.3 401.39h11.05v2.57h-11.05zM75.3 406.94h11.05v1.46h-11.05zM75.3 418.02h11.05v1.46h-11.05zM86 389.2h11.05v1.46h-11.05zM86 475.67h11.05v1.46h-11.05zM96.7 406.94h11.05v1.46h-11.05zM96.7 416.91h11.05v1.46h-11.05zM107.4 399.18h11.05v1.46h-11.05zM107.4 401.39h11.05v1.46h-11.05zM107.4 409.15h11.05v2.57h-11.05zM107.4 412.48h11.05v1.46h-11.05zM107.4 414.7h11.05v1.46h-11.05zM107.4 418.02h11.05v1.46h-11.05zM107.4 425.78h11.05v1.46h-11.05zM107.4 430.22h11.05v1.46h-11.05zM107.4 434.65h11.05v1.46h-11.05zM107.4 437.98h11.05v1.46h-11.05zM107.4 449.06h11.05v1.46h-11.05zM107.4 469.02h11.05v1.46h-11.05zM107.4 474.56h11.05v1.46h-11.05zM107.4 507.82h11.05v1.46h-11.05zM118.1 396.96h11.05v1.46h-11.05zM118.1 402.5h11.05v1.46h-11.05zM118.1 406.94h11.05v1.46h-11.05zM118.1 418.02h11.05v1.46h-11.05zM118.1 432.43h11.05v1.46h-11.05zM118.1 513.36h11.05v1.46h-11.05zM118.1 529.99h11.05v1.46h-11.05zM128.8 446.85h11.05v2.57h-11.05zM128.8 452.39h11.05v1.46h-11.05zM128.8 464.58h11.05v1.46h-11.05zM128.8 476.78h11.05v1.46h-11.05zM128.8 480.1h11.05v1.46h-11.05zM128.8 487.86h11.05v1.46h-11.05zM128.8 495.62h11.05v1.46h-11.05zM128.8 527.77h11.05v2.57h-11.05zM139.5 454.61h11.05v1.46h-11.05zM139.5 456.82h11.05v1.46h-11.05zM139.5 467.91h11.05v1.46h-11.05zM139.5 484.54h11.05v1.46h-11.05zM139.5 491.19h11.05v1.46h-11.05zM139.5 493.41h11.05v1.46h-11.05zM139.5 498.95h11.05v1.46h-11.05zM139.5 501.17h11.05v1.46h-11.05zM139.5 527.77h11.05v1.46h-11.05zM150.2 416.91h11.05v1.46h-11.05zM150.2 442.41h11.05v1.46h-11.05zM150.2 444.63h11.05v1.46h-11.05zM150.2 447.95h11.05v1.46h-11.05zM160.9 409.15h11.05v1.46h-11.05zM160.9 470.13h11.05v1.46h-11.05zM160.9 528.88h11.05v1.46h-11.05zM171.6 440.19h11.05v1.46h-11.05zM171.6 470.13h11.05v1.46h-11.05zM171.6 476.78h11.05v1.46h-11.05zM171.6 478.99h11.05v1.46h-11.05zM171.6 484.54h11.05v1.46h-11.05zM171.6 487.86h11.05v1.46h-11.05zM171.6 495.62h11.05v1.46h-11.05zM171.6 498.95h11.05v1.46h-11.05zM171.6 527.77h11.05v1.46h-11.05zM171.6 541.07h11.05v1.46h-11.05zM182.3 399.18h10.7v1.46h-10.7zM182.3 402.5h10.7v1.46h-10.7zM182.3 426.89h10.7v2.57h-10.7zM182.3 432.43h10.7v1.46h-10.7zM182.3 450.17h10.7v1.46h-10.7zM182.3 452.39h10.7v1.46h-10.7zM182.3 495.62h10.7v1.46h-10.7z"/>
<path fill="#bcb0d5" d="M64.6 394.74h11.05v1.46h-11.05zM64.6 419.13h11.05v1.46h-11.05zM75.3 426.89h11.05v1.46h-11.05zM75.3 475.67h11.05v1.46h-11.05zM86 406.94h11.05v1.46h-11.05zM86 483.43h11.05v1.46h-11.05zM86 539.97h11.05v1.46h-11.05zM96.7 422.46h11.05v1.46h-11.05zM96.7 429.11h11.05v1.46h-11.05zM96.7 441.3h11.05v1.46h-11.05zM107.4 406.94h11.05v1.46h-11.05zM107.4 424.67h11.05v1.46h-11.05zM107.4 447.95h11.05v1.46h-11.05zM107.4 453.5h11.05v1.46h-11.05zM107.4 506.71h11.05v1.46h-11.05zM118.1 422.46h11.05v1.46h-11.05zM118.1 426.89h11.05v1.46h-11.05zM118.1 452.39h11.05v1.46h-11.05zM118.1 464.58h11.05v1.46h-11.05zM118.1 476.78h11.05v1.46h-11.05zM118.1 520.01h11.05v1.46h-11.05zM118.1 528.88h11.05v1.46h-11.05zM128.8 462.37h11.05v1.46h-11.05zM139.5 522.23h11.05v1.46h-11.05zM150.2 412.48h11.05v1.46h-11.05zM150.2 414.7h11.05v1.46h-11.05zM150.2 424.67h11.05v1.46h-11.05zM150.2 522.23h11.05v1.46h-11.05zM160.9 410.26h11.05v1.46h-11.05zM160.9 462.37h11.05v1.46h-11.05zM160.9 522.23h11.05v1.46h-11.05zM182.3 390.31h10.7v1.46h-10.7zM182.3 395.85h10.7v1.46h-10.7zM182.3 411.37h10.7v1.46h-10.7zM182.3 415.81h10.7v1.46h-10.7zM182.3 423.57h10.7v1.46h-10.7z"/>
<path fill="#b3a7d1" d="M64.6 396.96h11.05v1.46h-11.05zM64.6 406.94h11.05v1.46h-11.05zM64.6 416.91h11.05v2.57h-11.05zM64.6 423.57h11.05v1.46h-11.05zM64.6 435.76h11.05v1.46h-11.05zM75.3 416.91h11.05v1.46h-11.05zM75.3 424.67h11.05v1.46h-11.05zM86 394.74h11.05v1.46h-11.05zM86 396.96h11.05v1.46h-11.05zM86 424.67h11.05v1.46h-11.05zM86 426.89h11.05v1.46h-11.05zM86 429.11h11.05v1.46h-11.05zM96.7 424.67h11.05v1.46h-11.05zM96.7 426.89h11.05v1.46h-11.05zM107.4 416.91h11.05v1.46h-11.05zM107.4 426.89h11.05v1.46h-11.05zM107.4 450.17h11.05v1.46h-11.05zM107.4 454.61h11.05v1.46h-11.05zM107.4 539.97h11.05v1.46h-11.05zM107.4 542.18h11.05v1.46h-11.05zM118.1 454.61h11.05v1.46h-11.05zM118.1 466.8h11.05v1.46h-11.05zM118.1 478.99h11.05v1.46h-11.05zM118.1 532.21h11.05v1.46h-11.05zM139.5 462.37h11.05v1.46h-11.05zM139.5 495.62h11.05v1.46h-11.05zM150.2 400.29h11.05v1.46h-11.05zM150.2 495.62h11.05v1.46h-11.05zM182.3 392.53h10.7v1.46h-10.7zM182.3 401.39h10.7v1.46h-10.7zM182.3 424.67h10.7v2.57h-10.7zM182.3 435.76h10.7v2.57h-10.7zM182.3 522.23h10.7v1.46h-10.7z"/>
<path fill="#9180c0" d="M64.6 398.07h11.05v1.46h-11.05zM64.6 400.29h11.05v1.46h-11.05zM64.6 402.5h11.05v1.46h-11.05zM64.6 405.83h11.05v1.46h-11.05zM64.6 431.33h11.05v1.46h-11.05zM75.3 389.2h11.05v1.46h-11.05zM75.3 391.42h11.05v1.46h-11.05zM75.3 394.74h11.05v1.46h-11.05zM75.3 399.18h11.05v1.46h-11.05zM75.3 404.72h11.05v2.57h-11.05zM75.3 408.05h11.05v1.46h-11.05zM75.3 414.7h11.05v1.46h-11.05zM75.3 420.24h11.05v1.46h-11.05zM75.3 436.87h11.05v2.57h-11.05zM86 390.31h11.05v2.57h-11.05zM86 398.07h11.05v1.46h-11.05zM86 403.61h11.05v1.46h-11.05zM86 408.05h11.05v1.46h-11.05zM86 412.48h11.05v1.46h-11.05zM86 419.13h11.05v1.46h-11.05zM86 437.98h11.05v1.46h-11.05zM86 524.45h11.05v1.46h-11.05zM96.7 399.18h11.05v1.46h-11.05zM96.7 420.24h11.05v2.57h-11.05zM96.7 423.57h11.05v1.46h-11.05zM96.7 430.22h11.05v2.57h-11.05zM96.7 435.76h11.05v1.46h-11.05zM107.4 390.31h11.05v1.46h-11.05zM107.4 392.53h11.05v2.57h-11.05zM107.4 398.07h11.05v1.46h-11.05zM107.4 403.61h11.05v1.46h-11.05zM107.4 405.83h11.05v1.46h-11.05zM107.4 420.24h11.05v1.46h-11.05zM107.4 431.33h11.05v1.46h-11.05zM107.4 433.54h11.05v1.46h-11.05zM107.4 472.34h11.05v1.46h-11.05zM118.1 389.2h11.05v1.46h-11.05zM118.1 392.53h11.05v2.57h-11.05zM118.1 400.29h11.05v2.57h-11.05zM118.1 404.72h11.05v1.46h-11.05zM118.1 408.05h11.05v1.46h-11.05zM118.1 410.26h11.05v1.46h-11.05zM118.1 415.81h11.05v1.46h-11.05zM118.1 434.65h11.05v1.46h-11.05zM118.1 437.98h11.05v1.46h-11.05zM128.8 444.63h11.05v1.46h-11.05zM128.8 449.06h11.05v1.46h-11.05zM128.8 453.5h11.05v1.46h-11.05zM128.8 456.82h11.05v2.57h-11.05zM128.8 466.8h11.05v3.68h-11.05zM128.8 472.34h11.05v1.46h-11.05zM128.8 474.56h11.05v1.46h-11.05zM128.8 477.89h11.05v2.57h-11.05zM128.8 481.21h11.05v1.46h-11.05zM128.8 492.3h11.05v2.57h-11.05zM128.8 501.17h11.05v2.57h-11.05zM128.8 506.71h11.05v1.46h-11.05zM128.8 514.47h11.05v1.46h-11.05zM128.8 517.79h11.05v4.78h-11.05zM128.8 525.55h11.05v1.46h-11.05zM128.8 534.42h11.05v1.46h-11.05zM139.5 441.3h11.05v4.78h-11.05zM139.5 450.17h11.05v1.46h-11.05zM139.5 452.39h11.05v2.57h-11.05zM139.5 455.71h11.05v1.46h-11.05zM139.5 457.93h11.05v1.46h-11.05zM139.5 465.69h11.05v2.57h-11.05zM139.5 473.45h11.05v1.46h-11.05zM139.5 477.89h11.05v1.46h-11.05zM139.5 481.21h11.05v2.57h-11.05zM139.5 487.86h11.05v2.57h-11.05zM139.5 492.3h11.05v1.46h-11.05zM139.5 494.51h11.05v1.46h-11.05zM139.5 506.71h11.05v1.46h-11.05zM139.5 510.03h11.05v1.46h-11.05zM139.5 512.25h11.05v1.46h-11.05zM139.5 528.88h11.05v1.46h-11.05zM139.5 534.42h11.05v1.46h-11.05zM139.5 537.75h11.05v1.46h-11.05zM139.5 542.18h11.05v1.46h-11.05zM150.2 440.19h11.05v2.57h-11.05zM150.2 446.85h11.05v1.46h-11.05zM150.2 455.71h11.05v1.46h-11.05zM150.2 457.93h11.05v1.46h-11.05zM150.2 464.58h11.05v1.46h-11.05zM150.2 469.02h11.05v1.46h-11.05zM150.2 473.45h11.05v1.46h-11.05zM150.2 476.78h11.05v1.46h-11.05zM150.2 487.86h11.05v1.46h-11.05zM150.2 493.41h11.05v1.46h-11.05zM150.2 496.73h11.05v1.46h-11.05zM150.2 498.95h11.05v1.46h-11.05zM150.2 501.17h11.05v1.46h-11.05zM150.2 503.38h11.05v1.46h-11.05zM150.2 506.71h11.05v1.46h-11.05zM150.2 510.03h11.05v1.46h-11.05zM150.2 521.12h11.05v1.46h-11.05zM150.2 534.42h11.05v2.57h-11.05zM150.2 538.86h11.05v1.46h-11.05zM160.9 411.37h11.05v1.46h-11.05zM160.9 450.17h11.05v1.46h-11.05zM160.9 456.82h11.05v1.46h-11.05zM160.9 460.15h11.05v1.46h-11.05zM160.9 465.69h11.05v1.46h-11.05zM160.9 472.34h11.05v1.46h-11.05zM160.9 480.1h11.05v1.46h-11.05zM160.9 492.3h11.05v2.57h-11.05zM160.9 500.06h11.05v1.46h-11.05zM160.9 502.27h11.05v1.46h-11.05zM160.9 511.14h11.05v1.46h-11.05zM160.9 525.55h11.05v1.46h-11.05zM160.9 532.21h11.05v1.46h-11.05zM160.9 541.07h11.05v1.46h-11.05zM171.6 441.3h11.05v1.46h-11.05zM171.6 443.52h11.05v2.57h-11.05zM171.6 446.85h11.05v4.78h-11.05zM171.6 452.39h11.05v1.46h-11.05zM171.6 454.61h11.05v1.46h-11.05zM171.6 456.82h11.05v1.46h-11.05zM171.6 471.23h11.05v1.46h-11.05zM171.6 474.56h11.05v2.57h-11.05zM171.6 477.89h11.05v1.46h-11.05zM171.6 486.75h11.05v1.46h-11.05zM171.6 488.97h11.05v1.46h-11.05zM171.6 491.19h11.05v2.57h-11.05zM171.6 494.51h11.05v1.46h-11.05zM171.6 504.49h11.05v1.46h-11.05zM171.6 506.71h11.05v1.46h-11.05zM171.6 508.93h11.05v1.46h-11.05zM171.6 511.14h11.05v1.46h-11.05zM171.6 513.36h11.05v1.46h-11.05zM171.6 528.88h11.05v1.46h-11.05zM171.6 531.1h11.05v1.46h-11.05zM171.6 535.53h11.05v1.46h-11.05zM171.6 537.75h11.05v1.46h-11.05zM182.3 389.2h10.7v1.46h-10.7zM182.3 419.13h10.7v1.46h-10.7zM182.3 443.52h10.7v2.57h-10.7zM182.3 454.61h10.7v1.46h-10.7zM182.3 464.58h10.7v1.46h-10.7zM182.3 480.1h10.7v2.57h-10.7zM182.3 485.65h10.7v1.46h-10.7zM182.3 491.19h10.7v1.46h-10.7zM182.3 520.01h10.7v1.46h-10.7z"/>
<path fill="#806db8" d="M64.6 404.72h11.05v1.46h-11.05zM75.3 392.53h11.05v1.46h-11.05zM75.3 398.07h11.05v1.46h-11.05zM75.3 421.35h11.05v1.46h-11.05zM75.3 432.43h11.05v1.46h-11.05zM86 415.81h11.05v1.46h-11.05zM86 431.33h11.05v1.46h-11.05zM86 435.76h11.05v1.46h-11.05zM96.7 390.31h11.05v1.46h-11.05zM96.7 394.74h11.05v1.46h-11.05zM96.7 398.07h11.05v1.46h-11.05zM96.7 401.39h11.05v1.46h-11.05zM96.7 403.61h11.05v1.46h-11.05zM96.7 405.83h11.05v1.46h-11.05zM96.7 425.78h11.05v1.46h-11.05zM96.7 433.54h11.05v1.46h-11.05zM96.7 437.98h11.05v1.46h-11.05zM107.4 470.13h11.05v1.46h-11.05zM118.1 395.85h11.05v1.46h-11.05zM128.8 440.19h11.05v1.46h-11.05zM128.8 471.23h11.05v1.46h-11.05zM128.8 473.45h11.05v1.46h-11.05zM128.8 483.43h11.05v1.46h-11.05zM128.8 494.51h11.05v1.46h-11.05zM128.8 504.49h11.05v1.46h-11.05zM128.8 508.93h11.05v2.57h-11.05zM128.8 513.36h11.05v1.46h-11.05zM128.8 515.58h11.05v1.46h-11.05zM128.8 532.21h11.05v1.46h-11.05zM128.8 539.97h11.05v1.46h-11.05zM128.8 543.29h11.05v1.11h-11.05zM139.5 449.06h11.05v1.46h-11.05zM139.5 460.15h11.05v1.46h-11.05zM139.5 472.34h11.05v1.46h-11.05zM139.5 503.38h11.05v1.46h-11.05zM139.5 505.6h11.05v1.46h-11.05zM139.5 507.82h11.05v1.46h-11.05zM139.5 515.58h11.05v3.68h-11.05zM139.5 524.45h11.05v1.46h-11.05zM139.5 533.31h11.05v1.46h-11.05zM139.5 539.97h11.05v1.46h-11.05zM150.2 450.17h11.05v1.46h-11.05zM150.2 459.04h11.05v3.68h-11.05zM150.2 463.47h11.05v1.46h-11.05zM150.2 465.69h11.05v2.57h-11.05zM150.2 471.23h11.05v2.57h-11.05zM150.2 474.56h11.05v1.46h-11.05zM150.2 478.99h11.05v1.46h-11.05zM150.2 483.43h11.05v1.46h-11.05zM150.2 491.19h11.05v1.46h-11.05zM150.2 494.51h11.05v1.46h-11.05zM150.2 502.27h11.05v1.46h-11.05zM150.2 507.82h11.05v2.57h-11.05zM150.2 512.25h11.05v3.68h-11.05zM150.2 517.79h11.05v2.57h-11.05zM150.2 532.21h11.05v1.46h-11.05zM150.2 537.75h11.05v1.46h-11.05zM150.2 539.97h11.05v2.57h-11.05zM150.2 543.29h11.05v1.11h-11.05zM160.9 452.39h11.05v1.46h-11.05zM160.9 455.71h11.05v1.46h-11.05zM160.9 475.67h11.05v1.46h-11.05zM160.9 477.89h11.05v2.57h-11.05zM160.9 484.54h11.05v2.57h-11.05zM160.9 488.97h11.05v1.46h-11.05zM160.9 491.19h11.05v1.46h-11.05zM160.9 494.51h11.05v1.46h-11.05zM160.9 501.17h11.05v1.46h-11.05zM160.9 503.38h11.05v1.46h-11.05zM160.9 512.25h11.05v2.57h-11.05zM160.9 515.58h11.05v1.46h-11.05zM160.9 523.34h11.05v1.46h-11.05zM160.9 526.66h11.05v1.46h-11.05zM160.9 533.31h11.05v1.46h-11.05zM160.9 536.64h11.05v1.46h-11.05zM160.9 538.86h11.05v1.46h-11.05zM160.9 543.29h11.05v1.11h-11.05zM171.6 453.5h11.05v1.46h-11.05zM171.6 461.26h11.05v1.46h-11.05zM171.6 467.91h11.05v1.46h-11.05zM171.6 483.43h11.05v1.46h-11.05zM171.6 490.08h11.05v1.46h-11.05zM171.6 496.73h11.05v2.57h-11.05zM171.6 502.27h11.05v2.57h-11.05zM171.6 505.6h11.05v1.46h-11.05zM171.6 515.58h11.05v2.57h-11.05zM171.6 521.12h11.05v1.46h-11.05zM171.6 523.34h11.05v1.46h-11.05zM171.6 533.31h11.05v1.46h-11.05zM182.3 430.22h10.7v1.46h-10.7zM182.3 445.74h10.7v1.46h-10.7zM182.3 451.28h10.7v1.46h-10.7zM182.3 453.5h10.7v1.46h-10.7zM182.3 455.71h10.7v3.68h-10.7zM182.3 466.8h10.7v1.46h-10.7zM182.3 475.67h10.7v1.46h-10.7zM182.3 477.89h10.7v2.57h-10.7zM182.3 482.32h10.7v1.46h-10.7zM182.3 487.86h10.7v3.68h-10.7zM182.3 492.3h10.7v1.46h-10.7zM182.3 497.84h10.7v1.46h-10.7zM182.3 503.38h10.7v1.46h-10.7zM182.3 506.71h10.7v3.68h-10.7zM182.3 512.25h10.7v1.46h-10.7zM182.3 514.47h10.7v1.46h-10.7zM182.3 517.79h10.7v1.46h-10.7zM182.3 525.55h10.7v1.46h-10.7zM182.3 534.42h10.7v1.46h-10.7zM182.3 537.75h10.7v1.46h-10.7zM182.3 541.07h10.7v1.46h-10.7z"/>
<path fill="#ab9dcd" d="M64.6 412.48h11.05v1.46h-11.05zM64.6 420.24h11.05v1.46h-11.05zM64.6 434.65h11.05v1.46h-11.05zM64.6 436.87h11.05v2.57h-11.05zM75.3 409.15h11.05v1.46h-11.05zM75.3 443.52h11.05v1.46h-11.05zM75.3 476.78h11.05v1.46h-11.05zM86 481.21h11.05v1.46h-11.05zM107.4 394.74h11.05v1.46h-11.05zM107.4 396.96h11.05v1.46h-11.05zM107.4 402.5h11.05v1.46h-11.05zM107.4 413.59h11.05v1.46h-11.05zM107.4 436.87h11.05v1.46h-11.05zM107.4 473.45h11.05v1.46h-11.05zM107.4 492.3h11.05v2.57h-11.05zM107.4 527.77h11.05v1.46h-11.05zM118.1 416.91h11.05v1.46h-11.05zM118.1 453.5h11.05v1.46h-11.05zM118.1 515.58h11.05v1.46h-11.05zM118.1 527.77h11.05v1.46h-11.05zM139.5 446.85h11.05v1.46h-11.05zM139.5 496.73h11.05v1.46h-11.05zM139.5 500.06h11.05v1.46h-11.05zM150.2 411.37h11.05v1.46h-11.05zM150.2 462.37h11.05v1.46h-11.05zM160.9 442.41h11.05v1.46h-11.05zM160.9 454.61h11.05v1.46h-11.05zM160.9 467.91h11.05v1.46h-11.05zM160.9 527.77h11.05v1.46h-11.05zM171.6 462.37h11.05v1.46h-11.05zM171.6 514.47h11.05v1.46h-11.05zM182.3 393.63h10.7v1.46h-10.7zM182.3 400.29h10.7v1.46h-10.7zM182.3 406.94h10.7v1.46h-10.7zM182.3 412.48h10.7v1.46h-10.7zM182.3 416.91h10.7v1.46h-10.7zM182.3 447.95h10.7v1.46h-10.7zM182.3 462.37h10.7v1.46h-10.7z"/>
<path fill="#ded6e6" d="M64.6 422.46h11.05v1.46h-11.05zM64.6 428h11.05v1.46h-11.05zM75.3 453.5h11.05v1.46h-11.05zM75.3 471.23h11.05v1.46h-11.05zM75.3 511.14h11.05v1.46h-11.05zM86 428h11.05v1.46h-11.05zM86 464.58h11.05v1.46h-11.05zM86 478.99h11.05v1.46h-11.05zM86 498.95h11.05v1.46h-11.05zM86 527.77h11.05v1.46h-11.05zM96.7 443.52h11.05v1.46h-11.05zM96.7 532.21h11.05v1.46h-11.05zM107.4 428h11.05v1.46h-11.05zM107.4 445.74h11.05v1.46h-11.05zM107.4 451.28h11.05v1.46h-11.05zM107.4 461.26h11.05v1.46h-11.05zM107.4 465.69h11.05v1.46h-11.05zM107.4 467.91h11.05v1.46h-11.05zM107.4 504.49h11.05v1.46h-11.05zM107.4 524.45h11.05v1.46h-11.05zM107.4 528.88h11.05v1.46h-11.05zM118.1 429.11h11.05v1.46h-11.05zM118.1 455.71h11.05v1.46h-11.05zM118.1 467.91h11.05v1.46h-11.05zM118.1 487.86h11.05v1.46h-11.05zM139.5 401.39h11.05v1.46h-11.05zM150.2 396.96h11.05v1.46h-11.05zM150.2 410.26h11.05v1.46h-11.05zM150.2 420.24h11.05v1.46h-11.05zM150.2 425.78h11.05v1.46h-11.05zM150.2 430.22h11.05v1.46h-11.05zM160.9 406.94h11.05v1.46h-11.05zM160.9 436.87h11.05v1.46h-11.05zM182.3 413.59h10.7v2.57h-10.7zM182.3 418.02h10.7v1.46h-10.7z"/>
<path fill="#c4bada" d="M64.6 424.67h11.05v1.46h-11.05zM64.6 426.89h11.05v1.46h-11.05zM75.3 422.46h11.05v1.46h-11.05zM75.3 429.11h11.05v1.46h-11.05zM75.3 441.3h11.05v1.46h-11.05zM75.3 444.63h11.05v1.46h-11.05zM75.3 446.85h11.05v1.46h-11.05zM75.3 490.08h11.05v1.46h-11.05zM86 525.55h11.05v1.46h-11.05zM107.4 422.46h11.05v1.46h-11.05zM107.4 429.11h11.05v1.46h-11.05zM107.4 491.19h11.05v1.46h-11.05zM107.4 495.62h11.05v2.57h-11.05zM107.4 505.6h11.05v1.46h-11.05zM107.4 543.29h11.05v1.11h-11.05zM118.1 480.1h11.05v1.46h-11.05zM118.1 531.1h11.05v1.46h-11.05zM128.8 522.23h11.05v1.46h-11.05zM150.2 391.42h11.05v1.46h-11.05zM150.2 399.18h11.05v1.46h-11.05zM150.2 419.13h11.05v1.46h-11.05zM160.9 413.59h11.05v1.46h-11.05zM171.6 394.74h11.05v1.46h-11.05zM171.6 522.23h11.05v1.46h-11.05zM182.3 420.24h10.7v1.46h-10.7z"/>
<path fill="#cdc3de" d="M64.6 429.11h11.05v1.46h-11.05zM64.6 524.45h11.05v1.46h-11.05zM64.6 527.77h11.05v2.57h-11.05zM64.6 531.1h11.05v1.46h-11.05zM75.3 428h11.05v1.46h-11.05zM86 422.46h11.05v1.46h-11.05zM86 480.1h11.05v1.46h-11.05zM86 529.99h11.05v2.57h-11.05zM96.7 498.95h11.05v1.46h-11.05zM107.4 446.85h11.05v1.46h-11.05zM107.4 464.58h11.05v1.46h-11.05zM107.4 466.8h11.05v1.46h-11.05zM118.1 424.67h11.05v1.46h-11.05zM118.1 469.02h11.05v2.57h-11.05zM118.1 510.03h11.05v1.46h-11.05zM118.1 514.47h11.05v1.46h-11.05zM128.8 406.94h11.05v1.46h-11.05zM139.5 399.18h11.05v1.46h-11.05zM150.2 398.07h11.05v1.46h-11.05zM150.2 415.81h11.05v1.46h-11.05zM150.2 418.02h11.05v1.46h-11.05zM171.6 395.85h11.05v1.46h-11.05zM182.3 404.72h10.7v1.46h-10.7z"/>
<path fill="#eb8166" d="M64.6 440.19h11.05v1.46h-11.05zM64.6 464.58h11.05v1.46h-11.05zM96.7 508.93h11.05v1.46h-11.05zM128.8 390.31h11.05v1.46h-11.05zM128.8 392.53h11.05v1.46h-11.05zM128.8 429.11h11.05v1.46h-11.05zM139.5 435.76h11.05v1.46h-11.05z"/>
<path fill="#f4d2cb" d="M64.6 441.3h11.05v1.46h-11.05zM64.6 444.63h11.05v1.46h-11.05zM64.6 459.04h11.05v1.46h-11.05zM64.6 465.69h11.05v1.46h-11.05zM64.6 477.89h11.05v1.46h-11.05zM64.6 482.32h11.05v1.46h-11.05zM64.6 486.75h11.05v1.46h-11.05zM64.6 495.62h11.05v1.46h-11.05zM64.6 506.71h11.05v1.46h-11.05zM64.6 520.01h11.05v1.46h-11.05zM75.3 452.39h11.05v1.46h-11.05zM75.3 455.71h11.05v1.46h-11.05zM75.3 461.26h11.05v1.46h-11.05zM75.3 464.58h11.05v1.46h-11.05zM75.3 469.02h11.05v1.46h-11.05zM75.3 473.45h11.05v1.46h-11.05zM75.3 482.32h11.05v1.46h-11.05zM75.3 494.51h11.05v2.57h-11.05zM75.3 527.77h11.05v1.46h-11.05zM86 443.52h11.05v1.46h-11.05zM86 450.17h11.05v1.46h-11.05zM86 460.15h11.05v1.46h-11.05zM86 501.17h11.05v1.46h-11.05zM86 506.71h11.05v1.46h-11.05zM86 532.21h11.05v1.46h-11.05zM96.7 447.95h11.05v1.46h-11.05zM96.7 452.39h11.05v1.46h-11.05zM96.7 457.93h11.05v1.46h-11.05zM96.7 477.89h11.05v1.46h-11.05zM96.7 484.54h11.05v1.46h-11.05zM96.7 492.3h11.05v1.46h-11.05zM96.7 513.36h11.05v1.46h-11.05zM107.4 483.43h11.05v2.57h-11.05zM107.4 525.55h11.05v1.46h-11.05zM118.1 449.06h11.05v1.46h-11.05zM118.1 523.34h11.05v1.46h-11.05zM128.8 400.29h11.05v1.46h-11.05zM128.8 402.5h11.05v1.46h-11.05zM128.8 404.72h11.05v1.46h-11.05zM128.8 411.37h11.05v2.57h-11.05zM128.8 419.13h11.05v1.46h-11.05zM128.8 424.67h11.05v1.46h-11.05zM128.8 435.76h11.05v1.46h-11.05zM128.8 437.98h11.05v1.46h-11.05zM139.5 394.74h11.05v1.46h-11.05zM139.5 398.07h11.05v1.46h-11.05zM139.5 416.91h11.05v1.46h-11.05zM139.5 419.13h11.05v1.46h-11.05zM139.5 433.54h11.05v1.46h-11.05zM139.5 437.98h11.05v2.57h-11.05zM150.2 389.2h11.05v1.46h-11.05zM160.9 399.18h11.05v1.46h-11.05zM160.9 430.22h11.05v1.46h-11.05zM171.6 404.72h11.05v1.46h-11.05zM171.6 414.7h11.05v1.46h-11.05z"/>
<path fill="#f5dbd5" d="M64.6 442.41h11.05v1.46h-11.05zM64.6 471.23h11.05v1.46h-11.05zM64.6 475.67h11.05v1.46h-11.05zM64.6 478.99h11.05v1.46h-11.05zM64.6 487.86h11.05v1.46h-11.05zM64.6 497.84h11.05v1.46h-11.05zM64.6 518.9h11.05v1.46h-11.05zM64.6 535.53h11.05v1.46h-11.05zM75.3 447.95h11.05v1.46h-11.05zM75.3 456.82h11.05v1.46h-11.05zM75.3 507.82h11.05v1.46h-11.05zM75.3 514.47h11.05v1.46h-11.05zM75.3 524.45h11.05v1.46h-11.05zM75.3 536.64h11.05v1.46h-11.05zM86 449.06h11.05v1.46h-11.05zM86 451.28h11.05v1.46h-11.05zM86 453.5h11.05v1.46h-11.05zM86 462.37h11.05v1.46h-11.05zM86 485.65h11.05v1.46h-11.05zM86 510.03h11.05v1.46h-11.05zM86 514.47h11.05v1.46h-11.05zM86 533.31h11.05v1.46h-11.05zM96.7 446.85h11.05v1.46h-11.05zM96.7 478.99h11.05v1.46h-11.05zM96.7 514.47h11.05v1.46h-11.05zM107.4 462.37h11.05v1.46h-11.05zM107.4 482.32h11.05v1.46h-11.05zM107.4 512.25h11.05v1.46h-11.05zM107.4 514.47h11.05v2.57h-11.05zM107.4 537.75h11.05v1.46h-11.05zM118.1 440.19h11.05v1.46h-11.05zM118.1 501.17h11.05v1.46h-11.05zM118.1 536.64h11.05v1.46h-11.05zM128.8 433.54h11.05v1.46h-11.05zM139.5 395.85h11.05v1.46h-11.05zM139.5 402.5h11.05v1.46h-11.05zM139.5 426.89h11.05v1.46h-11.05zM139.5 431.33h11.05v1.46h-11.05zM150.2 409.15h11.05v1.46h-11.05zM150.2 426.89h11.05v1.46h-11.05zM160.9 396.96h11.05v1.46h-11.05zM160.9 415.81h11.05v1.46h-11.05zM171.6 402.5h11.05v1.46h-11.05z"/>
<path fill="#f7ebe9" d="M64.6 443.52h11.05v1.46h-11.05zM64.6 454.61h11.05v1.46h-11.05zM64.6 469.02h11.05v1.46h-11.05zM64.6 514.47h11.05v1.46h-11.05zM64.6 534.42h11.05v1.46h-11.05zM75.3 472.34h11.05v1.46h-11.05zM75.3 477.89h11.05v1.46h-11.05zM75.3 516.69h11.05v1.46h-11.05zM75.3 532.21h11.05v1.46h-11.05zM86 446.85h11.05v1.46h-11.05zM86 463.47h11.05v1.46h-11.05zM86 474.56h11.05v1.46h-11.05zM86 477.89h11.05v1.46h-11.05zM86 488.97h11.05v1.46h-11.05zM86 494.51h11.05v1.46h-11.05zM86 500.06h11.05v1.46h-11.05zM86 502.27h11.05v1.46h-11.05zM86 520.01h11.05v2.57h-11.05zM86 526.66h11.05v1.46h-11.05zM86 542.18h11.05v1.46h-11.05zM96.7 453.5h11.05v1.46h-11.05zM96.7 471.23h11.05v1.46h-11.05zM96.7 486.75h11.05v1.46h-11.05zM96.7 488.97h11.05v1.46h-11.05zM96.7 502.27h11.05v1.46h-11.05zM96.7 523.34h11.05v1.46h-11.05zM107.4 455.71h11.05v1.46h-11.05zM107.4 460.15h11.05v1.46h-11.05zM107.4 463.47h11.05v1.46h-11.05zM107.4 481.21h11.05v1.46h-11.05zM107.4 486.75h11.05v1.46h-11.05zM107.4 517.79h11.05v1.46h-11.05zM107.4 531.1h11.05v1.46h-11.05zM118.1 442.41h11.05v3.68h-11.05zM118.1 457.93h11.05v1.46h-11.05zM118.1 463.47h11.05v1.46h-11.05zM118.1 483.43h11.05v1.46h-11.05zM118.1 485.65h11.05v1.46h-11.05zM118.1 491.19h11.05v2.57h-11.05zM139.5 425.78h11.05v1.46h-11.05zM150.2 392.53h11.05v1.46h-11.05zM160.9 398.07h11.05v1.46h-11.05zM160.9 437.98h11.05v1.46h-11.05zM171.6 396.96h11.05v1.46h-11.05zM171.6 399.18h11.05v1.46h-11.05zM171.6 411.37h11.05v1.46h-11.05zM171.6 420.24h11.05v1.46h-11.05zM171.6 430.22h11.05v1.46h-11.05zM171.6 434.65h11.05v2.57h-11.05zM182.3 408.05h10.7v1.46h-10.7zM182.3 410.26h10.7v1.46h-10.7zM182.3 439.09h10.7v1.46h-10.7z"/>
<path fill="#ea7152" d="M64.6 445.74h11.05v1.46h-11.05zM64.6 541.07h11.05v1.46h-11.05zM75.3 501.17h11.05v1.46h-11.05zM128.8 391.42h11.05v1.46h-11.05zM128.8 418.02h11.05v1.46h-11.05zM128.8 430.22h11.05v1.46h-11.05z"/>
<path fill="#e8603e" d="M64.6 446.85h11.05v1.46h-11.05zM64.6 510.03h11.05v1.46h-11.05zM96.7 536.64h11.05v1.46h-11.05zM128.8 395.85h11.05v1.46h-11.05zM128.8 421.35h11.05v1.46h-11.05z"/>
<path fill="#ed917a" d="M64.6 447.95h11.05v1.46h-11.05zM64.6 539.97h11.05v1.46h-11.05zM75.3 451.28h11.05v1.46h-11.05zM75.3 462.37h11.05v1.46h-11.05zM86 442.41h11.05v1.46h-11.05zM96.7 473.45h11.05v1.46h-11.05zM96.7 475.67h11.05v1.46h-11.05zM96.7 481.21h11.05v1.46h-11.05zM96.7 517.79h11.05v1.46h-11.05zM96.7 535.53h11.05v1.46h-11.05zM128.8 426.89h11.05v1.46h-11.05zM150.2 435.76h11.05v1.46h-11.05zM171.6 425.78h11.05v1.46h-11.05z"/>
<path fill="#e6502a" d="M64.6 449.06h11.05v1.46h-11.05zM128.8 394.74h11.05v1.46h-11.05z"/>
<path fill="#ec8970" d="M64.6 450.17h11.05v1.46h-11.05zM64.6 503.38h11.05v1.46h-11.05zM64.6 522.23h11.05v1.46h-11.05zM75.3 502.27h11.05v1.46h-11.05zM86 504.49h11.05v1.46h-11.05zM96.7 462.37h11.05v1.46h-11.05zM160.9 423.57h11.05v1.46h-11.05zM160.9 433.54h11.05v1.46h-11.05zM171.6 426.89h11.05v2.57h-11.05zM171.6 439.09h11.05v1.46h-11.05z"/>
<path fill="#f2baad" d="M64.6 451.28h11.05v1.46h-11.05zM64.6 457.93h11.05v1.46h-11.05zM64.6 472.34h11.05v1.46h-11.05zM64.6 488.97h11.05v1.46h-11.05zM64.6 492.3h11.05v1.46h-11.05zM75.3 457.93h11.05v1.46h-11.05zM75.3 485.65h11.05v1.46h-11.05zM75.3 498.95h11.05v1.46h-11.05zM75.3 506.71h11.05v1.46h-11.05zM75.3 515.58h11.05v1.46h-11.05zM75.3 518.9h11.05v1.46h-11.05zM86 440.19h11.05v1.46h-11.05zM86 471.23h11.05v2.57h-11.05zM86 496.73h11.05v1.46h-11.05zM96.7 449.06h11.05v1.46h-11.05zM96.7 465.69h11.05v2.57h-11.05zM96.7 515.58h11.05v1.46h-11.05zM96.7 518.9h11.05v1.46h-11.05zM107.4 457.93h11.05v1.46h-11.05zM107.4 488.97h11.05v1.46h-11.05zM118.1 500.06h11.05v1.46h-11.05zM118.1 543.29h11.05v1.11h-11.05zM128.8 399.18h11.05v1.46h-11.05zM128.8 408.05h11.05v1.46h-11.05zM128.8 410.26h11.05v1.46h-11.05zM128.8 413.59h11.05v1.46h-11.05zM128.8 415.81h11.05v1.46h-11.05zM128.8 425.78h11.05v1.46h-11.05zM128.8 431.33h11.05v1.46h-11.05zM139.5 389.2h11.05v1.46h-11.05zM139.5 415.81h11.05v1.46h-11.05zM139.5 420.24h11.05v1.46h-11.05zM150.2 436.87h11.05v1.46h-11.05zM150.2 439.09h11.05v1.46h-11.05zM160.9 403.61h11.05v1.46h-11.05zM160.9 420.24h11.05v1.46h-11.05zM171.6 415.81h11.05v1.46h-11.05zM171.6 424.67h11.05v1.46h-11.05zM171.6 431.33h11.05v1.46h-11.05zM171.6 437.98h11.05v1.46h-11.05z"/>
<path fill="#efa28e" d="M64.6 452.39h11.05v1.46h-11.05zM64.6 490.08h11.05v1.46h-11.05zM64.6 501.17h11.05v1.46h-11.05zM64.6 508.93h11.05v1.46h-11.05zM64.6 538.86h11.05v1.46h-11.05zM75.3 459.04h11.05v1.46h-11.05zM75.3 466.8h11.05v1.46h-11.05zM75.3 541.07h11.05v1.46h-11.05zM86 505.6h11.05v1.46h-11.05zM96.7 464.58h11.05v1.46h-11.05zM96.7 534.42h11.05v1.46h-11.05zM96.7 539.97h11.05v1.46h-11.05zM118.1 472.34h11.05v1.46h-11.05zM128.8 396.96h11.05v1.46h-11.05zM128.8 416.91h11.05v1.46h-11.05zM128.8 420.24h11.05v1.46h-11.05zM128.8 432.43h11.05v1.46h-11.05zM139.5 408.05h11.05v1.46h-11.05zM139.5 422.46h11.05v1.46h-11.05zM160.9 391.42h11.05v1.46h-11.05zM160.9 422.46h11.05v1.46h-11.05zM171.6 401.39h11.05v1.46h-11.05z"/>
<path fill="#f8f3f3" d="M64.6 453.5h11.05v1.46h-11.05zM64.6 455.71h11.05v1.46h-11.05zM64.6 467.91h11.05v1.46h-11.05zM64.6 474.56h11.05v1.46h-11.05zM64.6 485.65h11.05v1.46h-11.05zM64.6 526.66h11.05v1.46h-11.05zM75.3 449.06h11.05v1.46h-11.05zM75.3 454.61h11.05v1.46h-11.05zM75.3 470.13h11.05v1.46h-11.05zM75.3 480.1h11.05v1.46h-11.05zM75.3 487.86h11.05v2.57h-11.05zM75.3 508.93h11.05v1.46h-11.05zM75.3 531.1h11.05v1.46h-11.05zM86 492.3h11.05v1.46h-11.05zM86 511.14h11.05v3.68h-11.05zM86 537.75h11.05v1.46h-11.05zM86 541.07h11.05v1.46h-11.05zM96.7 444.63h11.05v1.46h-11.05zM96.7 485.65h11.05v1.46h-11.05zM96.7 500.06h11.05v1.46h-11.05zM96.7 503.38h11.05v1.46h-11.05zM96.7 533.31h11.05v1.46h-11.05zM107.4 440.19h11.05v1.46h-11.05zM107.4 444.63h11.05v1.46h-11.05zM107.4 498.95h11.05v1.46h-11.05zM107.4 502.27h11.05v1.46h-11.05zM107.4 510.03h11.05v1.46h-11.05zM107.4 513.36h11.05v1.46h-11.05zM107.4 516.69h11.05v1.46h-11.05zM107.4 521.12h11.05v1.46h-11.05zM107.4 529.99h11.05v1.46h-11.05zM107.4 532.21h11.05v1.46h-11.05zM118.1 450.17h11.05v2.57h-11.05zM118.1 456.82h11.05v1.46h-11.05zM118.1 481.21h11.05v1.46h-11.05zM118.1 495.62h11.05v1.46h-11.05zM118.1 498.95h11.05v1.46h-11.05zM118.1 522.23h11.05v1.46h-11.05zM118.1 534.42h11.05v1.46h-11.05zM128.8 405.83h11.05v1.46h-11.05zM128.8 434.65h11.05v1.46h-11.05zM139.5 391.42h11.05v1.46h-11.05zM139.5 406.94h11.05v1.46h-11.05zM150.2 393.63h11.05v1.46h-11.05zM150.2 395.85h11.05v1.46h-11.05zM150.2 431.33h11.05v1.46h-11.05zM160.9 389.2h11.05v1.46h-11.05zM160.9 400.29h11.05v1.46h-11.05zM160.9 405.83h11.05v1.46h-11.05zM160.9 429.11h11.05v1.46h-11.05zM160.9 435.76h11.05v1.46h-11.05zM171.6 403.61h11.05v1.46h-11.05zM171.6 406.94h11.05v1.46h-11.05zM182.3 421.35h10.7v1.46h-10.7z"/>
<path fill="#f4cac1" d="M64.6 456.82h11.05v1.46h-11.05zM64.6 483.43h11.05v1.46h-11.05zM64.6 515.58h11.05v2.57h-11.05zM64.6 536.64h11.05v1.46h-11.05zM75.3 463.47h11.05v1.46h-11.05zM75.3 497.84h11.05v1.46h-11.05zM75.3 510.03h11.05v1.46h-11.05zM75.3 512.25h11.05v1.46h-11.05zM86 445.74h11.05v1.46h-11.05zM86 457.93h11.05v1.46h-11.05zM86 461.26h11.05v1.46h-11.05zM86 508.93h11.05v1.46h-11.05zM86 534.42h11.05v2.57h-11.05zM96.7 450.17h11.05v2.57h-11.05zM96.7 455.71h11.05v1.46h-11.05zM96.7 467.91h11.05v1.46h-11.05zM96.7 512.25h11.05v1.46h-11.05zM96.7 520.01h11.05v1.46h-11.05zM96.7 542.18h11.05v1.46h-11.05zM107.4 478.99h11.05v2.57h-11.05zM107.4 485.65h11.05v1.46h-11.05zM107.4 500.06h11.05v2.57h-11.05zM118.1 441.3h11.05v1.46h-11.05zM118.1 446.85h11.05v1.46h-11.05zM118.1 474.56h11.05v1.46h-11.05zM118.1 496.73h11.05v1.46h-11.05zM118.1 503.38h11.05v1.46h-11.05zM118.1 524.45h11.05v1.46h-11.05zM128.8 401.39h11.05v1.46h-11.05zM128.8 409.15h11.05v1.46h-11.05zM139.5 392.53h11.05v1.46h-11.05zM150.2 421.35h11.05v1.46h-11.05zM160.9 434.65h11.05v1.46h-11.05zM171.6 432.43h11.05v1.46h-11.05z"/>
<path fill="#f1b2a3" d="M64.6 460.15h11.05v2.57h-11.05zM64.6 504.49h11.05v1.46h-11.05zM75.3 460.15h11.05v1.46h-11.05zM75.3 496.73h11.05v1.46h-11.05zM75.3 503.38h11.05v1.46h-11.05zM75.3 517.79h11.05v1.46h-11.05zM75.3 528.88h11.05v1.46h-11.05zM75.3 542.18h11.05v1.46h-11.05zM86 465.69h11.05v1.46h-11.05zM86 515.58h11.05v1.46h-11.05zM96.7 476.78h11.05v1.46h-11.05zM96.7 483.43h11.05v1.46h-11.05zM96.7 516.69h11.05v1.46h-11.05zM96.7 521.12h11.05v2.57h-11.05zM107.4 534.42h11.05v1.46h-11.05zM118.1 505.6h11.05v1.46h-11.05zM118.1 541.07h11.05v1.46h-11.05zM139.5 393.63h11.05v1.46h-11.05zM150.2 422.46h11.05v1.46h-11.05zM160.9 390.31h11.05v1.46h-11.05zM160.9 394.74h11.05v2.57h-11.05zM160.9 416.91h11.05v1.46h-11.05zM160.9 432.43h11.05v1.46h-11.05zM171.6 389.2h11.05v1.46h-11.05zM171.6 392.53h11.05v1.46h-11.05zM171.6 421.35h11.05v3.68h-11.05z"/>
<path fill="#e96848" d="M64.6 462.37h11.05v1.46h-11.05zM128.8 393.63h11.05v1.46h-11.05z"/>
<path fill="#f0aa99" d="M64.6 463.47h11.05v1.46h-11.05zM64.6 496.73h11.05v1.46h-11.05zM64.6 498.95h11.05v1.46h-11.05zM64.6 507.82h11.05v1.46h-11.05zM64.6 512.25h11.05v1.46h-11.05zM64.6 517.79h11.05v1.46h-11.05zM64.6 521.12h11.05v1.46h-11.05zM64.6 543.29h11.05v1.11h-11.05zM75.3 450.17h11.05v1.46h-11.05zM75.3 467.91h11.05v1.46h-11.05zM75.3 478.99h11.05v1.46h-11.05zM75.3 493.41h11.05v1.46h-11.05zM75.3 504.49h11.05v1.46h-11.05zM75.3 522.23h11.05v1.46h-11.05zM75.3 525.55h11.05v1.46h-11.05zM75.3 543.29h11.05v1.11h-11.05zM86 441.3h11.05v1.46h-11.05zM86 444.63h11.05v1.46h-11.05zM86 467.91h11.05v2.57h-11.05zM86 495.62h11.05v1.46h-11.05zM86 507.82h11.05v1.46h-11.05zM86 516.69h11.05v1.46h-11.05zM96.7 463.47h11.05v1.46h-11.05zM96.7 538.86h11.05v1.46h-11.05zM107.4 535.53h11.05v1.46h-11.05zM118.1 504.49h11.05v1.46h-11.05zM128.8 403.61h11.05v1.46h-11.05zM139.5 412.48h11.05v1.46h-11.05zM139.5 414.7h11.05v1.46h-11.05zM139.5 421.35h11.05v1.46h-11.05zM150.2 433.54h11.05v1.46h-11.05zM150.2 437.98h11.05v1.46h-11.05zM160.9 392.53h11.05v2.57h-11.05zM160.9 418.02h11.05v2.57h-11.05zM171.6 429.11h11.05v1.46h-11.05z"/>
<path fill="#f6e3df" d="M64.6 466.8h11.05v1.46h-11.05zM64.6 481.21h11.05v1.46h-11.05zM64.6 484.54h11.05v1.46h-11.05zM64.6 494.51h11.05v1.46h-11.05zM64.6 502.27h11.05v1.46h-11.05zM64.6 513.36h11.05v1.46h-11.05zM64.6 537.75h11.05v1.46h-11.05zM75.3 474.56h11.05v1.46h-11.05zM75.3 505.6h11.05v1.46h-11.05zM75.3 513.36h11.05v1.46h-11.05zM75.3 529.99h11.05v1.46h-11.05zM86 447.95h11.05v1.46h-11.05zM86 466.8h11.05v1.46h-11.05zM86 487.86h11.05v1.46h-11.05zM86 517.79h11.05v2.57h-11.05zM86 536.64h11.05v1.46h-11.05zM86 538.86h11.05v1.46h-11.05zM96.7 445.74h11.05v1.46h-11.05zM96.7 460.15h11.05v1.46h-11.05zM96.7 480.1h11.05v1.46h-11.05zM96.7 490.08h11.05v1.46h-11.05zM96.7 495.62h11.05v1.46h-11.05zM96.7 501.17h11.05v1.46h-11.05zM96.7 505.6h11.05v1.46h-11.05zM96.7 526.66h11.05v1.46h-11.05zM96.7 528.88h11.05v2.57h-11.05zM107.4 442.41h11.05v1.46h-11.05zM107.4 536.64h11.05v1.46h-11.05zM118.1 445.74h11.05v1.46h-11.05zM118.1 484.54h11.05v1.46h-11.05zM118.1 493.41h11.05v2.57h-11.05zM118.1 506.71h11.05v1.46h-11.05zM118.1 535.53h11.05v1.46h-11.05zM118.1 542.18h11.05v1.46h-11.05zM139.5 390.31h11.05v1.46h-11.05zM139.5 396.96h11.05v1.46h-11.05zM139.5 404.72h11.05v1.46h-11.05zM139.5 423.57h11.05v1.46h-11.05zM139.5 430.22h11.05v1.46h-11.05zM139.5 432.43h11.05v1.46h-11.05zM150.2 413.59h11.05v1.46h-11.05zM160.9 439.09h11.05v1.46h-11.05zM171.6 398.07h11.05v1.46h-11.05zM171.6 412.48h11.05v1.46h-11.05zM171.6 433.54h11.05v1.46h-11.05zM182.3 409.15h10.7v1.46h-10.7z"/>
<path fill="#efe9ef" d="M64.6 470.13h11.05v1.46h-11.05zM64.6 480.1h11.05v1.46h-11.05zM64.6 523.34h11.05v1.46h-11.05zM64.6 525.55h11.05v1.46h-11.05zM75.3 440.19h11.05v1.46h-11.05zM75.3 481.21h11.05v1.46h-11.05zM75.3 533.31h11.05v3.68h-11.05zM86 486.75h11.05v1.46h-11.05zM86 490.08h11.05v1.46h-11.05zM86 528.88h11.05v1.46h-11.05zM96.7 491.19h11.05v1.46h-11.05zM96.7 493.41h11.05v2.57h-11.05zM96.7 506.71h11.05v1.46h-11.05zM96.7 524.45h11.05v1.46h-11.05zM96.7 531.1h11.05v1.46h-11.05zM96.7 543.29h11.05v1.11h-11.05zM107.4 443.52h11.05v1.46h-11.05zM107.4 456.82h11.05v1.46h-11.05zM107.4 490.08h11.05v1.46h-11.05zM107.4 497.84h11.05v1.46h-11.05zM107.4 511.14h11.05v1.46h-11.05zM107.4 541.07h11.05v1.46h-11.05zM118.1 447.95h11.05v1.46h-11.05zM118.1 475.67h11.05v1.46h-11.05zM118.1 477.89h11.05v1.46h-11.05zM118.1 482.32h11.05v1.46h-11.05zM118.1 507.82h11.05v1.46h-11.05zM118.1 516.69h11.05v1.46h-11.05zM118.1 521.12h11.05v1.46h-11.05zM118.1 525.55h11.05v1.46h-11.05zM118.1 537.75h11.05v1.46h-11.05zM118.1 539.97h11.05v1.46h-11.05zM128.8 436.87h11.05v1.46h-11.05zM139.5 400.29h11.05v1.46h-11.05zM150.2 404.72h11.05v1.46h-11.05zM150.2 406.94h11.05v1.46h-11.05zM150.2 428h11.05v1.46h-11.05zM150.2 432.43h11.05v1.46h-11.05zM160.9 414.7h11.05v1.46h-11.05zM160.9 425.78h11.05v1.46h-11.05zM171.6 393.63h11.05v1.46h-11.05zM171.6 408.05h11.05v1.46h-11.05zM171.6 419.13h11.05v1.46h-11.05z"/>
<path fill="#f3c2b7" d="M64.6 473.45h11.05v1.46h-11.05zM64.6 493.41h11.05v1.46h-11.05zM64.6 542.18h11.05v1.46h-11.05zM75.3 492.3h11.05v1.46h-11.05zM75.3 521.12h11.05v1.46h-11.05zM75.3 526.66h11.05v1.46h-11.05zM75.3 537.75h11.05v1.46h-11.05zM86 459.04h11.05v1.46h-11.05zM86 470.13h11.05v1.46h-11.05zM86 473.45h11.05v1.46h-11.05zM86 503.38h11.05v1.46h-11.05zM96.7 459.04h11.05v1.46h-11.05zM96.7 469.02h11.05v1.46h-11.05zM96.7 472.34h11.05v1.46h-11.05zM96.7 507.82h11.05v1.46h-11.05zM96.7 510.03h11.05v2.57h-11.05zM107.4 459.04h11.05v1.46h-11.05zM107.4 487.86h11.05v1.46h-11.05zM107.4 523.34h11.05v1.46h-11.05zM107.4 533.31h11.05v1.46h-11.05zM118.1 497.84h11.05v1.46h-11.05zM118.1 502.27h11.05v1.46h-11.05zM128.8 439.09h11.05v1.46h-11.05zM139.5 409.15h11.05v3.68h-11.05zM139.5 434.65h11.05v1.46h-11.05zM139.5 436.87h11.05v1.46h-11.05zM150.2 408.05h11.05v1.46h-11.05zM150.2 423.57h11.05v1.46h-11.05zM160.9 401.39h11.05v2.57h-11.05zM160.9 431.33h11.05v1.46h-11.05zM171.6 390.31h11.05v1.46h-11.05zM171.6 400.29h11.05v1.46h-11.05zM171.6 409.15h11.05v2.57h-11.05zM171.6 416.91h11.05v2.57h-11.05zM171.6 436.87h11.05v1.46h-11.05z"/>
<path fill="#e7e0ea" d="M64.6 476.78h11.05v1.46h-11.05zM64.6 532.21h11.05v2.57h-11.05zM75.3 483.43h11.05v1.46h-11.05zM75.3 486.75h11.05v1.46h-11.05zM75.3 491.19h11.05v1.46h-11.05zM75.3 538.86h11.05v1.46h-11.05zM86 454.61h11.05v3.68h-11.05zM86 484.54h11.05v1.46h-11.05zM86 491.19h11.05v1.46h-11.05zM86 522.23h11.05v1.46h-11.05zM96.7 440.19h11.05v1.46h-11.05zM96.7 442.41h11.05v1.46h-11.05zM96.7 454.61h11.05v1.46h-11.05zM96.7 456.82h11.05v1.46h-11.05zM96.7 470.13h11.05v1.46h-11.05zM96.7 487.86h11.05v1.46h-11.05zM96.7 496.73h11.05v1.46h-11.05zM96.7 525.55h11.05v1.46h-11.05zM96.7 527.77h11.05v1.46h-11.05zM107.4 441.3h11.05v1.46h-11.05zM107.4 522.23h11.05v1.46h-11.05zM118.1 460.15h11.05v2.57h-11.05zM118.1 471.23h11.05v1.46h-11.05zM118.1 490.08h11.05v1.46h-11.05zM118.1 538.86h11.05v1.46h-11.05zM139.5 405.83h11.05v1.46h-11.05zM139.5 428h11.05v1.46h-11.05zM150.2 390.31h11.05v1.46h-11.05zM150.2 394.74h11.05v1.46h-11.05zM150.2 401.39h11.05v1.46h-11.05zM150.2 403.61h11.05v1.46h-11.05zM150.2 405.83h11.05v1.46h-11.05zM160.9 404.72h11.05v1.46h-11.05zM160.9 426.89h11.05v1.46h-11.05zM171.6 391.42h11.05v1.46h-11.05zM182.3 422.46h10.7v1.46h-10.7z"/>
<path fill="#e75834" d="M64.6 491.19h11.05v1.46h-11.05zM75.3 465.69h11.05v1.46h-11.05zM139.5 413.59h11.05v1.46h-11.05z"/>
<path fill="#ee9984" d="M64.6 500.06h11.05v1.46h-11.05zM64.6 505.6h11.05v1.46h-11.05zM64.6 511.14h11.05v1.46h-11.05zM75.3 523.34h11.05v1.46h-11.05zM96.7 461.26h11.05v1.46h-11.05zM96.7 474.56h11.05v1.46h-11.05zM96.7 482.32h11.05v1.46h-11.05zM96.7 504.49h11.05v1.46h-11.05zM96.7 537.75h11.05v1.46h-11.05zM96.7 541.07h11.05v1.46h-11.05zM118.1 473.45h11.05v1.46h-11.05zM128.8 389.2h11.05v1.46h-11.05zM128.8 414.7h11.05v1.46h-11.05zM128.8 423.57h11.05v1.46h-11.05zM128.8 428h11.05v1.46h-11.05zM139.5 418.02h11.05v1.46h-11.05zM160.9 421.35h11.05v1.46h-11.05zM160.9 424.67h11.05v1.46h-11.05z"/>
<path fill="#d6cde2" d="M64.6 529.99h11.05v1.46h-11.05zM75.3 442.41h11.05v1.46h-11.05zM75.3 484.54h11.05v1.46h-11.05zM75.3 520.01h11.05v1.46h-11.05zM75.3 539.97h11.05v1.46h-11.05zM86 452.39h11.05v1.46h-11.05zM86 476.78h11.05v1.46h-11.05zM86 482.32h11.05v1.46h-11.05zM86 493.41h11.05v1.46h-11.05zM86 497.84h11.05v1.46h-11.05zM86 523.34h11.05v1.46h-11.05zM86 543.29h11.05v1.11h-11.05zM96.7 428h11.05v1.46h-11.05zM96.7 497.84h11.05v1.46h-11.05zM107.4 452.39h11.05v1.46h-11.05zM107.4 476.78h11.05v2.57h-11.05zM107.4 503.38h11.05v1.46h-11.05zM107.4 526.66h11.05v1.46h-11.05zM107.4 538.86h11.05v1.46h-11.05zM118.1 428h11.05v1.46h-11.05zM118.1 459.04h11.05v1.46h-11.05zM118.1 462.37h11.05v1.46h-11.05zM118.1 465.69h11.05v1.46h-11.05zM118.1 486.75h11.05v1.46h-11.05zM118.1 488.97h11.05v1.46h-11.05zM118.1 508.93h11.05v1.46h-11.05zM118.1 511.14h11.05v2.57h-11.05zM118.1 517.79h11.05v1.46h-11.05zM118.1 526.66h11.05v1.46h-11.05zM139.5 403.61h11.05v1.46h-11.05zM139.5 424.67h11.05v1.46h-11.05zM139.5 429.11h11.05v1.46h-11.05zM150.2 402.5h11.05v1.46h-11.05zM150.2 429.11h11.05v1.46h-11.05zM160.9 428h11.05v1.46h-11.05zM171.6 405.83h11.05v1.46h-11.05zM182.3 394.74h10.7v1.46h-10.7zM182.3 396.96h10.7v2.57h-10.7zM182.3 405.83h10.7v1.46h-10.7zM182.3 437.98h10.7v1.46h-10.7z"/>
<path fill="#7764b3" d="M75.3 390.31h11.05v1.46h-11.05zM75.3 400.29h11.05v1.46h-11.05zM75.3 431.33h11.05v1.46h-11.05zM75.3 434.65h11.05v1.46h-11.05zM86 420.24h11.05v2.57h-11.05zM86 430.22h11.05v1.46h-11.05zM86 432.43h11.05v3.68h-11.05zM86 439.09h11.05v1.46h-11.05zM96.7 391.42h11.05v3.68h-11.05zM96.7 395.85h11.05v1.46h-11.05zM96.7 404.72h11.05v1.46h-11.05zM96.7 412.48h11.05v2.57h-11.05zM96.7 415.81h11.05v1.46h-11.05zM118.1 439.09h11.05v1.46h-11.05zM128.8 441.3h11.05v1.46h-11.05zM128.8 486.75h11.05v1.46h-11.05zM128.8 526.66h11.05v1.46h-11.05zM128.8 533.31h11.05v1.46h-11.05zM139.5 445.74h11.05v1.46h-11.05zM139.5 459.04h11.05v1.46h-11.05zM139.5 463.47h11.05v1.46h-11.05zM139.5 483.43h11.05v1.46h-11.05zM139.5 508.93h11.05v1.46h-11.05zM139.5 518.9h11.05v1.46h-11.05zM139.5 523.34h11.05v1.46h-11.05zM139.5 529.99h11.05v1.46h-11.05zM150.2 445.74h11.05v1.46h-11.05zM150.2 452.39h11.05v2.57h-11.05zM150.2 475.67h11.05v1.46h-11.05zM150.2 477.89h11.05v1.46h-11.05zM150.2 486.75h11.05v1.46h-11.05zM150.2 488.97h11.05v1.46h-11.05zM150.2 500.06h11.05v1.46h-11.05zM150.2 524.45h11.05v2.57h-11.05zM160.9 449.06h11.05v1.46h-11.05zM160.9 463.47h11.05v1.46h-11.05zM171.6 460.15h11.05v1.46h-11.05zM171.6 465.69h11.05v1.46h-11.05zM171.6 529.99h11.05v1.46h-11.05zM182.3 440.19h10.7v1.46h-10.7zM182.3 460.15h10.7v1.46h-10.7zM182.3 465.69h10.7v1.46h-10.7zM182.3 467.91h10.7v1.46h-10.7zM182.3 470.13h10.7v2.57h-10.7zM182.3 474.56h10.7v1.46h-10.7zM182.3 483.43h10.7v1.46h-10.7zM182.3 500.06h10.7v1.46h-10.7zM182.3 504.49h10.7v2.57h-10.7zM182.3 513.36h10.7v1.46h-10.7zM182.3 516.69h10.7v1.46h-10.7zM182.3 524.45h10.7v1.46h-10.7zM182.3 531.1h10.7v1.46h-10.7zM182.3 535.53h10.7v1.46h-10.7zM182.3 543.29h10.7v1.11h-10.7z"/>
<path fill="#6651ab" d="M75.3 439.09h11.05v1.46h-11.05zM96.7 400.29h11.05v1.46h-11.05zM96.7 439.09h11.05v1.46h-11.05zM139.5 526.66h11.05v1.46h-11.05zM150.2 449.06h11.05v1.46h-11.05zM150.2 516.69h11.05v1.46h-11.05zM160.9 490.08h11.05v1.46h-11.05zM182.3 429.11h10.7v1.46h-10.7zM182.3 486.75h10.7v1.46h-10.7zM182.3 494.51h10.7v1.46h-10.7zM182.3 496.73h10.7v1.46h-10.7zM182.3 515.58h10.7v1.46h-10.7zM182.3 526.66h10.7v1.46h-10.7z"/>
<path fill="#ea795c" d="M75.3 500.06h11.05v1.46h-11.05zM128.8 398.07h11.05v1.46h-11.05zM128.8 422.46h11.05v1.46h-11.05zM150.2 434.65h11.05v1.46h-11.05zM171.6 413.59h11.05v1.46h-11.05z"/>
<path fill="#6e5aaf" d="M96.7 410.26h11.05v1.46h-11.05zM150.2 490.08h11.05v1.46h-11.05zM150.2 515.58h11.05v1.46h-11.05zM150.2 526.66h11.05v1.46h-11.05zM150.2 533.31h11.05v1.46h-11.05zM160.9 483.43h11.05v1.46h-11.05zM160.9 486.75h11.05v1.46h-11.05zM160.9 497.84h11.05v1.46h-11.05zM171.6 455.71h11.05v1.46h-11.05zM171.6 463.47h11.05v1.46h-11.05zM171.6 517.79h11.05v1.46h-11.05zM171.6 526.66h11.05v1.46h-11.05zM182.3 441.3h10.7v1.46h-10.7zM182.3 459.04h10.7v1.46h-10.7zM182.3 461.26h10.7v1.46h-10.7zM182.3 463.47h10.7v1.46h-10.7zM182.3 469.02h10.7v1.46h-10.7zM182.3 473.45h10.7v1.46h-10.7zM182.3 529.99h10.7v1.46h-10.7zM182.3 533.31h10.7v1.46h-10.7zM182.3 536.64h10.7v1.46h-10.7zM182.3 539.97h10.7v1.46h-10.7z"/>
<path d="M91.35 389.2V381.4M102.05 389.2V381.4M91.35 381.4H102.05M112.75 389.2V380.5M123.45 389.2V380.5M112.75 380.5H123.45M80.65 389.2V378.3M96.7 381.4V378.3M118.1 380.5V378.3M80.65 378.3H118.1M69.95 389.2V376.4M103.7 378.3V376.4M69.95 376.4H103.7M144.85 389.2V382.3M155.55 389.2V382.3M144.85 382.3H155.55M166.25 389.2V381.2M176.95 389.2V381.2M166.25 381.2H176.95M171.6 381.2V380.2M187.65 389.2V380.2M171.6 380.2H187.65M134.15 389.2V378.4M150.2 382.3V378.4M179.62 380.2V378.4M134.15 378.4H179.62M87.1 376.4V367.4M160.5 378.4V367.4M87.1 367.4H160.5" stroke="#5a5a5a" stroke-width="0.75" fill="none"/>
<path d="M64.3 390.24H59.89V390.58H64.3M64.3 389.89H59.86V390.41H59.89M64.3 389.55H58.4V390.15H59.86M64.3 391.97H61.29V392.31H64.3M64.3 391.62H60.49V392.14H61.29M64.3 391.27H58.36V391.88H60.49M64.3 390.93H57.69V391.58H58.36M58.4 389.85H55.09V391.25H57.69M64.3 389.2H54.29V390.55H55.09M64.3 393.35H60.11V393.69H64.3M64.3 393H57.22V393.52H60.11M64.3 392.66H56.57V393.26H57.22M64.3 394.38H60.52V394.73H64.3M64.3 394.04H59.52V394.56H60.52M64.3 395.08H60.95V395.42H64.3M64.3 395.77H60.93V396.11H64.3M60.95 395.25H60.14V395.94H60.93M64.3 396.46H60.68V396.8H64.3M64.3 397.15H59.92V397.5H64.3M60.68 396.63H58.73V397.32H59.92M60.14 395.59H56.8V396.98H58.73M59.52 394.3H56.22V396.29H56.8M56.57 392.96H53.33V395.29H56.22M54.29 389.88H52.44V394.13H53.33M64.3 398.19H58.94V398.53H64.3M64.3 397.84H57.69V398.36H58.94M64.3 398.88H61.04V399.22H64.3M64.3 399.57H60.98V399.92H64.3M61.04 399.05H59.83V399.74H60.98M64.3 400.95H61.27V401.3H64.3M64.3 400.61H60.82V401.13H61.27M64.3 400.26H59.76V400.87H60.82M59.83 399.4H58.85V400.56H59.76M64.3 401.64H60.92V401.99H64.3M64.3 402.33H60.38V402.68H64.3M60.92 401.82H58.28V402.51H60.38M58.85 399.98H56.89V402.16H58.28M57.69 398.1H54.72V401.07H56.89M64.3 403.03H59.11V403.37H64.3M64.3 403.72H59.69V404.06H64.3M64.3 405.45H62.63V405.79H64.3M64.3 405.1H62.01V405.62H62.63M64.3 404.75H60.44V405.36H62.01M64.3 404.41H59.61V405.06H60.44M59.69 403.89H57.42V404.73H59.61M59.11 403.2H55.87V404.31H57.42M64.3 406.14H59.12V406.48H64.3M64.3 406.83H60.48V407.17H64.3M64.3 407.87H62.85V408.21H64.3M64.3 407.52H62.13V408.04H62.85M64.3 408.9H62.24V409.25H64.3M64.3 408.56H61.66V409.08H62.24M62.13 407.78H59.97V408.82H61.66M60.48 407H57.86V408.3H59.97M59.12 406.31H55.55V407.65H57.86M55.87 403.76H53.67V406.98H55.55M54.72 399.59H52.41V405.37H53.67M64.3 409.94H59.48V410.29H64.3M64.3 409.59H57.66V410.11H59.48M64.3 410.98H61.13V411.32H64.3M64.3 411.67H60.34V412.01H64.3M61.13 411.15H59.56V411.84H60.34M64.3 410.63H58.55V411.49H59.56M64.3 412.36H61.75V412.7H64.3M64.3 413.05H60.92V413.4H64.3M61.75 412.53H60.3V413.22H60.92M64.3 413.74H59.95V414.09H64.3M60.3 412.88H58.14V413.91H59.95M58.55 411.06H56.23V413.4H58.14M64.3 414.43H60.3V414.78H64.3M64.3 415.82H61.82V416.16H64.3M64.3 415.47H61.13V415.99H61.82M64.3 415.12H59.23V415.73H61.13M60.3 414.61H58.37V415.43H59.23M64.3 416.85H61.3V417.2H64.3M64.3 416.51H59.62V417.03H61.3M64.3 417.54H58.94V417.89H64.3M59.62 416.77H57.07V417.72H58.94M58.37 415.02H56V417.24H57.07M56.23 412.23H55.42V416.13H56M57.66 409.85H53.51V414.18H55.42M64.3 418.93H61.08V419.27H64.3M64.3 418.58H59.96V419.1H61.08M64.3 418.24H59.66V418.84H59.96M64.3 419.62H58.99V419.96H64.3M59.66 418.54H56.47V419.79H58.99M64.3 420.65H59.04V421H64.3M64.3 420.31H58.5V420.83H59.04M64.3 421.35H61.68V421.69H64.3M64.3 422.04H60.43V422.38H64.3M61.68 421.52H58.93V422.21H60.43M64.3 422.73H60.28V423.07H64.3M64.3 423.77H61.57V424.11H64.3M64.3 423.42H59.85V423.94H61.57M60.28 422.9H58.77V423.68H59.85M58.93 421.86H56.8V423.29H58.77M58.5 420.57H55.84V422.58H56.8M56.47 419.16H53.04V421.57H55.84M53.51 412.02H51.67V420.37H53.04M52.41 402.48H50.58V416.19H51.67M64.3 424.8H60.48V425.15H64.3M64.3 424.46H59.73V424.98H60.48M64.3 425.84H60.76V426.19H64.3M64.3 425.49H59.44V426.01H60.76M59.73 424.72H57.11V425.75H59.44M64.3 426.53H56.92V426.88H64.3M57.11 425.23H54.9V426.7H56.92M64.3 427.22H60.83V427.57H64.3M64.3 427.91H60.33V428.26H64.3M60.83 427.4H57.53V428.09H60.33M64.3 428.95H60.33V429.3H64.3M64.3 429.99H60.86V430.33H64.3M64.3 429.64H59.78V430.16H60.86M60.33 429.12H57.36V429.9H59.78M64.3 428.6H56.89V429.51H57.36M57.53 427.74H55.04V429.06H56.89M64.3 430.68H59.9V431.02H64.3M64.3 431.37H59.15V431.72H64.3M59.9 430.85H58.57V431.54H59.15M64.3 432.41H60.07V432.75H64.3M64.3 432.06H57.78V432.58H60.07M58.57 431.2H55.68V432.32H57.78M64.3 433.1H59.37V433.44H64.3M64.3 434.14H60.67V434.48H64.3M64.3 433.79H59.36V434.31H60.67M64.3 435.17H61.25V435.52H64.3M64.3 434.83H59.23V435.35H61.25M59.36 434.05H57.4V435.09H59.23M59.37 433.27H57.18V434.57H57.4M64.3 436.21H61.47V436.56H64.3M64.3 435.86H61.09V436.38H61.47M64.3 437.25H61.94V437.59H64.3M64.3 436.9H59.74V437.42H61.94M61.09 436.12H58.93V437.16H59.74M64.3 437.94H60.85V438.28H64.3M64.3 438.63H62.63V438.97H64.3M64.3 439.32H61.89V439.67H64.3M62.63 438.8H60.84V439.49H61.89M60.85 438.11H59.36V439.15H60.84M64.3 440.7H61.65V441.05H64.3M64.3 440.36H60.23V440.88H61.65M64.3 440.01H59.34V440.62H60.23M59.36 438.63H57.8V440.31H59.34M64.3 441.39H61.38V441.74H64.3M64.3 442.09H60.47V442.43H64.3M61.38 441.57H59.91V442.26H60.47M64.3 443.81H61.83V444.16H64.3M64.3 443.47H60.9V443.99H61.83M64.3 443.12H60.08V443.73H60.9M64.3 442.78H59.35V443.42H60.08M59.91 441.91H57.74V443.1H59.35M57.8 439.47H56.63V442.51H57.74M58.93 436.64H56.27V440.99H56.63M57.18 433.92H54.78V438.82H56.27M55.68 431.76H53.42V436.37H54.78M55.04 428.4H52.33V434.06H53.42M54.9 425.97H49.97V431.23H52.33M50.58 409.33H48.53V428.6H49.97M52.44 392H47.84V418.97H48.53M64.3 444.85H61.02V445.2H64.3M64.3 444.51H60.78V445.02H61.02M64.3 445.54H61.79V445.89H64.3M64.3 446.58H62.15V446.92H64.3M64.3 446.23H60.19V446.75H62.15M61.79 445.71H59.18V446.49H60.19M60.78 444.76H58.6V446.1H59.18M64.3 447.27H60.26V447.62H64.3M64.3 448.31H60.56V448.65H64.3M64.3 447.96H59.88V448.48H60.56M60.26 447.44H58.81V448.22H59.88M64.3 449H60.93V449.34H64.3M64.3 449.69H61.94V450.04H64.3M64.3 450.38H61.21V450.73H64.3M61.94 449.86H60.81V450.55H61.21M64.3 451.42H61.23V451.76H64.3M64.3 451.07H59.8V451.59H61.23M60.81 450.21H59.53V451.33H59.8M60.93 449.17H58.35V450.77H59.53M58.81 447.83H56.89V449.97H58.35M58.6 445.43H56.25V448.9H56.89M64.3 452.46H61.69V452.8H64.3M64.3 452.11H59.69V452.63H61.69M64.3 453.15H61.58V453.49H64.3M64.3 453.84H60.23V454.18H64.3M61.58 453.32H59.58V454.01H60.23M59.69 452.37H58.46V453.67H59.58M64.3 454.87H60.8V455.22H64.3M64.3 454.53H58.39V455.05H60.8M58.46 453.02H57.02V454.79H58.39M64.3 456.26H62.14V456.6H64.3M64.3 455.91H58.92V456.43H62.14M64.3 455.57H54.37V456.17H58.92M57.02 453.9H53.54V455.87H54.37M56.25 447.17H53.1V454.89H53.54M64.3 456.95H58.85V457.29H64.3M64.3 458.33H60.71V458.68H64.3M64.3 457.99H60.36V458.5H60.71M64.3 457.64H58.89V458.24H60.36M64.3 459.02H58.17V459.37H64.3M58.89 457.94H56.98V459.2H58.17M58.85 457.12H55.72V458.57H56.98M64.3 459.71H60.56V460.06H64.3M64.3 460.75H63.18V461.1H64.3M64.3 460.41H60.39V460.92H63.18M64.3 461.44H61.17V461.79H64.3M64.3 462.13H61.12V462.48H64.3M61.17 461.62H60.28V462.31H61.12M60.39 460.66H58.89V461.96H60.28M60.56 459.89H58.39V461.31H58.89M64.3 462.82H58.97V463.17H64.3M64.3 464.21H61.21V464.55H64.3M64.3 463.86H60.97V464.38H61.21M64.3 463.52H60.19V464.12H60.97M64.3 464.9H59.85V465.24H64.3M60.19 463.82H58.77V465.07H59.85M58.97 463H57V464.45H58.77M58.39 460.6H56.13V463.72H57M64.3 466.63H61.48V466.97H64.3M64.3 466.28H60.75V466.8H61.48M64.3 465.94H59.61V466.54H60.75M64.3 467.66H60.81V468.01H64.3M64.3 467.32H58.72V467.84H60.81M59.61 466.24H57.95V467.58H58.72M64.3 465.59H55.8V466.91H57.95M56.13 462.16H54.8V466.25H55.8M55.72 457.85H52.02V464.2H54.8M64.3 468.36H57.67V468.7H64.3M64.3 469.05H59.61V469.39H64.3M64.3 469.74H60.18V470.08H64.3M64.3 470.43H62.02V470.78H64.3M64.3 471.47H61.97V471.81H64.3M64.3 471.12H60.76V471.64H61.97M62.02 470.6H59.39V471.38H60.76M60.18 469.91H58.77V470.99H59.39M59.61 469.22H56.79V470.45H58.77M57.67 468.53H54.27V469.84H56.79M64.3 472.16H61.36V472.5H64.3M64.3 472.85H60.45V473.19H64.3M61.36 472.33H59.87V473.02H60.45M64.3 473.54H60.55V473.89H64.3M64.3 474.23H62.24V474.58H64.3M64.3 474.92H61.93V475.27H64.3M64.3 475.61H61.22V475.96H64.3M61.93 475.1H60.32V475.79H61.22M62.24 474.4H59.85V475.44H60.32M60.55 473.71H58.34V474.92H59.85M59.87 472.68H57.56V474.32H58.34M64.3 476.31H61.51V476.65H64.3M64.3 477H61.37V477.34H64.3M61.51 476.48H59.88V477.17H61.37M64.3 477.69H60.84V478.03H64.3M64.3 478.38H61.48V478.73H64.3M64.3 479.42H61.34V479.76H64.3M64.3 479.07H60.97V479.59H61.34M61.48 478.55H60.04V479.33H60.97M60.84 477.86H58.8V478.94H60.04M59.88 476.82H58.42V478.4H58.8M64.3 480.8H61.3V481.14H64.3M64.3 480.45H60.23V480.97H61.3M64.3 480.11H59.73V480.71H60.23M64.3 481.49H60.71V481.84H64.3M64.3 482.87H62.07V483.22H64.3M64.3 482.53H61.38V483.05H62.07M64.3 482.18H59.44V482.79H61.38M60.71 481.66H58.45V482.48H59.44M59.73 480.41H57.66V482.07H58.45M58.42 477.61H55.88V481.24H57.66M57.56 473.5H55.45V479.43H55.88M64.3 483.56H60.46V483.91H64.3M64.3 484.26H62.31V484.6H64.3M64.3 484.95H61.38V485.29H64.3M62.31 484.43H59.53V485.12H61.38M60.46 483.74H58.75V484.77H59.53M64.3 485.98H61.49V486.33H64.3M64.3 485.64H60.6V486.16H61.49M64.3 487.02H62.23V487.37H64.3M64.3 486.68H61.14V487.19H62.23M64.3 487.71H61.07V488.06H64.3M61.14 486.93H59.93V487.89H61.07M60.6 485.9H58.06V487.41H59.93M58.75 484.26H57.12V486.65H58.06M64.3 488.75H61.47V489.09H64.3M64.3 488.4H60.57V488.92H61.47M64.3 489.44H61.61V489.79H64.3M64.3 490.82H62.21V491.17H64.3M64.3 490.48H61.52V491H62.21M64.3 490.13H60.68V490.74H61.52M61.61 489.61H60.1V490.43H60.68M60.57 488.66H58.77V490.02H60.1M64.3 492.21H61.28V492.55H64.3M64.3 491.86H60.55V492.38H61.28M64.3 491.51H60.33V492.12H60.55M64.3 492.9H62.32V493.24H64.3M64.3 493.59H61.85V493.93H64.3M62.32 493.07H61.15V493.76H61.85M64.3 494.63H61.73V494.97H64.3M64.3 494.28H60.69V494.8H61.73M61.15 493.42H60.24V494.54H60.69M60.33 491.82H58.5V493.98H60.24M58.77 489.34H57.52V492.9H58.5M64.3 495.32H61.57V495.66H64.3M64.3 496.01H60.87V496.35H64.3M61.57 495.49H60.53V496.18H60.87M64.3 496.7H61.98V497.04H64.3M64.3 497.39H61.2V497.74H64.3M61.98 496.87H60.33V497.56H61.2M60.53 495.84H58.88V497.22H60.33M64.3 498.08H61.08V498.43H64.3M64.3 499.12H61.48V499.46H64.3M64.3 498.77H60.79V499.29H61.48M61.08 498.25H58.65V499.03H60.79M58.88 496.53H57.28V498.64H58.65M57.52 491.12H56.4V497.59H57.28M57.12 485.45H54.84V494.35H56.4M55.45 476.46H53.54V489.9H54.84M54.27 469.18H51.78V483.18H53.54M52.02 461.03H50.47V476.18H51.78M53.1 451.03H48.65V468.6H50.47M64.3 500.5H60.5V500.85H64.3M64.3 500.16H59.8V500.67H60.5M64.3 499.81H58.82V500.42H59.8M64.3 501.54H61.04V501.88H64.3M64.3 501.19H60.83V501.71H61.04M64.3 502.23H61.13V502.58H64.3M64.3 502.92H60.96V503.27H64.3M61.13 502.4H59.34V503.09H60.96M60.83 501.45H58.72V502.75H59.34M58.82 500.11H55.8V502.1H58.72M64.3 503.61H60.08V503.96H64.3M64.3 504.3H57.88V504.65H64.3M64.3 505H59.8V505.34H64.3M64.3 506.03H60.64V506.38H64.3M64.3 507.07H61.18V507.41H64.3M64.3 506.72H60.47V507.24H61.18M60.64 506.2H58.79V506.98H60.47M64.3 505.69H57.58V506.59H58.79M59.8 505.17H57.07V506.14H57.58M57.88 504.48H55.41V505.65H57.07M60.08 503.79H55.01V505.07H55.41M55.8 501.11H54.44V504.43H55.01M64.3 507.76H60.22V508.11H64.3M64.3 508.8H61.47V509.14H64.3M64.3 508.45H59.62V508.97H61.47M60.22 507.93H59.47V508.71H59.62M64.3 510.18H63.33V510.53H64.3M64.3 509.83H62.61V510.35H63.33M64.3 509.49H60.81V510.09H62.61M64.3 510.87H61.54V511.22H64.3M64.3 511.56H61.29V511.91H64.3M61.54 511.04H60.17V511.74H61.29M60.81 509.79H59.36V511.39H60.17M64.3 512.6H61.16V512.95H64.3M64.3 512.25H59.22V512.77H61.16M59.36 510.59H57.95V512.51H59.22M59.47 508.32H56.51V511.55H57.95M64.3 513.64H59.84V513.98H64.3M64.3 513.29H59.07V513.81H59.84M64.3 514.67H60.58V515.02H64.3M64.3 514.33H58.3V514.85H60.58M59.07 513.55H57.2V514.59H58.3M64.3 515.36H61.36V515.71H64.3M64.3 516.4H62.12V516.75H64.3M64.3 516.06H60.73V516.57H62.12M61.36 515.54H59.69V516.32H60.73M64.3 517.78H61.79V518.13H64.3M64.3 517.44H60.9V517.96H61.79M64.3 517.09H60.28V517.7H60.9M64.3 518.48H59.82V518.82H64.3M60.28 517.4H59.14V518.65H59.82M59.69 515.93H57.93V518.02H59.14M64.3 519.17H62.09V519.51H64.3M64.3 520.2H62.81V520.55H64.3M64.3 519.86H62.08V520.38H62.81M64.3 520.9H61.82V521.24H64.3M62.08 520.12H59.5V521.07H61.82M62.09 519.34H58.96V520.59H59.5M64.3 522.28H61.87V522.62H64.3M64.3 521.93H61.18V522.45H61.87M64.3 521.59H60.51V522.19H61.18M64.3 523.31H61.26V523.66H64.3M64.3 522.97H60.01V523.49H61.26M60.51 521.89H58.8V523.23H60.01M58.96 519.97H57.34V522.56H58.8M57.93 516.97H56.83V521.26H57.34M57.2 514.07H54.88V519.12H56.83M56.51 509.94H54.17V516.59H54.88M54.44 502.77H51.69V513.27H54.17M64.3 524.35H61.27V524.7H64.3M64.3 524.01H60.53V524.52H61.27M64.3 525.39H61.45V525.73H64.3M64.3 525.04H60.16V525.56H61.45M60.53 524.27H58.81V525.3H60.16M64.3 526.43H61.57V526.77H64.3M64.3 526.08H60.53V526.6H61.57M64.3 527.46H61.25V527.81H64.3M64.3 527.12H59.88V527.64H61.25M60.53 526.34H58.22V527.38H59.88M58.81 524.78H57.55V526.86H58.22M64.3 528.15H58.83V528.5H64.3M64.3 529.19H61.42V529.54H64.3M64.3 530.23H62.83V530.57H64.3M64.3 529.88H60.79V530.4H62.83M61.42 529.36H59.53V530.14H60.79M64.3 528.85H59.29V529.75H59.53M64.3 531.27H62.04V531.61H64.3M64.3 530.92H61.68V531.44H62.04M64.3 532.3H61.32V532.65H64.3M64.3 531.96H60.5V532.47H61.32M61.68 531.18H58.81V532.22H60.5M59.29 529.3H57.18V531.7H58.81M58.83 528.33H56.22V530.5H57.18M57.55 525.82H55.78V529.41H56.22M64.3 533.34H61.46V533.68H64.3M64.3 532.99H59.86V533.51H61.46M64.3 534.38H61.02V534.72H64.3M64.3 534.03H59.75V534.55H61.02M64.3 535.07H61.68V535.41H64.3M64.3 535.76H60.78V536.1H64.3M61.68 535.24H58.51V535.93H60.78M59.75 534.29H57.84V535.59H58.51M59.86 533.25H56.85V534.94H57.84M64.3 536.45H59.52V536.8H64.3M64.3 537.49H60.89V537.83H64.3M64.3 537.14H59.38V537.66H60.89M59.52 536.62H55.9V537.4H59.38M56.85 534.1H54.22V537.01H55.9M55.78 527.62H53.16V535.55H54.22M64.3 538.87H59.76V539.22H64.3M64.3 538.52H59.03V539.04H59.76M64.3 538.18H56.97V538.78H59.03M64.3 539.56H58.16V539.91H64.3M64.3 540.25H60.02V540.6H64.3M64.3 541.29H61.89V541.63H64.3M64.3 540.94H60.77V541.46H61.89M64.3 541.98H60.36V542.33H64.3M60.77 541.2H58.62V542.15H60.36M60.02 540.42H58.47V541.68H58.62M64.3 543.36H62.86V543.71H64.3M64.3 544.05H61.1V544.4H64.3M62.86 543.54H60.1V544.23H61.1M64.3 543.02H58.94V543.88H60.1M64.3 542.67H58.14V543.45H58.94M58.47 541.05H56.32V543.06H58.14M58.16 539.73H54.35V542.06H56.32M56.97 538.48H52.03V540.89H54.35M53.16 531.59H50.61V539.69H52.03M51.69 508.02H48.59V535.64H50.61M48.65 459.82H46.85V521.83H48.59M47.84 405.48H43.3V490.82H46.85" stroke="#000" stroke-width="0.55" fill="none"/>
<rect x="60.10" y="389.50" width="4.50" height="154.60" fill="#000"/>
<defs><linearGradient id="dg1" x1="1" y1="0" x2="0" y2="0"><stop offset="0" stop-color="#000" stop-opacity="0.85"/><stop offset="1" stop-color="#000" stop-opacity="0"/></linearGradient></defs>
<rect x="55.10" y="390.70" width="5.00" height="152.20" fill="url(#dg1)"/>
<defs><linearGradient id="lg1" x1="0" y1="0" x2="0" y2="1"><stop offset="0" stop-color="#E81E1E"/><stop offset="0.33" stop-color="#EE8A70"/><stop offset="0.55" stop-color="#F8F2F2"/><stop offset="0.75" stop-color="#9E94CC"/><stop offset="1" stop-color="#3A4AAE"/></linearGradient></defs>
<rect x="200.4" y="455.5" width="4.6" height="23.5" fill="url(#lg1)"/>
<text x="205.80" y="458.00" font-family="Liberation Sans" font-size="6.4" text-anchor="start" fill="#111" >4</text>
<text x="205.80" y="464.90" font-family="Liberation Sans" font-size="6.4" text-anchor="start" fill="#111" >2</text>
<text x="205.80" y="471.80" font-family="Liberation Sans" font-size="6.4" text-anchor="start" fill="#111" >0</text>
<text x="205.80" y="478.70" font-family="Liberation Sans" font-size="6.4" text-anchor="start" fill="#111" >&#8722;2</text>
<text x="0" y="0" font-family="Liberation Sans" font-size="7.0" text-anchor="end" fill="#1a1a1a" transform="translate(72.15,546.70) rotate(-90)">T6&#8722;5</text>
<text x="0" y="0" font-family="Liberation Sans" font-size="7.0" text-anchor="end" fill="#1a1a1a" transform="translate(82.85,546.70) rotate(-90)">T6&#8722;6</text>
<text x="0" y="0" font-family="Liberation Sans" font-size="7.0" text-anchor="end" fill="#1a1a1a" transform="translate(93.55,546.70) rotate(-90)">T6&#8722;3</text>
<text x="0" y="0" font-family="Liberation Sans" font-size="7.0" text-anchor="end" fill="#1a1a1a" transform="translate(104.25,546.70) rotate(-90)">T6&#8722;1</text>
<text x="0" y="0" font-family="Liberation Sans" font-size="7.0" text-anchor="end" fill="#1a1a1a" transform="translate(114.95,546.70) rotate(-90)">T6&#8722;4</text>
<text x="0" y="0" font-family="Liberation Sans" font-size="7.0" text-anchor="end" fill="#1a1a1a" transform="translate(125.65,546.70) rotate(-90)">T6&#8722;2</text>
<text x="0" y="0" font-family="Liberation Sans" font-size="7.0" text-anchor="end" fill="#1a1a1a" transform="translate(136.35,546.70) rotate(-90)">T3&#8722;5</text>
<text x="0" y="0" font-family="Liberation Sans" font-size="7.0" text-anchor="end" fill="#1a1a1a" transform="translate(147.05,546.70) rotate(-90)">T3&#8722;2</text>
<text x="0" y="0" font-family="Liberation Sans" font-size="7.0" text-anchor="end" fill="#1a1a1a" transform="translate(157.75,546.70) rotate(-90)">T3&#8722;3</text>
<text x="0" y="0" font-family="Liberation Sans" font-size="7.0" text-anchor="end" fill="#1a1a1a" transform="translate(168.45,546.70) rotate(-90)">T3&#8722;6</text>
<text x="0" y="0" font-family="Liberation Sans" font-size="7.0" text-anchor="end" fill="#1a1a1a" transform="translate(179.15,546.70) rotate(-90)">T3&#8722;1</text>
<text x="0" y="0" font-family="Liberation Sans" font-size="7.0" text-anchor="end" fill="#1a1a1a" transform="translate(189.85,546.70) rotate(-90)">T3&#8722;4</text>
<text x="20.30" y="559.80" font-family="Liberation Sans" font-size="8.8" text-anchor="start" fill="#1A1A1A" >T6 vs T3</text>
<path fill="#806db8" d="M275.5 390.9h12.14v1.42h-12.14zM275.5 394.11h12.14v1.42h-12.14zM275.5 396.25h12.14v1.42h-12.14zM275.5 398.39h12.14v1.42h-12.14zM275.5 401.61h12.14v1.42h-12.14zM275.5 403.75h12.14v1.42h-12.14zM275.5 408.03h12.14v1.42h-12.14zM275.5 426.23h12.14v1.42h-12.14zM275.5 433.73h12.14v1.42h-12.14zM275.5 445.51h12.14v1.42h-12.14zM275.5 447.65h12.14v1.42h-12.14zM275.5 453h12.14v1.42h-12.14zM287.29 396.25h12.14v1.42h-12.14zM287.29 403.75h12.14v1.42h-12.14zM287.29 408.03h12.14v1.42h-12.14zM287.29 417.67h12.14v1.42h-12.14zM287.29 421.95h12.14v1.42h-12.14zM287.29 424.09h12.14v2.49h-12.14zM287.29 433.73h12.14v1.42h-12.14zM287.29 447.65h12.14v1.42h-12.14zM299.08 391.97h12.14v1.42h-12.14zM299.08 396.25h12.14v1.42h-12.14zM299.08 398.39h12.14v4.63h-12.14zM299.08 408.03h12.14v4.63h-12.14zM299.08 417.67h12.14v1.42h-12.14zM299.08 421.95h12.14v1.42h-12.14zM299.08 427.3h12.14v1.42h-12.14zM299.08 434.8h12.14v2.49h-12.14zM299.08 446.58h12.14v1.42h-12.14zM310.87 390.9h12.14v1.42h-12.14zM310.87 397.32h12.14v2.49h-12.14zM310.87 402.68h12.14v2.49h-12.14zM310.87 409.1h12.14v2.49h-12.14zM310.87 417.67h12.14v3.56h-12.14zM310.87 428.38h12.14v2.49h-12.14zM310.87 435.87h12.14v1.42h-12.14zM310.87 440.15h12.14v1.42h-12.14zM310.87 449.79h12.14v1.42h-12.14zM322.66 391.97h12.14v1.42h-12.14zM322.66 394.11h12.14v2.49h-12.14zM322.66 408.03h12.14v1.42h-12.14zM322.66 410.17h12.14v2.49h-12.14zM322.66 424.09h12.14v1.42h-12.14zM322.66 431.59h12.14v1.42h-12.14zM322.66 436.94h12.14v1.42h-12.14zM322.66 440.15h12.14v1.42h-12.14zM322.66 448.72h12.14v1.42h-12.14zM322.66 450.86h12.14v1.42h-12.14zM322.66 504.4h12.14v1.42h-12.14zM334.45 393.04h12.14v1.42h-12.14zM334.45 396.25h12.14v1.42h-12.14zM334.45 402.68h12.14v1.42h-12.14zM334.45 405.89h12.14v1.42h-12.14zM334.45 409.1h12.14v1.42h-12.14zM334.45 413.38h12.14v1.42h-12.14zM334.45 416.6h12.14v1.42h-12.14zM334.45 435.87h12.14v3.56h-12.14zM334.45 443.37h12.14v1.42h-12.14zM334.45 505.47h12.14v1.42h-12.14zM346.24 471.2h12.14v1.42h-12.14zM346.24 488.33h12.14v2.49h-12.14zM346.24 519.39h12.14v1.42h-12.14zM358.03 494.76h12.14v1.42h-12.14zM358.03 496.9h12.14v1.42h-12.14zM358.03 502.25h12.14v1.42h-12.14zM358.03 520.46h12.14v1.42h-12.14zM358.03 538.66h12.14v1.42h-12.14zM369.82 466.92h12.14v1.42h-12.14zM369.82 472.27h12.14v1.42h-12.14zM369.82 475.49h12.14v1.42h-12.14zM369.82 484.05h12.14v1.42h-12.14zM369.82 489.41h12.14v1.42h-12.14zM369.82 497.97h12.14v1.42h-12.14zM369.82 505.47h12.14v1.42h-12.14zM369.82 509.75h12.14v1.42h-12.14zM369.82 514.03h12.14v2.49h-12.14zM369.82 518.31h12.14v1.42h-12.14zM369.82 520.46h12.14v1.42h-12.14zM369.82 523.67h12.14v1.42h-12.14zM369.82 525.81h12.14v1.42h-12.14zM369.82 532.23h12.14v1.42h-12.14zM381.61 456.21h12.14v4.63h-12.14zM381.61 461.57h12.14v1.42h-12.14zM381.61 477.63h12.14v1.42h-12.14zM381.61 489.41h12.14v1.42h-12.14zM381.61 492.62h12.14v2.49h-12.14zM381.61 495.83h12.14v1.42h-12.14zM381.61 497.97h12.14v3.56h-12.14zM381.61 503.32h12.14v1.42h-12.14zM381.61 509.75h12.14v1.42h-12.14zM381.61 518.31h12.14v2.49h-12.14zM381.61 521.53h12.14v2.49h-12.14zM381.61 529.02h12.14v1.42h-12.14zM381.61 531.16h12.14v1.42h-12.14zM381.61 537.59h12.14v1.42h-12.14zM393.4 461.57h12.14v2.49h-12.14zM393.4 488.33h12.14v1.42h-12.14zM393.4 493.69h12.14v1.42h-12.14zM393.4 501.18h12.14v4.63h-12.14zM393.4 514.03h12.14v2.49h-12.14zM393.4 520.46h12.14v1.42h-12.14zM393.4 527.95h12.14v1.42h-12.14zM393.4 538.66h12.14v1.42h-12.14zM405.19 447.65h11.79v1.42h-11.79zM405.19 462.64h11.79v2.49h-11.79zM405.19 472.27h11.79v1.42h-11.79zM405.19 474.42h11.79v1.42h-11.79zM405.19 484.05h11.79v1.42h-11.79zM405.19 492.62h11.79v1.42h-11.79zM405.19 494.76h11.79v2.49h-11.79zM405.19 502.25h11.79v1.42h-11.79zM405.19 508.68h11.79v1.42h-11.79zM405.19 510.82h11.79v1.42h-11.79zM405.19 514.03h11.79v2.49h-11.79zM405.19 529.02h11.79v1.42h-11.79zM405.19 534.38h11.79v1.42h-11.79z"/>
<path fill="#9180c0" d="M275.5 391.97h12.14v1.42h-12.14zM275.5 399.47h12.14v2.49h-12.14zM275.5 405.89h12.14v1.42h-12.14zM275.5 411.24h12.14v2.49h-12.14zM275.5 414.46h12.14v2.49h-12.14zM275.5 421.95h12.14v1.42h-12.14zM275.5 424.09h12.14v2.49h-12.14zM275.5 428.38h12.14v2.49h-12.14zM275.5 431.59h12.14v1.42h-12.14zM275.5 435.87h12.14v1.42h-12.14zM275.5 438.01h12.14v1.42h-12.14zM287.29 400.54h12.14v2.49h-12.14zM287.29 410.17h12.14v1.42h-12.14zM287.29 414.46h12.14v1.42h-12.14zM287.29 416.6h12.14v1.42h-12.14zM287.29 419.81h12.14v1.42h-12.14zM287.29 423.02h12.14v1.42h-12.14zM287.29 430.52h12.14v1.42h-12.14zM287.29 432.66h12.14v1.42h-12.14zM287.29 448.72h12.14v1.42h-12.14zM299.08 431.59h12.14v1.42h-12.14zM299.08 433.73h12.14v1.42h-12.14zM299.08 436.94h12.14v1.42h-12.14zM299.08 441.22h12.14v1.42h-12.14zM299.08 444.44h12.14v1.42h-12.14zM299.08 450.86h12.14v2.49h-12.14zM310.87 400.54h12.14v2.49h-12.14zM310.87 411.24h12.14v1.42h-12.14zM310.87 431.59h12.14v2.49h-12.14zM310.87 436.94h12.14v2.49h-12.14zM310.87 441.22h12.14v1.42h-12.14zM310.87 446.58h12.14v2.49h-12.14zM322.66 418.74h12.14v1.42h-12.14zM322.66 441.22h12.14v1.42h-12.14zM322.66 457.28h12.14v1.42h-12.14zM322.66 493.69h12.14v1.42h-12.14zM322.66 505.47h12.14v1.42h-12.14zM334.45 395.18h12.14v1.42h-12.14zM334.45 400.54h12.14v2.49h-12.14zM334.45 408.03h12.14v1.42h-12.14zM334.45 411.24h12.14v2.49h-12.14zM334.45 430.52h12.14v2.49h-12.14zM334.45 440.15h12.14v1.42h-12.14zM334.45 450.86h12.14v2.49h-12.14zM334.45 510.82h12.14v1.42h-12.14zM334.45 522.6h12.14v1.42h-12.14zM346.24 459.43h12.14v3.56h-12.14zM346.24 465.85h12.14v1.42h-12.14zM346.24 470.13h12.14v1.42h-12.14zM346.24 473.34h12.14v1.42h-12.14zM346.24 482.98h12.14v1.42h-12.14zM346.24 490.48h12.14v1.42h-12.14zM346.24 492.62h12.14v1.42h-12.14zM346.24 494.76h12.14v1.42h-12.14zM346.24 502.25h12.14v1.42h-12.14zM346.24 504.4h12.14v1.42h-12.14zM346.24 508.68h12.14v1.42h-12.14zM346.24 511.89h12.14v1.42h-12.14zM346.24 514.03h12.14v1.42h-12.14zM346.24 520.46h12.14v1.42h-12.14zM346.24 530.09h12.14v1.42h-12.14zM346.24 535.45h12.14v1.42h-12.14zM346.24 538.66h12.14v2.14h-12.14zM358.03 455.14h12.14v1.42h-12.14zM358.03 466.92h12.14v1.42h-12.14zM358.03 469.06h12.14v1.42h-12.14zM358.03 474.42h12.14v2.49h-12.14zM358.03 482.98h12.14v1.42h-12.14zM358.03 486.19h12.14v1.42h-12.14zM358.03 492.62h12.14v1.42h-12.14zM358.03 501.18h12.14v1.42h-12.14zM358.03 509.75h12.14v1.42h-12.14zM358.03 515.1h12.14v1.42h-12.14zM358.03 522.6h12.14v2.49h-12.14zM358.03 526.88h12.14v1.42h-12.14zM358.03 529.02h12.14v2.49h-12.14zM358.03 533.3h12.14v1.42h-12.14zM358.03 539.73h12.14v1.07h-12.14zM369.82 398.39h12.14v1.42h-12.14zM369.82 457.28h12.14v1.42h-12.14zM369.82 465.85h12.14v1.42h-12.14zM369.82 480.84h12.14v1.42h-12.14zM369.82 490.48h12.14v1.42h-12.14zM369.82 499.04h12.14v2.49h-12.14zM369.82 502.25h12.14v1.42h-12.14zM369.82 516.17h12.14v2.49h-12.14zM369.82 526.88h12.14v1.42h-12.14zM369.82 531.16h12.14v1.42h-12.14zM369.82 533.3h12.14v1.42h-12.14zM369.82 535.45h12.14v1.42h-12.14zM369.82 539.73h12.14v1.07h-12.14zM381.61 412.31h12.14v1.42h-12.14zM381.61 462.64h12.14v1.42h-12.14zM381.61 465.85h12.14v1.42h-12.14zM381.61 469.06h12.14v2.49h-12.14zM381.61 473.34h12.14v1.42h-12.14zM381.61 484.05h12.14v3.56h-12.14zM381.61 490.48h12.14v2.49h-12.14zM381.61 501.18h12.14v1.42h-12.14zM381.61 515.1h12.14v1.42h-12.14zM381.61 523.67h12.14v1.42h-12.14zM381.61 530.09h12.14v1.42h-12.14zM393.4 456.21h12.14v3.56h-12.14zM393.4 460.5h12.14v1.42h-12.14zM393.4 466.92h12.14v1.42h-12.14zM393.4 472.27h12.14v1.42h-12.14zM393.4 480.84h12.14v2.49h-12.14zM393.4 486.19h12.14v1.42h-12.14zM393.4 492.62h12.14v1.42h-12.14zM393.4 499.04h12.14v1.42h-12.14zM393.4 517.24h12.14v1.42h-12.14zM393.4 523.67h12.14v1.42h-12.14zM393.4 525.81h12.14v1.42h-12.14zM393.4 537.59h12.14v1.42h-12.14zM405.19 458.35h11.79v3.56h-11.79zM405.19 464.78h11.79v1.42h-11.79zM405.19 469.06h11.79v1.42h-11.79zM405.19 479.77h11.79v1.42h-11.79zM405.19 486.19h11.79v1.42h-11.79zM405.19 488.33h11.79v1.42h-11.79zM405.19 499.04h11.79v1.42h-11.79zM405.19 507.61h11.79v1.42h-11.79zM405.19 509.75h11.79v1.42h-11.79zM405.19 525.81h11.79v2.49h-11.79zM405.19 533.3h11.79v1.42h-11.79z"/>
<path fill="#7764b3" d="M275.5 393.04h12.14v1.42h-12.14zM275.5 406.96h12.14v1.42h-12.14zM275.5 410.17h12.14v1.42h-12.14zM275.5 432.66h12.14v1.42h-12.14zM275.5 434.8h12.14v1.42h-12.14zM287.29 395.18h12.14v1.42h-12.14zM287.29 405.89h12.14v2.49h-12.14zM287.29 426.23h12.14v1.42h-12.14zM287.29 439.08h12.14v1.42h-12.14zM287.29 443.37h12.14v1.42h-12.14zM287.29 454.07h12.14v1.42h-12.14zM299.08 404.82h12.14v3.56h-12.14zM299.08 412.31h12.14v1.42h-12.14zM299.08 426.23h12.14v1.42h-12.14zM299.08 432.66h12.14v1.42h-12.14zM299.08 438.01h12.14v1.42h-12.14zM299.08 440.15h12.14v1.42h-12.14zM299.08 443.37h12.14v1.42h-12.14zM299.08 447.65h12.14v1.42h-12.14zM299.08 453h12.14v1.42h-12.14zM310.87 393.04h12.14v1.42h-12.14zM310.87 396.25h12.14v1.42h-12.14zM310.87 404.82h12.14v1.42h-12.14zM310.87 406.96h12.14v1.42h-12.14zM310.87 421.95h12.14v1.42h-12.14zM310.87 426.23h12.14v2.49h-12.14zM310.87 434.8h12.14v1.42h-12.14zM310.87 444.44h12.14v2.49h-12.14zM310.87 453h12.14v2.49h-12.14zM322.66 390.9h12.14v1.42h-12.14zM322.66 396.25h12.14v5.7h-12.14zM322.66 412.31h12.14v1.42h-12.14zM322.66 415.53h12.14v2.49h-12.14zM322.66 419.81h12.14v1.42h-12.14zM322.66 421.95h12.14v1.42h-12.14zM322.66 425.16h12.14v1.42h-12.14zM322.66 428.38h12.14v1.42h-12.14zM322.66 433.73h12.14v1.42h-12.14zM322.66 435.87h12.14v1.42h-12.14zM322.66 444.44h12.14v1.42h-12.14zM322.66 451.93h12.14v1.42h-12.14zM322.66 503.32h12.14v1.42h-12.14zM334.45 403.75h12.14v1.42h-12.14zM334.45 417.67h12.14v2.49h-12.14zM334.45 421.95h12.14v1.42h-12.14zM334.45 427.3h12.14v1.42h-12.14zM334.45 429.45h12.14v1.42h-12.14zM346.24 466.92h12.14v1.42h-12.14zM346.24 475.49h12.14v1.42h-12.14zM358.03 518.31h12.14v2.49h-12.14zM358.03 532.23h12.14v1.42h-12.14zM358.03 535.45h12.14v1.42h-12.14zM369.82 470.13h12.14v1.42h-12.14zM369.82 478.7h12.14v1.42h-12.14zM369.82 482.98h12.14v1.42h-12.14zM369.82 486.19h12.14v1.42h-12.14zM369.82 508.68h12.14v1.42h-12.14zM369.82 511.89h12.14v1.42h-12.14zM369.82 521.53h12.14v1.42h-12.14zM369.82 529.02h12.14v1.42h-12.14zM369.82 538.66h12.14v1.42h-12.14zM381.61 406.96h12.14v1.42h-12.14zM381.61 455.14h12.14v1.42h-12.14zM381.61 463.71h12.14v1.42h-12.14zM381.61 466.92h12.14v1.42h-12.14zM381.61 471.2h12.14v1.42h-12.14zM381.61 474.42h12.14v1.42h-12.14zM381.61 502.25h12.14v1.42h-12.14zM381.61 532.23h12.14v1.42h-12.14zM393.4 455.14h12.14v1.42h-12.14zM393.4 478.7h12.14v1.42h-12.14zM393.4 495.83h12.14v1.42h-12.14zM393.4 497.97h12.14v1.42h-12.14zM393.4 500.11h12.14v1.42h-12.14zM393.4 508.68h12.14v1.42h-12.14zM393.4 521.53h12.14v2.49h-12.14zM393.4 529.02h12.14v1.42h-12.14zM393.4 533.3h12.14v1.42h-12.14zM393.4 539.73h12.14v1.07h-12.14zM405.19 466.92h11.79v1.42h-11.79zM405.19 477.63h11.79v2.49h-11.79zM405.19 482.98h11.79v1.42h-11.79zM405.19 496.9h11.79v1.42h-11.79zM405.19 505.47h11.79v1.42h-11.79zM405.19 511.89h11.79v1.42h-11.79zM405.19 518.31h11.79v1.42h-11.79zM405.19 520.46h11.79v1.42h-11.79zM405.19 531.16h11.79v2.49h-11.79zM405.19 535.45h11.79v1.42h-11.79zM405.19 538.66h11.79v1.42h-11.79z"/>
<path fill="#6e5aaf" d="M275.5 395.18h12.14v1.42h-12.14zM287.29 393.04h12.14v1.42h-12.14zM287.29 420.88h12.14v1.42h-12.14zM287.29 445.51h12.14v1.42h-12.14zM287.29 453h12.14v1.42h-12.14zM299.08 390.9h12.14v1.42h-12.14zM299.08 402.68h12.14v2.49h-12.14zM299.08 414.46h12.14v1.42h-12.14zM299.08 420.88h12.14v1.42h-12.14zM310.87 395.18h12.14v1.42h-12.14zM322.66 401.61h12.14v1.42h-12.14zM322.66 405.89h12.14v2.49h-12.14zM322.66 409.1h12.14v1.42h-12.14zM322.66 413.38h12.14v1.42h-12.14zM322.66 417.67h12.14v1.42h-12.14zM322.66 429.45h12.14v2.49h-12.14zM322.66 432.66h12.14v1.42h-12.14zM322.66 434.8h12.14v1.42h-12.14zM322.66 439.08h12.14v1.42h-12.14zM322.66 449.79h12.14v1.42h-12.14zM322.66 453h12.14v1.42h-12.14zM322.66 458.35h12.14v1.42h-12.14zM322.66 500.11h12.14v1.42h-12.14zM322.66 502.25h12.14v1.42h-12.14zM334.45 404.82h12.14v1.42h-12.14zM334.45 406.96h12.14v1.42h-12.14zM334.45 414.46h12.14v1.42h-12.14zM334.45 420.88h12.14v1.42h-12.14zM334.45 434.8h12.14v1.42h-12.14zM334.45 454.07h12.14v1.42h-12.14zM334.45 484.05h12.14v1.42h-12.14zM334.45 524.74h12.14v1.42h-12.14zM358.03 511.89h12.14v1.42h-12.14zM369.82 510.82h12.14v1.42h-12.14zM381.61 475.49h12.14v1.42h-12.14zM381.61 494.76h12.14v1.42h-12.14zM381.61 496.9h12.14v1.42h-12.14zM381.61 535.45h12.14v1.42h-12.14zM381.61 539.73h12.14v1.07h-12.14zM393.4 475.49h12.14v1.42h-12.14zM393.4 489.41h12.14v1.42h-12.14zM393.4 494.76h12.14v1.42h-12.14zM393.4 496.9h12.14v1.42h-12.14zM393.4 511.89h12.14v1.42h-12.14zM393.4 518.31h12.14v2.49h-12.14zM393.4 534.38h12.14v2.49h-12.14zM405.19 448.72h11.79v1.42h-11.79zM405.19 475.49h11.79v1.42h-11.79zM405.19 519.39h11.79v1.42h-11.79zM405.19 521.53h11.79v2.49h-11.79zM405.19 539.73h11.79v1.07h-11.79z"/>
<path fill="#8877bc" d="M275.5 397.32h12.14v1.42h-12.14zM275.5 404.82h12.14v1.42h-12.14zM275.5 409.1h12.14v1.42h-12.14zM275.5 416.6h12.14v2.49h-12.14zM275.5 420.88h12.14v1.42h-12.14zM275.5 427.3h12.14v1.42h-12.14zM275.5 439.08h12.14v1.42h-12.14zM275.5 449.79h12.14v1.42h-12.14zM287.29 390.9h12.14v2.49h-12.14zM287.29 394.11h12.14v1.42h-12.14zM287.29 397.32h12.14v2.49h-12.14zM287.29 402.68h12.14v1.42h-12.14zM287.29 409.1h12.14v1.42h-12.14zM287.29 411.24h12.14v1.42h-12.14zM287.29 415.53h12.14v1.42h-12.14zM287.29 427.3h12.14v3.56h-12.14zM287.29 431.59h12.14v1.42h-12.14zM287.29 434.8h12.14v2.49h-12.14zM287.29 438.01h12.14v1.42h-12.14zM287.29 440.15h12.14v2.49h-12.14zM287.29 444.44h12.14v1.42h-12.14zM287.29 446.58h12.14v1.42h-12.14zM287.29 449.79h12.14v1.42h-12.14zM287.29 451.93h12.14v1.42h-12.14zM299.08 394.11h12.14v1.42h-12.14zM299.08 397.32h12.14v1.42h-12.14zM299.08 413.38h12.14v1.42h-12.14zM299.08 415.53h12.14v1.42h-12.14zM299.08 419.81h12.14v1.42h-12.14zM299.08 424.09h12.14v2.49h-12.14zM299.08 428.38h12.14v2.49h-12.14zM299.08 448.72h12.14v2.49h-12.14zM310.87 394.11h12.14v1.42h-12.14zM310.87 399.47h12.14v1.42h-12.14zM310.87 405.89h12.14v1.42h-12.14zM310.87 408.03h12.14v1.42h-12.14zM310.87 412.31h12.14v1.42h-12.14zM310.87 414.46h12.14v3.56h-12.14zM310.87 424.09h12.14v2.49h-12.14zM310.87 439.08h12.14v1.42h-12.14zM310.87 451.93h12.14v1.42h-12.14zM322.66 517.24h12.14v1.42h-12.14zM334.45 394.11h12.14v1.42h-12.14zM334.45 398.39h12.14v2.49h-12.14zM334.45 410.17h12.14v1.42h-12.14zM334.45 415.53h12.14v1.42h-12.14zM334.45 419.81h12.14v1.42h-12.14zM334.45 424.09h12.14v1.42h-12.14zM334.45 426.23h12.14v1.42h-12.14zM334.45 428.38h12.14v1.42h-12.14zM334.45 432.66h12.14v2.49h-12.14zM334.45 439.08h12.14v1.42h-12.14zM334.45 445.51h12.14v1.42h-12.14zM334.45 507.61h12.14v1.42h-12.14zM334.45 523.67h12.14v1.42h-12.14zM346.24 463.71h12.14v2.49h-12.14zM346.24 472.27h12.14v1.42h-12.14zM346.24 474.42h12.14v1.42h-12.14zM346.24 478.7h12.14v1.42h-12.14zM346.24 495.83h12.14v3.56h-12.14zM346.24 518.31h12.14v1.42h-12.14zM346.24 529.02h12.14v1.42h-12.14zM358.03 457.28h12.14v1.42h-12.14zM358.03 459.43h12.14v1.42h-12.14zM358.03 470.13h12.14v2.49h-12.14zM358.03 477.63h12.14v2.49h-12.14zM358.03 488.33h12.14v2.49h-12.14zM358.03 495.83h12.14v1.42h-12.14zM358.03 500.11h12.14v1.42h-12.14zM358.03 503.32h12.14v1.42h-12.14zM358.03 505.47h12.14v1.42h-12.14zM358.03 508.68h12.14v1.42h-12.14zM358.03 510.82h12.14v1.42h-12.14zM358.03 521.53h12.14v1.42h-12.14zM369.82 461.57h12.14v1.42h-12.14zM369.82 463.71h12.14v1.42h-12.14zM369.82 469.06h12.14v1.42h-12.14zM369.82 473.34h12.14v2.49h-12.14zM369.82 476.56h12.14v2.49h-12.14zM369.82 481.91h12.14v1.42h-12.14zM369.82 488.33h12.14v1.42h-12.14zM369.82 491.55h12.14v2.49h-12.14zM369.82 494.76h12.14v3.56h-12.14zM369.82 503.32h12.14v2.49h-12.14zM369.82 522.6h12.14v1.42h-12.14zM369.82 527.95h12.14v1.42h-12.14zM369.82 530.09h12.14v1.42h-12.14zM369.82 534.38h12.14v1.42h-12.14zM369.82 537.59h12.14v1.42h-12.14zM381.61 460.5h12.14v1.42h-12.14zM381.61 472.27h12.14v1.42h-12.14zM381.61 476.56h12.14v1.42h-12.14zM381.61 478.7h12.14v1.42h-12.14zM381.61 482.98h12.14v1.42h-12.14zM381.61 488.33h12.14v1.42h-12.14zM381.61 504.4h12.14v2.49h-12.14zM381.61 508.68h12.14v1.42h-12.14zM381.61 510.82h12.14v2.49h-12.14zM381.61 514.03h12.14v1.42h-12.14zM381.61 520.46h12.14v1.42h-12.14zM381.61 524.74h12.14v3.56h-12.14zM381.61 533.3h12.14v2.49h-12.14zM393.4 459.43h12.14v1.42h-12.14zM393.4 463.71h12.14v1.42h-12.14zM393.4 469.06h12.14v3.56h-12.14zM393.4 474.42h12.14v1.42h-12.14zM393.4 477.63h12.14v1.42h-12.14zM393.4 482.98h12.14v2.49h-12.14zM393.4 490.48h12.14v2.49h-12.14zM393.4 505.47h12.14v1.42h-12.14zM393.4 507.61h12.14v1.42h-12.14zM393.4 509.75h12.14v2.49h-12.14zM393.4 526.88h12.14v1.42h-12.14zM393.4 530.09h12.14v2.49h-12.14zM405.19 446.58h11.79v1.42h-11.79zM405.19 461.57h11.79v1.42h-11.79zM405.19 470.13h11.79v1.42h-11.79zM405.19 473.34h11.79v1.42h-11.79zM405.19 476.56h11.79v1.42h-11.79zM405.19 480.84h11.79v2.49h-11.79zM405.19 490.48h11.79v2.49h-11.79zM405.19 493.69h11.79v1.42h-11.79zM405.19 497.97h11.79v1.42h-11.79zM405.19 500.11h11.79v1.42h-11.79zM405.19 503.32h11.79v2.49h-11.79zM405.19 523.67h11.79v2.49h-11.79zM405.19 527.95h11.79v1.42h-11.79zM405.19 530.09h11.79v1.42h-11.79zM405.19 537.59h11.79v1.42h-11.79z"/>
<path fill="#998ac4" d="M275.5 402.68h12.14v1.42h-12.14zM275.5 413.38h12.14v1.42h-12.14zM275.5 448.72h12.14v1.42h-12.14zM275.5 451.93h12.14v1.42h-12.14zM287.29 399.47h12.14v1.42h-12.14zM287.29 412.31h12.14v2.49h-12.14zM287.29 418.74h12.14v1.42h-12.14zM287.29 436.94h12.14v1.42h-12.14zM287.29 450.86h12.14v1.42h-12.14zM287.29 508.68h12.14v1.42h-12.14zM299.08 416.6h12.14v1.42h-12.14zM299.08 418.74h12.14v1.42h-12.14zM299.08 430.52h12.14v1.42h-12.14zM310.87 391.97h12.14v1.42h-12.14zM310.87 413.38h12.14v1.42h-12.14zM310.87 433.73h12.14v1.42h-12.14zM310.87 448.72h12.14v1.42h-12.14zM310.87 450.86h12.14v1.42h-12.14zM310.87 479.77h12.14v1.42h-12.14zM322.66 423.02h12.14v1.42h-12.14zM322.66 491.55h12.14v1.42h-12.14zM334.45 390.9h12.14v2.49h-12.14zM334.45 397.32h12.14v1.42h-12.14zM334.45 425.16h12.14v1.42h-12.14zM334.45 444.44h12.14v1.42h-12.14zM334.45 446.58h12.14v2.49h-12.14zM334.45 449.79h12.14v1.42h-12.14zM334.45 457.28h12.14v1.42h-12.14zM346.24 457.28h12.14v2.49h-12.14zM346.24 462.64h12.14v1.42h-12.14zM346.24 469.06h12.14v1.42h-12.14zM346.24 476.56h12.14v2.49h-12.14zM346.24 480.84h12.14v2.49h-12.14zM346.24 484.05h12.14v1.42h-12.14zM346.24 486.19h12.14v2.49h-12.14zM346.24 491.55h12.14v1.42h-12.14zM346.24 493.69h12.14v1.42h-12.14zM346.24 500.11h12.14v2.49h-12.14zM346.24 503.32h12.14v1.42h-12.14zM346.24 505.47h12.14v1.42h-12.14zM346.24 510.82h12.14v1.42h-12.14zM346.24 515.1h12.14v1.42h-12.14zM346.24 526.88h12.14v2.49h-12.14zM346.24 532.23h12.14v1.42h-12.14zM346.24 534.38h12.14v1.42h-12.14zM346.24 537.59h12.14v1.42h-12.14zM358.03 416.6h12.14v1.42h-12.14zM358.03 463.71h12.14v1.42h-12.14zM358.03 472.27h12.14v1.42h-12.14zM358.03 476.56h12.14v1.42h-12.14zM358.03 484.05h12.14v1.42h-12.14zM358.03 490.48h12.14v2.49h-12.14zM358.03 497.97h12.14v2.49h-12.14zM358.03 504.4h12.14v1.42h-12.14zM358.03 514.03h12.14v1.42h-12.14zM358.03 527.95h12.14v1.42h-12.14zM358.03 531.16h12.14v1.42h-12.14zM358.03 534.38h12.14v1.42h-12.14zM358.03 537.59h12.14v1.42h-12.14zM369.82 455.14h12.14v1.42h-12.14zM369.82 460.5h12.14v1.42h-12.14zM369.82 462.64h12.14v1.42h-12.14zM369.82 464.78h12.14v1.42h-12.14zM369.82 467.99h12.14v1.42h-12.14zM369.82 487.26h12.14v1.42h-12.14zM369.82 506.54h12.14v2.49h-12.14zM369.82 519.39h12.14v1.42h-12.14zM369.82 524.74h12.14v1.42h-12.14zM381.61 464.78h12.14v1.42h-12.14zM381.61 481.91h12.14v1.42h-12.14zM381.61 516.17h12.14v2.49h-12.14zM381.61 527.95h12.14v1.42h-12.14zM393.4 424.09h12.14v1.42h-12.14zM393.4 473.34h12.14v1.42h-12.14zM393.4 476.56h12.14v1.42h-12.14zM393.4 506.54h12.14v1.42h-12.14zM393.4 516.17h12.14v1.42h-12.14zM393.4 524.74h12.14v1.42h-12.14zM393.4 536.52h12.14v1.42h-12.14zM405.19 444.44h11.79v2.49h-11.79zM405.19 455.14h11.79v3.56h-11.79zM405.19 465.85h11.79v1.42h-11.79zM405.19 501.18h11.79v1.42h-11.79zM405.19 506.54h11.79v1.42h-11.79zM405.19 516.17h11.79v2.49h-11.79z"/>
<path fill="#a294c8" d="M275.5 418.74h12.14v1.42h-12.14zM275.5 430.52h12.14v1.42h-12.14zM275.5 440.15h12.14v1.42h-12.14zM275.5 443.37h12.14v2.49h-12.14zM275.5 446.58h12.14v1.42h-12.14zM275.5 450.86h12.14v1.42h-12.14zM287.29 460.5h12.14v1.42h-12.14zM299.08 423.02h12.14v1.42h-12.14zM299.08 457.28h12.14v1.42h-12.14zM299.08 474.42h12.14v1.42h-12.14zM299.08 523.67h12.14v1.42h-12.14zM310.87 423.02h12.14v1.42h-12.14zM310.87 430.52h12.14v1.42h-12.14zM322.66 442.29h12.14v1.42h-12.14zM322.66 466.92h12.14v1.42h-12.14zM322.66 495.83h12.14v1.42h-12.14zM322.66 499.04h12.14v1.42h-12.14zM334.45 423.02h12.14v1.42h-12.14zM334.45 441.22h12.14v1.42h-12.14zM334.45 448.72h12.14v1.42h-12.14zM334.45 456.21h12.14v1.42h-12.14zM346.24 455.14h12.14v1.42h-12.14zM346.24 499.04h12.14v1.42h-12.14zM346.24 509.75h12.14v1.42h-12.14zM346.24 516.17h12.14v2.49h-12.14zM346.24 522.6h12.14v1.42h-12.14zM346.24 524.74h12.14v1.42h-12.14zM346.24 531.16h12.14v1.42h-12.14zM358.03 456.21h12.14v1.42h-12.14zM358.03 458.35h12.14v1.42h-12.14zM358.03 461.57h12.14v2.49h-12.14zM358.03 473.34h12.14v1.42h-12.14zM358.03 479.77h12.14v1.42h-12.14zM358.03 481.91h12.14v1.42h-12.14zM358.03 493.69h12.14v1.42h-12.14zM358.03 517.24h12.14v1.42h-12.14zM369.82 456.21h12.14v1.42h-12.14zM369.82 458.35h12.14v2.49h-12.14zM369.82 479.77h12.14v1.42h-12.14zM369.82 493.69h12.14v1.42h-12.14zM369.82 501.18h12.14v1.42h-12.14zM381.61 479.77h12.14v2.49h-12.14zM381.61 507.61h12.14v1.42h-12.14zM393.4 464.78h12.14v2.49h-12.14zM393.4 485.12h12.14v1.42h-12.14zM393.4 487.26h12.14v1.42h-12.14zM405.19 450.86h11.79v1.42h-11.79zM405.19 467.99h11.79v1.42h-11.79zM405.19 487.26h11.79v1.42h-11.79z"/>
<path fill="#ab9dcd" d="M275.5 419.81h12.14v1.42h-12.14zM275.5 436.94h12.14v1.42h-12.14zM287.29 458.35h12.14v1.42h-12.14zM299.08 476.56h12.14v1.42h-12.14zM310.87 480.84h12.14v1.42h-12.14zM322.66 460.5h12.14v1.42h-12.14zM322.66 492.62h12.14v1.42h-12.14zM322.66 506.54h12.14v1.42h-12.14zM334.45 455.14h12.14v1.42h-12.14zM334.45 486.19h12.14v1.42h-12.14zM334.45 491.55h12.14v1.42h-12.14zM334.45 506.54h12.14v1.42h-12.14zM334.45 526.88h12.14v1.42h-12.14zM346.24 456.21h12.14v1.42h-12.14zM346.24 467.99h12.14v1.42h-12.14zM346.24 507.61h12.14v1.42h-12.14zM346.24 521.53h12.14v1.42h-12.14zM346.24 525.81h12.14v1.42h-12.14zM346.24 533.3h12.14v1.42h-12.14zM358.03 460.5h12.14v1.42h-12.14zM358.03 464.78h12.14v1.42h-12.14zM358.03 467.99h12.14v1.42h-12.14zM358.03 480.84h12.14v1.42h-12.14zM358.03 485.12h12.14v1.42h-12.14zM358.03 487.26h12.14v1.42h-12.14zM358.03 506.54h12.14v1.42h-12.14zM358.03 516.17h12.14v1.42h-12.14zM358.03 524.74h12.14v2.49h-12.14zM369.82 485.12h12.14v1.42h-12.14zM381.61 404.82h12.14v1.42h-12.14zM381.61 416.6h12.14v1.42h-12.14zM381.61 467.99h12.14v1.42h-12.14zM381.61 487.26h12.14v1.42h-12.14zM381.61 506.54h12.14v1.42h-12.14zM393.4 411.24h12.14v1.42h-12.14zM393.4 423.02h12.14v1.42h-12.14zM393.4 467.99h12.14v1.42h-12.14zM393.4 479.77h12.14v1.42h-12.14zM405.19 449.79h11.79v1.42h-11.79zM405.19 485.12h11.79v1.42h-11.79zM405.19 536.52h11.79v1.42h-11.79z"/>
<path fill="#b3a7d1" d="M275.5 423.02h12.14v1.42h-12.14zM275.5 441.22h12.14v1.42h-12.14zM287.29 442.29h12.14v1.42h-12.14zM287.29 503.32h12.14v1.42h-12.14zM299.08 442.29h12.14v1.42h-12.14zM299.08 506.54h12.14v1.42h-12.14zM310.87 481.91h12.14v1.42h-12.14zM322.66 516.17h12.14v1.42h-12.14zM322.66 538.66h12.14v1.42h-12.14zM334.45 482.98h12.14v1.42h-12.14zM334.45 485.12h12.14v1.42h-12.14zM334.45 492.62h12.14v1.42h-12.14zM346.24 479.77h12.14v1.42h-12.14zM346.24 485.12h12.14v1.42h-12.14zM346.24 506.54h12.14v1.42h-12.14zM358.03 465.85h12.14v1.42h-12.14zM358.03 507.61h12.14v1.42h-12.14zM358.03 536.52h12.14v1.42h-12.14zM381.61 399.47h12.14v1.42h-12.14zM381.61 405.89h12.14v1.42h-12.14zM381.61 415.53h12.14v1.42h-12.14zM381.61 536.52h12.14v1.42h-12.14zM393.4 406.96h12.14v1.42h-12.14zM393.4 421.95h12.14v1.42h-12.14zM405.19 416.6h11.79v1.42h-11.79zM405.19 512.96h11.79v1.42h-11.79z"/>
<path fill="#d6cde2" d="M275.5 442.29h12.14v1.42h-12.14zM275.5 457.28h12.14v1.42h-12.14zM287.29 455.14h12.14v2.49h-12.14zM299.08 473.34h12.14v1.42h-12.14zM299.08 489.41h12.14v2.49h-12.14zM310.87 461.57h12.14v1.42h-12.14zM310.87 482.98h12.14v1.42h-12.14zM310.87 490.48h12.14v1.42h-12.14zM310.87 521.53h12.14v1.42h-12.14zM310.87 525.81h12.14v1.42h-12.14zM322.66 472.27h12.14v1.42h-12.14zM322.66 488.33h12.14v1.42h-12.14zM322.66 508.68h12.14v1.42h-12.14zM322.66 521.53h12.14v1.42h-12.14zM322.66 536.52h12.14v1.42h-12.14zM334.45 521.53h12.14v1.42h-12.14zM358.03 401.61h12.14v1.42h-12.14zM358.03 414.46h12.14v1.42h-12.14zM369.82 395.18h12.14v1.42h-12.14zM369.82 397.32h12.14v1.42h-12.14zM369.82 423.02h12.14v1.42h-12.14zM381.61 411.24h12.14v1.42h-12.14zM381.61 454.07h12.14v1.42h-12.14zM393.4 404.82h12.14v1.42h-12.14zM393.4 433.73h12.14v1.42h-12.14zM393.4 442.29h12.14v1.42h-12.14zM405.19 401.61h11.79v1.42h-11.79z"/>
<path fill="#6651ab" d="M275.5 454.07h12.14v1.42h-12.14zM287.29 404.82h12.14v1.42h-12.14zM299.08 393.04h12.14v1.42h-12.14zM299.08 395.18h12.14v1.42h-12.14zM299.08 439.08h12.14v1.42h-12.14zM299.08 445.51h12.14v1.42h-12.14zM299.08 454.07h12.14v1.42h-12.14zM310.87 443.37h12.14v1.42h-12.14zM322.66 393.04h12.14v1.42h-12.14zM322.66 404.82h12.14v1.42h-12.14zM322.66 414.46h12.14v1.42h-12.14zM322.66 420.88h12.14v1.42h-12.14zM322.66 426.23h12.14v2.49h-12.14zM322.66 443.37h12.14v1.42h-12.14zM322.66 446.58h12.14v1.42h-12.14zM334.45 525.81h12.14v1.42h-12.14zM369.82 471.2h12.14v1.42h-12.14zM381.61 538.66h12.14v1.42h-12.14zM393.4 532.23h12.14v1.42h-12.14zM405.19 471.2h11.79v1.42h-11.79z"/>
<path fill="#e7e0ea" d="M275.5 455.14h12.14v1.42h-12.14zM275.5 530.09h12.14v1.42h-12.14zM287.29 459.43h12.14v1.42h-12.14zM287.29 509.75h12.14v1.42h-12.14zM287.29 537.59h12.14v1.42h-12.14zM299.08 456.21h12.14v1.42h-12.14zM299.08 458.35h12.14v1.42h-12.14zM299.08 460.5h12.14v1.42h-12.14zM299.08 486.19h12.14v1.42h-12.14zM299.08 493.69h12.14v1.42h-12.14zM299.08 505.47h12.14v1.42h-12.14zM299.08 518.31h12.14v1.42h-12.14zM299.08 520.46h12.14v1.42h-12.14zM310.87 466.92h12.14v2.49h-12.14zM310.87 478.7h12.14v1.42h-12.14zM310.87 515.1h12.14v1.42h-12.14zM310.87 532.23h12.14v1.42h-12.14zM310.87 535.45h12.14v1.42h-12.14zM322.66 482.98h12.14v1.42h-12.14zM322.66 522.6h12.14v4.63h-12.14zM334.45 467.99h12.14v1.42h-12.14zM334.45 477.63h12.14v2.49h-12.14zM334.45 493.69h12.14v1.42h-12.14zM334.45 515.1h12.14v2.49h-12.14zM358.03 397.32h12.14v1.42h-12.14zM369.82 431.59h12.14v1.42h-12.14zM369.82 449.79h12.14v1.42h-12.14zM381.61 419.81h12.14v1.42h-12.14zM381.61 424.09h12.14v1.42h-12.14zM381.61 431.59h12.14v1.42h-12.14zM381.61 434.8h12.14v1.42h-12.14zM381.61 449.79h12.14v2.49h-12.14zM393.4 390.9h12.14v1.42h-12.14zM393.4 393.04h12.14v1.42h-12.14zM393.4 395.18h12.14v1.42h-12.14zM393.4 425.16h12.14v1.42h-12.14zM393.4 443.37h12.14v1.42h-12.14zM405.19 391.97h11.79v1.42h-11.79zM405.19 413.38h11.79v1.42h-11.79zM405.19 419.81h11.79v1.42h-11.79zM405.19 428.38h11.79v1.42h-11.79zM405.19 443.37h11.79v1.42h-11.79z"/>
<path fill="#f7ebe9" d="M275.5 456.21h12.14v1.42h-12.14zM287.29 471.2h12.14v1.42h-12.14zM287.29 484.05h12.14v1.42h-12.14zM287.29 494.76h12.14v1.42h-12.14zM287.29 515.1h12.14v1.42h-12.14zM287.29 526.88h12.14v1.42h-12.14zM287.29 535.45h12.14v1.42h-12.14zM299.08 466.92h12.14v1.42h-12.14zM299.08 472.27h12.14v1.42h-12.14zM299.08 531.16h12.14v1.42h-12.14zM310.87 486.19h12.14v2.49h-12.14zM310.87 503.32h12.14v1.42h-12.14zM310.87 505.47h12.14v1.42h-12.14zM310.87 520.46h12.14v1.42h-12.14zM310.87 536.52h12.14v1.42h-12.14zM310.87 539.73h12.14v1.07h-12.14zM322.66 471.2h12.14v1.42h-12.14zM334.45 470.13h12.14v1.42h-12.14zM334.45 479.77h12.14v1.42h-12.14zM334.45 490.48h12.14v1.42h-12.14zM334.45 539.73h12.14v1.07h-12.14zM346.24 405.89h12.14v2.49h-12.14zM346.24 415.53h12.14v1.42h-12.14zM346.24 433.73h12.14v1.42h-12.14zM358.03 402.68h12.14v1.42h-12.14zM358.03 417.67h12.14v1.42h-12.14zM358.03 432.66h12.14v1.42h-12.14zM369.82 405.89h12.14v1.42h-12.14zM369.82 415.53h12.14v1.42h-12.14zM369.82 425.16h12.14v1.42h-12.14zM369.82 438.01h12.14v1.42h-12.14zM381.61 420.88h12.14v1.42h-12.14zM381.61 448.72h12.14v1.42h-12.14zM381.61 453h12.14v1.42h-12.14zM393.4 399.47h12.14v2.49h-12.14zM393.4 441.22h12.14v1.42h-12.14zM393.4 445.51h12.14v3.56h-12.14zM405.19 394.11h11.79v1.42h-11.79zM405.19 398.39h11.79v1.42h-11.79zM405.19 406.96h11.79v1.42h-11.79zM405.19 414.46h11.79v1.42h-11.79zM405.19 424.09h11.79v1.42h-11.79zM405.19 442.29h11.79v1.42h-11.79zM405.19 454.07h11.79v1.42h-11.79z"/>
<path fill="#f6e3df" d="M275.5 458.35h12.14v2.49h-12.14zM275.5 492.62h12.14v1.42h-12.14zM275.5 529.02h12.14v1.42h-12.14zM275.5 533.3h12.14v1.42h-12.14zM287.29 465.85h12.14v2.49h-12.14zM287.29 469.06h12.14v1.42h-12.14zM287.29 472.27h12.14v1.42h-12.14zM287.29 501.18h12.14v1.42h-12.14zM287.29 534.38h12.14v1.42h-12.14zM299.08 462.64h12.14v1.42h-12.14zM299.08 465.85h12.14v1.42h-12.14zM299.08 480.84h12.14v1.42h-12.14zM299.08 529.02h12.14v1.42h-12.14zM299.08 537.59h12.14v1.42h-12.14zM310.87 455.14h12.14v1.42h-12.14zM310.87 463.71h12.14v1.42h-12.14zM310.87 500.11h12.14v1.42h-12.14zM310.87 517.24h12.14v1.42h-12.14zM310.87 526.88h12.14v1.42h-12.14zM310.87 531.16h12.14v1.42h-12.14zM310.87 534.38h12.14v1.42h-12.14zM322.66 465.85h12.14v1.42h-12.14zM322.66 473.34h12.14v1.42h-12.14zM322.66 475.49h12.14v2.49h-12.14zM322.66 484.05h12.14v1.42h-12.14zM322.66 510.82h12.14v1.42h-12.14zM322.66 526.88h12.14v1.42h-12.14zM322.66 531.16h12.14v1.42h-12.14zM322.66 533.3h12.14v1.42h-12.14zM334.45 501.18h12.14v1.42h-12.14zM334.45 511.89h12.14v1.42h-12.14zM334.45 518.31h12.14v1.42h-12.14zM346.24 409.1h12.14v1.42h-12.14zM346.24 428.38h12.14v1.42h-12.14zM358.03 404.82h12.14v1.42h-12.14zM369.82 451.93h12.14v1.42h-12.14zM381.61 423.02h12.14v1.42h-12.14zM381.61 440.15h12.14v1.42h-12.14zM393.4 403.75h12.14v1.42h-12.14zM393.4 410.17h12.14v1.42h-12.14zM393.4 415.53h12.14v1.42h-12.14zM393.4 426.23h12.14v1.42h-12.14zM393.4 429.45h12.14v1.42h-12.14zM393.4 436.94h12.14v1.42h-12.14zM405.19 397.32h11.79v1.42h-11.79zM405.19 441.22h11.79v1.42h-11.79z"/>
<path fill="#f5dbd5" d="M275.5 460.5h12.14v1.42h-12.14zM275.5 518.31h12.14v1.42h-12.14zM275.5 534.38h12.14v1.42h-12.14zM287.29 461.57h12.14v1.42h-12.14zM287.29 474.42h12.14v1.42h-12.14zM287.29 480.84h12.14v3.56h-12.14zM287.29 500.11h12.14v1.42h-12.14zM287.29 511.89h12.14v3.56h-12.14zM287.29 516.17h12.14v1.42h-12.14zM287.29 522.6h12.14v1.42h-12.14zM299.08 467.99h12.14v2.49h-12.14zM299.08 482.98h12.14v1.42h-12.14zM299.08 501.18h12.14v2.49h-12.14zM299.08 525.81h12.14v1.42h-12.14zM299.08 533.3h12.14v1.42h-12.14zM299.08 539.73h12.14v1.07h-12.14zM310.87 473.34h12.14v1.42h-12.14zM310.87 506.54h12.14v1.42h-12.14zM310.87 519.39h12.14v1.42h-12.14zM310.87 537.59h12.14v2.49h-12.14zM322.66 464.78h12.14v1.42h-12.14zM322.66 470.13h12.14v1.42h-12.14zM322.66 511.89h12.14v1.42h-12.14zM322.66 530.09h12.14v1.42h-12.14zM334.45 459.43h12.14v1.42h-12.14zM334.45 462.64h12.14v1.42h-12.14zM346.24 404.82h12.14v1.42h-12.14zM346.24 411.24h12.14v1.42h-12.14zM346.24 429.45h12.14v1.42h-12.14zM346.24 431.59h12.14v1.42h-12.14zM369.82 394.11h12.14v1.42h-12.14zM369.82 440.15h12.14v1.42h-12.14zM369.82 453h12.14v2.49h-12.14zM381.61 396.25h12.14v1.42h-12.14zM381.61 443.37h12.14v1.42h-12.14zM393.4 396.25h12.14v1.42h-12.14zM393.4 416.6h12.14v1.42h-12.14zM393.4 435.87h12.14v1.42h-12.14zM393.4 449.79h12.14v1.42h-12.14zM393.4 454.07h12.14v1.42h-12.14zM405.19 418.74h11.79v1.42h-11.79zM405.19 423.02h11.79v1.42h-11.79zM405.19 431.59h11.79v1.42h-11.79z"/>
<path fill="#efa28e" d="M275.5 461.57h12.14v2.49h-12.14zM275.5 474.42h12.14v1.42h-12.14zM275.5 480.84h12.14v1.42h-12.14zM275.5 485.12h12.14v2.49h-12.14zM275.5 501.18h12.14v1.42h-12.14zM275.5 517.24h12.14v1.42h-12.14zM275.5 526.88h12.14v1.42h-12.14zM287.29 518.31h12.14v1.42h-12.14zM299.08 470.13h12.14v1.42h-12.14zM310.87 509.75h12.14v1.42h-12.14zM346.24 395.18h12.14v1.42h-12.14zM346.24 420.88h12.14v1.42h-12.14zM346.24 434.8h12.14v1.42h-12.14zM358.03 408.03h12.14v1.42h-12.14zM358.03 410.17h12.14v1.42h-12.14zM358.03 429.45h12.14v1.42h-12.14zM369.82 419.81h12.14v1.42h-12.14zM369.82 427.3h12.14v2.49h-12.14zM369.82 446.58h12.14v1.42h-12.14zM393.4 418.74h12.14v1.42h-12.14z"/>
<path fill="#ee9984" d="M275.5 463.71h12.14v1.42h-12.14zM275.5 489.41h12.14v1.42h-12.14zM275.5 491.55h12.14v1.42h-12.14zM275.5 509.75h12.14v2.49h-12.14zM287.29 486.19h12.14v1.42h-12.14zM310.87 495.83h12.14v2.49h-12.14zM346.24 446.58h12.14v2.49h-12.14zM358.03 409.1h12.14v1.42h-12.14zM358.03 420.88h12.14v1.42h-12.14zM358.03 444.44h12.14v1.42h-12.14zM358.03 447.65h12.14v1.42h-12.14zM369.82 444.44h12.14v1.42h-12.14zM381.61 390.9h12.14v1.42h-12.14zM381.61 395.18h12.14v1.42h-12.14z"/>
<path fill="#eb8166" d="M275.5 464.78h12.14v1.42h-12.14zM275.5 506.54h12.14v1.42h-12.14zM275.5 514.03h12.14v1.42h-12.14zM275.5 525.81h12.14v1.42h-12.14zM275.5 539.73h12.14v1.07h-12.14zM299.08 514.03h12.14v1.42h-12.14zM346.24 425.16h12.14v1.42h-12.14zM369.82 434.8h12.14v1.42h-12.14z"/>
<path fill="#f0aa99" d="M275.5 465.85h12.14v1.42h-12.14zM275.5 478.7h12.14v1.42h-12.14zM275.5 496.9h12.14v1.42h-12.14zM275.5 507.61h12.14v1.42h-12.14zM275.5 524.74h12.14v1.42h-12.14zM275.5 535.45h12.14v1.42h-12.14zM287.29 475.49h12.14v1.42h-12.14zM299.08 527.95h12.14v1.42h-12.14zM310.87 471.2h12.14v1.42h-12.14zM310.87 497.97h12.14v1.42h-12.14zM322.66 539.73h12.14v1.07h-12.14zM334.45 512.96h12.14v1.42h-12.14zM346.24 412.31h12.14v1.42h-12.14zM346.24 444.44h12.14v1.42h-12.14zM358.03 406.96h12.14v1.42h-12.14zM358.03 438.01h12.14v1.42h-12.14zM358.03 446.58h12.14v1.42h-12.14zM369.82 417.67h12.14v1.42h-12.14zM369.82 436.94h12.14v1.42h-12.14zM369.82 443.37h12.14v1.42h-12.14zM381.61 394.11h12.14v1.42h-12.14zM393.4 401.61h12.14v1.42h-12.14zM393.4 419.81h12.14v1.42h-12.14z"/>
<path fill="#f2baad" d="M275.5 466.92h12.14v1.42h-12.14zM275.5 473.34h12.14v1.42h-12.14zM275.5 477.63h12.14v1.42h-12.14zM275.5 479.77h12.14v1.42h-12.14zM275.5 484.05h12.14v1.42h-12.14zM275.5 503.32h12.14v2.49h-12.14zM287.29 485.12h12.14v1.42h-12.14zM287.29 487.26h12.14v1.42h-12.14zM287.29 520.46h12.14v1.42h-12.14zM287.29 533.3h12.14v1.42h-12.14zM299.08 461.57h12.14v1.42h-12.14zM299.08 484.05h12.14v1.42h-12.14zM299.08 536.52h12.14v1.42h-12.14zM310.87 469.06h12.14v1.42h-12.14zM310.87 501.18h12.14v1.42h-12.14zM310.87 516.17h12.14v1.42h-12.14zM322.66 527.95h12.14v1.42h-12.14zM322.66 532.23h12.14v1.42h-12.14zM346.24 413.38h12.14v1.42h-12.14zM346.24 419.81h12.14v1.42h-12.14zM346.24 438.01h12.14v1.42h-12.14zM358.03 419.81h12.14v1.42h-12.14zM358.03 426.23h12.14v2.49h-12.14zM358.03 431.59h12.14v1.42h-12.14zM358.03 450.86h12.14v1.42h-12.14zM369.82 445.51h12.14v1.42h-12.14zM369.82 447.65h12.14v1.42h-12.14zM381.61 439.08h12.14v1.42h-12.14zM393.4 417.67h12.14v1.42h-12.14zM393.4 420.88h12.14v1.42h-12.14zM393.4 444.44h12.14v1.42h-12.14zM405.19 436.94h11.79v1.42h-11.79z"/>
<path fill="#f4cac1" d="M275.5 467.99h12.14v1.42h-12.14zM275.5 493.69h12.14v1.42h-12.14zM275.5 495.83h12.14v1.42h-12.14zM287.29 477.63h12.14v1.42h-12.14zM287.29 490.48h12.14v1.42h-12.14zM287.29 496.9h12.14v1.42h-12.14zM287.29 519.39h12.14v1.42h-12.14zM287.29 530.09h12.14v1.42h-12.14zM299.08 463.71h12.14v1.42h-12.14zM299.08 516.17h12.14v1.42h-12.14zM299.08 526.88h12.14v1.42h-12.14zM310.87 504.4h12.14v1.42h-12.14zM310.87 522.6h12.14v1.42h-12.14zM322.66 529.02h12.14v1.42h-12.14zM334.45 463.71h12.14v1.42h-12.14zM334.45 465.85h12.14v1.42h-12.14zM346.24 396.25h12.14v1.42h-12.14zM346.24 445.51h12.14v1.42h-12.14zM358.03 393.04h12.14v1.42h-12.14zM358.03 424.09h12.14v1.42h-12.14zM358.03 428.38h12.14v1.42h-12.14zM358.03 434.8h12.14v1.42h-12.14zM358.03 454.07h12.14v1.42h-12.14zM369.82 391.97h12.14v1.42h-12.14zM369.82 416.6h12.14v1.42h-12.14zM369.82 429.45h12.14v1.42h-12.14zM381.61 421.95h12.14v1.42h-12.14zM381.61 442.29h12.14v1.42h-12.14zM381.61 444.44h12.14v1.42h-12.14zM393.4 450.86h12.14v1.42h-12.14zM405.19 434.8h11.79v1.42h-11.79zM405.19 453h11.79v1.42h-11.79z"/>
<path fill="#ed917a" d="M275.5 469.06h12.14v1.42h-12.14zM275.5 471.2h12.14v1.42h-12.14zM275.5 505.47h12.14v1.42h-12.14zM299.08 495.83h12.14v2.49h-12.14zM299.08 512.96h12.14v1.42h-12.14zM334.45 460.5h12.14v1.42h-12.14zM346.24 390.9h12.14v1.42h-12.14zM346.24 393.04h12.14v1.42h-12.14zM346.24 421.95h12.14v1.42h-12.14zM346.24 426.23h12.14v1.42h-12.14zM346.24 440.15h12.14v1.42h-12.14zM346.24 443.37h12.14v1.42h-12.14zM346.24 448.72h12.14v1.42h-12.14zM346.24 450.86h12.14v1.42h-12.14zM358.03 440.15h12.14v1.42h-12.14zM358.03 445.51h12.14v1.42h-12.14zM369.82 404.82h12.14v1.42h-12.14zM369.82 418.74h12.14v1.42h-12.14zM369.82 435.87h12.14v1.42h-12.14zM381.61 393.04h12.14v1.42h-12.14z"/>
<path fill="#ec8970" d="M275.5 470.13h12.14v1.42h-12.14zM275.5 497.97h12.14v1.42h-12.14zM275.5 502.25h12.14v1.42h-12.14zM275.5 508.68h12.14v1.42h-12.14zM275.5 515.1h12.14v1.42h-12.14zM275.5 536.52h12.14v2.49h-12.14zM287.29 497.97h12.14v1.42h-12.14zM287.29 532.23h12.14v1.42h-12.14zM287.29 538.66h12.14v1.42h-12.14zM310.87 475.49h12.14v1.42h-12.14zM346.24 398.39h12.14v1.42h-12.14zM346.24 400.54h12.14v1.42h-12.14zM346.24 414.46h12.14v1.42h-12.14zM346.24 441.22h12.14v2.49h-12.14zM346.24 449.79h12.14v1.42h-12.14zM346.24 454.07h12.14v1.42h-12.14zM358.03 421.95h12.14v1.42h-12.14zM358.03 430.52h12.14v1.42h-12.14zM358.03 443.37h12.14v1.42h-12.14zM381.61 391.97h12.14v1.42h-12.14zM405.19 439.08h11.79v1.42h-11.79z"/>
<path fill="#e96848" d="M275.5 472.27h12.14v1.42h-12.14zM275.5 490.48h12.14v1.42h-12.14zM275.5 499.04h12.14v1.42h-12.14zM287.29 499.04h12.14v1.42h-12.14z"/>
<path fill="#f3c2b7" d="M275.5 475.49h12.14v1.42h-12.14zM275.5 481.91h12.14v1.42h-12.14zM275.5 494.76h12.14v1.42h-12.14zM275.5 519.39h12.14v2.49h-12.14zM287.29 492.62h12.14v1.42h-12.14zM287.29 529.02h12.14v1.42h-12.14zM299.08 455.14h12.14v1.42h-12.14zM299.08 481.91h12.14v1.42h-12.14zM299.08 499.04h12.14v1.42h-12.14zM299.08 510.82h12.14v1.42h-12.14zM299.08 530.09h12.14v1.42h-12.14zM299.08 532.23h12.14v1.42h-12.14zM299.08 538.66h12.14v1.42h-12.14zM310.87 492.62h12.14v1.42h-12.14zM310.87 494.76h12.14v1.42h-12.14zM310.87 499.04h12.14v1.42h-12.14zM310.87 533.3h12.14v1.42h-12.14zM334.45 461.57h12.14v1.42h-12.14zM334.45 464.78h12.14v1.42h-12.14zM334.45 494.76h12.14v1.42h-12.14zM334.45 496.9h12.14v1.42h-12.14zM346.24 397.32h12.14v1.42h-12.14zM346.24 399.47h12.14v1.42h-12.14zM346.24 408.03h12.14v1.42h-12.14zM346.24 410.17h12.14v1.42h-12.14zM346.24 435.87h12.14v1.42h-12.14zM358.03 390.9h12.14v2.49h-12.14zM358.03 411.24h12.14v1.42h-12.14zM358.03 436.94h12.14v1.42h-12.14zM358.03 449.79h12.14v1.42h-12.14zM358.03 451.93h12.14v2.49h-12.14zM369.82 390.9h12.14v1.42h-12.14zM369.82 393.04h12.14v1.42h-12.14zM369.82 409.1h12.14v1.42h-12.14zM369.82 420.88h12.14v1.42h-12.14zM369.82 426.23h12.14v1.42h-12.14zM369.82 439.08h12.14v1.42h-12.14zM369.82 442.29h12.14v1.42h-12.14zM381.61 446.58h12.14v2.49h-12.14zM393.4 451.93h12.14v2.49h-12.14zM405.19 409.1h11.79v1.42h-11.79zM405.19 433.73h11.79v1.42h-11.79z"/>
<path fill="#f4d2cb" d="M275.5 476.56h12.14v1.42h-12.14zM275.5 521.53h12.14v2.49h-12.14zM275.5 527.95h12.14v1.42h-12.14zM287.29 464.78h12.14v1.42h-12.14zM287.29 473.34h12.14v1.42h-12.14zM287.29 476.56h12.14v1.42h-12.14zM287.29 478.7h12.14v2.49h-12.14zM287.29 489.41h12.14v1.42h-12.14zM287.29 493.69h12.14v1.42h-12.14zM287.29 521.53h12.14v1.42h-12.14zM287.29 527.95h12.14v1.42h-12.14zM287.29 539.73h12.14v1.07h-12.14zM299.08 485.12h12.14v1.42h-12.14zM299.08 494.76h12.14v1.42h-12.14zM299.08 515.1h12.14v1.42h-12.14zM299.08 535.45h12.14v1.42h-12.14zM310.87 470.13h12.14v1.42h-12.14zM310.87 493.69h12.14v1.42h-12.14zM310.87 502.25h12.14v1.42h-12.14zM310.87 507.61h12.14v2.49h-12.14zM310.87 514.03h12.14v1.42h-12.14zM310.87 518.31h12.14v1.42h-12.14zM322.66 479.77h12.14v3.56h-12.14zM334.45 495.83h12.14v1.42h-12.14zM334.45 497.97h12.14v2.49h-12.14zM334.45 514.03h12.14v1.42h-12.14zM334.45 530.09h12.14v1.42h-12.14zM346.24 402.68h12.14v2.49h-12.14zM346.24 417.67h12.14v1.42h-12.14zM346.24 427.3h12.14v1.42h-12.14zM358.03 435.87h12.14v1.42h-12.14zM369.82 403.75h12.14v1.42h-12.14zM369.82 406.96h12.14v2.49h-12.14zM369.82 411.24h12.14v1.42h-12.14zM369.82 413.38h12.14v1.42h-12.14zM369.82 421.95h12.14v1.42h-12.14zM369.82 430.52h12.14v1.42h-12.14zM369.82 432.66h12.14v2.49h-12.14zM369.82 450.86h12.14v1.42h-12.14zM381.61 397.32h12.14v1.42h-12.14zM381.61 445.51h12.14v1.42h-12.14zM393.4 391.97h12.14v1.42h-12.14zM393.4 430.52h12.14v1.42h-12.14zM393.4 438.01h12.14v2.49h-12.14zM405.19 395.18h11.79v1.42h-11.79zM405.19 421.95h11.79v1.42h-11.79zM405.19 430.52h11.79v1.42h-11.79zM405.19 438.01h11.79v1.42h-11.79z"/>
<path fill="#ea795c" d="M275.5 482.98h12.14v1.42h-12.14zM275.5 487.26h12.14v2.49h-12.14zM275.5 538.66h12.14v1.42h-12.14zM310.87 474.42h12.14v1.42h-12.14zM346.24 451.93h12.14v2.49h-12.14zM358.03 423.02h12.14v1.42h-12.14zM358.03 439.08h12.14v1.42h-12.14z"/>
<path fill="#ea7152" d="M275.5 500.11h12.14v1.42h-12.14zM275.5 511.89h12.14v1.42h-12.14zM299.08 511.89h12.14v1.42h-12.14zM346.24 391.97h12.14v1.42h-12.14z"/>
<path fill="#e8603e" d="M275.5 512.96h12.14v1.42h-12.14z"/>
<path fill="#e75834" d="M275.5 516.17h12.14v1.42h-12.14z"/>
<path fill="#f1b2a3" d="M275.5 523.67h12.14v1.42h-12.14zM287.29 488.33h12.14v1.42h-12.14zM287.29 491.55h12.14v1.42h-12.14zM287.29 495.83h12.14v1.42h-12.14zM287.29 517.24h12.14v1.42h-12.14zM287.29 531.16h12.14v1.42h-12.14zM299.08 497.97h12.14v1.42h-12.14zM299.08 503.32h12.14v1.42h-12.14zM310.87 465.85h12.14v1.42h-12.14zM310.87 472.27h12.14v1.42h-12.14zM310.87 476.56h12.14v2.49h-12.14zM310.87 510.82h12.14v3.56h-12.14zM322.66 477.63h12.14v1.42h-12.14zM334.45 469.06h12.14v1.42h-12.14zM346.24 394.11h12.14v1.42h-12.14zM346.24 418.74h12.14v1.42h-12.14zM346.24 423.02h12.14v2.49h-12.14zM346.24 430.52h12.14v1.42h-12.14zM346.24 436.94h12.14v1.42h-12.14zM346.24 439.08h12.14v1.42h-12.14zM358.03 405.89h12.14v1.42h-12.14zM358.03 418.74h12.14v1.42h-12.14zM358.03 425.16h12.14v1.42h-12.14zM358.03 441.22h12.14v2.49h-12.14zM358.03 448.72h12.14v1.42h-12.14zM369.82 396.25h12.14v1.42h-12.14zM369.82 414.46h12.14v1.42h-12.14zM393.4 448.72h12.14v1.42h-12.14zM405.19 432.66h11.79v1.42h-11.79zM405.19 435.87h11.79v1.42h-11.79zM405.19 440.15h11.79v1.42h-11.79z"/>
<path fill="#f8f3f3" d="M275.5 531.16h12.14v2.49h-12.14zM287.29 467.99h12.14v1.42h-12.14zM287.29 470.13h12.14v1.42h-12.14zM287.29 504.4h12.14v1.42h-12.14zM287.29 536.52h12.14v1.42h-12.14zM299.08 471.2h12.14v1.42h-12.14zM299.08 504.4h12.14v1.42h-12.14zM299.08 509.75h12.14v1.42h-12.14zM299.08 517.24h12.14v1.42h-12.14zM299.08 519.39h12.14v1.42h-12.14zM310.87 456.21h12.14v1.42h-12.14zM310.87 460.5h12.14v1.42h-12.14zM310.87 488.33h12.14v1.42h-12.14zM322.66 469.06h12.14v1.42h-12.14zM322.66 474.42h12.14v1.42h-12.14zM322.66 478.7h12.14v1.42h-12.14zM322.66 489.41h12.14v1.42h-12.14zM322.66 509.75h12.14v1.42h-12.14zM322.66 512.96h12.14v3.56h-12.14zM334.45 458.35h12.14v1.42h-12.14zM334.45 503.32h12.14v1.42h-12.14zM334.45 519.39h12.14v1.42h-12.14zM334.45 533.3h12.14v1.42h-12.14zM358.03 433.73h12.14v1.42h-12.14zM369.82 448.72h12.14v1.42h-12.14zM381.61 403.75h12.14v1.42h-12.14zM381.61 426.23h12.14v1.42h-12.14zM381.61 441.22h12.14v1.42h-12.14zM381.61 451.93h12.14v1.42h-12.14zM393.4 402.68h12.14v1.42h-12.14zM393.4 408.03h12.14v2.49h-12.14zM393.4 414.46h12.14v1.42h-12.14zM393.4 428.38h12.14v1.42h-12.14zM393.4 440.15h12.14v1.42h-12.14zM405.19 390.9h11.79v1.42h-11.79zM405.19 399.47h11.79v1.42h-11.79zM405.19 403.75h11.79v1.42h-11.79zM405.19 408.03h11.79v1.42h-11.79zM405.19 411.24h11.79v1.42h-11.79zM405.19 420.88h11.79v1.42h-11.79zM405.19 425.16h11.79v3.56h-11.79z"/>
<path fill="#c4bada" d="M287.29 457.28h12.14v1.42h-12.14zM287.29 505.47h12.14v1.42h-12.14zM287.29 507.61h12.14v1.42h-12.14zM299.08 475.49h12.14v1.42h-12.14zM299.08 507.61h12.14v1.42h-12.14zM299.08 522.6h12.14v1.42h-12.14zM310.87 489.41h12.14v1.42h-12.14zM310.87 527.95h12.14v2.49h-12.14zM322.66 459.43h12.14v1.42h-12.14zM322.66 467.99h12.14v1.42h-12.14zM322.66 496.9h12.14v1.42h-12.14zM322.66 518.31h12.14v3.56h-12.14zM322.66 535.45h12.14v1.42h-12.14zM334.45 473.34h12.14v1.42h-12.14zM334.45 475.49h12.14v1.42h-12.14zM334.45 481.91h12.14v1.42h-12.14zM334.45 487.26h12.14v2.49h-12.14zM334.45 509.75h12.14v1.42h-12.14zM346.24 512.96h12.14v1.42h-12.14zM358.03 395.18h12.14v1.42h-12.14zM358.03 403.75h12.14v1.42h-12.14zM358.03 412.31h12.14v1.42h-12.14zM358.03 512.96h12.14v1.42h-12.14zM381.61 400.54h12.14v1.42h-12.14zM381.61 414.46h12.14v1.42h-12.14zM381.61 436.94h12.14v1.42h-12.14zM381.61 512.96h12.14v1.42h-12.14zM393.4 405.89h12.14v1.42h-12.14zM405.19 451.93h11.79v1.42h-11.79z"/>
<path fill="#ded6e6" d="M287.29 462.64h12.14v2.49h-12.14zM287.29 525.81h12.14v1.42h-12.14zM299.08 477.63h12.14v2.49h-12.14zM299.08 492.62h12.14v1.42h-12.14zM299.08 534.38h12.14v1.42h-12.14zM310.87 462.64h12.14v1.42h-12.14zM310.87 464.78h12.14v1.42h-12.14zM310.87 491.55h12.14v1.42h-12.14zM310.87 524.74h12.14v1.42h-12.14zM322.66 455.14h12.14v1.42h-12.14zM322.66 461.57h12.14v3.56h-12.14zM322.66 486.19h12.14v1.42h-12.14zM322.66 507.61h12.14v1.42h-12.14zM322.66 537.59h12.14v1.42h-12.14zM334.45 500.11h12.14v1.42h-12.14zM334.45 520.46h12.14v1.42h-12.14zM334.45 531.16h12.14v1.42h-12.14zM334.45 534.38h12.14v5.7h-12.14zM358.03 398.39h12.14v1.42h-12.14zM358.03 413.38h12.14v1.42h-12.14zM381.61 402.68h12.14v1.42h-12.14zM381.61 410.17h12.14v1.42h-12.14zM381.61 413.38h12.14v1.42h-12.14zM381.61 425.16h12.14v1.42h-12.14zM381.61 427.3h12.14v1.42h-12.14zM381.61 433.73h12.14v1.42h-12.14zM393.4 412.31h12.14v1.42h-12.14zM393.4 427.3h12.14v1.42h-12.14zM393.4 431.59h12.14v1.42h-12.14zM393.4 434.8h12.14v1.42h-12.14zM405.19 396.25h11.79v1.42h-11.79zM405.19 402.68h11.79v1.42h-11.79zM405.19 404.82h11.79v1.42h-11.79zM405.19 412.31h11.79v1.42h-11.79z"/>
<path fill="#efe9ef" d="M287.29 502.25h12.14v1.42h-12.14zM287.29 510.82h12.14v1.42h-12.14zM299.08 459.43h12.14v1.42h-12.14zM299.08 464.78h12.14v1.42h-12.14zM299.08 491.55h12.14v1.42h-12.14zM299.08 500.11h12.14v1.42h-12.14zM299.08 508.68h12.14v1.42h-12.14zM299.08 521.53h12.14v1.42h-12.14zM310.87 457.28h12.14v1.42h-12.14zM310.87 485.12h12.14v1.42h-12.14zM322.66 485.12h12.14v1.42h-12.14zM322.66 534.38h12.14v1.42h-12.14zM334.45 466.92h12.14v1.42h-12.14zM334.45 471.2h12.14v1.42h-12.14zM334.45 476.56h12.14v1.42h-12.14zM334.45 480.84h12.14v1.42h-12.14zM334.45 502.25h12.14v1.42h-12.14zM334.45 517.24h12.14v1.42h-12.14zM334.45 529.02h12.14v1.42h-12.14zM334.45 532.23h12.14v1.42h-12.14zM346.24 401.61h12.14v1.42h-12.14zM346.24 416.6h12.14v1.42h-12.14zM369.82 401.61h12.14v2.49h-12.14zM369.82 410.17h12.14v1.42h-12.14zM369.82 412.31h12.14v1.42h-12.14zM369.82 424.09h12.14v1.42h-12.14zM369.82 441.22h12.14v1.42h-12.14zM381.61 398.39h12.14v1.42h-12.14zM381.61 408.03h12.14v1.42h-12.14zM381.61 418.74h12.14v1.42h-12.14zM381.61 430.52h12.14v1.42h-12.14zM393.4 394.11h12.14v1.42h-12.14zM393.4 397.32h12.14v2.49h-12.14zM393.4 413.38h12.14v1.42h-12.14zM405.19 393.04h11.79v1.42h-11.79zM405.19 410.17h11.79v1.42h-11.79zM405.19 429.45h11.79v1.42h-11.79z"/>
<path fill="#bcb0d5" d="M287.29 506.54h12.14v1.42h-12.14zM310.87 442.29h12.14v1.42h-12.14zM310.87 459.43h12.14v1.42h-12.14zM310.87 484.05h12.14v1.42h-12.14zM310.87 523.67h12.14v1.42h-12.14zM322.66 456.21h12.14v1.42h-12.14zM322.66 494.76h12.14v1.42h-12.14zM322.66 497.97h12.14v1.42h-12.14zM334.45 442.29h12.14v1.42h-12.14zM334.45 474.42h12.14v1.42h-12.14zM334.45 489.41h12.14v1.42h-12.14zM334.45 508.68h12.14v1.42h-12.14zM346.24 523.67h12.14v1.42h-12.14zM346.24 536.52h12.14v1.42h-12.14zM358.03 399.47h12.14v1.42h-12.14zM358.03 415.53h12.14v1.42h-12.14zM369.82 400.54h12.14v1.42h-12.14zM369.82 512.96h12.14v1.42h-12.14zM369.82 536.52h12.14v1.42h-12.14zM381.61 401.61h12.14v1.42h-12.14zM381.61 409.1h12.14v1.42h-12.14zM381.61 417.67h12.14v1.42h-12.14zM381.61 428.38h12.14v1.42h-12.14zM393.4 512.96h12.14v1.42h-12.14zM405.19 415.53h11.79v1.42h-11.79z"/>
<path fill="#cdc3de" d="M287.29 523.67h12.14v2.49h-12.14zM299.08 479.77h12.14v1.42h-12.14zM299.08 487.26h12.14v2.49h-12.14zM299.08 524.74h12.14v1.42h-12.14zM310.87 458.35h12.14v1.42h-12.14zM310.87 530.09h12.14v1.42h-12.14zM322.66 487.26h12.14v1.42h-12.14zM322.66 490.48h12.14v1.42h-12.14zM334.45 472.27h12.14v1.42h-12.14zM334.45 504.4h12.14v1.42h-12.14zM334.45 527.95h12.14v1.42h-12.14zM346.24 432.66h12.14v1.42h-12.14zM358.03 394.11h12.14v1.42h-12.14zM358.03 396.25h12.14v1.42h-12.14zM358.03 400.54h12.14v1.42h-12.14zM369.82 399.47h12.14v1.42h-12.14zM381.61 429.45h12.14v1.42h-12.14zM381.61 432.66h12.14v1.42h-12.14zM381.61 435.87h12.14v1.42h-12.14zM381.61 438.01h12.14v1.42h-12.14zM393.4 432.66h12.14v1.42h-12.14zM405.19 400.54h11.79v1.42h-11.79zM405.19 405.89h11.79v1.42h-11.79zM405.19 417.67h11.79v1.42h-11.79z"/>
<path fill="#5d47a6" d="M310.87 420.88h12.14v1.42h-12.14zM322.66 402.68h12.14v1.42h-12.14zM322.66 438.01h12.14v1.42h-12.14zM322.66 445.51h12.14v1.42h-12.14zM322.66 447.65h12.14v1.42h-12.14zM334.45 453h12.14v1.42h-12.14zM405.19 489.41h11.79v1.42h-11.79z"/>
<path fill="#553ea2" d="M322.66 403.75h12.14v1.42h-12.14zM322.66 454.07h12.14v1.42h-12.14z"/>
<path fill="#4c349e" d="M322.66 501.18h12.14v1.42h-12.14z"/>
<path d="M293.19 390.9V382M304.98 390.9V382M293.19 382H304.98M316.76 390.9V382M328.56 390.9V382M316.76 382H328.56M299.08 382V380.4M322.66 382V380.4M340.35 390.9V380.4M299.08 380.4H340.35M281.39 390.9V376.1M315.7 380.4V376.1M281.39 376.1H315.7M363.93 390.9V382.5M375.71 390.9V382.5M363.93 382.5H375.71M352.13 390.9V381.9M369.82 382.5V381.9M352.13 381.9H369.82M387.5 390.9V383.5M399.29 390.9V383.5M387.5 383.5H399.29M393.4 383.5V382.5M411.08 390.9V382.5M393.4 382.5H411.08M360.98 381.9V379.7M402.24 382.5V379.7M360.98 379.7H402.24M298.5 376.1V369.1M381.4 379.7V369.1M298.5 369.1H381.4" stroke="#5a5a5a" stroke-width="0.75" fill="none"/>
<path d="M275.2 391.23H271.18V391.57H275.2M275.2 390.9H269.98V391.4H271.18M275.2 391.9H269.3V392.24H275.2M275.2 392.57H271.23V392.9H275.2M275.2 393.24H271.1V393.57H275.2M271.23 392.74H269.24V393.4H271.1M269.3 392.07H267.37V393.07H269.24M269.98 391.15H265.33V392.57H267.37M275.2 393.9H273.09V394.24H275.2M275.2 394.91H272.91V395.24H275.2M275.2 394.57H271.77V395.07H272.91M273.09 394.07H270.99V394.82H271.77M275.2 395.57H272.62V395.91H275.2M275.2 396.24H272.37V396.58H275.2M272.62 395.74H270.95V396.41H272.37M270.99 394.45H269.6V396.07H270.95M275.2 397.58H273.11V397.91H275.2M275.2 397.24H272V397.74H273.11M275.2 396.91H270.69V397.49H272M275.2 399.25H272.69V399.58H275.2M275.2 398.91H272.03V399.41H272.69M275.2 398.58H271.74V399.16H272.03M275.2 398.24H270.57V398.87H271.74M270.69 397.2H268.79V398.56H270.57M269.6 395.26H268.14V397.88H268.79M275.2 400.25H272.19V400.58H275.2M275.2 399.91H271.67V400.41H272.19M275.2 400.92H272.56V401.25H275.2M275.2 401.92H272.83V402.25H275.2M275.2 401.58H272.25V402.08H272.83M272.56 401.08H270.74V401.83H272.25M271.67 400.16H270V401.46H270.74M275.2 402.58H271.76V402.92H275.2M275.2 403.59H271.95V403.92H275.2M275.2 403.25H270.82V403.75H271.95M275.2 404.25H270.7V404.59H275.2M270.82 403.5H269.44V404.42H270.7M271.76 402.75H268.54V403.96H269.44M270 400.81H267.23V403.36H268.54M268.14 396.57H266.46V402.08H267.23M275.2 404.92H270.61V405.26H275.2M275.2 405.59H271.63V405.92H275.2M275.2 406.26H272.58V406.59H275.2M275.2 406.92H272.25V407.26H275.2M272.58 406.42H270.76V407.09H272.25M271.63 405.76H269.61V406.76H270.76M275.2 408.26H271.33V408.59H275.2M275.2 407.93H270.41V408.43H271.33M275.2 407.59H268.97V408.18H270.41M269.61 406.26H267.11V407.88H268.97M270.61 405.09H266.25V407.07H267.11M266.46 399.33H264.93V406.08H266.25M275.2 408.93H271.28V409.26H275.2M275.2 409.6H270.68V409.93H275.2M271.28 409.09H269.62V409.76H270.68M275.2 410.26H271.72V410.6H275.2M275.2 410.93H271.47V411.27H275.2M271.72 410.43H269.49V411.1H271.47M269.62 409.43H267.43V410.76H269.49M275.2 411.93H270.79V412.27H275.2M275.2 411.6H269.34V412.1H270.79M275.2 412.6H273V412.93H275.2M275.2 413.27H272.13V413.6H275.2M273 412.77H271.02V413.44H272.13M275.2 413.94H272.28V414.27H275.2M275.2 414.94H273V415.27H275.2M275.2 414.6H270.65V415.1H273M272.28 414.1H269.52V414.85H270.65M271.02 413.1H268.71V414.48H269.52M269.34 411.85H266.39V413.79H268.71M267.43 410.1H264.91V412.82H266.39M264.93 402.7H263.63V411.46H264.91M275.2 415.61H271.21V415.94H275.2M275.2 416.27H272.84V416.61H275.2M275.2 416.94H271.41V417.27H275.2M275.2 417.94H272.44V418.28H275.2M275.2 417.61H271.28V418.11H272.44M271.41 417.11H270.05V417.86H271.28M272.84 416.44H268.78V417.48H270.05M271.21 415.77H268.12V416.96H268.78M275.2 419.28H271.39V419.61H275.2M275.2 418.94H270.46V419.44H271.39M275.2 418.61H269.76V419.19H270.46M275.2 419.95H272.15V420.28H275.2M275.2 420.61H272.36V420.95H275.2M275.2 421.28H272.18V421.61H275.2M272.36 420.78H270.89V421.45H272.18M272.15 420.11H269.17V421.11H270.89M269.76 418.9H267.9V420.61H269.17M268.12 416.37H266.68V419.76H267.9M275.2 422.28H272.07V422.62H275.2M275.2 421.95H271.58V422.45H272.07M275.2 422.95H271.52V423.28H275.2M275.2 423.62H270.83V423.95H275.2M271.52 423.12H269.79V423.78H270.83M271.58 422.2H268.21V423.45H269.79M275.2 424.29H271.09V424.62H275.2M275.2 425.29H271.71V425.62H275.2M275.2 424.95H270.29V425.45H271.71M271.09 424.45H268.44V425.2H270.29M275.2 425.95H271.25V426.29H275.2M275.2 426.62H272.47V426.96H275.2M275.2 427.29H272.02V427.62H275.2M272.47 426.79H271.48V427.46H272.02M275.2 428.29H273.78V428.63H275.2M275.2 427.96H272.69V428.46H273.78M275.2 428.96H272.19V429.29H275.2M272.69 428.21H270.86V429.13H272.19M271.48 427.12H270.15V428.67H270.86M271.25 426.12H268.97V427.9H270.15M275.2 429.63H271.87V429.96H275.2M275.2 430.63H273.02V430.96H275.2M275.2 430.29H271.39V430.8H273.02M271.87 429.79H270.68V430.55H271.39M275.2 431.3H272.41V431.63H275.2M275.2 432.3H272.7V432.63H275.2M275.2 431.96H271.79V432.46H272.7M272.41 431.46H270.55V432.21H271.79M270.68 430.17H268.42V431.84H270.55M268.97 427.01H267.76V431H268.42M268.44 424.83H266.05V429.01H267.76M268.21 422.82H264.92V426.92H266.05M266.68 418.06H263.22V424.87H264.92M263.63 407.08H261.86V421.47H263.22M265.33 391.86H260.57V414.27H261.86M275.2 433.63H272.73V433.97H275.2M275.2 433.3H271.63V433.8H272.73M275.2 434.3H272.24V434.63H275.2M275.2 434.97H271.3V435.3H275.2M272.24 434.47H270.27V435.14H271.3M271.63 433.55H269.54V434.8H270.27M275.2 435.64H269.2V435.97H275.2M269.54 434.18H267.7V435.8H269.2M275.2 436.64H270.83V436.97H275.2M275.2 436.3H270.04V436.8H270.83M275.2 437.31H272.23V437.64H275.2M275.2 437.97H271.59V438.31H275.2M272.23 437.47H270.86V438.14H271.59M275.2 438.64H272.75V438.97H275.2M275.2 439.31H272.65V439.64H275.2M275.2 439.98H271.91V440.31H275.2M272.65 439.48H271.05V440.14H271.91M272.75 438.81H269.55V439.81H271.05M270.86 437.81H269V439.31H269.55M270.04 436.55H267.11V438.56H269M267.7 434.99H266.24V437.56H267.11M275.2 432.97H264.02V436.27H266.24M275.2 441.31H271.55V441.65H275.2M275.2 440.98H270.82V441.48H271.55M275.2 440.64H270.58V441.23H270.82M275.2 441.98H272.55V442.31H275.2M275.2 442.65H272V442.98H275.2M272.55 442.15H270.91V442.81H272M275.2 443.31H272.28V443.65H275.2M275.2 443.98H270.57V444.32H275.2M272.28 443.48H269.62V444.15H270.57M270.91 442.48H268.41V443.82H269.62M270.58 440.94H267.88V443.15H268.41M275.2 444.65H270.12V444.98H275.2M275.2 445.32H272.14V445.65H275.2M275.2 445.99H271.84V446.32H275.2M272.14 445.48H270.89V446.15H271.84M275.2 447.32H272.25V447.66H275.2M275.2 446.99H271.43V447.49H272.25M275.2 446.65H270.59V447.24H271.43M270.89 445.82H269.39V446.95H270.59M270.12 444.82H267.25V446.38H269.39M267.88 442.04H265.71V445.6H267.25M275.2 448.32H271.69V448.66H275.2M275.2 447.99H271.02V448.49H271.69M275.2 448.99H272.37V449.32H275.2M275.2 449.66H272.22V449.99H275.2M272.37 449.16H270.61V449.83H272.22M275.2 450.99H272.7V451.33H275.2M275.2 450.66H272.17V451.16H272.7M275.2 450.33H271.63V450.91H272.17M275.2 452H272.45V452.33H275.2M275.2 451.66H270.56V452.16H272.45M271.63 450.62H269.59V451.91H270.56M270.61 449.49H268.95V451.26H269.59M271.02 448.24H267.31V450.38H268.95M275.2 453.33H272.78V453.66H275.2M275.2 453H271.39V453.5H272.78M275.2 452.66H270.88V453.25H271.39M275.2 454.33H272.57V454.67H275.2M275.2 454H272.02V454.5H272.57M275.2 455.33H272.89V455.67H275.2M275.2 455H271.74V455.5H272.89M272.02 454.25H270.72V455.25H271.74M270.88 452.95H269.65V454.75H270.72M275.2 456H272.54V456.34H275.2M275.2 457H272.86V457.34H275.2M275.2 456.67H272V457.17H272.86M272.54 456.17H270.77V456.92H272M275.2 457.67H272.94V458H275.2M275.2 458.34H272.41V458.67H275.2M272.94 457.84H271.81V458.51H272.41M275.2 459.34H273.79V459.67H275.2M275.2 459.01H271.66V459.51H273.79M271.81 458.17H270.67V459.26H271.66M270.77 456.54H269.51V458.71H270.67M269.65 453.85H268.36V457.63H269.51M275.2 460.34H272.24V460.68H275.2M275.2 460.01H271.79V460.51H272.24M275.2 461.01H272.44V461.34H275.2M275.2 461.68H272.2V462.01H275.2M272.44 461.18H271.6V461.84H272.2M271.79 460.26H269.44V461.51H271.6M275.2 462.34H272.59V462.68H275.2M275.2 463.68H273.14V464.01H275.2M275.2 463.35H272.65V463.85H273.14M275.2 463.01H271.71V463.6H272.65M272.59 462.51H270.19V463.3H271.71M275.2 464.35H272.19V464.68H275.2M275.2 465.02H271.6V465.35H275.2M272.19 464.51H270.19V465.18H271.6M270.19 462.91H268.91V464.85H270.19M269.44 460.88H267.99V463.88H268.91M268.36 455.74H266.73V462.38H267.99M267.31 449.31H265.53V459.06H266.73M265.71 443.82H263.6V454.18H265.53M264.02 434.62H262.49V449H263.6M275.2 466.35H272.01V466.68H275.2M275.2 466.02H270.81V466.52H272.01M275.2 465.68H268.21V466.27H270.81M275.2 467.35H271.59V467.69H275.2M275.2 467.02H270.41V467.52H271.59M275.2 468.35H271.73V468.69H275.2M275.2 468.02H270.15V468.52H271.73M270.41 467.27H268.2V468.27H270.15M268.21 465.98H266.51V467.77H268.2M275.2 469.36H272.93V469.69H275.2M275.2 469.02H272.05V469.52H272.93M275.2 470.02H271.82V470.36H275.2M272.05 469.27H269.8V470.19H271.82M275.2 471.02H271.55V471.36H275.2M275.2 470.69H270.32V471.19H271.55M275.2 471.69H271.55V472.03H275.2M275.2 472.36H272.73V472.69H275.2M275.2 473.03H272.22V473.36H275.2M272.73 472.53H270.34V473.19H272.22M271.55 471.86H269.11V472.86H270.34M270.32 470.94H268.1V472.36H269.11M269.8 469.73H267.78V471.65H268.1M275.2 474.36H271.23V474.7H275.2M275.2 474.03H269.81V474.53H271.23M275.2 473.7H266.77V474.28H269.81M267.78 470.69H265.95V473.99H266.77M266.51 466.87H263.47V472.34H265.95M275.2 475.03H267.87V475.36H275.2M275.2 475.7H269.32V476.03H275.2M275.2 477.03H271.37V477.37H275.2M275.2 476.7H269.14V477.2H271.37M275.2 476.37H268.53V476.95H269.14M275.2 477.7H270.25V478.04H275.2M275.2 478.7H271.84V479.04H275.2M275.2 478.37H271.41V478.87H271.84M275.2 480.04H272.41V480.37H275.2M275.2 479.7H271.44V480.21H272.41M275.2 479.37H269.72V479.96H271.44M271.41 478.62H269.29V479.66H269.72M270.25 477.87H267.67V479.14H269.29M268.53 476.66H266.5V478.51H267.67M269.32 475.87H265.18V477.58H266.5M267.87 475.2H263.42V476.72H265.18M263.47 469.61H260.89V475.96H263.42M262.49 441.81H259.68V472.78H260.89M260.57 403.07H258.92V457.3H259.68M275.2 480.71H268.95V481.04H275.2M275.2 481.71H269.38V482.04H275.2M275.2 481.37H268.17V481.87H269.38M268.95 480.87H266.39V481.62H268.17M275.2 482.38H270.65V482.71H275.2M275.2 483.71H272.22V484.04H275.2M275.2 483.38H270.33V483.88H272.22M275.2 483.04H269.27V483.63H270.33M270.65 482.54H266.99V483.34H269.27M275.2 485.05H272.24V485.38H275.2M275.2 484.71H270.46V485.21H272.24M275.2 484.38H268.85V484.96H270.46M275.2 486.05H272.04V486.38H275.2M275.2 485.71H270.76V486.22H272.04M275.2 487.38H271.76V487.72H275.2M275.2 487.05H271.43V487.55H271.76M275.2 486.72H269.83V487.3H271.43M270.76 485.96H268.58V487.01H269.83M268.85 484.67H266.93V486.49H268.58M266.99 482.94H264.91V485.58H266.93M266.39 481.25H262.74V484.26H264.91M275.2 488.05H269.79V488.39H275.2M275.2 489.39H271.82V489.72H275.2M275.2 489.05H271.48V489.55H271.82M275.2 488.72H269.72V489.3H271.48M275.2 490.05H272.07V490.39H275.2M275.2 491.06H271.49V491.39H275.2M275.2 490.72H270.63V491.22H271.49M272.07 490.22H268.2V490.97H270.63M269.72 489.01H267.32V490.6H268.2M269.79 488.22H264.75V489.8H267.32M275.2 491.72H270.92V492.06H275.2M275.2 492.39H272.63V492.73H275.2M275.2 493.06H273.08V493.39H275.2M275.2 494.06H272.52V494.39H275.2M275.2 493.73H271.16V494.23H272.52M273.08 493.23H270.07V493.98H271.16M272.63 492.56H268.83V493.6H270.07M270.92 491.89H268.14V493.08H268.83M275.2 495.06H271.96V495.4H275.2M275.2 494.73H271.33V495.23H271.96M275.2 495.73H272.33V496.06H275.2M275.2 496.73H272.41V497.07H275.2M275.2 496.4H270.55V496.9H272.41M272.33 495.9H269.16V496.65H270.55M271.33 494.98H267.76V496.27H269.16M275.2 498.4H273.33V498.73H275.2M275.2 498.07H272.4V498.57H273.33M275.2 497.73H271.22V498.32H272.4M275.2 497.4H271.09V498.03H271.22M275.2 499.07H271.54V499.4H275.2M275.2 500.07H271.9V500.4H275.2M275.2 499.74H271.34V500.24H271.9M271.54 499.24H269.95V499.99H271.34M271.09 497.71H268.76V499.61H269.95M275.2 500.74H272.44V501.07H275.2M275.2 501.74H273.72V502.07H275.2M275.2 501.41H272.4V501.91H273.72M275.2 502.41H271.52V502.74H275.2M272.4 501.66H270.94V502.57H271.52M272.44 500.9H269.94V502.11H270.94M275.2 503.07H272.22V503.41H275.2M275.2 504.08H272.53V504.41H275.2M275.2 503.74H270.74V504.24H272.53M272.22 503.24H269.65V503.99H270.74M269.94 501.51H268.64V503.62H269.65M268.76 498.66H266.94V502.56H268.64M267.76 495.63H265.59V500.61H266.94M268.14 492.49H265.23V498.12H265.59M275.2 504.74H272.76V505.08H275.2M275.2 505.75H272.87V506.08H275.2M275.2 505.41H271.8V505.91H272.87M272.76 504.91H270.96V505.66H271.8M275.2 506.41H272.76V506.75H275.2M275.2 508.08H273.86V508.42H275.2M275.2 507.75H272.58V508.25H273.86M275.2 507.41H271.99V508H272.58M275.2 507.08H271.74V507.71H271.99M272.76 506.58H270.67V507.39H271.74M275.2 508.75H270.65V509.08H275.2M270.67 506.99H269.94V508.92H270.65M270.96 505.29H269.22V507.95H269.94M275.2 509.42H272.2V509.75H275.2M275.2 510.42H273.1V510.75H275.2M275.2 510.09H271.23V510.59H273.1M272.2 509.58H269.75V510.34H271.23M275.2 511.42H271.85V511.75H275.2M275.2 511.09H271.16V511.59H271.85M275.2 512.09H272.34V512.42H275.2M275.2 512.76H274.04V513.09H275.2M275.2 513.42H273.22V513.76H275.2M274.04 512.92H271.36V513.59H273.22M272.34 512.26H270.61V513.26H271.36M271.16 511.34H269.19V512.76H270.61M269.75 509.96H268.42V512.05H269.19M269.22 506.62H266.39V511H268.42M275.2 514.43H272.14V514.76H275.2M275.2 514.09H269.59V514.59H272.14M275.2 515.09H272.02V515.43H275.2M275.2 515.76H271.5V516.09H275.2M272.02 515.26H269.49V515.93H271.5M269.59 514.34H268.52V515.59H269.49M275.2 516.76H273.12V517.1H275.2M275.2 517.43H272.58V517.76H275.2M273.12 516.93H272.02V517.6H272.58M275.2 516.43H271.12V517.26H272.02M275.2 518.1H272.18V518.43H275.2M275.2 518.77H272.08V519.1H275.2M272.18 518.26H270.71V518.93H272.08M271.12 516.85H269.36V518.6H270.71M275.2 519.43H272.4V519.77H275.2M275.2 520.77H273.19V521.1H275.2M275.2 520.43H272.28V520.94H273.19M275.2 520.1H271.11V520.69H272.28M272.4 519.6H270.97V520.39H271.11M275.2 521.77H271.62V522.1H275.2M275.2 521.44H270.28V521.94H271.62M270.97 520H269.31V521.69H270.28M269.36 517.72H268.41V520.84H269.31M268.52 514.97H266.08V519.28H268.41M266.39 508.81H264.5V517.13H266.08M265.23 495.3H263.36V512.97H264.5M264.75 489.01H262.06V504.14H263.36M262.74 482.75H260.77V496.57H262.06M275.2 522.44H269.82V522.77H275.2M275.2 523.44H269.91V523.77H275.2M275.2 523.11H269.05V523.61H269.91M269.82 522.61H266.09V523.36H269.05M275.2 524.11H271.76V524.44H275.2M275.2 525.44H271.64V525.78H275.2M275.2 525.11H270.8V525.61H271.64M275.2 524.78H269.43V525.36H270.8M271.76 524.27H267.92V525.07H269.43M275.2 526.11H269.74V526.44H275.2M275.2 527.11H271.65V527.45H275.2M275.2 526.78H271.04V527.28H271.65M275.2 527.78H269.76V528.11H275.2M271.04 527.03H268.22V527.95H269.76M269.74 526.28H266.18V527.49H268.22M267.92 524.67H264.8V526.88H266.18M266.09 522.98H263.17V525.78H264.8M275.2 528.78H270.46V529.12H275.2M275.2 529.78H272.26V530.12H275.2M275.2 529.45H271.87V529.95H272.26M275.2 531.12H272.98V531.45H275.2M275.2 530.78H272.35V531.29H272.98M275.2 530.45H271.56V531.03H272.35M271.87 529.7H270.32V530.74H271.56M275.2 531.79H271.6V532.12H275.2M275.2 532.45H271.32V532.79H275.2M271.6 531.95H270.06V532.62H271.32M270.32 530.22H269.05V532.29H270.06M270.46 528.95H268.17V531.25H269.05M275.2 533.12H271.99V533.46H275.2M275.2 533.79H271.87V534.12H275.2M271.99 533.29H271.16V533.96H271.87M275.2 534.79H273.07V535.12H275.2M275.2 534.46H272.02V534.96H273.07M275.2 535.46H271.96V535.79H275.2M272.02 534.71H269.88V535.63H271.96M271.16 533.62H269.12V535.17H269.88M275.2 536.46H270.62V536.79H275.2M275.2 536.13H268.84V536.63H270.62M269.12 534.39H267.73V536.38H268.84M268.17 530.1H266.18V535.39H267.73M275.2 537.13H271.02V537.46H275.2M275.2 537.8H270.63V538.13H275.2M271.02 537.29H268.6V537.96H270.63M275.2 539.13H272.11V539.46H275.2M275.2 538.8H271.63V539.3H272.11M275.2 538.46H271.28V539.05H271.63M275.2 540.47H272.37V540.8H275.2M275.2 540.13H270.82V540.63H272.37M275.2 539.8H270.18V540.38H270.82M271.28 538.76H268.15V540.09H270.18M268.6 537.63H265.86V539.42H268.15M266.18 532.74H264.22V538.53H265.86M275.2 528.45H261.63V535.63H264.22M263.17 524.38H260.45V532.04H261.63M260.77 489.66H257.71V528.21H260.45M258.92 430.18H252.7V508.94H257.71" stroke="#000" stroke-width="0.55" fill="none"/>
<rect x="270.00" y="391.20" width="5.50" height="149.30" fill="#000"/>
<defs><linearGradient id="dg2" x1="1" y1="0" x2="0" y2="0"><stop offset="0" stop-color="#000" stop-opacity="0.85"/><stop offset="1" stop-color="#000" stop-opacity="0"/></linearGradient></defs>
<rect x="264.00" y="392.40" width="6.00" height="146.90" fill="url(#dg2)"/>
<defs><linearGradient id="lg2" x1="0" y1="0" x2="0" y2="1"><stop offset="0" stop-color="#E81E1E"/><stop offset="0.33" stop-color="#EE8A70"/><stop offset="0.55" stop-color="#F8F2F2"/><stop offset="0.75" stop-color="#9E94CC"/><stop offset="1" stop-color="#3A4AAE"/></linearGradient></defs>
<rect x="425.2" y="454.2" width="4.6" height="23.5" fill="url(#lg2)"/>
<text x="430.60" y="456.70" font-family="Liberation Sans" font-size="6.4" text-anchor="start" fill="#111" >4</text>
<text x="430.60" y="463.60" font-family="Liberation Sans" font-size="6.4" text-anchor="start" fill="#111" >2</text>
<text x="430.60" y="470.50" font-family="Liberation Sans" font-size="6.4" text-anchor="start" fill="#111" >0</text>
<text x="430.60" y="477.40" font-family="Liberation Sans" font-size="6.4" text-anchor="start" fill="#111" >&#8722;2</text>
<text x="0" y="0" font-family="Liberation Sans" font-size="7.0" text-anchor="end" fill="#1a1a1a" transform="translate(283.59,543.10) rotate(-90)">T12&#8722;1</text>
<text x="0" y="0" font-family="Liberation Sans" font-size="7.0" text-anchor="end" fill="#1a1a1a" transform="translate(295.38,543.10) rotate(-90)">T12&#8722;5</text>
<text x="0" y="0" font-family="Liberation Sans" font-size="7.0" text-anchor="end" fill="#1a1a1a" transform="translate(307.18,543.10) rotate(-90)">T12&#8722;6</text>
<text x="0" y="0" font-family="Liberation Sans" font-size="7.0" text-anchor="end" fill="#1a1a1a" transform="translate(318.96,543.10) rotate(-90)">T12&#8722;2</text>
<text x="0" y="0" font-family="Liberation Sans" font-size="7.0" text-anchor="end" fill="#1a1a1a" transform="translate(330.75,543.10) rotate(-90)">T12&#8722;3</text>
<text x="0" y="0" font-family="Liberation Sans" font-size="7.0" text-anchor="end" fill="#1a1a1a" transform="translate(342.55,543.10) rotate(-90)">T12&#8722;4</text>
<text x="0" y="0" font-family="Liberation Sans" font-size="7.0" text-anchor="end" fill="#1a1a1a" transform="translate(354.33,543.10) rotate(-90)">T3&#8722;5</text>
<text x="0" y="0" font-family="Liberation Sans" font-size="7.0" text-anchor="end" fill="#1a1a1a" transform="translate(366.12,543.10) rotate(-90)">T3&#8722;2</text>
<text x="0" y="0" font-family="Liberation Sans" font-size="7.0" text-anchor="end" fill="#1a1a1a" transform="translate(377.91,543.10) rotate(-90)">T3&#8722;6</text>
<text x="0" y="0" font-family="Liberation Sans" font-size="7.0" text-anchor="end" fill="#1a1a1a" transform="translate(389.70,543.10) rotate(-90)">T3&#8722;1</text>
<text x="0" y="0" font-family="Liberation Sans" font-size="7.0" text-anchor="end" fill="#1a1a1a" transform="translate(401.49,543.10) rotate(-90)">T3&#8722;3</text>
<text x="0" y="0" font-family="Liberation Sans" font-size="7.0" text-anchor="end" fill="#1a1a1a" transform="translate(413.28,543.10) rotate(-90)">T3&#8722;4</text>
<text x="228.20" y="559.80" font-family="Liberation Sans" font-size="8.8" text-anchor="start" fill="#1A1A1A" >T12 vs T3</text>
<path fill="#9180c0" d="M493.3 390.9h12.13v1.42h-12.13zM493.3 404.82h12.13v1.42h-12.13zM493.3 406.96h12.13v2.49h-12.13zM493.3 412.31h12.13v2.49h-12.13zM493.3 419.81h12.13v1.42h-12.13zM493.3 421.95h12.13v1.42h-12.13zM493.3 425.16h12.13v1.42h-12.13zM493.3 428.38h12.13v1.42h-12.13zM493.3 445.51h12.13v1.42h-12.13zM505.08 391.97h12.13v2.49h-12.13zM505.08 408.03h12.13v1.42h-12.13zM505.08 412.31h12.13v1.42h-12.13zM505.08 416.6h12.13v1.42h-12.13zM505.08 421.95h12.13v1.42h-12.13zM505.08 425.16h12.13v2.49h-12.13zM516.86 394.11h12.13v2.49h-12.13zM516.86 409.1h12.13v1.42h-12.13zM516.86 417.67h12.13v1.42h-12.13zM528.64 403.75h12.13v1.42h-12.13zM528.64 416.6h12.13v1.42h-12.13zM552.2 400.54h12.13v1.42h-12.13zM552.2 440.15h12.13v1.42h-12.13zM552.2 443.37h12.13v1.42h-12.13zM552.2 446.58h12.13v2.49h-12.13zM552.2 450.86h12.13v2.49h-12.13zM552.2 456.21h12.13v1.42h-12.13zM552.2 459.43h12.13v2.49h-12.13zM552.2 469.06h12.13v1.42h-12.13zM552.2 471.2h12.13v1.42h-12.13zM552.2 479.77h12.13v1.42h-12.13zM552.2 482.98h12.13v1.42h-12.13zM552.2 485.12h12.13v1.42h-12.13zM552.2 491.55h12.13v1.42h-12.13zM552.2 501.18h12.13v1.42h-12.13zM552.2 514.03h12.13v2.49h-12.13zM552.2 517.24h12.13v1.42h-12.13zM552.2 519.39h12.13v1.42h-12.13zM552.2 526.88h12.13v1.42h-12.13zM552.2 533.3h12.13v1.42h-12.13zM552.2 535.45h12.13v2.49h-12.13zM552.2 538.66h12.13v1.42h-12.13zM563.98 431.59h12.13v3.56h-12.13zM563.98 435.87h12.13v1.42h-12.13zM563.98 442.29h12.13v1.42h-12.13zM563.98 446.58h12.13v2.49h-12.13zM563.98 455.14h12.13v1.42h-12.13zM563.98 461.57h12.13v2.49h-12.13zM563.98 466.92h12.13v2.49h-12.13zM563.98 473.34h12.13v1.42h-12.13zM563.98 475.49h12.13v1.42h-12.13zM563.98 478.7h12.13v1.42h-12.13zM563.98 481.91h12.13v1.42h-12.13zM563.98 488.33h12.13v1.42h-12.13zM563.98 490.48h12.13v1.42h-12.13zM563.98 492.62h12.13v1.42h-12.13zM563.98 516.17h12.13v1.42h-12.13zM563.98 522.6h12.13v1.42h-12.13zM563.98 531.16h12.13v1.42h-12.13zM563.98 535.45h12.13v1.42h-12.13zM563.98 537.59h12.13v1.42h-12.13zM575.76 438.01h12.13v1.42h-12.13zM575.76 444.44h12.13v1.42h-12.13zM575.76 448.72h12.13v1.42h-12.13zM575.76 450.86h12.13v1.42h-12.13zM575.76 459.43h12.13v1.42h-12.13zM575.76 469.06h12.13v1.42h-12.13zM575.76 474.42h12.13v1.42h-12.13zM575.76 477.63h12.13v1.42h-12.13zM575.76 481.91h12.13v2.49h-12.13zM575.76 485.12h12.13v2.49h-12.13zM575.76 491.55h12.13v1.42h-12.13zM575.76 497.97h12.13v1.42h-12.13zM575.76 503.32h12.13v1.42h-12.13zM575.76 507.61h12.13v1.42h-12.13zM575.76 512.96h12.13v1.42h-12.13zM575.76 520.46h12.13v1.42h-12.13zM575.76 522.6h12.13v1.42h-12.13zM575.76 531.16h12.13v1.42h-12.13zM575.76 535.45h12.13v1.42h-12.13zM587.54 433.73h12.13v1.42h-12.13zM587.54 436.94h12.13v1.42h-12.13zM587.54 443.37h12.13v1.42h-12.13zM587.54 445.51h12.13v3.56h-12.13zM587.54 449.79h12.13v1.42h-12.13zM587.54 471.2h12.13v1.42h-12.13zM587.54 479.77h12.13v1.42h-12.13zM587.54 493.69h12.13v1.42h-12.13zM587.54 509.75h12.13v1.42h-12.13zM587.54 512.96h12.13v1.42h-12.13zM587.54 517.24h12.13v1.42h-12.13zM587.54 533.3h12.13v1.42h-12.13zM587.54 535.45h12.13v1.42h-12.13zM599.32 442.29h12.13v1.42h-12.13zM599.32 447.65h12.13v1.42h-12.13zM599.32 450.86h12.13v1.42h-12.13zM599.32 456.21h12.13v1.42h-12.13zM599.32 463.71h12.13v1.42h-12.13zM599.32 471.2h12.13v1.42h-12.13zM599.32 482.98h12.13v1.42h-12.13zM599.32 508.68h12.13v1.42h-12.13zM599.32 514.03h12.13v1.42h-12.13zM599.32 527.95h12.13v1.42h-12.13zM599.32 532.23h12.13v1.42h-12.13zM599.32 536.52h12.13v1.42h-12.13zM599.32 539.73h12.13v1.07h-12.13zM611.1 431.59h12.13v1.42h-12.13zM611.1 434.8h12.13v1.42h-12.13zM611.1 446.58h12.13v1.42h-12.13zM611.1 449.79h12.13v1.42h-12.13zM611.1 454.07h12.13v1.42h-12.13zM611.1 466.92h12.13v1.42h-12.13zM611.1 477.63h12.13v1.42h-12.13zM611.1 491.55h12.13v1.42h-12.13zM611.1 494.76h12.13v1.42h-12.13zM611.1 503.32h12.13v1.42h-12.13zM611.1 505.47h12.13v1.42h-12.13zM611.1 514.03h12.13v1.42h-12.13zM611.1 520.46h12.13v1.42h-12.13zM611.1 522.6h12.13v1.42h-12.13zM611.1 531.16h12.13v1.42h-12.13zM611.1 535.45h12.13v1.42h-12.13zM611.1 539.73h12.13v1.07h-12.13zM622.88 394.11h11.78v1.42h-11.78zM622.88 432.66h11.78v1.42h-11.78zM622.88 444.44h11.78v1.42h-11.78zM622.88 477.63h11.78v1.42h-11.78zM622.88 479.77h11.78v1.42h-11.78zM622.88 492.62h11.78v1.42h-11.78zM622.88 494.76h11.78v1.42h-11.78zM622.88 516.17h11.78v3.56h-11.78zM622.88 527.95h11.78v2.49h-11.78z"/>
<path fill="#a294c8" d="M493.3 391.97h12.13v1.42h-12.13zM493.3 403.75h12.13v1.42h-12.13zM493.3 409.1h12.13v1.42h-12.13zM493.3 414.46h12.13v1.42h-12.13zM493.3 417.67h12.13v1.42h-12.13zM493.3 426.23h12.13v1.42h-12.13zM516.86 402.68h12.13v1.42h-12.13zM516.86 415.53h12.13v1.42h-12.13zM528.64 398.39h12.13v1.42h-12.13zM528.64 402.68h12.13v1.42h-12.13zM540.42 424.09h12.13v1.42h-12.13zM540.42 435.87h12.13v1.42h-12.13zM552.2 394.11h12.13v1.42h-12.13zM552.2 397.32h12.13v2.49h-12.13zM552.2 414.46h12.13v1.42h-12.13zM552.2 445.51h12.13v1.42h-12.13zM552.2 494.76h12.13v1.42h-12.13zM552.2 496.9h12.13v1.42h-12.13zM552.2 521.53h12.13v2.49h-12.13zM563.98 445.51h12.13v1.42h-12.13zM563.98 456.21h12.13v1.42h-12.13zM563.98 469.06h12.13v1.42h-12.13zM563.98 474.42h12.13v1.42h-12.13zM563.98 479.77h12.13v1.42h-12.13zM563.98 482.98h12.13v1.42h-12.13zM563.98 491.55h12.13v1.42h-12.13zM563.98 504.4h12.13v1.42h-12.13zM563.98 538.66h12.13v1.42h-12.13zM575.76 441.22h12.13v2.49h-12.13zM575.76 456.21h12.13v1.42h-12.13zM575.76 472.27h12.13v1.42h-12.13zM575.76 479.77h12.13v1.42h-12.13zM575.76 496.9h12.13v1.42h-12.13zM575.76 501.18h12.13v1.42h-12.13zM575.76 504.4h12.13v1.42h-12.13zM575.76 508.68h12.13v1.42h-12.13zM575.76 517.24h12.13v2.49h-12.13zM575.76 523.67h12.13v1.42h-12.13zM575.76 527.95h12.13v1.42h-12.13zM575.76 530.09h12.13v1.42h-12.13zM575.76 536.52h12.13v1.42h-12.13zM587.54 434.8h12.13v1.42h-12.13zM587.54 459.43h12.13v1.42h-12.13zM587.54 492.62h12.13v1.42h-12.13zM587.54 494.76h12.13v1.42h-12.13zM587.54 515.1h12.13v1.42h-12.13zM587.54 524.74h12.13v1.42h-12.13zM599.32 480.84h12.13v1.42h-12.13zM599.32 534.38h12.13v1.42h-12.13zM611.1 457.28h12.13v1.42h-12.13zM611.1 516.17h12.13v2.49h-12.13zM622.88 391.97h11.78v1.42h-11.78zM622.88 401.61h11.78v1.42h-11.78zM622.88 457.28h11.78v1.42h-11.78zM622.88 526.88h11.78v1.42h-11.78z"/>
<path fill="#8877bc" d="M493.3 393.04h12.13v1.42h-12.13zM493.3 400.54h12.13v1.42h-12.13zM493.3 405.89h12.13v1.42h-12.13zM493.3 420.88h12.13v1.42h-12.13zM505.08 394.11h12.13v1.42h-12.13zM505.08 397.32h12.13v1.42h-12.13zM505.08 403.75h12.13v1.42h-12.13zM505.08 405.89h12.13v2.49h-12.13zM505.08 409.1h12.13v1.42h-12.13zM505.08 418.74h12.13v1.42h-12.13zM516.86 390.9h12.13v1.42h-12.13zM516.86 393.04h12.13v1.42h-12.13zM516.86 397.32h12.13v1.42h-12.13zM516.86 400.54h12.13v2.49h-12.13zM516.86 403.75h12.13v1.42h-12.13zM516.86 413.38h12.13v1.42h-12.13zM516.86 418.74h12.13v1.42h-12.13zM516.86 427.3h12.13v1.42h-12.13zM516.86 429.45h12.13v1.42h-12.13zM528.64 390.9h12.13v2.49h-12.13zM528.64 405.89h12.13v1.42h-12.13zM528.64 408.03h12.13v2.49h-12.13zM528.64 414.46h12.13v1.42h-12.13zM528.64 418.74h12.13v2.49h-12.13zM528.64 421.95h12.13v1.42h-12.13zM540.42 393.04h12.13v1.42h-12.13zM540.42 417.67h12.13v2.49h-12.13zM540.42 425.16h12.13v1.42h-12.13zM540.42 429.45h12.13v1.42h-12.13zM540.42 434.8h12.13v1.42h-12.13zM552.2 438.01h12.13v2.49h-12.13zM552.2 444.44h12.13v1.42h-12.13zM552.2 454.07h12.13v2.49h-12.13zM552.2 458.35h12.13v1.42h-12.13zM552.2 461.57h12.13v1.42h-12.13zM552.2 465.85h12.13v1.42h-12.13zM552.2 484.05h12.13v1.42h-12.13zM552.2 486.19h12.13v1.42h-12.13zM552.2 488.33h12.13v3.56h-12.13zM552.2 495.83h12.13v1.42h-12.13zM552.2 504.4h12.13v1.42h-12.13zM552.2 508.68h12.13v1.42h-12.13zM552.2 516.17h12.13v1.42h-12.13zM552.2 527.95h12.13v1.42h-12.13zM552.2 539.73h12.13v1.07h-12.13zM563.98 439.08h12.13v1.42h-12.13zM563.98 448.72h12.13v2.49h-12.13zM563.98 458.35h12.13v3.56h-12.13zM563.98 465.85h12.13v1.42h-12.13zM563.98 476.56h12.13v1.42h-12.13zM563.98 484.05h12.13v1.42h-12.13zM563.98 487.26h12.13v1.42h-12.13zM563.98 495.83h12.13v1.42h-12.13zM563.98 499.04h12.13v3.56h-12.13zM563.98 503.32h12.13v1.42h-12.13zM563.98 515.1h12.13v1.42h-12.13zM563.98 518.31h12.13v4.63h-12.13zM563.98 527.95h12.13v1.42h-12.13zM563.98 530.09h12.13v1.42h-12.13zM563.98 533.3h12.13v1.42h-12.13zM575.76 431.59h12.13v1.42h-12.13zM575.76 433.73h12.13v1.42h-12.13zM575.76 435.87h12.13v2.49h-12.13zM575.76 447.65h12.13v1.42h-12.13zM575.76 449.79h12.13v1.42h-12.13zM575.76 451.93h12.13v1.42h-12.13zM575.76 461.57h12.13v1.42h-12.13zM575.76 463.71h12.13v1.42h-12.13zM575.76 470.13h12.13v1.42h-12.13zM575.76 489.41h12.13v1.42h-12.13zM575.76 505.47h12.13v1.42h-12.13zM575.76 509.75h12.13v1.42h-12.13zM575.76 511.89h12.13v1.42h-12.13zM575.76 514.03h12.13v1.42h-12.13zM575.76 519.39h12.13v1.42h-12.13zM575.76 532.23h12.13v1.42h-12.13zM575.76 537.59h12.13v1.42h-12.13zM587.54 431.59h12.13v1.42h-12.13zM587.54 441.22h12.13v2.49h-12.13zM587.54 448.72h12.13v1.42h-12.13zM587.54 450.86h12.13v2.49h-12.13zM587.54 456.21h12.13v1.42h-12.13zM587.54 458.35h12.13v1.42h-12.13zM587.54 461.57h12.13v1.42h-12.13zM587.54 464.78h12.13v3.56h-12.13zM587.54 472.27h12.13v1.42h-12.13zM587.54 477.63h12.13v1.42h-12.13zM587.54 486.19h12.13v1.42h-12.13zM587.54 490.48h12.13v1.42h-12.13zM587.54 497.97h12.13v3.56h-12.13zM587.54 518.31h12.13v1.42h-12.13zM587.54 520.46h12.13v1.42h-12.13zM587.54 532.23h12.13v1.42h-12.13zM587.54 536.52h12.13v2.49h-12.13zM587.54 539.73h12.13v1.07h-12.13zM599.32 432.66h12.13v1.42h-12.13zM599.32 435.87h12.13v1.42h-12.13zM599.32 439.08h12.13v3.56h-12.13zM599.32 443.37h12.13v1.42h-12.13zM599.32 445.51h12.13v1.42h-12.13zM599.32 448.72h12.13v1.42h-12.13zM599.32 451.93h12.13v1.42h-12.13zM599.32 455.14h12.13v1.42h-12.13zM599.32 459.43h12.13v4.63h-12.13zM599.32 476.56h12.13v2.49h-12.13zM599.32 485.12h12.13v1.42h-12.13zM599.32 501.18h12.13v7.84h-12.13zM599.32 509.75h12.13v2.49h-12.13zM599.32 515.1h12.13v3.56h-12.13zM599.32 520.46h12.13v3.56h-12.13zM599.32 529.02h12.13v2.49h-12.13zM599.32 533.3h12.13v1.42h-12.13zM599.32 538.66h12.13v1.42h-12.13zM611.1 433.73h12.13v1.42h-12.13zM611.1 436.94h12.13v1.42h-12.13zM611.1 440.15h12.13v1.42h-12.13zM611.1 445.51h12.13v1.42h-12.13zM611.1 447.65h12.13v2.49h-12.13zM611.1 450.86h12.13v2.49h-12.13zM611.1 465.85h12.13v1.42h-12.13zM611.1 469.06h12.13v3.56h-12.13zM611.1 475.49h12.13v2.49h-12.13zM611.1 479.77h12.13v1.42h-12.13zM611.1 482.98h12.13v1.42h-12.13zM611.1 489.41h12.13v1.42h-12.13zM611.1 496.9h12.13v1.42h-12.13zM611.1 510.82h12.13v1.42h-12.13zM611.1 518.31h12.13v1.42h-12.13zM611.1 523.67h12.13v1.42h-12.13zM611.1 530.09h12.13v1.42h-12.13zM611.1 532.23h12.13v2.49h-12.13zM622.88 433.73h11.78v1.42h-11.78zM622.88 435.87h11.78v1.42h-11.78zM622.88 439.08h11.78v1.42h-11.78zM622.88 441.22h11.78v3.56h-11.78zM622.88 445.51h11.78v3.56h-11.78zM622.88 456.21h11.78v1.42h-11.78zM622.88 461.57h11.78v1.42h-11.78zM622.88 475.49h11.78v1.42h-11.78zM622.88 478.7h11.78v1.42h-11.78zM622.88 487.26h11.78v3.56h-11.78zM622.88 500.11h11.78v1.42h-11.78zM622.88 502.25h11.78v1.42h-11.78zM622.88 520.46h11.78v2.49h-11.78zM622.88 536.52h11.78v1.42h-11.78zM622.88 539.73h11.78v1.07h-11.78z"/>
<path fill="#998ac4" d="M493.3 394.11h12.13v2.49h-12.13zM493.3 397.32h12.13v1.42h-12.13zM493.3 416.6h12.13v1.42h-12.13zM493.3 418.74h12.13v1.42h-12.13zM493.3 427.3h12.13v1.42h-12.13zM493.3 429.45h12.13v1.42h-12.13zM493.3 450.86h12.13v1.42h-12.13zM493.3 489.41h12.13v1.42h-12.13zM505.08 390.9h12.13v1.42h-12.13zM505.08 413.38h12.13v2.49h-12.13zM516.86 404.82h12.13v4.63h-12.13zM516.86 416.6h12.13v1.42h-12.13zM516.86 426.23h12.13v1.42h-12.13zM540.42 398.39h12.13v1.42h-12.13zM540.42 415.53h12.13v1.42h-12.13zM552.2 401.61h12.13v1.42h-12.13zM552.2 462.64h12.13v1.42h-12.13zM552.2 472.27h12.13v1.42h-12.13zM552.2 481.91h12.13v1.42h-12.13zM552.2 497.97h12.13v1.42h-12.13zM552.2 500.11h12.13v1.42h-12.13zM552.2 502.25h12.13v1.42h-12.13zM552.2 512.96h12.13v1.42h-12.13zM552.2 518.31h12.13v1.42h-12.13zM552.2 520.46h12.13v1.42h-12.13zM552.2 523.67h12.13v1.42h-12.13zM552.2 525.81h12.13v1.42h-12.13zM563.98 436.94h12.13v1.42h-12.13zM563.98 443.37h12.13v2.49h-12.13zM563.98 450.86h12.13v2.49h-12.13zM563.98 454.07h12.13v1.42h-12.13zM563.98 470.13h12.13v1.42h-12.13zM563.98 477.63h12.13v1.42h-12.13zM563.98 485.12h12.13v2.49h-12.13zM563.98 489.41h12.13v1.42h-12.13zM563.98 496.9h12.13v1.42h-12.13zM563.98 505.47h12.13v2.49h-12.13zM563.98 508.68h12.13v1.42h-12.13zM563.98 523.67h12.13v1.42h-12.13zM563.98 529.02h12.13v1.42h-12.13zM563.98 536.52h12.13v1.42h-12.13zM563.98 539.73h12.13v1.07h-12.13zM575.76 432.66h12.13v1.42h-12.13zM575.76 440.15h12.13v1.42h-12.13zM575.76 443.37h12.13v1.42h-12.13zM575.76 445.51h12.13v1.42h-12.13zM575.76 471.2h12.13v1.42h-12.13zM575.76 478.7h12.13v1.42h-12.13zM575.76 494.76h12.13v1.42h-12.13zM575.76 499.04h12.13v2.49h-12.13zM575.76 506.54h12.13v1.42h-12.13zM575.76 510.82h12.13v1.42h-12.13zM575.76 515.1h12.13v2.49h-12.13zM575.76 533.3h12.13v1.42h-12.13zM575.76 538.66h12.13v2.14h-12.13zM587.54 432.66h12.13v1.42h-12.13zM587.54 491.55h12.13v1.42h-12.13zM587.54 495.83h12.13v1.42h-12.13zM587.54 502.25h12.13v1.42h-12.13zM587.54 504.4h12.13v3.56h-12.13zM587.54 510.82h12.13v2.49h-12.13zM587.54 514.03h12.13v1.42h-12.13zM587.54 516.17h12.13v1.42h-12.13zM587.54 529.02h12.13v1.42h-12.13zM587.54 538.66h12.13v1.42h-12.13zM599.32 434.8h12.13v1.42h-12.13zM599.32 436.94h12.13v2.49h-12.13zM599.32 444.44h12.13v1.42h-12.13zM599.32 446.58h12.13v1.42h-12.13zM599.32 454.07h12.13v1.42h-12.13zM599.32 472.27h12.13v1.42h-12.13zM599.32 474.42h12.13v1.42h-12.13zM599.32 491.55h12.13v1.42h-12.13zM599.32 496.9h12.13v1.42h-12.13zM599.32 523.67h12.13v1.42h-12.13zM611.1 472.27h12.13v1.42h-12.13zM611.1 502.25h12.13v1.42h-12.13zM611.1 504.4h12.13v1.42h-12.13zM611.1 506.54h12.13v1.42h-12.13zM611.1 508.68h12.13v1.42h-12.13zM611.1 515.1h12.13v1.42h-12.13zM611.1 527.95h12.13v1.42h-12.13zM611.1 538.66h12.13v1.42h-12.13zM622.88 451.93h11.78v1.42h-11.78zM622.88 471.2h11.78v1.42h-11.78zM622.88 481.91h11.78v2.49h-11.78zM622.88 485.12h11.78v2.49h-11.78zM622.88 491.55h11.78v1.42h-11.78zM622.88 525.81h11.78v1.42h-11.78zM622.88 534.38h11.78v1.42h-11.78zM622.88 538.66h11.78v1.42h-11.78z"/>
<path fill="#806db8" d="M493.3 396.25h12.13v1.42h-12.13zM493.3 399.47h12.13v1.42h-12.13zM493.3 401.61h12.13v1.42h-12.13zM493.3 410.17h12.13v1.42h-12.13zM493.3 423.02h12.13v1.42h-12.13zM505.08 395.18h12.13v2.49h-12.13zM505.08 400.54h12.13v1.42h-12.13zM505.08 404.82h12.13v1.42h-12.13zM505.08 429.45h12.13v1.42h-12.13zM516.86 391.97h12.13v1.42h-12.13zM516.86 396.25h12.13v1.42h-12.13zM516.86 399.47h12.13v1.42h-12.13zM516.86 414.46h12.13v1.42h-12.13zM516.86 419.81h12.13v1.42h-12.13zM516.86 421.95h12.13v1.42h-12.13zM516.86 425.16h12.13v1.42h-12.13zM516.86 428.38h12.13v1.42h-12.13zM528.64 393.04h12.13v1.42h-12.13zM528.64 395.18h12.13v1.42h-12.13zM528.64 406.96h12.13v1.42h-12.13zM528.64 413.38h12.13v1.42h-12.13zM528.64 417.67h12.13v1.42h-12.13zM528.64 426.23h12.13v1.42h-12.13zM528.64 429.45h12.13v1.42h-12.13zM540.42 390.9h12.13v2.49h-12.13zM540.42 394.11h12.13v1.42h-12.13zM540.42 402.68h12.13v1.42h-12.13zM540.42 409.1h12.13v1.42h-12.13zM540.42 413.38h12.13v1.42h-12.13zM540.42 416.6h12.13v1.42h-12.13zM540.42 421.95h12.13v1.42h-12.13zM540.42 488.33h12.13v1.42h-12.13zM552.2 441.22h12.13v1.42h-12.13zM552.2 448.72h12.13v2.49h-12.13zM552.2 466.92h12.13v2.49h-12.13zM552.2 470.13h12.13v1.42h-12.13zM552.2 474.42h12.13v1.42h-12.13zM552.2 477.63h12.13v2.49h-12.13zM552.2 487.26h12.13v1.42h-12.13zM552.2 493.69h12.13v1.42h-12.13zM552.2 503.32h12.13v1.42h-12.13zM552.2 505.47h12.13v2.49h-12.13zM552.2 510.82h12.13v2.49h-12.13zM552.2 529.02h12.13v1.42h-12.13zM563.98 438.01h12.13v1.42h-12.13zM563.98 440.15h12.13v2.49h-12.13zM563.98 453h12.13v1.42h-12.13zM563.98 463.71h12.13v2.49h-12.13zM563.98 493.69h12.13v1.42h-12.13zM563.98 497.97h12.13v1.42h-12.13zM563.98 507.61h12.13v1.42h-12.13zM563.98 509.75h12.13v1.42h-12.13zM563.98 514.03h12.13v1.42h-12.13zM563.98 517.24h12.13v1.42h-12.13zM575.76 439.08h12.13v1.42h-12.13zM575.76 453h12.13v3.56h-12.13zM575.76 458.35h12.13v1.42h-12.13zM575.76 460.5h12.13v1.42h-12.13zM575.76 462.64h12.13v1.42h-12.13zM575.76 464.78h12.13v1.42h-12.13zM575.76 466.92h12.13v1.42h-12.13zM575.76 475.49h12.13v1.42h-12.13zM575.76 484.05h12.13v1.42h-12.13zM575.76 487.26h12.13v2.49h-12.13zM575.76 492.62h12.13v1.42h-12.13zM575.76 495.83h12.13v1.42h-12.13zM587.54 435.87h12.13v1.42h-12.13zM587.54 440.15h12.13v1.42h-12.13zM587.54 444.44h12.13v1.42h-12.13zM587.54 454.07h12.13v1.42h-12.13zM587.54 460.5h12.13v1.42h-12.13zM587.54 462.64h12.13v2.49h-12.13zM587.54 467.99h12.13v2.49h-12.13zM587.54 474.42h12.13v2.49h-12.13zM587.54 478.7h12.13v1.42h-12.13zM587.54 481.91h12.13v1.42h-12.13zM587.54 485.12h12.13v1.42h-12.13zM587.54 489.41h12.13v1.42h-12.13zM587.54 501.18h12.13v1.42h-12.13zM587.54 503.32h12.13v1.42h-12.13zM587.54 507.61h12.13v1.42h-12.13zM587.54 519.39h12.13v1.42h-12.13zM587.54 521.53h12.13v1.42h-12.13zM587.54 527.95h12.13v1.42h-12.13zM587.54 530.09h12.13v1.42h-12.13zM599.32 449.79h12.13v1.42h-12.13zM599.32 458.35h12.13v1.42h-12.13zM599.32 465.85h12.13v2.49h-12.13zM599.32 469.06h12.13v1.42h-12.13zM599.32 473.34h12.13v1.42h-12.13zM599.32 475.49h12.13v1.42h-12.13zM599.32 479.77h12.13v1.42h-12.13zM599.32 486.19h12.13v1.42h-12.13zM599.32 489.41h12.13v1.42h-12.13zM599.32 492.62h12.13v1.42h-12.13zM599.32 500.11h12.13v1.42h-12.13zM599.32 512.96h12.13v1.42h-12.13zM599.32 518.31h12.13v1.42h-12.13zM599.32 531.16h12.13v1.42h-12.13zM599.32 535.45h12.13v1.42h-12.13zM599.32 537.59h12.13v1.42h-12.13zM611.1 432.66h12.13v1.42h-12.13zM611.1 435.87h12.13v1.42h-12.13zM611.1 438.01h12.13v2.49h-12.13zM611.1 442.29h12.13v3.56h-12.13zM611.1 456.21h12.13v1.42h-12.13zM611.1 462.64h12.13v3.56h-12.13zM611.1 474.42h12.13v1.42h-12.13zM611.1 478.7h12.13v1.42h-12.13zM611.1 485.12h12.13v3.56h-12.13zM611.1 492.62h12.13v1.42h-12.13zM611.1 507.61h12.13v1.42h-12.13zM611.1 509.75h12.13v1.42h-12.13zM611.1 511.89h12.13v2.49h-12.13zM611.1 519.39h12.13v1.42h-12.13zM611.1 521.53h12.13v1.42h-12.13zM611.1 536.52h12.13v1.42h-12.13zM622.88 434.8h11.78v1.42h-11.78zM622.88 436.94h11.78v2.49h-11.78zM622.88 440.15h11.78v1.42h-11.78zM622.88 448.72h11.78v1.42h-11.78zM622.88 450.86h11.78v1.42h-11.78zM622.88 453h11.78v1.42h-11.78zM622.88 455.14h11.78v1.42h-11.78zM622.88 462.64h11.78v3.56h-11.78zM622.88 472.27h11.78v1.42h-11.78zM622.88 474.42h11.78v1.42h-11.78zM622.88 490.48h11.78v1.42h-11.78zM622.88 495.83h11.78v3.56h-11.78zM622.88 504.4h11.78v1.42h-11.78zM622.88 506.54h11.78v1.42h-11.78zM622.88 508.68h11.78v1.42h-11.78zM622.88 514.03h11.78v2.49h-11.78zM622.88 519.39h11.78v1.42h-11.78zM622.88 523.67h11.78v1.42h-11.78zM622.88 530.09h11.78v1.42h-11.78zM622.88 535.45h11.78v1.42h-11.78z"/>
<path fill="#b3a7d1" d="M493.3 398.39h12.13v1.42h-12.13zM493.3 402.68h12.13v1.42h-12.13zM493.3 415.53h12.13v1.42h-12.13zM505.08 398.39h12.13v1.42h-12.13zM505.08 415.53h12.13v1.42h-12.13zM505.08 471.2h12.13v1.42h-12.13zM516.86 398.39h12.13v1.42h-12.13zM516.86 411.24h12.13v1.42h-12.13zM516.86 424.09h12.13v1.42h-12.13zM516.86 461.57h12.13v1.42h-12.13zM528.64 424.09h12.13v1.42h-12.13zM528.64 451.93h12.13v1.42h-12.13zM540.42 433.73h12.13v1.42h-12.13zM540.42 438.01h12.13v1.42h-12.13zM540.42 450.86h12.13v1.42h-12.13zM552.2 395.18h12.13v1.42h-12.13zM552.2 457.28h12.13v1.42h-12.13zM552.2 480.84h12.13v1.42h-12.13zM563.98 434.8h12.13v1.42h-12.13zM563.98 494.76h12.13v1.42h-12.13zM563.98 526.88h12.13v1.42h-12.13zM575.76 526.88h12.13v1.42h-12.13zM575.76 534.38h12.13v1.42h-12.13zM587.54 480.84h12.13v1.42h-12.13zM587.54 496.9h12.13v1.42h-12.13zM587.54 525.81h12.13v1.42h-12.13zM599.32 525.81h12.13v1.42h-12.13zM611.1 525.81h12.13v2.49h-12.13zM622.88 427.3h11.78v1.42h-11.78z"/>
<path fill="#c4bada" d="M493.3 411.24h12.13v1.42h-12.13zM493.3 472.27h12.13v1.42h-12.13zM493.3 474.42h12.13v1.42h-12.13zM493.3 478.7h12.13v1.42h-12.13zM505.08 411.24h12.13v1.42h-12.13zM516.86 459.43h12.13v1.42h-12.13zM528.64 453h12.13v1.42h-12.13zM528.64 455.14h12.13v1.42h-12.13zM540.42 487.26h12.13v1.42h-12.13zM552.2 408.03h12.13v1.42h-12.13zM552.2 412.31h12.13v1.42h-12.13zM552.2 430.52h12.13v1.42h-12.13zM563.98 393.04h12.13v1.42h-12.13zM563.98 457.28h12.13v1.42h-12.13zM563.98 524.74h12.13v1.42h-12.13zM575.76 457.28h12.13v1.42h-12.13zM575.76 524.74h12.13v1.42h-12.13zM599.32 457.28h12.13v1.42h-12.13zM622.88 398.39h11.78v1.42h-11.78zM622.88 403.75h11.78v1.42h-11.78zM622.88 405.89h11.78v1.42h-11.78zM622.88 524.74h11.78v1.42h-11.78z"/>
<path fill="#bcb0d5" d="M493.3 424.09h12.13v1.42h-12.13zM493.3 431.59h12.13v1.42h-12.13zM493.3 451.93h12.13v1.42h-12.13zM493.3 476.56h12.13v1.42h-12.13zM493.3 490.48h12.13v1.42h-12.13zM528.64 450.86h12.13v1.42h-12.13zM540.42 457.28h12.13v1.42h-12.13zM552.2 399.47h12.13v1.42h-12.13zM552.2 402.68h12.13v1.42h-12.13zM552.2 415.53h12.13v1.42h-12.13zM552.2 418.74h12.13v1.42h-12.13zM552.2 524.74h12.13v1.42h-12.13zM563.98 430.52h12.13v1.42h-12.13zM563.98 472.27h12.13v1.42h-12.13zM587.54 401.61h12.13v1.42h-12.13zM599.32 404.82h12.13v1.42h-12.13zM599.32 430.52h12.13v1.42h-12.13zM611.1 430.52h12.13v1.42h-12.13zM611.1 524.74h12.13v1.42h-12.13zM622.88 406.96h11.78v1.42h-11.78zM622.88 430.52h11.78v1.42h-11.78zM622.88 480.84h11.78v1.42h-11.78z"/>
<path fill="#e7e0ea" d="M493.3 430.52h12.13v1.42h-12.13zM493.3 433.73h12.13v1.42h-12.13zM493.3 444.44h12.13v1.42h-12.13zM493.3 454.07h12.13v1.42h-12.13zM493.3 459.43h12.13v2.49h-12.13zM493.3 462.64h12.13v1.42h-12.13zM493.3 467.99h12.13v1.42h-12.13zM493.3 481.91h12.13v1.42h-12.13zM505.08 450.86h12.13v1.42h-12.13zM505.08 529.02h12.13v1.42h-12.13zM516.86 441.22h12.13v1.42h-12.13zM516.86 491.55h12.13v1.42h-12.13zM516.86 531.16h12.13v1.42h-12.13zM528.64 445.51h12.13v1.42h-12.13zM528.64 449.79h12.13v1.42h-12.13zM528.64 454.07h12.13v1.42h-12.13zM528.64 465.85h12.13v1.42h-12.13zM528.64 491.55h12.13v1.42h-12.13zM528.64 501.18h12.13v1.42h-12.13zM540.42 430.52h12.13v1.42h-12.13zM540.42 440.15h12.13v1.42h-12.13zM540.42 445.51h12.13v1.42h-12.13zM540.42 451.93h12.13v1.42h-12.13zM540.42 455.14h12.13v1.42h-12.13zM540.42 460.5h12.13v1.42h-12.13zM540.42 489.41h12.13v3.56h-12.13zM540.42 512.96h12.13v1.42h-12.13zM540.42 515.1h12.13v1.42h-12.13zM540.42 534.38h12.13v1.42h-12.13zM552.2 390.9h12.13v1.42h-12.13zM552.2 404.82h12.13v1.42h-12.13zM552.2 406.96h12.13v1.42h-12.13zM552.2 411.24h12.13v1.42h-12.13zM552.2 420.88h12.13v1.42h-12.13zM563.98 429.45h12.13v1.42h-12.13zM587.54 394.11h12.13v1.42h-12.13zM587.54 420.88h12.13v1.42h-12.13zM599.32 425.16h12.13v1.42h-12.13zM622.88 397.32h11.78v1.42h-11.78zM622.88 400.54h11.78v1.42h-11.78zM622.88 409.1h11.78v1.42h-11.78zM622.88 412.31h11.78v1.42h-11.78zM622.88 419.81h11.78v1.42h-11.78z"/>
<path fill="#cdc3de" d="M493.3 432.66h12.13v1.42h-12.13zM493.3 443.37h12.13v1.42h-12.13zM493.3 473.34h12.13v1.42h-12.13zM493.3 477.63h12.13v1.42h-12.13zM493.3 512.96h12.13v1.42h-12.13zM493.3 515.1h12.13v1.42h-12.13zM493.3 517.24h12.13v1.42h-12.13zM505.08 470.13h12.13v1.42h-12.13zM505.08 488.33h12.13v1.42h-12.13zM516.86 458.35h12.13v1.42h-12.13zM528.64 496.9h12.13v2.49h-12.13zM528.64 503.32h12.13v1.42h-12.13zM540.42 432.66h12.13v1.42h-12.13zM540.42 447.65h12.13v1.42h-12.13zM540.42 484.05h12.13v1.42h-12.13zM552.2 396.25h12.13v1.42h-12.13zM552.2 413.38h12.13v1.42h-12.13zM552.2 421.95h12.13v1.42h-12.13zM575.76 398.39h12.13v1.42h-12.13zM575.76 430.52h12.13v1.42h-12.13zM587.54 430.52h12.13v1.42h-12.13zM599.32 524.74h12.13v1.42h-12.13zM622.88 408.03h11.78v1.42h-11.78zM622.88 410.17h11.78v1.42h-11.78zM622.88 426.23h11.78v1.42h-11.78z"/>
<path fill="#f4cac1" d="M493.3 434.8h12.13v1.42h-12.13zM493.3 436.94h12.13v1.42h-12.13zM493.3 441.22h12.13v1.42h-12.13zM493.3 457.28h12.13v1.42h-12.13zM493.3 482.98h12.13v1.42h-12.13zM493.3 485.12h12.13v1.42h-12.13zM493.3 501.18h12.13v1.42h-12.13zM493.3 506.54h12.13v1.42h-12.13zM505.08 431.59h12.13v1.42h-12.13zM505.08 441.22h12.13v1.42h-12.13zM505.08 443.37h12.13v3.56h-12.13zM505.08 475.49h12.13v1.42h-12.13zM505.08 477.63h12.13v1.42h-12.13zM505.08 479.77h12.13v1.42h-12.13zM505.08 516.17h12.13v2.49h-12.13zM516.86 439.08h12.13v1.42h-12.13zM516.86 454.07h12.13v1.42h-12.13zM516.86 490.48h12.13v1.42h-12.13zM516.86 500.11h12.13v2.49h-12.13zM516.86 509.75h12.13v1.42h-12.13zM516.86 516.17h12.13v1.42h-12.13zM516.86 526.88h12.13v1.42h-12.13zM516.86 535.45h12.13v1.42h-12.13zM528.64 430.52h12.13v1.42h-12.13zM528.64 461.57h12.13v1.42h-12.13zM528.64 484.05h12.13v1.42h-12.13zM528.64 487.26h12.13v1.42h-12.13zM528.64 494.76h12.13v1.42h-12.13zM528.64 509.75h12.13v1.42h-12.13zM528.64 511.89h12.13v1.42h-12.13zM528.64 525.81h12.13v1.42h-12.13zM528.64 532.23h12.13v1.42h-12.13zM528.64 536.52h12.13v1.42h-12.13zM540.42 466.92h12.13v1.42h-12.13zM540.42 519.39h12.13v1.42h-12.13zM552.2 410.17h12.13v1.42h-12.13zM552.2 428.38h12.13v1.42h-12.13zM563.98 410.17h12.13v1.42h-12.13zM563.98 425.16h12.13v2.49h-12.13zM575.76 396.25h12.13v1.42h-12.13zM575.76 413.38h12.13v1.42h-12.13zM575.76 424.09h12.13v1.42h-12.13zM587.54 393.04h12.13v1.42h-12.13zM587.54 397.32h12.13v1.42h-12.13zM587.54 405.89h12.13v1.42h-12.13zM587.54 412.31h12.13v1.42h-12.13zM599.32 398.39h12.13v1.42h-12.13zM611.1 397.32h12.13v1.42h-12.13zM611.1 406.96h12.13v1.42h-12.13zM611.1 429.45h12.13v1.42h-12.13zM622.88 417.67h11.78v1.42h-11.78z"/>
<path fill="#f4d2cb" d="M493.3 435.87h12.13v1.42h-12.13zM493.3 484.05h12.13v1.42h-12.13zM493.3 493.69h12.13v1.42h-12.13zM505.08 440.15h12.13v1.42h-12.13zM505.08 455.14h12.13v1.42h-12.13zM505.08 476.56h12.13v1.42h-12.13zM505.08 492.62h12.13v1.42h-12.13zM505.08 526.88h12.13v1.42h-12.13zM516.86 445.51h12.13v2.49h-12.13zM516.86 451.93h12.13v1.42h-12.13zM516.86 465.85h12.13v1.42h-12.13zM516.86 486.19h12.13v1.42h-12.13zM516.86 497.97h12.13v1.42h-12.13zM528.64 442.29h12.13v1.42h-12.13zM528.64 464.78h12.13v1.42h-12.13zM528.64 488.33h12.13v1.42h-12.13zM528.64 523.67h12.13v1.42h-12.13zM528.64 526.88h12.13v1.42h-12.13zM528.64 529.02h12.13v1.42h-12.13zM528.64 534.38h12.13v1.42h-12.13zM540.42 442.29h12.13v1.42h-12.13zM540.42 496.9h12.13v1.42h-12.13zM540.42 521.53h12.13v1.42h-12.13zM540.42 530.09h12.13v1.42h-12.13zM563.98 391.97h12.13v1.42h-12.13zM563.98 395.18h12.13v1.42h-12.13zM563.98 402.68h12.13v1.42h-12.13zM575.76 391.97h12.13v1.42h-12.13zM575.76 395.18h12.13v1.42h-12.13zM575.76 397.32h12.13v1.42h-12.13zM575.76 399.47h12.13v1.42h-12.13zM575.76 402.68h12.13v1.42h-12.13zM587.54 411.24h12.13v1.42h-12.13zM599.32 429.45h12.13v1.42h-12.13zM611.1 396.25h12.13v1.42h-12.13zM611.1 405.89h12.13v1.42h-12.13zM611.1 418.74h12.13v1.42h-12.13zM622.88 396.25h11.78v1.42h-11.78z"/>
<path fill="#eb8166" d="M493.3 438.01h12.13v1.42h-12.13zM505.08 463.71h12.13v1.42h-12.13zM505.08 474.42h12.13v1.42h-12.13zM505.08 495.83h12.13v1.42h-12.13zM505.08 512.96h12.13v1.42h-12.13zM505.08 518.31h12.13v1.42h-12.13zM516.86 467.99h12.13v1.42h-12.13zM575.76 409.1h12.13v1.42h-12.13zM575.76 418.74h12.13v1.42h-12.13zM575.76 421.95h12.13v2.49h-12.13z"/>
<path fill="#f1b2a3" d="M493.3 439.08h12.13v1.42h-12.13zM505.08 432.66h12.13v1.42h-12.13zM505.08 442.29h12.13v1.42h-12.13zM505.08 480.84h12.13v1.42h-12.13zM505.08 486.19h12.13v1.42h-12.13zM505.08 520.46h12.13v1.42h-12.13zM505.08 525.81h12.13v1.42h-12.13zM505.08 537.59h12.13v1.42h-12.13zM516.86 435.87h12.13v1.42h-12.13zM516.86 471.2h12.13v2.49h-12.13zM516.86 474.42h12.13v1.42h-12.13zM516.86 480.84h12.13v1.42h-12.13zM516.86 489.41h12.13v1.42h-12.13zM516.86 517.24h12.13v1.42h-12.13zM516.86 520.46h12.13v1.42h-12.13zM516.86 523.67h12.13v1.42h-12.13zM516.86 537.59h12.13v1.42h-12.13zM528.64 470.13h12.13v1.42h-12.13zM528.64 489.41h12.13v1.42h-12.13zM528.64 527.95h12.13v1.42h-12.13zM563.98 404.82h12.13v1.42h-12.13zM563.98 413.38h12.13v1.42h-12.13zM587.54 413.38h12.13v1.42h-12.13zM587.54 416.6h12.13v1.42h-12.13zM599.32 413.38h12.13v1.42h-12.13zM599.32 419.81h12.13v1.42h-12.13zM611.1 393.04h12.13v1.42h-12.13zM611.1 413.38h12.13v1.42h-12.13zM611.1 421.95h12.13v1.42h-12.13z"/>
<path fill="#f2baad" d="M493.3 440.15h12.13v1.42h-12.13zM505.08 430.52h12.13v1.42h-12.13zM505.08 433.73h12.13v1.42h-12.13zM505.08 456.21h12.13v1.42h-12.13zM505.08 490.48h12.13v1.42h-12.13zM505.08 503.32h12.13v1.42h-12.13zM505.08 506.54h12.13v1.42h-12.13zM505.08 514.03h12.13v2.49h-12.13zM516.86 448.72h12.13v1.42h-12.13zM516.86 481.91h12.13v1.42h-12.13zM516.86 499.04h12.13v1.42h-12.13zM516.86 522.6h12.13v1.42h-12.13zM516.86 524.74h12.13v1.42h-12.13zM516.86 527.95h12.13v1.42h-12.13zM516.86 539.73h12.13v1.07h-12.13zM528.64 475.49h12.13v1.42h-12.13zM528.64 518.31h12.13v1.42h-12.13zM528.64 531.16h12.13v1.42h-12.13zM528.64 537.59h12.13v1.42h-12.13zM540.42 464.78h12.13v1.42h-12.13zM540.42 499.04h12.13v1.42h-12.13zM540.42 525.81h12.13v1.42h-12.13zM563.98 405.89h12.13v1.42h-12.13zM563.98 409.1h12.13v1.42h-12.13zM575.76 393.04h12.13v1.42h-12.13zM587.54 395.18h12.13v1.42h-12.13zM587.54 410.17h12.13v1.42h-12.13zM587.54 417.67h12.13v1.42h-12.13zM587.54 427.3h12.13v1.42h-12.13zM599.32 411.24h12.13v1.42h-12.13zM599.32 421.95h12.13v1.42h-12.13zM599.32 424.09h12.13v1.42h-12.13zM599.32 426.23h12.13v1.42h-12.13zM611.1 414.46h12.13v2.49h-12.13zM611.1 420.88h12.13v1.42h-12.13z"/>
<path fill="#f5dbd5" d="M493.3 442.29h12.13v1.42h-12.13zM493.3 456.21h12.13v1.42h-12.13zM493.3 458.35h12.13v1.42h-12.13zM493.3 494.76h12.13v2.49h-12.13zM493.3 519.39h12.13v1.42h-12.13zM505.08 448.72h12.13v1.42h-12.13zM505.08 465.85h12.13v1.42h-12.13zM505.08 530.09h12.13v1.42h-12.13zM516.86 432.66h12.13v1.42h-12.13zM516.86 473.34h12.13v1.42h-12.13zM516.86 476.56h12.13v1.42h-12.13zM516.86 487.26h12.13v1.42h-12.13zM516.86 492.62h12.13v1.42h-12.13zM516.86 532.23h12.13v1.42h-12.13zM528.64 456.21h12.13v1.42h-12.13zM528.64 476.56h12.13v1.42h-12.13zM528.64 485.12h12.13v1.42h-12.13zM528.64 522.6h12.13v1.42h-12.13zM540.42 454.07h12.13v1.42h-12.13zM540.42 469.06h12.13v1.42h-12.13zM540.42 493.69h12.13v1.42h-12.13zM540.42 497.97h12.13v1.42h-12.13zM540.42 507.61h12.13v1.42h-12.13zM540.42 511.89h12.13v1.42h-12.13zM540.42 523.67h12.13v2.49h-12.13zM540.42 532.23h12.13v1.42h-12.13zM540.42 537.59h12.13v1.42h-12.13zM552.2 405.89h12.13v1.42h-12.13zM563.98 403.75h12.13v1.42h-12.13zM563.98 406.96h12.13v1.42h-12.13zM563.98 416.6h12.13v1.42h-12.13zM563.98 418.74h12.13v1.42h-12.13zM587.54 418.74h12.13v1.42h-12.13zM587.54 423.02h12.13v1.42h-12.13zM587.54 425.16h12.13v1.42h-12.13zM599.32 400.54h12.13v1.42h-12.13zM599.32 409.1h12.13v1.42h-12.13zM599.32 418.74h12.13v1.42h-12.13zM599.32 427.3h12.13v2.49h-12.13zM611.1 404.82h12.13v1.42h-12.13zM611.1 408.03h12.13v2.49h-12.13zM611.1 423.02h12.13v1.42h-12.13zM622.88 399.47h11.78v1.42h-11.78z"/>
<path fill="#ab9dcd" d="M493.3 446.58h12.13v2.49h-12.13zM493.3 466.92h12.13v1.42h-12.13zM493.3 475.49h12.13v1.42h-12.13zM505.08 402.68h12.13v1.42h-12.13zM505.08 424.09h12.13v1.42h-12.13zM516.86 460.5h12.13v1.42h-12.13zM516.86 462.64h12.13v1.42h-12.13zM516.86 494.76h12.13v2.49h-12.13zM528.64 411.24h12.13v1.42h-12.13zM528.64 415.53h12.13v1.42h-12.13zM540.42 411.24h12.13v1.42h-12.13zM540.42 436.94h12.13v1.42h-12.13zM540.42 459.43h12.13v1.42h-12.13zM552.2 499.04h12.13v1.42h-12.13zM552.2 534.38h12.13v1.42h-12.13zM563.98 471.2h12.13v1.42h-12.13zM563.98 480.84h12.13v1.42h-12.13zM563.98 502.25h12.13v1.42h-12.13zM563.98 525.81h12.13v1.42h-12.13zM563.98 534.38h12.13v1.42h-12.13zM575.76 434.8h12.13v1.42h-12.13zM575.76 446.58h12.13v1.42h-12.13zM575.76 480.84h12.13v1.42h-12.13zM575.76 502.25h12.13v1.42h-12.13zM575.76 525.81h12.13v1.42h-12.13zM575.76 529.02h12.13v1.42h-12.13zM587.54 457.28h12.13v1.42h-12.13zM587.54 508.68h12.13v1.42h-12.13zM587.54 526.88h12.13v1.42h-12.13zM587.54 534.38h12.13v1.42h-12.13zM599.32 526.88h12.13v1.42h-12.13zM611.1 480.84h12.13v1.42h-12.13zM611.1 529.02h12.13v1.42h-12.13zM611.1 534.38h12.13v1.42h-12.13zM622.88 395.18h11.78v1.42h-11.78z"/>
<path fill="#d6cde2" d="M493.3 448.72h12.13v1.42h-12.13zM493.3 479.77h12.13v1.42h-12.13zM493.3 487.26h12.13v1.42h-12.13zM493.3 491.55h12.13v1.42h-12.13zM493.3 510.82h12.13v1.42h-12.13zM493.3 516.17h12.13v1.42h-12.13zM493.3 518.31h12.13v1.42h-12.13zM505.08 469.06h12.13v1.42h-12.13zM505.08 499.04h12.13v2.49h-12.13zM516.86 493.69h12.13v1.42h-12.13zM516.86 496.9h12.13v1.42h-12.13zM528.64 492.62h12.13v1.42h-12.13zM528.64 495.83h12.13v1.42h-12.13zM540.42 456.21h12.13v1.42h-12.13zM540.42 458.35h12.13v1.42h-12.13zM540.42 471.2h12.13v1.42h-12.13zM540.42 481.91h12.13v2.49h-12.13zM552.2 391.97h12.13v1.42h-12.13zM552.2 419.81h12.13v1.42h-12.13zM552.2 425.16h12.13v1.42h-12.13zM575.76 428.38h12.13v1.42h-12.13zM587.54 404.82h12.13v1.42h-12.13zM599.32 393.04h12.13v1.42h-12.13zM599.32 395.18h12.13v1.42h-12.13zM611.1 411.24h12.13v1.42h-12.13zM622.88 390.9h11.78v1.42h-11.78zM622.88 404.82h11.78v1.42h-11.78zM622.88 424.09h11.78v1.42h-11.78zM622.88 429.45h11.78v1.42h-11.78z"/>
<path fill="#ded6e6" d="M493.3 449.79h12.13v1.42h-12.13zM493.3 469.06h12.13v2.49h-12.13zM493.3 514.03h12.13v1.42h-12.13zM505.08 502.25h12.13v1.42h-12.13zM505.08 532.23h12.13v2.49h-12.13zM516.86 477.63h12.13v1.42h-12.13zM528.64 490.48h12.13v1.42h-12.13zM528.64 499.04h12.13v1.42h-12.13zM528.64 502.25h12.13v1.42h-12.13zM528.64 539.73h12.13v1.07h-12.13zM540.42 431.59h12.13v1.42h-12.13zM540.42 480.84h12.13v1.42h-12.13zM540.42 495.83h12.13v1.42h-12.13zM540.42 509.75h12.13v1.42h-12.13zM552.2 393.04h12.13v1.42h-12.13zM552.2 416.6h12.13v2.49h-12.13zM552.2 426.23h12.13v1.42h-12.13zM563.98 428.38h12.13v1.42h-12.13zM575.76 425.16h12.13v1.42h-12.13zM622.88 402.68h11.78v1.42h-11.78zM622.88 418.74h11.78v1.42h-11.78zM622.88 428.38h11.78v1.42h-11.78z"/>
<path fill="#f8f3f3" d="M493.3 453h12.13v1.42h-12.13zM493.3 471.2h12.13v1.42h-12.13zM493.3 486.19h12.13v1.42h-12.13zM505.08 527.95h12.13v1.42h-12.13zM516.86 440.15h12.13v1.42h-12.13zM516.86 447.65h12.13v1.42h-12.13zM516.86 455.14h12.13v1.42h-12.13zM516.86 457.28h12.13v1.42h-12.13zM528.64 431.59h12.13v2.49h-12.13zM528.64 441.22h12.13v1.42h-12.13zM528.64 477.63h12.13v1.42h-12.13zM528.64 481.91h12.13v1.42h-12.13zM528.64 493.69h12.13v1.42h-12.13zM528.64 504.4h12.13v2.49h-12.13zM528.64 512.96h12.13v1.42h-12.13zM528.64 515.1h12.13v1.42h-12.13zM540.42 446.58h12.13v1.42h-12.13zM540.42 461.57h12.13v1.42h-12.13zM540.42 470.13h12.13v1.42h-12.13zM540.42 472.27h12.13v1.42h-12.13zM540.42 475.49h12.13v1.42h-12.13zM540.42 477.63h12.13v2.49h-12.13zM540.42 485.12h12.13v2.49h-12.13zM540.42 508.68h12.13v1.42h-12.13zM540.42 520.46h12.13v1.42h-12.13zM540.42 527.95h12.13v1.42h-12.13zM552.2 403.75h12.13v1.42h-12.13zM563.98 408.03h12.13v1.42h-12.13zM575.76 401.61h12.13v1.42h-12.13zM575.76 403.75h12.13v1.42h-12.13zM575.76 426.23h12.13v1.42h-12.13zM587.54 399.47h12.13v2.49h-12.13zM587.54 403.75h12.13v1.42h-12.13zM599.32 408.03h12.13v1.42h-12.13zM599.32 423.02h12.13v1.42h-12.13zM611.1 394.11h12.13v1.42h-12.13zM611.1 398.39h12.13v1.42h-12.13zM611.1 412.31h12.13v1.42h-12.13zM611.1 424.09h12.13v1.42h-12.13zM611.1 426.23h12.13v2.49h-12.13zM622.88 420.88h11.78v1.42h-11.78zM622.88 425.16h11.78v1.42h-11.78z"/>
<path fill="#f7ebe9" d="M493.3 455.14h12.13v1.42h-12.13zM493.3 464.78h12.13v2.49h-12.13zM493.3 480.84h12.13v1.42h-12.13zM493.3 507.61h12.13v1.42h-12.13zM493.3 509.75h12.13v1.42h-12.13zM493.3 511.89h12.13v1.42h-12.13zM505.08 453h12.13v1.42h-12.13zM505.08 472.27h12.13v1.42h-12.13zM505.08 487.26h12.13v1.42h-12.13zM505.08 501.18h12.13v1.42h-12.13zM505.08 535.45h12.13v1.42h-12.13zM516.86 450.86h12.13v1.42h-12.13zM516.86 456.21h12.13v1.42h-12.13zM516.86 464.78h12.13v1.42h-12.13zM516.86 482.98h12.13v1.42h-12.13zM516.86 529.02h12.13v1.42h-12.13zM516.86 533.3h12.13v1.42h-12.13zM528.64 467.99h12.13v1.42h-12.13zM528.64 471.2h12.13v1.42h-12.13zM528.64 478.7h12.13v2.49h-12.13zM528.64 506.54h12.13v1.42h-12.13zM528.64 516.17h12.13v1.42h-12.13zM528.64 538.66h12.13v1.42h-12.13zM540.42 441.22h12.13v1.42h-12.13zM540.42 448.72h12.13v1.42h-12.13zM540.42 473.34h12.13v1.42h-12.13zM540.42 500.11h12.13v1.42h-12.13zM540.42 510.82h12.13v1.42h-12.13zM540.42 514.03h12.13v1.42h-12.13zM540.42 526.88h12.13v1.42h-12.13zM540.42 536.52h12.13v1.42h-12.13zM563.98 390.9h12.13v1.42h-12.13zM575.76 400.54h12.13v1.42h-12.13zM575.76 429.45h12.13v1.42h-12.13zM587.54 402.68h12.13v1.42h-12.13zM599.32 391.97h12.13v1.42h-12.13zM599.32 401.61h12.13v1.42h-12.13zM599.32 403.75h12.13v1.42h-12.13zM599.32 406.96h12.13v1.42h-12.13zM599.32 415.53h12.13v1.42h-12.13zM599.32 417.67h12.13v1.42h-12.13zM611.1 400.54h12.13v1.42h-12.13zM611.1 402.68h12.13v1.42h-12.13zM622.88 411.24h11.78v1.42h-11.78zM622.88 421.95h11.78v1.42h-11.78z"/>
<path fill="#f3c2b7" d="M493.3 461.57h12.13v1.42h-12.13zM505.08 439.08h12.13v1.42h-12.13zM505.08 446.58h12.13v1.42h-12.13zM505.08 464.78h12.13v1.42h-12.13zM505.08 497.97h12.13v1.42h-12.13zM505.08 505.47h12.13v1.42h-12.13zM505.08 536.52h12.13v1.42h-12.13zM516.86 431.59h12.13v1.42h-12.13zM516.86 436.94h12.13v1.42h-12.13zM516.86 470.13h12.13v1.42h-12.13zM516.86 475.49h12.13v1.42h-12.13zM516.86 485.12h12.13v1.42h-12.13zM516.86 506.54h12.13v1.42h-12.13zM516.86 511.89h12.13v1.42h-12.13zM516.86 518.31h12.13v1.42h-12.13zM516.86 521.53h12.13v1.42h-12.13zM516.86 530.09h12.13v1.42h-12.13zM528.64 440.15h12.13v1.42h-12.13zM528.64 448.72h12.13v1.42h-12.13zM528.64 457.28h12.13v1.42h-12.13zM528.64 459.43h12.13v1.42h-12.13zM528.64 517.24h12.13v1.42h-12.13zM540.42 444.44h12.13v1.42h-12.13zM540.42 467.99h12.13v1.42h-12.13zM540.42 517.24h12.13v1.42h-12.13zM540.42 529.02h12.13v1.42h-12.13zM552.2 429.45h12.13v1.42h-12.13zM563.98 412.31h12.13v1.42h-12.13zM563.98 414.46h12.13v1.42h-12.13zM563.98 417.67h12.13v1.42h-12.13zM575.76 416.6h12.13v1.42h-12.13zM587.54 390.9h12.13v2.49h-12.13zM587.54 424.09h12.13v1.42h-12.13zM599.32 414.46h12.13v1.42h-12.13zM599.32 416.6h12.13v1.42h-12.13zM611.1 403.75h12.13v1.42h-12.13zM611.1 416.6h12.13v2.49h-12.13z"/>
<path fill="#ec8970" d="M493.3 463.71h12.13v1.42h-12.13zM505.08 436.94h12.13v1.42h-12.13zM505.08 482.98h12.13v1.42h-12.13zM505.08 496.9h12.13v1.42h-12.13zM505.08 508.68h12.13v1.42h-12.13zM505.08 524.74h12.13v1.42h-12.13zM505.08 539.73h12.13v1.07h-12.13zM516.86 505.47h12.13v1.42h-12.13zM516.86 507.61h12.13v1.42h-12.13zM516.86 515.1h12.13v1.42h-12.13zM540.42 502.25h12.13v2.49h-12.13zM563.98 420.88h12.13v1.42h-12.13zM575.76 410.17h12.13v1.42h-12.13zM599.32 420.88h12.13v1.42h-12.13z"/>
<path fill="#6e5aaf" d="M493.3 488.33h12.13v1.42h-12.13zM516.86 410.17h12.13v1.42h-12.13zM516.86 412.31h12.13v1.42h-12.13zM516.86 420.88h12.13v1.42h-12.13zM528.64 397.32h12.13v1.42h-12.13zM528.64 399.47h12.13v3.56h-12.13zM528.64 410.17h12.13v1.42h-12.13zM528.64 420.88h12.13v1.42h-12.13zM528.64 423.02h12.13v1.42h-12.13zM540.42 395.18h12.13v1.42h-12.13zM540.42 397.32h12.13v1.42h-12.13zM540.42 400.54h12.13v1.42h-12.13zM540.42 408.03h12.13v1.42h-12.13zM540.42 410.17h12.13v1.42h-12.13zM540.42 427.3h12.13v1.42h-12.13zM552.2 492.62h12.13v1.42h-12.13zM552.2 531.16h12.13v1.42h-12.13zM587.54 470.13h12.13v1.42h-12.13zM587.54 476.56h12.13v1.42h-12.13zM599.32 431.59h12.13v1.42h-12.13zM599.32 453h12.13v1.42h-12.13zM599.32 481.91h12.13v1.42h-12.13zM599.32 484.05h12.13v1.42h-12.13zM599.32 493.69h12.13v1.42h-12.13zM599.32 495.83h12.13v1.42h-12.13zM611.1 458.35h12.13v1.42h-12.13zM611.1 460.5h12.13v1.42h-12.13zM611.1 497.97h12.13v2.49h-12.13zM622.88 431.59h11.78v1.42h-11.78zM622.88 449.79h11.78v1.42h-11.78zM622.88 465.85h11.78v1.42h-11.78zM622.88 470.13h11.78v1.42h-11.78zM622.88 473.34h11.78v1.42h-11.78zM622.88 503.32h11.78v1.42h-11.78zM622.88 505.47h11.78v1.42h-11.78zM622.88 507.61h11.78v1.42h-11.78zM622.88 511.89h11.78v2.49h-11.78zM622.88 522.6h11.78v1.42h-11.78zM622.88 532.23h11.78v1.42h-11.78z"/>
<path fill="#f6e3df" d="M493.3 492.62h12.13v1.42h-12.13zM493.3 497.97h12.13v1.42h-12.13zM493.3 500.11h12.13v1.42h-12.13zM505.08 438.01h12.13v1.42h-12.13zM505.08 449.79h12.13v1.42h-12.13zM505.08 467.99h12.13v1.42h-12.13zM505.08 478.7h12.13v1.42h-12.13zM505.08 491.55h12.13v1.42h-12.13zM505.08 504.4h12.13v1.42h-12.13zM505.08 534.38h12.13v1.42h-12.13zM516.86 442.29h12.13v3.56h-12.13zM516.86 478.7h12.13v1.42h-12.13zM516.86 510.82h12.13v1.42h-12.13zM516.86 536.52h12.13v1.42h-12.13zM528.64 443.37h12.13v1.42h-12.13zM528.64 507.61h12.13v1.42h-12.13zM540.42 449.79h12.13v1.42h-12.13zM540.42 453h12.13v1.42h-12.13zM540.42 476.56h12.13v1.42h-12.13zM540.42 494.76h12.13v1.42h-12.13zM540.42 522.6h12.13v1.42h-12.13zM540.42 531.16h12.13v1.42h-12.13zM552.2 423.02h12.13v1.42h-12.13zM552.2 427.3h12.13v1.42h-12.13zM563.98 401.61h12.13v1.42h-12.13zM563.98 415.53h12.13v1.42h-12.13zM575.76 404.82h12.13v1.42h-12.13zM575.76 427.3h12.13v1.42h-12.13zM587.54 406.96h12.13v1.42h-12.13zM587.54 419.81h12.13v1.42h-12.13zM599.32 402.68h12.13v1.42h-12.13zM611.1 390.9h12.13v1.42h-12.13zM611.1 399.47h12.13v1.42h-12.13zM622.88 414.46h11.78v3.56h-11.78z"/>
<path fill="#efe9ef" d="M493.3 496.9h12.13v1.42h-12.13zM493.3 499.04h12.13v1.42h-12.13zM493.3 508.68h12.13v1.42h-12.13zM505.08 447.65h12.13v1.42h-12.13zM505.08 451.93h12.13v1.42h-12.13zM505.08 454.07h12.13v1.42h-12.13zM505.08 466.92h12.13v1.42h-12.13zM505.08 489.41h12.13v1.42h-12.13zM505.08 531.16h12.13v1.42h-12.13zM516.86 463.71h12.13v1.42h-12.13zM516.86 484.05h12.13v1.42h-12.13zM528.64 444.44h12.13v1.42h-12.13zM528.64 446.58h12.13v2.49h-12.13zM528.64 466.92h12.13v1.42h-12.13zM528.64 469.06h12.13v1.42h-12.13zM528.64 480.84h12.13v1.42h-12.13zM528.64 482.98h12.13v1.42h-12.13zM528.64 500.11h12.13v1.42h-12.13zM528.64 508.68h12.13v1.42h-12.13zM528.64 510.82h12.13v1.42h-12.13zM528.64 514.03h12.13v1.42h-12.13zM528.64 535.45h12.13v1.42h-12.13zM540.42 439.08h12.13v1.42h-12.13zM540.42 443.37h12.13v1.42h-12.13zM540.42 462.64h12.13v1.42h-12.13zM540.42 479.77h12.13v1.42h-12.13zM540.42 516.17h12.13v1.42h-12.13zM540.42 533.3h12.13v1.42h-12.13zM540.42 535.45h12.13v1.42h-12.13zM552.2 409.1h12.13v1.42h-12.13zM552.2 424.09h12.13v1.42h-12.13zM563.98 419.81h12.13v1.42h-12.13zM563.98 427.3h12.13v1.42h-12.13zM575.76 394.11h12.13v1.42h-12.13zM575.76 405.89h12.13v1.42h-12.13zM587.54 398.39h12.13v1.42h-12.13zM587.54 421.95h12.13v1.42h-12.13zM599.32 390.9h12.13v1.42h-12.13zM599.32 394.11h12.13v1.42h-12.13zM599.32 405.89h12.13v1.42h-12.13zM611.1 391.97h12.13v1.42h-12.13zM611.1 410.17h12.13v1.42h-12.13zM611.1 425.16h12.13v1.42h-12.13zM622.88 413.38h11.78v1.42h-11.78zM622.88 423.02h11.78v1.42h-11.78z"/>
<path fill="#ea795c" d="M493.3 502.25h12.13v1.42h-12.13zM505.08 511.89h12.13v1.42h-12.13zM505.08 523.67h12.13v1.42h-12.13zM516.86 449.79h12.13v1.42h-12.13zM516.86 504.4h12.13v1.42h-12.13zM528.64 462.64h12.13v1.42h-12.13z"/>
<path fill="#e96848" d="M493.3 503.32h12.13v2.49h-12.13zM611.1 419.81h12.13v1.42h-12.13z"/>
<path fill="#efa28e" d="M493.3 505.47h12.13v1.42h-12.13zM505.08 509.75h12.13v1.42h-12.13zM505.08 519.39h12.13v1.42h-12.13zM505.08 521.53h12.13v1.42h-12.13zM516.86 430.52h12.13v1.42h-12.13zM516.86 438.01h12.13v1.42h-12.13zM516.86 453h12.13v1.42h-12.13zM516.86 512.96h12.13v1.42h-12.13zM528.64 436.94h12.13v2.49h-12.13zM528.64 458.35h12.13v1.42h-12.13zM528.64 460.5h12.13v1.42h-12.13zM528.64 533.3h12.13v1.42h-12.13zM540.42 463.71h12.13v1.42h-12.13zM540.42 518.31h12.13v1.42h-12.13zM540.42 538.66h12.13v1.42h-12.13zM563.98 397.32h12.13v1.42h-12.13zM563.98 421.95h12.13v2.49h-12.13zM575.76 415.53h12.13v1.42h-12.13zM587.54 415.53h12.13v1.42h-12.13zM611.1 401.61h12.13v1.42h-12.13z"/>
<path fill="#e8603e" d="M493.3 520.46h12.13v20.34h-12.13zM528.64 435.87h12.13v1.42h-12.13zM552.2 431.59h12.13v6.77h-12.13z"/>
<path fill="#7764b3" d="M505.08 399.47h12.13v1.42h-12.13zM505.08 401.61h12.13v1.42h-12.13zM505.08 417.67h12.13v1.42h-12.13zM505.08 419.81h12.13v2.49h-12.13zM505.08 427.3h12.13v2.49h-12.13zM516.86 423.02h12.13v1.42h-12.13zM528.64 394.11h12.13v1.42h-12.13zM528.64 404.82h12.13v1.42h-12.13zM528.64 412.31h12.13v1.42h-12.13zM528.64 425.16h12.13v1.42h-12.13zM528.64 428.38h12.13v1.42h-12.13zM540.42 403.75h12.13v1.42h-12.13zM540.42 406.96h12.13v1.42h-12.13zM540.42 412.31h12.13v1.42h-12.13zM540.42 414.46h12.13v1.42h-12.13zM540.42 419.81h12.13v2.49h-12.13zM540.42 426.23h12.13v1.42h-12.13zM540.42 428.38h12.13v1.42h-12.13zM552.2 442.29h12.13v1.42h-12.13zM552.2 453h12.13v1.42h-12.13zM552.2 463.71h12.13v2.49h-12.13zM552.2 473.34h12.13v1.42h-12.13zM552.2 475.49h12.13v2.49h-12.13zM552.2 507.61h12.13v1.42h-12.13zM552.2 509.75h12.13v1.42h-12.13zM552.2 530.09h12.13v1.42h-12.13zM552.2 532.23h12.13v1.42h-12.13zM552.2 537.59h12.13v1.42h-12.13zM563.98 510.82h12.13v3.56h-12.13zM563.98 532.23h12.13v1.42h-12.13zM575.76 465.85h12.13v1.42h-12.13zM575.76 467.99h12.13v1.42h-12.13zM575.76 473.34h12.13v1.42h-12.13zM575.76 476.56h12.13v1.42h-12.13zM575.76 490.48h12.13v1.42h-12.13zM575.76 493.69h12.13v1.42h-12.13zM575.76 521.53h12.13v1.42h-12.13zM587.54 438.01h12.13v2.49h-12.13zM587.54 453h12.13v1.42h-12.13zM587.54 455.14h12.13v1.42h-12.13zM587.54 473.34h12.13v1.42h-12.13zM587.54 484.05h12.13v1.42h-12.13zM587.54 487.26h12.13v2.49h-12.13zM587.54 522.6h12.13v2.49h-12.13zM587.54 531.16h12.13v1.42h-12.13zM599.32 433.73h12.13v1.42h-12.13zM599.32 464.78h12.13v1.42h-12.13zM599.32 467.99h12.13v1.42h-12.13zM599.32 470.13h12.13v1.42h-12.13zM599.32 478.7h12.13v1.42h-12.13zM599.32 487.26h12.13v1.42h-12.13zM599.32 490.48h12.13v1.42h-12.13zM599.32 494.76h12.13v1.42h-12.13zM599.32 497.97h12.13v2.49h-12.13zM599.32 511.89h12.13v1.42h-12.13zM599.32 519.39h12.13v1.42h-12.13zM611.1 455.14h12.13v1.42h-12.13zM611.1 459.43h12.13v1.42h-12.13zM611.1 461.57h12.13v1.42h-12.13zM611.1 467.99h12.13v1.42h-12.13zM611.1 473.34h12.13v1.42h-12.13zM611.1 481.91h12.13v1.42h-12.13zM611.1 484.05h12.13v1.42h-12.13zM611.1 488.33h12.13v1.42h-12.13zM611.1 490.48h12.13v1.42h-12.13zM611.1 493.69h12.13v1.42h-12.13zM611.1 495.83h12.13v1.42h-12.13zM611.1 500.11h12.13v2.49h-12.13zM611.1 537.59h12.13v1.42h-12.13zM622.88 454.07h11.78v1.42h-11.78zM622.88 458.35h11.78v3.56h-11.78zM622.88 466.92h11.78v1.42h-11.78zM622.88 469.06h11.78v1.42h-11.78zM622.88 476.56h11.78v1.42h-11.78zM622.88 484.05h11.78v1.42h-11.78zM622.88 493.69h11.78v1.42h-11.78zM622.88 499.04h11.78v1.42h-11.78zM622.88 501.18h11.78v1.42h-11.78zM622.88 509.75h11.78v2.49h-11.78zM622.88 531.16h11.78v1.42h-11.78zM622.88 533.3h11.78v1.42h-11.78zM622.88 537.59h11.78v1.42h-11.78z"/>
<path fill="#6651ab" d="M505.08 410.17h12.13v1.42h-12.13zM505.08 423.02h12.13v1.42h-12.13zM528.64 396.25h12.13v1.42h-12.13zM528.64 427.3h12.13v1.42h-12.13zM540.42 396.25h12.13v1.42h-12.13zM540.42 405.89h12.13v1.42h-12.13zM540.42 423.02h12.13v1.42h-12.13zM587.54 482.98h12.13v1.42h-12.13zM599.32 488.33h12.13v1.42h-12.13zM611.1 441.22h12.13v1.42h-12.13zM611.1 453h12.13v1.42h-12.13zM622.88 467.99h11.78v1.42h-11.78z"/>
<path fill="#ee9984" d="M505.08 434.8h12.13v2.49h-12.13zM505.08 457.28h12.13v1.42h-12.13zM505.08 462.64h12.13v1.42h-12.13zM505.08 485.12h12.13v1.42h-12.13zM505.08 538.66h12.13v1.42h-12.13zM516.86 433.73h12.13v1.42h-12.13zM516.86 466.92h12.13v1.42h-12.13zM528.64 521.53h12.13v1.42h-12.13zM540.42 539.73h12.13v1.07h-12.13zM563.98 396.25h12.13v1.42h-12.13zM563.98 399.47h12.13v2.49h-12.13zM563.98 411.24h12.13v1.42h-12.13zM563.98 424.09h12.13v1.42h-12.13zM575.76 390.9h12.13v1.42h-12.13zM575.76 408.03h12.13v1.42h-12.13zM575.76 411.24h12.13v1.42h-12.13zM575.76 414.46h12.13v1.42h-12.13zM587.54 409.1h12.13v1.42h-12.13zM611.1 428.38h12.13v1.42h-12.13z"/>
<path fill="#ed917a" d="M505.08 458.35h12.13v3.56h-12.13zM505.08 494.76h12.13v1.42h-12.13zM505.08 507.61h12.13v1.42h-12.13zM505.08 510.82h12.13v1.42h-12.13zM516.86 434.8h12.13v1.42h-12.13zM516.86 502.25h12.13v1.42h-12.13zM516.86 525.81h12.13v1.42h-12.13zM528.64 434.8h12.13v1.42h-12.13zM528.64 439.08h12.13v1.42h-12.13zM528.64 486.19h12.13v1.42h-12.13zM528.64 519.39h12.13v2.49h-12.13zM528.64 530.09h12.13v1.42h-12.13zM540.42 465.85h12.13v1.42h-12.13zM540.42 501.18h12.13v1.42h-12.13zM540.42 505.47h12.13v1.42h-12.13zM563.98 398.39h12.13v1.42h-12.13zM575.76 406.96h12.13v1.42h-12.13zM575.76 419.81h12.13v2.49h-12.13zM587.54 396.25h12.13v1.42h-12.13zM587.54 428.38h12.13v1.42h-12.13zM599.32 397.32h12.13v1.42h-12.13zM599.32 399.47h12.13v1.42h-12.13zM599.32 410.17h12.13v1.42h-12.13zM611.1 395.18h12.13v1.42h-12.13z"/>
<path fill="#e6502a" d="M505.08 461.57h12.13v1.42h-12.13z"/>
<path fill="#f0aa99" d="M505.08 473.34h12.13v1.42h-12.13zM505.08 481.91h12.13v1.42h-12.13zM505.08 484.05h12.13v1.42h-12.13zM505.08 493.69h12.13v1.42h-12.13zM505.08 522.6h12.13v1.42h-12.13zM516.86 479.77h12.13v1.42h-12.13zM516.86 488.33h12.13v1.42h-12.13zM516.86 503.32h12.13v1.42h-12.13zM516.86 508.68h12.13v1.42h-12.13zM516.86 514.03h12.13v1.42h-12.13zM516.86 519.39h12.13v1.42h-12.13zM516.86 534.38h12.13v1.42h-12.13zM516.86 538.66h12.13v1.42h-12.13zM528.64 433.73h12.13v1.42h-12.13zM528.64 463.71h12.13v1.42h-12.13zM528.64 472.27h12.13v3.56h-12.13zM528.64 524.74h12.13v1.42h-12.13zM540.42 474.42h12.13v1.42h-12.13zM540.42 492.62h12.13v1.42h-12.13zM540.42 504.4h12.13v1.42h-12.13zM540.42 506.54h12.13v1.42h-12.13zM563.98 394.11h12.13v1.42h-12.13zM575.76 412.31h12.13v1.42h-12.13zM575.76 417.67h12.13v1.42h-12.13zM587.54 408.03h12.13v1.42h-12.13zM587.54 426.23h12.13v1.42h-12.13zM587.54 429.45h12.13v1.42h-12.13zM599.32 412.31h12.13v1.42h-12.13z"/>
<path fill="#ea7152" d="M516.86 469.06h12.13v1.42h-12.13zM587.54 414.46h12.13v1.42h-12.13zM599.32 396.25h12.13v1.42h-12.13z"/>
<path fill="#5d47a6" d="M540.42 399.47h12.13v1.42h-12.13zM540.42 401.61h12.13v1.42h-12.13zM540.42 404.82h12.13v1.42h-12.13zM622.88 393.04h11.78v1.42h-11.78z"/>
<path d="M522.75 390.9V380.5M534.53 390.9V380.5M522.75 380.5H534.53M510.97 390.9V380.2M528.64 380.5V380.2M510.97 380.2H528.64M519.81 380.2V378.6M546.31 390.9V378.6M519.81 378.6H546.31M499.19 390.9V375.9M533.06 378.6V375.9M499.19 375.9H533.06M581.65 390.9V383.4M593.43 390.9V383.4M581.65 383.4H593.43M569.87 390.9V382.5M587.54 383.4V382.5M569.87 382.5H587.54M605.21 390.9V384.5M616.99 390.9V384.5M605.21 384.5H616.99M611.1 384.5V384.2M628.77 390.9V384.2M611.1 384.2H628.77M578.7 382.5V381.4M619.93 384.2V381.4M578.7 381.4H619.93M558.09 390.9V376.4M599.32 381.4V376.4M558.09 376.4H599.32M516.3 375.9V368.9M578.7 376.4V368.9M516.3 368.9H578.7" stroke="#5a5a5a" stroke-width="0.75" fill="none"/>
<path d="M493 391.23H486.87V391.57H493M493 391.9H489.98V392.24H493M493 393.24H491.19V393.57H493M493 392.9H489.66V393.4H491.19M493 392.57H487.77V393.15H489.66M489.98 392.07H486.4V392.86H487.77M493 394.24H488.79V394.57H493M493 393.9H486.12V394.41H488.79M486.4 392.46H484.17V394.16H486.12M486.87 391.4H481.77V393.31H484.17M493 390.9H480.69V392.36H481.77M493 394.91H490.24V395.24H493M493 395.91H491.43V396.24H493M493 396.58H490.26V396.91H493M491.43 396.07H489.19V396.74H490.26M493 395.57H487.95V396.41H489.19M490.24 395.07H487.5V395.99H487.95M493 397.24H489.15V397.58H493M493 398.24H489.37V398.58H493M493 397.91H487.64V398.41H489.37M489.15 397.41H486.77V398.16H487.64M493 399.25H490.44V399.58H493M493 399.91H490V400.25H493M490.44 399.41H487.61V400.08H490M493 398.91H486.6V399.75H487.61M486.77 397.79H485.05V399.33H486.6M487.5 395.53H484.45V398.56H485.05M493 401.25H490.16V401.58H493M493 400.92H489.11V401.42H490.16M493 401.92H490V402.25H493M493 402.92H489.84V403.25H493M493 402.58H488.55V403.09H489.84M490 402.08H487.4V402.84H488.55M489.11 401.17H487.08V402.46H487.4M493 403.59H490.01V403.92H493M493 404.59H491.55V404.92H493M493 404.25H488.53V404.75H491.55M490.01 403.75H487.55V404.5H488.53M493 405.26H488.62V405.59H493M493 406.26H490.6V406.59H493M493 405.92H488.47V406.42H490.6M488.62 405.42H486.75V406.17H488.47M487.55 404.13H486.37V405.8H486.75M487.08 401.81H483.85V404.96H486.37M493 407.26H488.64V407.59H493M493 406.92H486.4V407.43H488.64M493 408.26H490.25V408.59H493M493 407.93H489.56V408.43H490.25M493 408.93H488.68V409.26H493M489.56 408.18H487V409.09H488.68M493 409.6H488.49V409.93H493M493 410.26H487.22V410.6H493M488.49 409.76H486.25V410.43H487.22M487 408.64H484.78V410.1H486.25M486.4 407.18H483.56V409.37H484.78M483.85 403.39H482.3V408.27H483.56M493 400.58H481.03V405.83H482.3M484.45 397.04H480.25V403.21H481.03M493 411.6H489.42V411.93H493M493 411.27H488.63V411.77H489.42M493 410.93H485.74V411.52H488.63M493 412.6H490.57V412.93H493M493 412.27H487.9V412.77H490.57M493 413.27H489.57V413.6H493M493 414.27H489.66V414.6H493M493 415.27H490.23V415.61H493M493 414.94H489.46V415.44H490.23M489.66 414.44H488.49V415.19H489.46M493 413.94H488.09V414.81H488.49M489.57 413.44H486.73V414.37H488.09M487.9 412.52H485.26V413.9H486.73M485.74 411.22H483.85V413.21H485.26M493 415.94H489.64V416.27H493M493 416.61H488.92V416.94H493M489.64 416.11H487.6V416.77H488.92M493 417.61H490.04V417.94H493M493 417.27H487.49V417.78H490.04M493 418.28H488.18V418.61H493M493 419.28H490.16V419.61H493M493 418.94H488.06V419.44H490.16M488.18 418.44H487.15V419.19H488.06M487.49 417.52H485.43V418.82H487.15M487.6 416.44H483.3V418.17H485.43M483.85 412.22H482.72V417.31H483.3M493 420.28H487.86V420.61H493M493 419.95H486.3V420.45H487.86M493 421.28H489.55V421.61H493M493 420.95H488.24V421.45H489.55M493 422.62H490.02V422.95H493M493 422.28H488.68V422.78H490.02M493 421.95H488.34V422.53H488.68M493 423.62H488.8V423.95H493M493 423.28H487.5V423.78H488.8M488.34 422.24H485.73V423.53H487.5M488.24 421.2H484.71V422.89H485.73M486.3 420.2H483.65V422.04H484.71M493 424.62H489.61V424.95H493M493 425.29H489.43V425.62H493M489.61 424.79H488.29V425.45H489.43M493 425.95H487.88V426.29H493M488.29 425.12H486.83V426.12H487.88M493 424.29H485.27V425.62H486.83M493 426.62H488.93V426.96H493M493 427.29H487.73V427.62H493M488.93 426.79H487.18V427.46H487.73M493 427.96H490.32V428.29H493M493 428.63H489.62V428.96H493M490.32 428.12H486.46V428.79H489.62M487.18 427.12H484.19V428.46H486.46M485.27 424.95H483.31V427.79H484.19M483.65 421.12H481.05V426.37H483.31M482.72 414.76H478.49V423.75H481.05M480.25 400.13H477.57V419.25H478.49M480.69 391.63H476.03V409.69H477.57M493 429.29H483.74V429.63H493M493 429.96H489.13V430.29H493M493 430.96H490.92V431.3H493M493 430.63H489.89V431.13H490.92M493 431.63H491.62V431.96H493M493 432.3H489.71V432.63H493M491.62 431.8H488.61V432.46H489.71M489.89 430.88H488.12V432.13H488.61M489.13 430.13H486.25V431.5H488.12M493 432.97H489.25V433.3H493M493 433.97H489.72V434.3H493M493 434.63H489.92V434.97H493M493 435.3H489.83V435.64H493M489.92 434.8H488.64V435.47H489.83M489.72 434.13H486.31V435.14H488.64M493 433.63H485.93V434.63H486.31M489.25 433.13H484.03V434.13H485.93M486.25 430.82H483.81V433.63H484.03M493 435.97H488.68V436.3H493M493 436.64H489.14V436.97H493M493 437.64H489.18V437.97H493M493 437.31H488.47V437.81H489.18M489.14 436.8H487.22V437.56H488.47M488.68 436.14H485.31V437.18H487.22M493 438.31H489.82V438.64H493M493 439.64H491.47V439.98H493M493 439.31H490.64V439.81H491.47M493 438.97H488.65V439.56H490.64M489.82 438.47H487.69V439.27H488.65M493 440.98H491.7V441.31H493M493 440.64H490.64V441.14H491.7M493 441.65H488.71V441.98H493M490.64 440.89H488.55V441.81H488.71M493 440.31H486.11V441.35H488.55M487.69 438.87H484.98V440.83H486.11M485.31 436.66H482.55V439.85H484.98M483.81 432.22H481.33V438.25H482.55M483.74 429.46H479.84V435.24H481.33M493 442.65H488.54V442.98H493M493 442.31H487.71V442.81H488.54M493 443.31H489.63V443.65H493M493 443.98H490.99V444.32H493M493 444.98H491V445.32H493M493 444.65H489.37V445.15H491M490.99 444.15H488.74V444.9H489.37M489.63 443.48H488.03V444.53H488.74M493 445.99H489.72V446.32H493M493 445.65H489.03V446.15H489.72M493 446.65H489.02V446.99H493M489.03 445.9H487.99V446.82H489.02M488.03 444H486.67V446.36H487.99M493 447.32H487.89V447.66H493M493 448.32H489.87V448.66H493M493 447.99H487.32V448.49H489.87M487.89 447.49H485.4V448.24H487.32M486.67 445.18H484.55V447.86H485.4M487.71 442.56H483.32V446.52H484.55M493 448.99H489.27V449.32H493M493 450.33H490.84V450.66H493M493 449.99H489.85V450.49H490.84M493 449.66H488.97V450.24H489.85M489.27 449.16H487.59V449.95H488.97M493 451.33H490.74V451.66H493M493 450.99H489.56V451.49H490.74M493 452H490.17V452.33H493M493 452.66H489.64V453H493M490.17 452.16H488.45V452.83H489.64M489.56 451.24H487.75V452.5H488.45M493 453.66H490.4V454H493M493 453.33H488.6V453.83H490.4M493 454.33H490.45V454.67H493M493 455.67H491.25V456H493M493 455.33H490.07V455.83H491.25M493 455H489.57V455.58H490.07M490.45 454.5H488.43V455.29H489.57M488.6 453.58H487.6V454.9H488.43M487.75 451.87H486.36V454.24H487.6M487.59 449.55H485.47V453.05H486.36M493 456.34H490.3V456.67H493M493 457.34H490.59V457.67H493M493 457H489.55V457.5H490.59M490.3 456.5H488.84V457.25H489.55M493 458.34H490.46V458.67H493M493 458H489.01V458.51H490.46M493 459.34H491.66V459.67H493M493 460.01H490.87V460.34H493M491.66 459.51H490V460.17H490.87M493 459.01H489.84V459.84H490M493 460.68H489.04V461.01H493M489.84 459.42H488.36V460.84H489.04M489.01 458.25H487.5V460.13H488.36M488.84 456.88H487.06V459.19H487.5M493 461.34H490.21V461.68H493M493 462.34H490.88V462.68H493M493 462.01H488.88V462.51H490.88M490.21 461.51H488.3V462.26H488.88M493 463.01H489.9V463.35H493M493 464.01H491.59V464.35H493M493 463.68H490.28V464.18H491.59M493 465.02H490.41V465.35H493M493 464.68H489.93V465.18H490.41M490.28 463.93H489.05V464.93H489.93M489.9 463.18H487.66V464.43H489.05M488.3 461.89H486.76V463.81H487.66M487.06 458.04H485.01V462.85H486.76M485.47 451.3H483.08V460.44H485.01M493 466.02H489.27V466.35H493M493 465.68H487.83V466.18H489.27M493 466.68H490.4V467.02H493M493 467.69H490.09V468.02H493M493 467.35H487.86V467.85H490.09M490.4 466.85H487.3V467.6H487.86M487.83 465.93H484.79V467.23H487.3M493 468.35H489.38V468.69H493M493 469.02H488.98V469.36H493M489.38 468.52H488.2V469.19H488.98M493 469.69H489.79V470.02H493M493 470.36H489.2V470.69H493M489.79 469.86H487.74V470.52H489.2M488.2 468.85H485.41V470.19H487.74M493 472.36H492.1V472.69H493M493 472.03H490.19V472.53H492.1M493 471.69H489.74V472.28H490.19M493 471.36H486.96V471.98H489.74M493 471.02H484.99V471.67H486.96M485.41 469.52H483.94V471.35H484.99M484.79 466.58H481.56V470.44H483.94M483.08 455.87H480.43V468.51H481.56M483.32 444.54H479.8V462.19H480.43M479.84 432.35H477.56V453.37H479.8M493 473.03H486.59V473.36H493M493 473.7H487.45V474.03H493M493 474.36H489.3V474.7H493M493 475.7H490.48V476.03H493M493 475.36H490.27V475.87H490.48M493 475.03H488.44V475.62H490.27M489.3 474.53H485.97V475.32H488.44M493 476.37H488.77V476.7H493M493 477.37H489.65V477.7H493M493 477.03H488.24V477.53H489.65M493 478.37H489.72V478.7H493M493 478.04H488.09V478.54H489.72M488.24 477.28H486.75V478.29H488.09M488.77 476.53H485.22V477.79H486.75M485.97 474.93H484.35V477.16H485.22M487.45 473.86H482.52V476.04H484.35M486.59 473.19H481.64V474.95H482.52M493 479.04H488.78V479.37H493M493 479.7H488.97V480.04H493M493 480.37H489.86V480.71H493M493 481.71H490.53V482.04H493M493 481.37H489.53V481.87H490.53M493 481.04H488.44V481.62H489.53M489.86 480.54H488.09V481.33H488.44M488.97 479.87H486.54V480.94H488.09M488.78 479.2H486.17V480.4H486.54M493 482.38H487.7V482.71H493M493 483.04H488.08V483.38H493M493 483.71H486.83V484.04H493M488.08 483.21H485.09V483.88H486.83M487.7 482.54H484.04V483.54H485.09M486.17 479.8H483.74V483.04H484.04M493 485.05H488.81V485.38H493M493 485.71H487.83V486.05H493M488.81 485.21H487.01V485.88H487.83M493 484.71H485.29V485.55H487.01M493 484.38H483.58V485.13H485.29M483.74 481.42H481.21V484.75H483.58M481.64 474.07H478.6V483.09H481.21M493 486.38H488.39V486.72H493M493 487.05H490.19V487.38H493M493 487.72H489.9V488.05H493M493 488.39H491.26V488.72H493M493 489.39H490.55V489.72H493M493 489.05H489.18V489.55H490.55M491.26 488.55H488.23V489.3H489.18M489.9 487.88H487.43V488.93H488.23M490.19 487.22H487.1V488.41H487.43M488.39 486.55H486.14V487.81H487.1M493 490.05H487.69V490.39H493M493 491.06H490.36V491.39H493M493 490.72H487.45V491.22H490.36M487.69 490.22H485.83V490.97H487.45M486.14 487.18H483.58V490.6H485.83M493 492.39H490.9V492.73H493M493 492.06H489.33V492.56H490.9M493 491.72H487.23V492.31H489.33M493 493.39H489.51V493.73H493M493 493.06H486.36V493.56H489.51M487.23 492.02H485.84V493.31H486.36M493 494.06H490.53V494.39H493M493 494.73H490.45V495.06H493M493 495.73H490.27V496.06H493M493 495.4H490.14V495.9H490.27M490.45 494.9H489.06V495.65H490.14M490.53 494.23H488.38V495.27H489.06M493 497.07H490.65V497.4H493M493 496.73H489.45V497.23H490.65M493 496.4H488.89V496.98H489.45M493 497.73H490.11V498.07H493M493 498.73H491.38V499.07H493M493 498.4H489.42V498.9H491.38M490.11 497.9H488.77V498.65H489.42M488.89 496.69H487.37V498.28H488.77M488.38 494.75H486.59V497.48H487.37M493 499.4H489.66V499.74H493M493 500.07H488.95V500.4H493M489.66 499.57H487.94V500.24H488.95M493 500.74H489.36V501.07H493M493 501.41H490.1V501.74H493M493 502.07H490.01V502.41H493M490.1 501.57H488.34V502.24H490.01M489.36 500.9H487.75V501.91H488.34M487.94 499.9H486.82V501.41H487.75M493 503.07H489.21V503.41H493M493 502.74H488.95V503.24H489.21M493 503.74H489.51V504.08H493M493 504.41H490.99V504.74H493M493 505.08H490.23V505.41H493M490.99 504.58H489.3V505.24H490.23M489.51 503.91H487.13V504.91H489.3M488.95 502.99H486.29V504.41H487.13M486.82 500.65H484.49V503.7H486.29M486.59 496.12H484.01V502.18H484.49M485.84 492.66H482.75V499.15H484.01M483.58 488.89H480.92V495.9H482.75M493 505.75H487.73V506.08H493M493 506.41H486.16V506.75H493M487.73 505.91H484.13V506.58H486.16M493 507.41H489.88V507.75H493M493 507.08H489.39V507.58H489.88M493 508.08H489.84V508.42H493M493 509.08H489.88V509.42H493M493 508.75H489.54V509.25H489.88M489.84 508.25H488.28V509H489.54M489.39 507.33H487.42V508.62H488.28M493 510.09H489.92V510.42H493M493 509.75H488.81V510.25H489.92M493 511.09H489.39V511.42H493M493 510.75H487.99V511.25H489.39M488.81 510H486.24V511H487.99M487.42 507.98H485.87V510.5H486.24M493 512.42H489.95V512.76H493M493 512.09H489.09V512.59H489.95M493 513.42H489.32V513.76H493M493 513.09H488.37V513.59H489.32M489.09 512.34H487.61V513.34H488.37M493 511.75H485.73V512.84H487.61M485.87 509.24H483.59V512.3H485.73M484.13 506.25H482.11V510.77H483.59M493 514.43H488.77V514.76H493M493 514.09H485.3V514.59H488.77M493 515.43H489.35V515.76H493M493 515.09H489.05V515.59H489.35M493 516.09H489.54V516.43H493M493 517.1H490.27V517.43H493M493 516.76H489.36V517.26H490.27M489.54 516.26H487.67V517.01H489.36M489.05 515.34H487.06V516.64H487.67M493 518.1H489.86V518.43H493M493 519.1H490.21V519.43H493M493 518.77H488.84V519.27H490.21M489.86 518.26H487.79V519.02H488.84M493 517.76H486.96V518.64H487.79M487.06 515.99H484.21V518.2H486.96M485.3 514.34H482.3V517.1H484.21M493 519.77H490.54V520.1H493M493 520.77H491V521.1H493M493 520.43H489.91V520.94H491M490.54 519.93H488.81V520.69H489.91M493 522.1H490.11V522.44H493M493 521.77H489.25V522.27H490.11M493 521.44H488.2V522.02H489.25M488.81 520.31H486.66V521.73H488.2M493 523.11H491.06V523.44H493M493 522.77H489.07V523.27H491.06M493 523.77H487.95V524.11H493M489.07 523.02H486.3V523.94H487.95M486.66 521.02H485.15V523.48H486.3M493 524.78H490.58V525.11H493M493 524.44H489.27V524.94H490.58M493 525.44H489.12V525.78H493M489.27 524.69H487.09V525.61H489.12M493 526.44H489.99V526.78H493M493 526.11H488.85V526.61H489.99M493 527.45H491.34V527.78H493M493 528.45H491.36V528.78H493M493 528.11H489.47V528.61H491.36M491.34 527.61H488.65V528.36H489.47M493 527.11H488.18V527.99H488.65M488.85 526.36H486.69V527.55H488.18M487.09 525.15H485.11V526.96H486.69M493 529.78H491.44V530.12H493M493 529.45H491.1V529.95H491.44M493 529.12H490.12V529.7H491.1M493 530.45H489.67V530.78H493M490.12 529.41H487.99V530.62H489.67M493 531.45H490.82V531.79H493M493 531.12H490.25V531.62H490.82M493 532.12H490.5V532.45H493M493 533.46H491.54V533.79H493M493 533.12H490.67V533.62H491.54M493 532.79H489.92V533.37H490.67M490.5 532.29H489.39V533.08H489.92M490.25 531.37H487.7V532.68H489.39M487.99 530.01H486.82V532.03H487.7M493 534.12H490.1V534.46H493M493 534.79H490.35V535.12H493M493 535.46H490.08V535.79H493M490.35 534.96H489.66V535.63H490.08M490.1 534.29H488.69V535.29H489.66M493 536.46H491.12V536.79H493M493 536.13H490.19V536.63H491.12M493 537.13H489.97V537.46H493M490.19 536.38H489.58V537.29H489.97M493 538.13H491.23V538.46H493M493 537.8H490.13V538.3H491.23M493 539.13H491.55V539.46H493M493 538.8H489.97V539.3H491.55M493 539.8H490.6V540.13H493M493 540.47H490.5V540.8H493M490.6 539.97H489.34V540.63H490.5M489.97 539.05H488.32V540.3H489.34M490.13 538.05H488.26V539.67H488.32M489.58 536.84H488.06V538.86H488.26M488.69 534.79H486.61V537.85H488.06M486.82 531.02H484.92V536.32H486.61M485.11 526.05H483.55V533.67H484.92M485.15 522.25H482.18V529.86H483.55M482.3 515.72H480.36V526.06H482.18M482.11 508.51H478.92V520.89H480.36M480.92 492.4H477.78V514.7H478.92M478.6 478.58H476.43V503.55H477.78M477.56 442.86H475.38V491.06H476.43M476.03 400.66H471V466.96H475.38" stroke="#000" stroke-width="0.55" fill="none"/>
<rect x="487.80" y="391.20" width="5.50" height="149.30" fill="#000"/>
<defs><linearGradient id="dg3" x1="1" y1="0" x2="0" y2="0"><stop offset="0" stop-color="#000" stop-opacity="0.85"/><stop offset="1" stop-color="#000" stop-opacity="0"/></linearGradient></defs>
<rect x="481.80" y="392.40" width="6.00" height="146.90" fill="url(#dg3)"/>
<defs><linearGradient id="lg3" x1="0" y1="0" x2="0" y2="1"><stop offset="0" stop-color="#E81E1E"/><stop offset="0.33" stop-color="#EE8A70"/><stop offset="0.55" stop-color="#F8F2F2"/><stop offset="0.75" stop-color="#9E94CC"/><stop offset="1" stop-color="#3A4AAE"/></linearGradient></defs>
<rect x="644.5" y="454.2" width="4.6" height="23.5" fill="url(#lg3)"/>
<text x="649.90" y="456.70" font-family="Liberation Sans" font-size="6.4" text-anchor="start" fill="#111" >4</text>
<text x="649.90" y="463.60" font-family="Liberation Sans" font-size="6.4" text-anchor="start" fill="#111" >2</text>
<text x="649.90" y="470.50" font-family="Liberation Sans" font-size="6.4" text-anchor="start" fill="#111" >0</text>
<text x="649.90" y="477.40" font-family="Liberation Sans" font-size="6.4" text-anchor="start" fill="#111" >&#8722;2</text>
<text x="0" y="0" font-family="Liberation Sans" font-size="7.0" text-anchor="end" fill="#1a1a1a" transform="translate(501.39,543.10) rotate(-90)">T24&#8722;4</text>
<text x="0" y="0" font-family="Liberation Sans" font-size="7.0" text-anchor="end" fill="#1a1a1a" transform="translate(513.17,543.10) rotate(-90)">T24&#8722;1</text>
<text x="0" y="0" font-family="Liberation Sans" font-size="7.0" text-anchor="end" fill="#1a1a1a" transform="translate(524.95,543.10) rotate(-90)">T24&#8722;2</text>
<text x="0" y="0" font-family="Liberation Sans" font-size="7.0" text-anchor="end" fill="#1a1a1a" transform="translate(536.73,543.10) rotate(-90)">T24&#8722;3</text>
<text x="0" y="0" font-family="Liberation Sans" font-size="7.0" text-anchor="end" fill="#1a1a1a" transform="translate(548.51,543.10) rotate(-90)">T24&#8722;5</text>
<text x="0" y="0" font-family="Liberation Sans" font-size="7.0" text-anchor="end" fill="#1a1a1a" transform="translate(560.29,543.10) rotate(-90)">T24&#8722;6</text>
<text x="0" y="0" font-family="Liberation Sans" font-size="7.0" text-anchor="end" fill="#1a1a1a" transform="translate(572.07,543.10) rotate(-90)">T3&#8722;5</text>
<text x="0" y="0" font-family="Liberation Sans" font-size="7.0" text-anchor="end" fill="#1a1a1a" transform="translate(583.85,543.10) rotate(-90)">T3&#8722;2</text>
<text x="0" y="0" font-family="Liberation Sans" font-size="7.0" text-anchor="end" fill="#1a1a1a" transform="translate(595.63,543.10) rotate(-90)">T3&#8722;6</text>
<text x="0" y="0" font-family="Liberation Sans" font-size="7.0" text-anchor="end" fill="#1a1a1a" transform="translate(607.41,543.10) rotate(-90)">T3&#8722;3</text>
<text x="0" y="0" font-family="Liberation Sans" font-size="7.0" text-anchor="end" fill="#1a1a1a" transform="translate(619.19,543.10) rotate(-90)">T3&#8722;1</text>
<text x="0" y="0" font-family="Liberation Sans" font-size="7.0" text-anchor="end" fill="#1a1a1a" transform="translate(630.97,543.10) rotate(-90)">T3&#8722;4</text>
<text x="446.30" y="559.80" font-family="Liberation Sans" font-size="8.8" text-anchor="start" fill="#1A1A1A" >T24 vs T3</text>
<rect x="18" y="1.5" width="311.3" height="187.7" fill="none" stroke="#333" stroke-width="1.1"/>
<rect x="371.4" y="1.5" width="311.1" height="187.7" fill="none" stroke="#333" stroke-width="1.1"/>
<rect x="18" y="194" width="664.5" height="158.4" fill="none" stroke="#333" stroke-width="1.1"/>
<rect x="18" y="357.4" width="664.5" height="208.7" fill="none" stroke="#333" stroke-width="1.1"/>
<text x="0.80" y="17.00" font-family="Liberation Sans" font-size="14.6" text-anchor="start" fill="#000" >A</text>
<text x="353.20" y="17.00" font-family="Liberation Sans" font-size="14.6" text-anchor="start" fill="#000" >B</text>
<text x="1.00" y="207.80" font-family="Liberation Sans" font-size="14.6" text-anchor="start" fill="#000" >C</text>
<text x="1.10" y="370.90" font-family="Liberation Sans" font-size="14.6" text-anchor="start" fill="#000" >D</text>
</svg></body></html>
